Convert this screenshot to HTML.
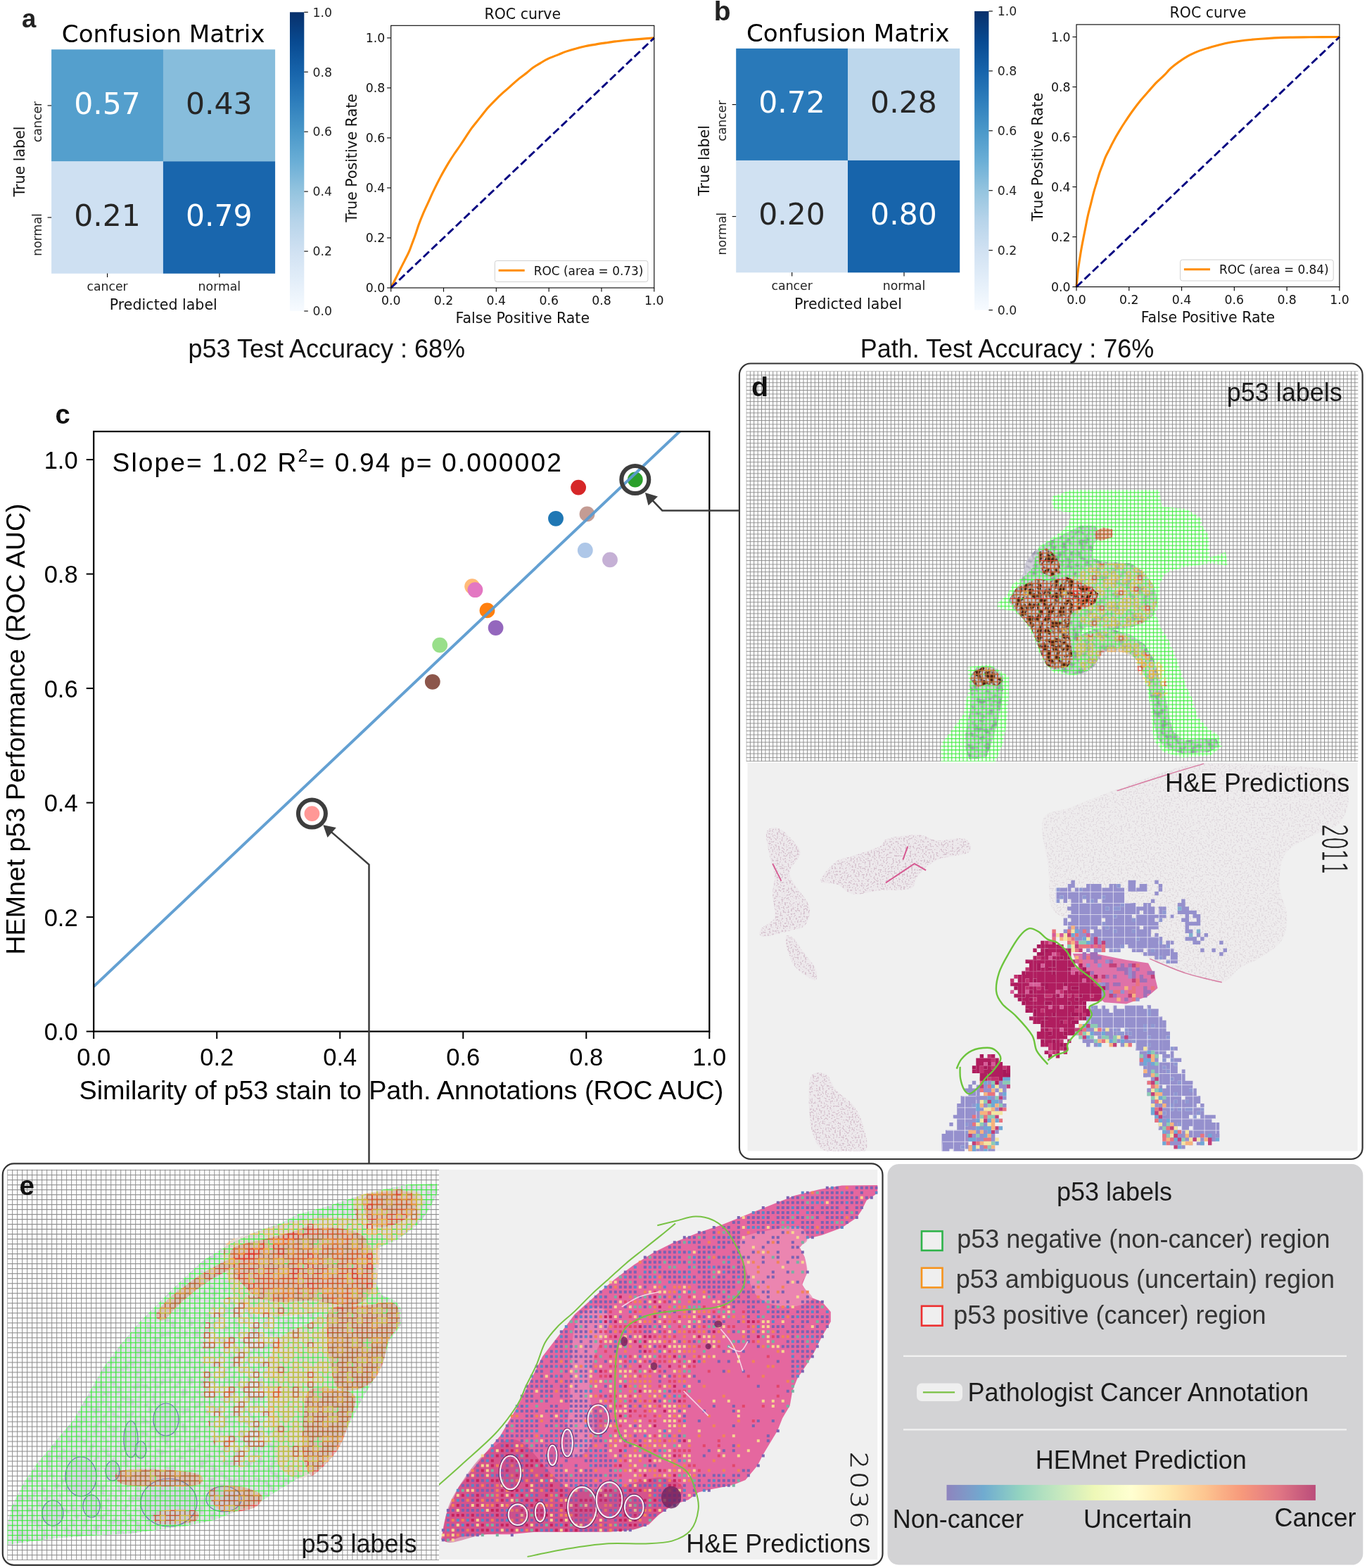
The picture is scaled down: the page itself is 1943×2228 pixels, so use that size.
<!DOCTYPE html>
<html><head><meta charset="utf-8"><title>HEMnet figure</title>
<style>html,body{margin:0;padding:0;background:#fff;}svg{display:block;}</style></head>
<body>
<svg width="1943" height="2228" viewBox="0 0 1943 2228"><defs><linearGradient id="blues" x1="0" y1="1" x2="0" y2="0"><stop offset="0.0" stop-color="#f7fbff"/><stop offset="0.1" stop-color="#e3eef9"/><stop offset="0.2" stop-color="#d0e1f2"/><stop offset="0.3" stop-color="#b7d4ea"/><stop offset="0.4" stop-color="#94c4df"/><stop offset="0.5" stop-color="#6aaed6"/><stop offset="0.6" stop-color="#4a98c9"/><stop offset="0.7" stop-color="#2e7ebc"/><stop offset="0.8" stop-color="#1764ab"/><stop offset="0.9" stop-color="#084a91"/><stop offset="1.0" stop-color="#08306b"/></linearGradient></defs><rect width="1943" height="2228" fill="#fff"/><g transform="translate(0 0)"><rect x="73.1" y="70.3" width="159.10" height="159.30" fill="#549fcd"/><rect x="231.9" y="70.3" width="159.20" height="159.30" fill="#87bddc"/><rect x="73.1" y="229.3" width="159.10" height="159.40" fill="#cee0f2"/><rect x="231.9" y="229.3" width="159.20" height="159.40" fill="#1966ad"/><text x="152.50" y="161.80" text-anchor="middle" fill="#fff" style="font-family:&quot;DejaVu Sans&quot;,sans-serif;font-size:42.5px">0.57</text><text x="311.35" y="161.80" text-anchor="middle" fill="#262626" style="font-family:&quot;DejaVu Sans&quot;,sans-serif;font-size:42.5px">0.43</text><text x="152.50" y="320.90" text-anchor="middle" fill="#262626" style="font-family:&quot;DejaVu Sans&quot;,sans-serif;font-size:42.5px">0.21</text><text x="311.35" y="320.90" text-anchor="middle" fill="#fff" style="font-family:&quot;DejaVu Sans&quot;,sans-serif;font-size:42.5px">0.79</text><g stroke="#000" stroke-width="1.1"><line x1="67.6" y1="150.0" x2="73.1" y2="150.0"/><line x1="67.6" y1="309.0" x2="73.1" y2="309.0"/><line x1="152.6" y1="388.4" x2="152.6" y2="394.0"/><line x1="311.9" y1="388.4" x2="311.9" y2="394.0"/></g><text x="232.10" y="60.00" text-anchor="middle" fill="#000" style="font-family:&quot;DejaVu Sans&quot;,sans-serif;font-size:34.2px">Confusion Matrix</text><text x="152.60" y="413.00" text-anchor="middle" fill="#222" style="font-family:&quot;DejaVu Sans&quot;,sans-serif;font-size:17.3px">cancer</text><text x="311.90" y="413.00" text-anchor="middle" fill="#222" style="font-family:&quot;DejaVu Sans&quot;,sans-serif;font-size:17.3px">normal</text><text x="59.00" y="173.00" text-anchor="middle" fill="#222" style="font-family:&quot;DejaVu Sans&quot;,sans-serif;font-size:17.3px" transform="rotate(-90 59.0 173.0)">cancer</text><text x="59.00" y="333.50" text-anchor="middle" fill="#222" style="font-family:&quot;DejaVu Sans&quot;,sans-serif;font-size:17.3px" transform="rotate(-90 59.0 333.5)">normal</text><text x="232.30" y="440.00" text-anchor="middle" fill="#111" style="font-family:&quot;DejaVu Sans&quot;,sans-serif;font-size:20.6px">Predicted label</text><text x="34.80" y="229.50" text-anchor="middle" fill="#111" style="font-family:&quot;DejaVu Sans&quot;,sans-serif;font-size:20.6px" transform="rotate(-90 34.8 229.5)">True label</text><rect x="412" y="17.3" width="20.3" height="424.7" fill="url(#blues)"/><g stroke="#000" stroke-width="1.1"><line x1="432.3" y1="442.00" x2="437.8" y2="442.00"/><line x1="432.3" y1="357.06" x2="437.8" y2="357.06"/><line x1="432.3" y1="272.12" x2="437.8" y2="272.12"/><line x1="432.3" y1="187.18" x2="437.8" y2="187.18"/><line x1="432.3" y1="102.24" x2="437.8" y2="102.24"/><line x1="432.3" y1="17.30" x2="437.8" y2="17.30"/></g><text x="444.60" y="448.30" text-anchor="start" fill="#222" style="font-family:&quot;DejaVu Sans&quot;,sans-serif;font-size:17.3px">0.0</text><text x="444.60" y="363.36" text-anchor="start" fill="#222" style="font-family:&quot;DejaVu Sans&quot;,sans-serif;font-size:17.3px">0.2</text><text x="444.60" y="278.42" text-anchor="start" fill="#222" style="font-family:&quot;DejaVu Sans&quot;,sans-serif;font-size:17.3px">0.4</text><text x="444.60" y="193.48" text-anchor="start" fill="#222" style="font-family:&quot;DejaVu Sans&quot;,sans-serif;font-size:17.3px">0.6</text><text x="444.60" y="108.54" text-anchor="start" fill="#222" style="font-family:&quot;DejaVu Sans&quot;,sans-serif;font-size:17.3px">0.8</text><text x="444.60" y="23.60" text-anchor="start" fill="#222" style="font-family:&quot;DejaVu Sans&quot;,sans-serif;font-size:17.3px">1.0</text></g><g transform="translate(973.1 -1.4)"><rect x="73.1" y="70.3" width="159.10" height="159.30" fill="#2979b9"/><rect x="231.9" y="70.3" width="159.20" height="159.30" fill="#bdd7ec"/><rect x="73.1" y="229.3" width="159.10" height="159.40" fill="#d0e1f2"/><rect x="231.9" y="229.3" width="159.20" height="159.40" fill="#1764ab"/><text x="152.50" y="161.80" text-anchor="middle" fill="#fff" style="font-family:&quot;DejaVu Sans&quot;,sans-serif;font-size:42.5px">0.72</text><text x="311.35" y="161.80" text-anchor="middle" fill="#262626" style="font-family:&quot;DejaVu Sans&quot;,sans-serif;font-size:42.5px">0.28</text><text x="152.50" y="320.90" text-anchor="middle" fill="#262626" style="font-family:&quot;DejaVu Sans&quot;,sans-serif;font-size:42.5px">0.20</text><text x="311.35" y="320.90" text-anchor="middle" fill="#fff" style="font-family:&quot;DejaVu Sans&quot;,sans-serif;font-size:42.5px">0.80</text><g stroke="#000" stroke-width="1.1"><line x1="67.6" y1="150.0" x2="73.1" y2="150.0"/><line x1="67.6" y1="309.0" x2="73.1" y2="309.0"/><line x1="152.6" y1="388.4" x2="152.6" y2="394.0"/><line x1="311.9" y1="388.4" x2="311.9" y2="394.0"/></g><text x="232.10" y="60.00" text-anchor="middle" fill="#000" style="font-family:&quot;DejaVu Sans&quot;,sans-serif;font-size:34.2px">Confusion Matrix</text><text x="152.60" y="413.00" text-anchor="middle" fill="#222" style="font-family:&quot;DejaVu Sans&quot;,sans-serif;font-size:17.3px">cancer</text><text x="311.90" y="413.00" text-anchor="middle" fill="#222" style="font-family:&quot;DejaVu Sans&quot;,sans-serif;font-size:17.3px">normal</text><text x="59.00" y="173.00" text-anchor="middle" fill="#222" style="font-family:&quot;DejaVu Sans&quot;,sans-serif;font-size:17.3px" transform="rotate(-90 59.0 173.0)">cancer</text><text x="59.00" y="333.50" text-anchor="middle" fill="#222" style="font-family:&quot;DejaVu Sans&quot;,sans-serif;font-size:17.3px" transform="rotate(-90 59.0 333.5)">normal</text><text x="232.30" y="440.00" text-anchor="middle" fill="#111" style="font-family:&quot;DejaVu Sans&quot;,sans-serif;font-size:20.6px">Predicted label</text><text x="34.80" y="229.50" text-anchor="middle" fill="#111" style="font-family:&quot;DejaVu Sans&quot;,sans-serif;font-size:20.6px" transform="rotate(-90 34.8 229.5)">True label</text><rect x="412" y="17.3" width="20.3" height="424.7" fill="url(#blues)"/><g stroke="#000" stroke-width="1.1"><line x1="432.3" y1="442.00" x2="437.8" y2="442.00"/><line x1="432.3" y1="357.06" x2="437.8" y2="357.06"/><line x1="432.3" y1="272.12" x2="437.8" y2="272.12"/><line x1="432.3" y1="187.18" x2="437.8" y2="187.18"/><line x1="432.3" y1="102.24" x2="437.8" y2="102.24"/><line x1="432.3" y1="17.30" x2="437.8" y2="17.30"/></g><text x="444.60" y="448.30" text-anchor="start" fill="#222" style="font-family:&quot;DejaVu Sans&quot;,sans-serif;font-size:17.3px">0.0</text><text x="444.60" y="363.36" text-anchor="start" fill="#222" style="font-family:&quot;DejaVu Sans&quot;,sans-serif;font-size:17.3px">0.2</text><text x="444.60" y="278.42" text-anchor="start" fill="#222" style="font-family:&quot;DejaVu Sans&quot;,sans-serif;font-size:17.3px">0.4</text><text x="444.60" y="193.48" text-anchor="start" fill="#222" style="font-family:&quot;DejaVu Sans&quot;,sans-serif;font-size:17.3px">0.6</text><text x="444.60" y="108.54" text-anchor="start" fill="#222" style="font-family:&quot;DejaVu Sans&quot;,sans-serif;font-size:17.3px">0.8</text><text x="444.60" y="23.60" text-anchor="start" fill="#222" style="font-family:&quot;DejaVu Sans&quot;,sans-serif;font-size:17.3px">1.0</text></g><path d="M555.7,409.0 C556.8,406.9 560.1,400.2 562.1,396.2 C564.1,392.2 565.6,389.2 567.7,385.0 C569.8,380.8 572.3,375.7 574.7,371.1 C577.0,366.4 579.8,361.3 581.6,357.1 C583.5,352.9 584.4,349.7 585.8,346.0 C587.2,342.2 588.4,339.4 590.0,334.8 C591.6,330.2 593.7,323.2 595.6,318.1 C597.5,312.9 599.1,309.0 601.2,304.1 C603.3,299.2 605.8,293.9 608.1,288.8 C610.5,283.7 612.1,279.7 615.1,273.4 C618.1,267.2 622.6,258.1 626.3,251.1 C630.0,244.1 634.2,237.0 637.4,231.6 C640.7,226.2 643.0,222.7 645.8,218.5 C648.6,214.3 651.4,210.6 654.2,206.5 C657.0,202.4 659.8,198.1 662.5,193.9 C665.3,189.7 667.7,185.8 670.9,181.4 C674.2,177.0 678.4,172.1 682.1,167.4 C685.8,162.8 689.5,157.8 693.2,153.5 C697.0,149.2 700.7,145.5 704.4,141.8 C708.1,138.0 711.8,134.6 715.6,131.2 C719.3,127.8 723.0,124.7 726.7,121.4 C730.4,118.2 734.1,114.7 737.9,111.6 C741.6,108.6 745.8,105.8 749.0,103.3 C752.3,100.7 754.1,98.6 757.4,96.3 C760.7,94.0 764.8,91.5 768.6,89.3 C772.3,87.1 775.5,85.1 779.7,83.2 C783.9,81.2 789.5,79.3 793.7,77.6 C797.8,75.9 800.6,74.6 804.8,73.1 C809.0,71.7 814.1,70.2 818.8,69.0 C823.4,67.7 828.1,66.6 832.7,65.6 C837.4,64.6 842.0,63.9 846.7,63.1 C851.3,62.3 856.0,61.6 860.6,60.9 C865.3,60.2 869.9,59.5 874.6,58.9 C879.2,58.3 882.9,57.8 888.5,57.2 C894.1,56.7 901.2,56.1 908.0,55.6 C914.9,55.0 926.2,54.2 929.8,53.9" fill="none" stroke="#ff8c00" stroke-width="3.1" stroke-linejoin="round"/><line x1="555.7" y1="409.0" x2="929.8" y2="53.9" stroke="#000080" stroke-width="2.9" stroke-dasharray="11.1 4.8"/><rect x="555.7" y="36.3" width="374.10" height="372.70" fill="none" stroke="#000" stroke-width="1.1"/><g stroke="#000" stroke-width="1.1"><line x1="555.70" y1="409.0" x2="555.70" y2="414.6"/><line x1="550.1" y1="409.00" x2="555.7" y2="409.00"/><line x1="630.52" y1="409.0" x2="630.52" y2="414.6"/><line x1="550.1" y1="337.98" x2="555.7" y2="337.98"/><line x1="705.34" y1="409.0" x2="705.34" y2="414.6"/><line x1="550.1" y1="266.96" x2="555.7" y2="266.96"/><line x1="780.16" y1="409.0" x2="780.16" y2="414.6"/><line x1="550.1" y1="195.94" x2="555.7" y2="195.94"/><line x1="854.98" y1="409.0" x2="854.98" y2="414.6"/><line x1="550.1" y1="124.92" x2="555.7" y2="124.92"/><line x1="929.80" y1="409.0" x2="929.80" y2="414.6"/><line x1="550.1" y1="53.90" x2="555.7" y2="53.90"/></g><text x="555.70" y="433.00" text-anchor="middle" fill="#111" style="font-family:&quot;DejaVu Sans&quot;,sans-serif;font-size:17.3px">0.0</text><text x="547.20" y="415.30" text-anchor="end" fill="#111" style="font-family:&quot;DejaVu Sans&quot;,sans-serif;font-size:17.3px">0.0</text><text x="630.52" y="433.00" text-anchor="middle" fill="#111" style="font-family:&quot;DejaVu Sans&quot;,sans-serif;font-size:17.3px">0.2</text><text x="547.20" y="344.28" text-anchor="end" fill="#111" style="font-family:&quot;DejaVu Sans&quot;,sans-serif;font-size:17.3px">0.2</text><text x="705.34" y="433.00" text-anchor="middle" fill="#111" style="font-family:&quot;DejaVu Sans&quot;,sans-serif;font-size:17.3px">0.4</text><text x="547.20" y="273.26" text-anchor="end" fill="#111" style="font-family:&quot;DejaVu Sans&quot;,sans-serif;font-size:17.3px">0.4</text><text x="780.16" y="433.00" text-anchor="middle" fill="#111" style="font-family:&quot;DejaVu Sans&quot;,sans-serif;font-size:17.3px">0.6</text><text x="547.20" y="202.24" text-anchor="end" fill="#111" style="font-family:&quot;DejaVu Sans&quot;,sans-serif;font-size:17.3px">0.6</text><text x="854.98" y="433.00" text-anchor="middle" fill="#111" style="font-family:&quot;DejaVu Sans&quot;,sans-serif;font-size:17.3px">0.8</text><text x="547.20" y="131.22" text-anchor="end" fill="#111" style="font-family:&quot;DejaVu Sans&quot;,sans-serif;font-size:17.3px">0.8</text><text x="929.80" y="433.00" text-anchor="middle" fill="#111" style="font-family:&quot;DejaVu Sans&quot;,sans-serif;font-size:17.3px">1.0</text><text x="547.20" y="60.20" text-anchor="end" fill="#111" style="font-family:&quot;DejaVu Sans&quot;,sans-serif;font-size:17.3px">1.0</text><text x="742.75" y="26.50" text-anchor="middle" fill="#111" style="font-family:&quot;DejaVu Sans&quot;,sans-serif;font-size:20.5px">ROC curve</text><text x="742.75" y="459.00" text-anchor="middle" fill="#111" style="font-family:&quot;DejaVu Sans&quot;,sans-serif;font-size:20.5px">False Positive Rate</text><text x="507.50" y="224.45" text-anchor="middle" fill="#111" style="font-family:&quot;DejaVu Sans&quot;,sans-serif;font-size:20.5px" transform="rotate(-90 507.50000000000006 224.45000000000002)">True Positive Rate</text><rect x="703.3000000000001" y="370.5" width="217.6" height="29.9" rx="3" fill="#fff" fill-opacity="0.8" stroke="#d0d0d0" stroke-width="1"/><line x1="708.6" y1="384.2" x2="745.7" y2="384.2" stroke="#ff8c00" stroke-width="3.1"/><text x="758.80" y="390.60" text-anchor="start" fill="#111" style="font-family:&quot;DejaVu Sans&quot;,sans-serif;font-size:16.9px">ROC (area = 0.73)</text><path d="M1530.0,407.6 C1530.2,405.7 1530.7,399.9 1531.1,396.2 C1531.5,392.4 1531.7,389.2 1532.2,385.0 C1532.7,380.8 1533.5,375.7 1534.2,371.1 C1534.9,366.4 1535.7,361.3 1536.4,357.1 C1537.1,352.9 1537.7,349.7 1538.4,346.0 C1539.1,342.2 1539.8,339.0 1540.6,334.8 C1541.4,330.6 1542.5,325.5 1543.4,320.8 C1544.3,316.2 1545.0,312.0 1546.2,306.9 C1547.3,301.8 1549.0,295.7 1550.4,290.2 C1551.8,284.6 1553.2,278.5 1554.6,273.4 C1555.9,268.3 1557.3,264.1 1558.7,259.5 C1560.1,254.8 1561.5,249.7 1562.9,245.5 C1564.3,241.3 1565.7,238.1 1567.1,234.4 C1568.5,230.7 1569.7,226.9 1571.3,223.2 C1572.9,219.5 1575.0,215.8 1576.9,212.1 C1578.7,208.3 1580.1,205.2 1582.5,200.9 C1584.8,196.6 1588.0,191.0 1590.8,186.4 C1593.6,181.7 1595.9,177.9 1599.2,173.0 C1602.5,168.1 1606.6,161.9 1610.4,156.8 C1614.1,151.7 1617.8,146.9 1621.5,142.3 C1625.2,137.8 1629.0,133.7 1632.7,129.5 C1636.4,125.3 1640.1,121.0 1643.8,117.2 C1647.6,113.4 1651.8,109.9 1655.0,106.6 C1658.3,103.4 1660.1,100.7 1663.4,97.7 C1666.6,94.7 1670.4,91.8 1674.5,88.8 C1678.7,85.7 1683.8,82.2 1688.5,79.6 C1693.1,77.0 1697.8,75.0 1702.4,73.1 C1707.1,71.3 1711.3,70.0 1716.4,68.4 C1721.5,66.8 1727.6,65.1 1733.1,63.7 C1738.7,62.3 1743.8,61.1 1749.9,60.0 C1755.9,59.0 1762.4,58.0 1769.4,57.2 C1776.4,56.5 1784.8,55.8 1791.7,55.3 C1798.7,54.7 1804.3,54.3 1811.3,53.9 C1818.2,53.5 1825.2,53.2 1833.6,53.1 C1842.0,52.9 1849.8,52.9 1861.5,52.8 C1873.2,52.7 1896.8,52.5 1903.9,52.5" fill="none" stroke="#ff8c00" stroke-width="3.1" stroke-linejoin="round"/><line x1="1530.0" y1="407.6" x2="1903.9" y2="52.5" stroke="#000080" stroke-width="2.9" stroke-dasharray="11.1 4.8"/><rect x="1530.0" y="34.9" width="373.90" height="372.70" fill="none" stroke="#000" stroke-width="1.1"/><g stroke="#000" stroke-width="1.1"><line x1="1530.00" y1="407.6" x2="1530.00" y2="413.20000000000005"/><line x1="1524.4" y1="407.60" x2="1530.0" y2="407.60"/><line x1="1604.78" y1="407.6" x2="1604.78" y2="413.20000000000005"/><line x1="1524.4" y1="336.58" x2="1530.0" y2="336.58"/><line x1="1679.56" y1="407.6" x2="1679.56" y2="413.20000000000005"/><line x1="1524.4" y1="265.56" x2="1530.0" y2="265.56"/><line x1="1754.34" y1="407.6" x2="1754.34" y2="413.20000000000005"/><line x1="1524.4" y1="194.54" x2="1530.0" y2="194.54"/><line x1="1829.12" y1="407.6" x2="1829.12" y2="413.20000000000005"/><line x1="1524.4" y1="123.52" x2="1530.0" y2="123.52"/><line x1="1903.90" y1="407.6" x2="1903.90" y2="413.20000000000005"/><line x1="1524.4" y1="52.50" x2="1530.0" y2="52.50"/></g><text x="1530.00" y="431.60" text-anchor="middle" fill="#111" style="font-family:&quot;DejaVu Sans&quot;,sans-serif;font-size:17.3px">0.0</text><text x="1521.50" y="413.90" text-anchor="end" fill="#111" style="font-family:&quot;DejaVu Sans&quot;,sans-serif;font-size:17.3px">0.0</text><text x="1604.78" y="431.60" text-anchor="middle" fill="#111" style="font-family:&quot;DejaVu Sans&quot;,sans-serif;font-size:17.3px">0.2</text><text x="1521.50" y="342.88" text-anchor="end" fill="#111" style="font-family:&quot;DejaVu Sans&quot;,sans-serif;font-size:17.3px">0.2</text><text x="1679.56" y="431.60" text-anchor="middle" fill="#111" style="font-family:&quot;DejaVu Sans&quot;,sans-serif;font-size:17.3px">0.4</text><text x="1521.50" y="271.86" text-anchor="end" fill="#111" style="font-family:&quot;DejaVu Sans&quot;,sans-serif;font-size:17.3px">0.4</text><text x="1754.34" y="431.60" text-anchor="middle" fill="#111" style="font-family:&quot;DejaVu Sans&quot;,sans-serif;font-size:17.3px">0.6</text><text x="1521.50" y="200.84" text-anchor="end" fill="#111" style="font-family:&quot;DejaVu Sans&quot;,sans-serif;font-size:17.3px">0.6</text><text x="1829.12" y="431.60" text-anchor="middle" fill="#111" style="font-family:&quot;DejaVu Sans&quot;,sans-serif;font-size:17.3px">0.8</text><text x="1521.50" y="129.82" text-anchor="end" fill="#111" style="font-family:&quot;DejaVu Sans&quot;,sans-serif;font-size:17.3px">0.8</text><text x="1903.90" y="431.60" text-anchor="middle" fill="#111" style="font-family:&quot;DejaVu Sans&quot;,sans-serif;font-size:17.3px">1.0</text><text x="1521.50" y="58.80" text-anchor="end" fill="#111" style="font-family:&quot;DejaVu Sans&quot;,sans-serif;font-size:17.3px">1.0</text><text x="1716.95" y="25.10" text-anchor="middle" fill="#111" style="font-family:&quot;DejaVu Sans&quot;,sans-serif;font-size:20.5px">ROC curve</text><text x="1716.95" y="457.60" text-anchor="middle" fill="#111" style="font-family:&quot;DejaVu Sans&quot;,sans-serif;font-size:20.5px">False Positive Rate</text><text x="1481.80" y="223.05" text-anchor="middle" fill="#111" style="font-family:&quot;DejaVu Sans&quot;,sans-serif;font-size:20.5px" transform="rotate(-90 1481.8 223.05)">True Positive Rate</text><rect x="1677.6" y="369.1" width="217.6" height="29.9" rx="3" fill="#fff" fill-opacity="0.8" stroke="#d0d0d0" stroke-width="1"/><line x1="1682.9" y1="382.8" x2="1720.0" y2="382.8" stroke="#ff8c00" stroke-width="3.1"/><text x="1733.10" y="389.20" text-anchor="start" fill="#111" style="font-family:&quot;DejaVu Sans&quot;,sans-serif;font-size:16.9px">ROC (area = 0.84)</text><clipPath id="cax"><rect x="133.2" y="613.1" width="875.1" height="852.5"/></clipPath><circle cx="614.8" cy="968.8" r="10.9" fill="#8c564b"/><circle cx="625.2" cy="916.6" r="10.9" fill="#98df8a"/><circle cx="671.1" cy="833.2" r="10.9" fill="#ffbb78"/><circle cx="675.4" cy="838.2" r="10.9" fill="#e377c2"/><circle cx="692.5" cy="867.4" r="10.9" fill="#ff7f0e"/><circle cx="704.6" cy="892.1" r="10.9" fill="#9467bd"/><circle cx="790.0" cy="736.8" r="10.9" fill="#1f77b4"/><circle cx="834.5" cy="730.4" r="10.9" fill="#c49c94"/><circle cx="831.8" cy="782.0" r="10.9" fill="#aec7e8"/><circle cx="867.0" cy="795.4" r="10.9" fill="#c5b0d5"/><circle cx="822.1" cy="692.6" r="10.9" fill="#d62728"/><circle cx="902.8" cy="681.5" r="10.9" fill="#2ca02c"/><circle cx="443.4" cy="1156.1" r="10.9" fill="#ff9896"/><line x1="133.20" y1="1401.82" x2="1008.30" y2="573.07" stroke="#5b9bd0" stroke-width="4" clip-path="url(#cax)" stroke-opacity="0.95"/><circle cx="443.4" cy="1156.1" r="19.5" fill="none" stroke="#3d3d3d" stroke-width="6"/><circle cx="902.8" cy="681.5" r="19.5" fill="none" stroke="#3d3d3d" stroke-width="6"/><rect x="133.2" y="613.1" width="875.1" height="852.5" fill="none" stroke="#000" stroke-width="2.2"/><g stroke="#000" stroke-width="2"><line x1="133.20" y1="1465.6" x2="133.20" y2="1476.1"/><line x1="122.69999999999999" y1="1465.60" x2="133.2" y2="1465.60"/><line x1="308.22" y1="1465.6" x2="308.22" y2="1476.1"/><line x1="122.69999999999999" y1="1303.10" x2="133.2" y2="1303.10"/><line x1="483.24" y1="1465.6" x2="483.24" y2="1476.1"/><line x1="122.69999999999999" y1="1140.60" x2="133.2" y2="1140.60"/><line x1="658.26" y1="1465.6" x2="658.26" y2="1476.1"/><line x1="122.69999999999999" y1="978.10" x2="133.2" y2="978.10"/><line x1="833.28" y1="1465.6" x2="833.28" y2="1476.1"/><line x1="122.69999999999999" y1="815.60" x2="133.2" y2="815.60"/><line x1="1008.30" y1="1465.6" x2="1008.30" y2="1476.1"/><line x1="122.69999999999999" y1="653.10" x2="133.2" y2="653.10"/></g><text x="133.20" y="1514.00" text-anchor="middle" fill="#000" style="font-family:&quot;Liberation Sans&quot;,Arial,sans-serif;font-size:34.5px">0.0</text><text x="110.60" y="1478.00" text-anchor="end" fill="#000" style="font-family:&quot;Liberation Sans&quot;,Arial,sans-serif;font-size:34.5px">0.0</text><text x="308.22" y="1514.00" text-anchor="middle" fill="#000" style="font-family:&quot;Liberation Sans&quot;,Arial,sans-serif;font-size:34.5px">0.2</text><text x="110.60" y="1315.50" text-anchor="end" fill="#000" style="font-family:&quot;Liberation Sans&quot;,Arial,sans-serif;font-size:34.5px">0.2</text><text x="483.24" y="1514.00" text-anchor="middle" fill="#000" style="font-family:&quot;Liberation Sans&quot;,Arial,sans-serif;font-size:34.5px">0.4</text><text x="110.60" y="1153.00" text-anchor="end" fill="#000" style="font-family:&quot;Liberation Sans&quot;,Arial,sans-serif;font-size:34.5px">0.4</text><text x="658.26" y="1514.00" text-anchor="middle" fill="#000" style="font-family:&quot;Liberation Sans&quot;,Arial,sans-serif;font-size:34.5px">0.6</text><text x="110.60" y="990.50" text-anchor="end" fill="#000" style="font-family:&quot;Liberation Sans&quot;,Arial,sans-serif;font-size:34.5px">0.6</text><text x="833.28" y="1514.00" text-anchor="middle" fill="#000" style="font-family:&quot;Liberation Sans&quot;,Arial,sans-serif;font-size:34.5px">0.8</text><text x="110.60" y="828.00" text-anchor="end" fill="#000" style="font-family:&quot;Liberation Sans&quot;,Arial,sans-serif;font-size:34.5px">0.8</text><text x="1008.30" y="1514.00" text-anchor="middle" fill="#000" style="font-family:&quot;Liberation Sans&quot;,Arial,sans-serif;font-size:34.5px">1.0</text><text x="110.60" y="665.50" text-anchor="end" fill="#000" style="font-family:&quot;Liberation Sans&quot;,Arial,sans-serif;font-size:34.5px">1.0</text><text x="570.40" y="1561.80" text-anchor="middle" fill="#000" style="font-family:&quot;Liberation Sans&quot;,Arial,sans-serif;font-size:37.8px">Similarity of p53 stain to Path. Annotations (ROC AUC)</text><text x="35.20" y="1036.00" text-anchor="middle" fill="#000" style="font-family:&quot;Liberation Sans&quot;,Arial,sans-serif;font-size:37.6px" transform="rotate(-90 35.2 1036.0)">HEMnet p53 Performance (ROC AUC)</text><text x="159.50" y="670.30" text-anchor="start" fill="#000" style="font-family:&quot;Liberation Sans&quot;,Arial,sans-serif;font-size:37.2px;letter-spacing:2.1px">Slope= 1.02 R<tspan dy="-14.5" style="font-size:25px">2</tspan><tspan dy="14.5">= 0.94 p= 0.000002</tspan></text><text x="78.50" y="601.80" text-anchor="start" fill="#111" style="font-family:&quot;Liberation Sans&quot;,Arial,sans-serif;font-size:38px;font-weight:bold">c</text><polyline points="524.5,1653 524.5,1228.5 468,1179.6" fill="none" stroke="#3d3d3d" stroke-width="2.5"/><polygon points="459.3,1172.2 477.8,1175.9 465.5,1190" fill="#3d3d3d"/><polyline points="1050,725.4 941.3,725.4 923.5,706.9" fill="none" stroke="#3d3d3d" stroke-width="2.5"/><polygon points="916.9,700.0 934.97,705.38 921.55,718.27" fill="#3d3d3d"/><defs><pattern id="gridD" x="1060.4" y="527.2" width="5.406" height="5.379" patternUnits="userSpaceOnUse"><path d="M0.5,0 V5.379 M0,0.5 H5.406" stroke="#8c8c8c" stroke-width="1.0" fill="none"/></pattern><pattern id="gridDg" x="1060.4" y="527.2" width="5.406" height="5.379" patternUnits="userSpaceOnUse"><path d="M0.5,0 V5.379 M0,0.5 H5.406" stroke="#3aea3a" stroke-width="1.15" fill="none"/></pattern><pattern id="gridE" x="10.2" y="1661.9" width="7.003" height="7.013" patternUnits="userSpaceOnUse"><path d="M0.5,0 V7.013 M0,0.5 H7.003" stroke="#8c8c8c" stroke-width="1.0" fill="none"/></pattern><pattern id="gridEg" x="10.2" y="1661.9" width="7.003" height="7.013" patternUnits="userSpaceOnUse"><path d="M0.5,0 V7.013 M0,0.5 H7.003" stroke="#33e833" stroke-width="1.3" fill="none"/></pattern><pattern id="zDr" x="1060.4" y="527.2" width="54.060" height="53.790" patternUnits="userSpaceOnUse"><path d="M0.50,0.50h5.41v5.38h-5.41zM5.91,0.50h5.41v5.38h-5.41zM16.72,0.50h5.41v5.38h-5.41zM22.12,0.50h5.41v5.38h-5.41zM27.53,0.50h5.41v5.38h-5.41zM32.94,0.50h5.41v5.38h-5.41zM38.34,0.50h5.41v5.38h-5.41zM43.75,0.50h5.41v5.38h-5.41zM49.15,0.50h5.41v5.38h-5.41zM0.50,5.88h5.41v5.38h-5.41zM5.91,5.88h5.41v5.38h-5.41zM11.31,5.88h5.41v5.38h-5.41zM16.72,5.88h5.41v5.38h-5.41zM22.12,5.88h5.41v5.38h-5.41zM27.53,5.88h5.41v5.38h-5.41zM43.75,5.88h5.41v5.38h-5.41zM49.15,5.88h5.41v5.38h-5.41zM0.50,11.26h5.41v5.38h-5.41zM5.91,11.26h5.41v5.38h-5.41zM11.31,11.26h5.41v5.38h-5.41zM16.72,11.26h5.41v5.38h-5.41zM22.12,11.26h5.41v5.38h-5.41zM27.53,11.26h5.41v5.38h-5.41zM32.94,11.26h5.41v5.38h-5.41zM38.34,11.26h5.41v5.38h-5.41zM43.75,11.26h5.41v5.38h-5.41zM49.15,11.26h5.41v5.38h-5.41zM0.50,16.64h5.41v5.38h-5.41zM5.91,16.64h5.41v5.38h-5.41zM11.31,16.64h5.41v5.38h-5.41zM16.72,16.64h5.41v5.38h-5.41zM22.12,16.64h5.41v5.38h-5.41zM27.53,16.64h5.41v5.38h-5.41zM43.75,16.64h5.41v5.38h-5.41zM49.15,16.64h5.41v5.38h-5.41zM0.50,22.02h5.41v5.38h-5.41zM5.91,22.02h5.41v5.38h-5.41zM11.31,22.02h5.41v5.38h-5.41zM16.72,22.02h5.41v5.38h-5.41zM22.12,22.02h5.41v5.38h-5.41zM27.53,22.02h5.41v5.38h-5.41zM32.94,22.02h5.41v5.38h-5.41zM38.34,22.02h5.41v5.38h-5.41zM49.15,22.02h5.41v5.38h-5.41zM0.50,27.39h5.41v5.38h-5.41zM5.91,27.39h5.41v5.38h-5.41zM16.72,27.39h5.41v5.38h-5.41zM27.53,27.39h5.41v5.38h-5.41zM32.94,27.39h5.41v5.38h-5.41zM38.34,27.39h5.41v5.38h-5.41zM43.75,27.39h5.41v5.38h-5.41zM49.15,27.39h5.41v5.38h-5.41zM0.50,32.77h5.41v5.38h-5.41zM5.91,32.77h5.41v5.38h-5.41zM16.72,32.77h5.41v5.38h-5.41zM22.12,32.77h5.41v5.38h-5.41zM27.53,32.77h5.41v5.38h-5.41zM32.94,32.77h5.41v5.38h-5.41zM38.34,32.77h5.41v5.38h-5.41zM43.75,32.77h5.41v5.38h-5.41zM49.15,32.77h5.41v5.38h-5.41zM0.50,38.15h5.41v5.38h-5.41zM5.91,38.15h5.41v5.38h-5.41zM11.31,38.15h5.41v5.38h-5.41zM16.72,38.15h5.41v5.38h-5.41zM22.12,38.15h5.41v5.38h-5.41zM27.53,38.15h5.41v5.38h-5.41zM32.94,38.15h5.41v5.38h-5.41zM38.34,38.15h5.41v5.38h-5.41zM43.75,38.15h5.41v5.38h-5.41zM49.15,38.15h5.41v5.38h-5.41zM5.91,43.53h5.41v5.38h-5.41zM11.31,43.53h5.41v5.38h-5.41zM22.12,43.53h5.41v5.38h-5.41zM27.53,43.53h5.41v5.38h-5.41zM32.94,43.53h5.41v5.38h-5.41zM38.34,43.53h5.41v5.38h-5.41zM43.75,43.53h5.41v5.38h-5.41zM0.50,48.91h5.41v5.38h-5.41zM5.91,48.91h5.41v5.38h-5.41zM11.31,48.91h5.41v5.38h-5.41zM16.72,48.91h5.41v5.38h-5.41zM22.12,48.91h5.41v5.38h-5.41zM27.53,48.91h5.41v5.38h-5.41zM32.94,48.91h5.41v5.38h-5.41zM38.34,48.91h5.41v5.38h-5.41zM43.75,48.91h5.41v5.38h-5.41zM49.15,48.91h5.41v5.38h-5.41z" fill="none" stroke="#e8282a" stroke-width="1.0"/><path d="M16.72,43.53h5.41v5.38h-5.41z" fill="none" stroke="#f5a83a" stroke-width="1.0"/></pattern><pattern id="zDo" x="1060.4" y="527.2" width="64.872" height="64.548" patternUnits="userSpaceOnUse"><path d="M16.72,0.50h5.41v5.38h-5.41zM22.12,0.50h5.41v5.38h-5.41zM32.94,0.50h5.41v5.38h-5.41zM0.50,5.88h5.41v5.38h-5.41zM11.31,5.88h5.41v5.38h-5.41zM22.12,5.88h5.41v5.38h-5.41zM32.94,5.88h5.41v5.38h-5.41zM59.97,5.88h5.41v5.38h-5.41zM0.50,11.26h5.41v5.38h-5.41zM16.72,11.26h5.41v5.38h-5.41zM32.94,11.26h5.41v5.38h-5.41zM43.75,11.26h5.41v5.38h-5.41zM59.97,11.26h5.41v5.38h-5.41zM5.91,16.64h5.41v5.38h-5.41zM11.31,16.64h5.41v5.38h-5.41zM49.15,16.64h5.41v5.38h-5.41zM32.94,22.02h5.41v5.38h-5.41zM38.34,22.02h5.41v5.38h-5.41zM0.50,27.39h5.41v5.38h-5.41zM22.12,27.39h5.41v5.38h-5.41zM43.75,27.39h5.41v5.38h-5.41zM54.56,27.39h5.41v5.38h-5.41zM0.50,32.77h5.41v5.38h-5.41zM5.91,32.77h5.41v5.38h-5.41zM22.12,32.77h5.41v5.38h-5.41zM32.94,32.77h5.41v5.38h-5.41zM0.50,38.15h5.41v5.38h-5.41zM16.72,38.15h5.41v5.38h-5.41zM32.94,38.15h5.41v5.38h-5.41zM38.34,38.15h5.41v5.38h-5.41zM54.56,38.15h5.41v5.38h-5.41zM59.97,38.15h5.41v5.38h-5.41zM0.50,43.53h5.41v5.38h-5.41zM27.53,43.53h5.41v5.38h-5.41zM54.56,43.53h5.41v5.38h-5.41zM11.31,48.91h5.41v5.38h-5.41zM27.53,48.91h5.41v5.38h-5.41zM43.75,48.91h5.41v5.38h-5.41zM5.91,54.29h5.41v5.38h-5.41zM16.72,54.29h5.41v5.38h-5.41zM32.94,54.29h5.41v5.38h-5.41zM49.15,54.29h5.41v5.38h-5.41z" fill="none" stroke="#f5a83a" stroke-width="1.0"/><path d="M49.15,11.26h5.41v5.38h-5.41zM38.34,32.77h5.41v5.38h-5.41zM32.94,48.91h5.41v5.38h-5.41zM11.31,54.29h5.41v5.38h-5.41z" fill="none" stroke="#e8282a" stroke-width="1.0"/></pattern><pattern id="zDo2" x="1060.4" y="527.2" width="64.872" height="64.548" patternUnits="userSpaceOnUse"><path d="M22.12,0.50h5.41v5.38h-5.41zM54.56,16.64h5.41v5.38h-5.41zM43.75,22.02h5.41v5.38h-5.41zM11.31,32.77h5.41v5.38h-5.41zM0.50,59.67h5.41v5.38h-5.41zM49.15,59.67h5.41v5.38h-5.41z" fill="none" stroke="#e8282a" stroke-width="1.0"/><path d="M32.94,0.50h5.41v5.38h-5.41zM49.15,0.50h5.41v5.38h-5.41zM22.12,5.88h5.41v5.38h-5.41zM32.94,5.88h5.41v5.38h-5.41zM59.97,11.26h5.41v5.38h-5.41zM32.94,16.64h5.41v5.38h-5.41zM49.15,16.64h5.41v5.38h-5.41zM22.12,22.02h5.41v5.38h-5.41zM54.56,22.02h5.41v5.38h-5.41zM22.12,27.39h5.41v5.38h-5.41zM27.53,27.39h5.41v5.38h-5.41zM49.15,27.39h5.41v5.38h-5.41zM32.94,32.77h5.41v5.38h-5.41zM32.94,38.15h5.41v5.38h-5.41zM43.75,38.15h5.41v5.38h-5.41zM54.56,38.15h5.41v5.38h-5.41zM11.31,43.53h5.41v5.38h-5.41zM27.53,43.53h5.41v5.38h-5.41zM32.94,43.53h5.41v5.38h-5.41zM43.75,43.53h5.41v5.38h-5.41zM0.50,48.91h5.41v5.38h-5.41zM22.12,48.91h5.41v5.38h-5.41zM0.50,54.29h5.41v5.38h-5.41zM11.31,59.67h5.41v5.38h-5.41zM22.12,59.67h5.41v5.38h-5.41zM38.34,59.67h5.41v5.38h-5.41z" fill="none" stroke="#f5a83a" stroke-width="1.0"/></pattern><pattern id="zEr" x="10.2" y="1661.9" width="70.030" height="70.130" patternUnits="userSpaceOnUse"><path d="M0.50,0.50h7.00v7.01h-7.00zM14.51,0.50h7.00v7.01h-7.00zM21.51,0.50h7.00v7.01h-7.00zM28.51,0.50h7.00v7.01h-7.00zM49.52,0.50h7.00v7.01h-7.00zM56.52,0.50h7.00v7.01h-7.00zM63.53,0.50h7.00v7.01h-7.00zM0.50,7.51h7.00v7.01h-7.00zM7.50,7.51h7.00v7.01h-7.00zM14.51,7.51h7.00v7.01h-7.00zM21.51,7.51h7.00v7.01h-7.00zM35.52,7.51h7.00v7.01h-7.00zM42.52,7.51h7.00v7.01h-7.00zM49.52,7.51h7.00v7.01h-7.00zM7.50,14.53h7.00v7.01h-7.00zM14.51,14.53h7.00v7.01h-7.00zM21.51,14.53h7.00v7.01h-7.00zM28.51,14.53h7.00v7.01h-7.00zM35.52,14.53h7.00v7.01h-7.00zM49.52,14.53h7.00v7.01h-7.00zM56.52,14.53h7.00v7.01h-7.00zM0.50,21.54h7.00v7.01h-7.00zM14.51,21.54h7.00v7.01h-7.00zM21.51,21.54h7.00v7.01h-7.00zM28.51,21.54h7.00v7.01h-7.00zM35.52,21.54h7.00v7.01h-7.00zM42.52,21.54h7.00v7.01h-7.00zM49.52,21.54h7.00v7.01h-7.00zM63.53,21.54h7.00v7.01h-7.00zM7.50,28.55h7.00v7.01h-7.00zM42.52,28.55h7.00v7.01h-7.00zM56.52,28.55h7.00v7.01h-7.00zM63.53,28.55h7.00v7.01h-7.00zM7.50,35.56h7.00v7.01h-7.00zM28.51,35.56h7.00v7.01h-7.00zM35.52,35.56h7.00v7.01h-7.00zM42.52,35.56h7.00v7.01h-7.00zM49.52,35.56h7.00v7.01h-7.00zM63.53,35.56h7.00v7.01h-7.00zM0.50,42.58h7.00v7.01h-7.00zM7.50,42.58h7.00v7.01h-7.00zM28.51,42.58h7.00v7.01h-7.00zM35.52,42.58h7.00v7.01h-7.00zM42.52,42.58h7.00v7.01h-7.00zM56.52,42.58h7.00v7.01h-7.00zM63.53,42.58h7.00v7.01h-7.00zM0.50,49.59h7.00v7.01h-7.00zM7.50,49.59h7.00v7.01h-7.00zM14.51,49.59h7.00v7.01h-7.00zM21.51,49.59h7.00v7.01h-7.00zM28.51,49.59h7.00v7.01h-7.00zM42.52,49.59h7.00v7.01h-7.00zM49.52,49.59h7.00v7.01h-7.00zM56.52,49.59h7.00v7.01h-7.00zM63.53,49.59h7.00v7.01h-7.00zM0.50,56.60h7.00v7.01h-7.00zM21.51,56.60h7.00v7.01h-7.00zM56.52,56.60h7.00v7.01h-7.00zM7.50,63.62h7.00v7.01h-7.00zM21.51,63.62h7.00v7.01h-7.00zM28.51,63.62h7.00v7.01h-7.00zM35.52,63.62h7.00v7.01h-7.00zM49.52,63.62h7.00v7.01h-7.00zM56.52,63.62h7.00v7.01h-7.00z" fill="none" stroke="#e8282a" stroke-width="1.0"/><path d="M7.50,0.50h7.00v7.01h-7.00zM35.52,0.50h7.00v7.01h-7.00zM42.52,0.50h7.00v7.01h-7.00zM28.51,7.51h7.00v7.01h-7.00zM63.53,7.51h7.00v7.01h-7.00zM63.53,14.53h7.00v7.01h-7.00zM0.50,28.55h7.00v7.01h-7.00zM28.51,28.55h7.00v7.01h-7.00zM35.52,28.55h7.00v7.01h-7.00zM49.52,28.55h7.00v7.01h-7.00zM0.50,35.56h7.00v7.01h-7.00zM14.51,42.58h7.00v7.01h-7.00zM49.52,42.58h7.00v7.01h-7.00zM7.50,56.60h7.00v7.01h-7.00zM14.51,56.60h7.00v7.01h-7.00zM28.51,56.60h7.00v7.01h-7.00zM35.52,56.60h7.00v7.01h-7.00zM63.53,63.62h7.00v7.01h-7.00z" fill="none" stroke="#f5a83a" stroke-width="1.0"/></pattern><pattern id="zEo" x="10.2" y="1661.9" width="84.036" height="84.156" patternUnits="userSpaceOnUse"><path d="M7.50,0.50h7.00v7.01h-7.00zM14.51,0.50h7.00v7.01h-7.00zM28.51,0.50h7.00v7.01h-7.00zM35.52,0.50h7.00v7.01h-7.00zM49.52,0.50h7.00v7.01h-7.00zM63.53,0.50h7.00v7.01h-7.00zM77.53,0.50h7.00v7.01h-7.00zM35.52,7.51h7.00v7.01h-7.00zM56.52,7.51h7.00v7.01h-7.00zM63.53,7.51h7.00v7.01h-7.00zM42.52,14.53h7.00v7.01h-7.00zM56.52,14.53h7.00v7.01h-7.00zM0.50,21.54h7.00v7.01h-7.00zM21.51,21.54h7.00v7.01h-7.00zM28.51,21.54h7.00v7.01h-7.00zM42.52,21.54h7.00v7.01h-7.00zM70.53,21.54h7.00v7.01h-7.00zM7.50,28.55h7.00v7.01h-7.00zM14.51,28.55h7.00v7.01h-7.00zM28.51,28.55h7.00v7.01h-7.00zM70.53,28.55h7.00v7.01h-7.00zM0.50,35.56h7.00v7.01h-7.00zM14.51,35.56h7.00v7.01h-7.00zM42.52,35.56h7.00v7.01h-7.00zM49.52,35.56h7.00v7.01h-7.00zM63.53,35.56h7.00v7.01h-7.00zM77.53,35.56h7.00v7.01h-7.00zM0.50,42.58h7.00v7.01h-7.00zM7.50,42.58h7.00v7.01h-7.00zM14.51,42.58h7.00v7.01h-7.00zM21.51,42.58h7.00v7.01h-7.00zM49.52,42.58h7.00v7.01h-7.00zM63.53,42.58h7.00v7.01h-7.00zM70.53,42.58h7.00v7.01h-7.00zM77.53,49.59h7.00v7.01h-7.00zM28.51,56.60h7.00v7.01h-7.00zM49.52,56.60h7.00v7.01h-7.00zM56.52,56.60h7.00v7.01h-7.00zM77.53,56.60h7.00v7.01h-7.00zM0.50,63.62h7.00v7.01h-7.00zM14.51,63.62h7.00v7.01h-7.00zM21.51,63.62h7.00v7.01h-7.00zM28.51,63.62h7.00v7.01h-7.00zM35.52,63.62h7.00v7.01h-7.00zM49.52,63.62h7.00v7.01h-7.00zM56.52,63.62h7.00v7.01h-7.00zM63.53,63.62h7.00v7.01h-7.00zM77.53,63.62h7.00v7.01h-7.00zM0.50,70.63h7.00v7.01h-7.00zM28.51,70.63h7.00v7.01h-7.00zM35.52,70.63h7.00v7.01h-7.00zM49.52,70.63h7.00v7.01h-7.00zM56.52,70.63h7.00v7.01h-7.00zM70.53,70.63h7.00v7.01h-7.00zM14.51,77.64h7.00v7.01h-7.00zM21.51,77.64h7.00v7.01h-7.00zM28.51,77.64h7.00v7.01h-7.00zM35.52,77.64h7.00v7.01h-7.00zM49.52,77.64h7.00v7.01h-7.00zM70.53,77.64h7.00v7.01h-7.00z" fill="none" stroke="#f5a83a" stroke-width="1.0"/><path d="M49.52,28.55h7.00v7.01h-7.00zM7.50,35.56h7.00v7.01h-7.00zM7.50,49.59h7.00v7.01h-7.00zM70.53,56.60h7.00v7.01h-7.00zM70.53,63.62h7.00v7.01h-7.00zM7.50,77.64h7.00v7.01h-7.00z" fill="none" stroke="#e8282a" stroke-width="1.0"/></pattern><pattern id="zEo2" x="10.2" y="1661.9" width="70.030" height="70.130" patternUnits="userSpaceOnUse"><path d="M21.51,0.50h7.00v7.01h-7.00zM49.52,0.50h7.00v7.01h-7.00zM56.52,0.50h7.00v7.01h-7.00zM14.51,7.51h7.00v7.01h-7.00zM21.51,7.51h7.00v7.01h-7.00zM63.53,7.51h7.00v7.01h-7.00zM7.50,21.54h7.00v7.01h-7.00zM49.52,21.54h7.00v7.01h-7.00zM56.52,21.54h7.00v7.01h-7.00zM7.50,28.55h7.00v7.01h-7.00zM14.51,28.55h7.00v7.01h-7.00zM21.51,28.55h7.00v7.01h-7.00zM28.51,28.55h7.00v7.01h-7.00zM35.52,35.56h7.00v7.01h-7.00zM28.51,42.58h7.00v7.01h-7.00zM42.52,42.58h7.00v7.01h-7.00zM56.52,42.58h7.00v7.01h-7.00zM0.50,56.60h7.00v7.01h-7.00zM7.50,56.60h7.00v7.01h-7.00zM21.51,56.60h7.00v7.01h-7.00zM49.52,56.60h7.00v7.01h-7.00zM63.53,56.60h7.00v7.01h-7.00z" fill="none" stroke="#f5a83a" stroke-width="1.0"/><path d="M0.50,7.51h7.00v7.01h-7.00zM0.50,21.54h7.00v7.01h-7.00zM63.53,21.54h7.00v7.01h-7.00zM35.52,28.55h7.00v7.01h-7.00zM56.52,28.55h7.00v7.01h-7.00zM0.50,35.56h7.00v7.01h-7.00zM7.50,35.56h7.00v7.01h-7.00zM28.51,35.56h7.00v7.01h-7.00zM63.53,35.56h7.00v7.01h-7.00zM49.52,49.59h7.00v7.01h-7.00zM42.52,56.60h7.00v7.01h-7.00zM14.51,63.62h7.00v7.01h-7.00zM42.52,63.62h7.00v7.01h-7.00z" fill="none" stroke="#e8282a" stroke-width="1.0"/></pattern><pattern id="tileP" x="1060.4" y="527.2" width="54.060" height="53.790" patternUnits="userSpaceOnUse"><rect width="54.060" height="53.790" fill="#e6e4ef"/><path d="M0.90,0.90h4.51v4.48h-4.51zM6.31,0.90h4.51v4.48h-4.51zM11.71,0.90h4.51v4.48h-4.51zM17.12,0.90h4.51v4.48h-4.51zM22.52,0.90h4.51v4.48h-4.51zM27.93,0.90h4.51v4.48h-4.51zM33.34,0.90h4.51v4.48h-4.51zM38.74,0.90h4.51v4.48h-4.51zM44.15,0.90h4.51v4.48h-4.51zM49.55,0.90h4.51v4.48h-4.51zM0.90,6.28h4.51v4.48h-4.51zM6.31,6.28h4.51v4.48h-4.51zM11.71,6.28h4.51v4.48h-4.51zM17.12,6.28h4.51v4.48h-4.51zM22.52,6.28h4.51v4.48h-4.51zM33.34,6.28h4.51v4.48h-4.51zM38.74,6.28h4.51v4.48h-4.51zM49.55,6.28h4.51v4.48h-4.51zM0.90,11.66h4.51v4.48h-4.51zM6.31,11.66h4.51v4.48h-4.51zM11.71,11.66h4.51v4.48h-4.51zM22.52,11.66h4.51v4.48h-4.51zM27.93,11.66h4.51v4.48h-4.51zM33.34,11.66h4.51v4.48h-4.51zM38.74,11.66h4.51v4.48h-4.51zM49.55,11.66h4.51v4.48h-4.51zM0.90,17.04h4.51v4.48h-4.51zM6.31,17.04h4.51v4.48h-4.51zM11.71,17.04h4.51v4.48h-4.51zM22.52,17.04h4.51v4.48h-4.51zM27.93,17.04h4.51v4.48h-4.51zM33.34,17.04h4.51v4.48h-4.51zM38.74,17.04h4.51v4.48h-4.51zM44.15,17.04h4.51v4.48h-4.51zM49.55,17.04h4.51v4.48h-4.51zM0.90,22.42h4.51v4.48h-4.51zM6.31,22.42h4.51v4.48h-4.51zM11.71,22.42h4.51v4.48h-4.51zM17.12,22.42h4.51v4.48h-4.51zM22.52,22.42h4.51v4.48h-4.51zM27.93,22.42h4.51v4.48h-4.51zM33.34,22.42h4.51v4.48h-4.51zM38.74,22.42h4.51v4.48h-4.51zM44.15,22.42h4.51v4.48h-4.51zM49.55,22.42h4.51v4.48h-4.51zM17.12,27.79h4.51v4.48h-4.51zM22.52,27.79h4.51v4.48h-4.51zM27.93,27.79h4.51v4.48h-4.51zM33.34,27.79h4.51v4.48h-4.51zM38.74,27.79h4.51v4.48h-4.51zM44.15,27.79h4.51v4.48h-4.51zM49.55,27.79h4.51v4.48h-4.51zM0.90,33.17h4.51v4.48h-4.51zM11.71,33.17h4.51v4.48h-4.51zM17.12,33.17h4.51v4.48h-4.51zM22.52,33.17h4.51v4.48h-4.51zM27.93,33.17h4.51v4.48h-4.51zM38.74,33.17h4.51v4.48h-4.51zM49.55,33.17h4.51v4.48h-4.51zM0.90,38.55h4.51v4.48h-4.51zM6.31,38.55h4.51v4.48h-4.51zM11.71,38.55h4.51v4.48h-4.51zM17.12,38.55h4.51v4.48h-4.51zM22.52,38.55h4.51v4.48h-4.51zM27.93,38.55h4.51v4.48h-4.51zM33.34,38.55h4.51v4.48h-4.51zM44.15,38.55h4.51v4.48h-4.51zM49.55,38.55h4.51v4.48h-4.51zM0.90,43.93h4.51v4.48h-4.51zM6.31,43.93h4.51v4.48h-4.51zM11.71,43.93h4.51v4.48h-4.51zM17.12,43.93h4.51v4.48h-4.51zM22.52,43.93h4.51v4.48h-4.51zM27.93,43.93h4.51v4.48h-4.51zM33.34,43.93h4.51v4.48h-4.51zM38.74,43.93h4.51v4.48h-4.51zM44.15,43.93h4.51v4.48h-4.51zM49.55,43.93h4.51v4.48h-4.51zM0.90,49.31h4.51v4.48h-4.51zM6.31,49.31h4.51v4.48h-4.51zM11.71,49.31h4.51v4.48h-4.51zM17.12,49.31h4.51v4.48h-4.51zM22.52,49.31h4.51v4.48h-4.51zM33.34,49.31h4.51v4.48h-4.51zM38.74,49.31h4.51v4.48h-4.51zM44.15,49.31h4.51v4.48h-4.51z" fill="#9590cd"/><path d="M27.93,6.28h4.51v4.48h-4.51zM17.12,11.66h4.51v4.48h-4.51zM44.15,11.66h4.51v4.48h-4.51zM17.12,17.04h4.51v4.48h-4.51zM0.90,27.79h4.51v4.48h-4.51zM6.31,27.79h4.51v4.48h-4.51zM11.71,27.79h4.51v4.48h-4.51zM44.15,33.17h4.51v4.48h-4.51zM38.74,38.55h4.51v4.48h-4.51zM27.93,49.31h4.51v4.48h-4.51zM49.55,49.31h4.51v4.48h-4.51z" fill="#a49bd2"/><path d="M44.15,6.28h4.51v4.48h-4.51zM6.31,33.17h4.51v4.48h-4.51zM33.34,33.17h4.51v4.48h-4.51z" fill="#8aa0d4"/></pattern><pattern id="tileC" x="1060.4" y="527.2" width="54.060" height="53.790" patternUnits="userSpaceOnUse"><rect width="54.060" height="53.790" fill="#c65a8c"/><path d="M0.70,0.70h4.71v4.68h-4.71zM6.11,0.70h4.71v4.68h-4.71zM11.51,0.70h4.71v4.68h-4.71zM22.32,0.70h4.71v4.68h-4.71zM27.73,0.70h4.71v4.68h-4.71zM33.14,0.70h4.71v4.68h-4.71zM38.54,0.70h4.71v4.68h-4.71zM49.35,0.70h4.71v4.68h-4.71zM11.51,6.08h4.71v4.68h-4.71zM16.92,6.08h4.71v4.68h-4.71zM27.73,6.08h4.71v4.68h-4.71zM33.14,6.08h4.71v4.68h-4.71zM38.54,6.08h4.71v4.68h-4.71zM6.11,11.46h4.71v4.68h-4.71zM11.51,11.46h4.71v4.68h-4.71zM16.92,11.46h4.71v4.68h-4.71zM27.73,11.46h4.71v4.68h-4.71zM33.14,11.46h4.71v4.68h-4.71zM38.54,11.46h4.71v4.68h-4.71zM43.95,11.46h4.71v4.68h-4.71zM49.35,11.46h4.71v4.68h-4.71zM0.70,16.84h4.71v4.68h-4.71zM6.11,16.84h4.71v4.68h-4.71zM11.51,16.84h4.71v4.68h-4.71zM22.32,16.84h4.71v4.68h-4.71zM33.14,16.84h4.71v4.68h-4.71zM38.54,16.84h4.71v4.68h-4.71zM43.95,16.84h4.71v4.68h-4.71zM0.70,22.22h4.71v4.68h-4.71zM6.11,22.22h4.71v4.68h-4.71zM11.51,22.22h4.71v4.68h-4.71zM16.92,22.22h4.71v4.68h-4.71zM22.32,22.22h4.71v4.68h-4.71zM33.14,22.22h4.71v4.68h-4.71zM38.54,22.22h4.71v4.68h-4.71zM43.95,22.22h4.71v4.68h-4.71zM0.70,27.59h4.71v4.68h-4.71zM6.11,27.59h4.71v4.68h-4.71zM11.51,27.59h4.71v4.68h-4.71zM16.92,27.59h4.71v4.68h-4.71zM22.32,27.59h4.71v4.68h-4.71zM27.73,27.59h4.71v4.68h-4.71zM33.14,27.59h4.71v4.68h-4.71zM38.54,27.59h4.71v4.68h-4.71zM43.95,27.59h4.71v4.68h-4.71zM49.35,27.59h4.71v4.68h-4.71zM0.70,32.97h4.71v4.68h-4.71zM11.51,32.97h4.71v4.68h-4.71zM22.32,32.97h4.71v4.68h-4.71zM38.54,32.97h4.71v4.68h-4.71zM43.95,32.97h4.71v4.68h-4.71zM49.35,32.97h4.71v4.68h-4.71zM0.70,38.35h4.71v4.68h-4.71zM6.11,38.35h4.71v4.68h-4.71zM11.51,38.35h4.71v4.68h-4.71zM16.92,38.35h4.71v4.68h-4.71zM27.73,38.35h4.71v4.68h-4.71zM33.14,38.35h4.71v4.68h-4.71zM43.95,38.35h4.71v4.68h-4.71zM49.35,38.35h4.71v4.68h-4.71zM0.70,43.73h4.71v4.68h-4.71zM6.11,43.73h4.71v4.68h-4.71zM11.51,43.73h4.71v4.68h-4.71zM22.32,43.73h4.71v4.68h-4.71zM38.54,43.73h4.71v4.68h-4.71zM0.70,49.11h4.71v4.68h-4.71zM6.11,49.11h4.71v4.68h-4.71zM11.51,49.11h4.71v4.68h-4.71zM16.92,49.11h4.71v4.68h-4.71zM22.32,49.11h4.71v4.68h-4.71zM27.73,49.11h4.71v4.68h-4.71zM33.14,49.11h4.71v4.68h-4.71zM43.95,49.11h4.71v4.68h-4.71z" fill="#b01d5f"/><path d="M16.92,0.70h4.71v4.68h-4.71zM0.70,6.08h4.71v4.68h-4.71zM0.70,11.46h4.71v4.68h-4.71zM22.32,11.46h4.71v4.68h-4.71zM16.92,16.84h4.71v4.68h-4.71zM27.73,22.22h4.71v4.68h-4.71zM6.11,32.97h4.71v4.68h-4.71zM16.92,32.97h4.71v4.68h-4.71zM27.73,32.97h4.71v4.68h-4.71zM16.92,43.73h4.71v4.68h-4.71zM27.73,43.73h4.71v4.68h-4.71zM43.95,43.73h4.71v4.68h-4.71zM49.35,43.73h4.71v4.68h-4.71zM38.54,49.11h4.71v4.68h-4.71z" fill="#c43070"/><path d="M43.95,0.70h4.71v4.68h-4.71zM6.11,6.08h4.71v4.68h-4.71zM22.32,6.08h4.71v4.68h-4.71zM43.95,6.08h4.71v4.68h-4.71zM49.35,6.08h4.71v4.68h-4.71zM27.73,16.84h4.71v4.68h-4.71zM49.35,16.84h4.71v4.68h-4.71zM49.35,22.22h4.71v4.68h-4.71zM33.14,32.97h4.71v4.68h-4.71zM22.32,38.35h4.71v4.68h-4.71zM38.54,38.35h4.71v4.68h-4.71zM33.14,43.73h4.71v4.68h-4.71zM49.35,49.11h4.71v4.68h-4.71z" fill="#a8185a"/></pattern><pattern id="tileM" x="1060.4" y="527.2" width="54.060" height="53.790" patternUnits="userSpaceOnUse"><rect width="54.060" height="53.790" fill="#e9dde6"/><path d="M0.90,0.90h4.51v4.48h-4.51zM0.90,6.28h4.51v4.48h-4.51zM11.71,6.28h4.51v4.48h-4.51zM44.15,6.28h4.51v4.48h-4.51zM27.93,11.66h4.51v4.48h-4.51zM49.55,17.04h4.51v4.48h-4.51zM38.74,22.42h4.51v4.48h-4.51zM0.90,33.17h4.51v4.48h-4.51zM0.90,38.55h4.51v4.48h-4.51zM33.34,38.55h4.51v4.48h-4.51zM22.52,43.93h4.51v4.48h-4.51z" fill="#f3e5a2"/><path d="M6.31,0.90h4.51v4.48h-4.51zM22.52,0.90h4.51v4.48h-4.51zM44.15,0.90h4.51v4.48h-4.51zM49.55,0.90h4.51v4.48h-4.51zM27.93,6.28h4.51v4.48h-4.51zM0.90,11.66h4.51v4.48h-4.51zM33.34,11.66h4.51v4.48h-4.51zM33.34,27.79h4.51v4.48h-4.51zM22.52,38.55h4.51v4.48h-4.51zM38.74,38.55h4.51v4.48h-4.51zM0.90,43.93h4.51v4.48h-4.51zM33.34,49.31h4.51v4.48h-4.51zM44.15,49.31h4.51v4.48h-4.51z" fill="#f6b27e"/><path d="M11.71,0.90h4.51v4.48h-4.51zM6.31,11.66h4.51v4.48h-4.51zM17.12,17.04h4.51v4.48h-4.51zM33.34,22.42h4.51v4.48h-4.51zM6.31,33.17h4.51v4.48h-4.51zM33.34,33.17h4.51v4.48h-4.51zM6.31,43.93h4.51v4.48h-4.51zM6.31,49.31h4.51v4.48h-4.51zM27.93,49.31h4.51v4.48h-4.51zM49.55,49.31h4.51v4.48h-4.51z" fill="#e9737e"/><path d="M17.12,0.90h4.51v4.48h-4.51zM33.34,6.28h4.51v4.48h-4.51zM38.74,6.28h4.51v4.48h-4.51zM0.90,17.04h4.51v4.48h-4.51zM27.93,17.04h4.51v4.48h-4.51zM33.34,17.04h4.51v4.48h-4.51zM38.74,17.04h4.51v4.48h-4.51zM0.90,22.42h4.51v4.48h-4.51zM6.31,27.79h4.51v4.48h-4.51zM17.12,27.79h4.51v4.48h-4.51zM49.55,27.79h4.51v4.48h-4.51zM11.71,33.17h4.51v4.48h-4.51zM11.71,38.55h4.51v4.48h-4.51zM27.93,43.93h4.51v4.48h-4.51zM11.71,49.31h4.51v4.48h-4.51zM38.74,49.31h4.51v4.48h-4.51z" fill="#6fa8d6"/><path d="M27.93,0.90h4.51v4.48h-4.51zM33.34,0.90h4.51v4.48h-4.51zM17.12,11.66h4.51v4.48h-4.51zM22.52,11.66h4.51v4.48h-4.51zM11.71,17.04h4.51v4.48h-4.51zM27.93,22.42h4.51v4.48h-4.51zM44.15,33.17h4.51v4.48h-4.51zM17.12,38.55h4.51v4.48h-4.51zM33.34,43.93h4.51v4.48h-4.51z" fill="#c2407a"/><path d="M38.74,0.90h4.51v4.48h-4.51zM49.55,6.28h4.51v4.48h-4.51zM38.74,11.66h4.51v4.48h-4.51zM44.15,11.66h4.51v4.48h-4.51zM6.31,17.04h4.51v4.48h-4.51zM22.52,17.04h4.51v4.48h-4.51zM44.15,17.04h4.51v4.48h-4.51zM11.71,22.42h4.51v4.48h-4.51zM17.12,22.42h4.51v4.48h-4.51zM22.52,22.42h4.51v4.48h-4.51zM44.15,22.42h4.51v4.48h-4.51zM49.55,22.42h4.51v4.48h-4.51zM0.90,27.79h4.51v4.48h-4.51zM11.71,27.79h4.51v4.48h-4.51zM22.52,27.79h4.51v4.48h-4.51zM27.93,27.79h4.51v4.48h-4.51zM17.12,33.17h4.51v4.48h-4.51zM38.74,33.17h4.51v4.48h-4.51zM49.55,33.17h4.51v4.48h-4.51zM27.93,38.55h4.51v4.48h-4.51zM44.15,38.55h4.51v4.48h-4.51zM49.55,38.55h4.51v4.48h-4.51zM49.55,43.93h4.51v4.48h-4.51zM17.12,49.31h4.51v4.48h-4.51zM22.52,49.31h4.51v4.48h-4.51z" fill="#9590cd"/><path d="M17.12,6.28h4.51v4.48h-4.51zM11.71,11.66h4.51v4.48h-4.51zM6.31,22.42h4.51v4.48h-4.51zM38.74,27.79h4.51v4.48h-4.51zM44.15,27.79h4.51v4.48h-4.51zM22.52,33.17h4.51v4.48h-4.51zM27.93,33.17h4.51v4.48h-4.51zM6.31,38.55h4.51v4.48h-4.51zM11.71,43.93h4.51v4.48h-4.51zM17.12,43.93h4.51v4.48h-4.51zM44.15,43.93h4.51v4.48h-4.51zM0.90,49.31h4.51v4.48h-4.51z" fill="#8ccbb4"/></pattern><pattern id="tileM2" x="1060.4" y="527.2" width="54.060" height="53.790" patternUnits="userSpaceOnUse"><rect width="54.060" height="53.790" fill="#d890b8"/><path d="M0.80,0.80h4.61v4.58h-4.61zM0.80,6.18h4.61v4.58h-4.61zM44.05,11.56h4.61v4.58h-4.61zM6.21,27.69h4.61v4.58h-4.61zM49.45,27.69h4.61v4.58h-4.61zM22.42,33.07h4.61v4.58h-4.61zM11.61,43.83h4.61v4.58h-4.61zM27.83,43.83h4.61v4.58h-4.61zM44.05,43.83h4.61v4.58h-4.61z" fill="#8ccbb4"/><path d="M6.21,0.80h4.61v4.58h-4.61zM49.45,6.18h4.61v4.58h-4.61zM17.02,11.56h4.61v4.58h-4.61zM0.80,16.94h4.61v4.58h-4.61zM27.83,16.94h4.61v4.58h-4.61z" fill="#f3e5a2"/><path d="M11.61,0.80h4.61v4.58h-4.61zM17.02,0.80h4.61v4.58h-4.61zM22.42,0.80h4.61v4.58h-4.61zM33.24,0.80h4.61v4.58h-4.61zM0.80,11.56h4.61v4.58h-4.61zM6.21,11.56h4.61v4.58h-4.61zM11.61,11.56h4.61v4.58h-4.61zM22.42,16.94h4.61v4.58h-4.61zM38.64,16.94h4.61v4.58h-4.61zM6.21,22.32h4.61v4.58h-4.61zM33.24,22.32h4.61v4.58h-4.61zM49.45,22.32h4.61v4.58h-4.61zM11.61,33.07h4.61v4.58h-4.61zM27.83,33.07h4.61v4.58h-4.61zM38.64,33.07h4.61v4.58h-4.61zM49.45,33.07h4.61v4.58h-4.61zM49.45,38.45h4.61v4.58h-4.61zM33.24,43.83h4.61v4.58h-4.61zM38.64,43.83h4.61v4.58h-4.61zM11.61,49.21h4.61v4.58h-4.61zM22.42,49.21h4.61v4.58h-4.61zM27.83,49.21h4.61v4.58h-4.61zM38.64,49.21h4.61v4.58h-4.61zM44.05,49.21h4.61v4.58h-4.61z" fill="#c2407a"/><path d="M27.83,0.80h4.61v4.58h-4.61zM38.64,0.80h4.61v4.58h-4.61zM44.05,0.80h4.61v4.58h-4.61zM33.24,11.56h4.61v4.58h-4.61zM6.21,16.94h4.61v4.58h-4.61zM11.61,16.94h4.61v4.58h-4.61zM17.02,22.32h4.61v4.58h-4.61zM27.83,22.32h4.61v4.58h-4.61zM0.80,27.69h4.61v4.58h-4.61zM0.80,33.07h4.61v4.58h-4.61zM17.02,33.07h4.61v4.58h-4.61zM11.61,38.45h4.61v4.58h-4.61zM17.02,38.45h4.61v4.58h-4.61zM33.24,38.45h4.61v4.58h-4.61zM38.64,38.45h4.61v4.58h-4.61zM33.24,49.21h4.61v4.58h-4.61z" fill="#6fa8d6"/><path d="M49.45,0.80h4.61v4.58h-4.61zM6.21,6.18h4.61v4.58h-4.61zM11.61,6.18h4.61v4.58h-4.61zM33.24,6.18h4.61v4.58h-4.61zM38.64,6.18h4.61v4.58h-4.61zM44.05,6.18h4.61v4.58h-4.61zM27.83,11.56h4.61v4.58h-4.61zM38.64,11.56h4.61v4.58h-4.61zM17.02,16.94h4.61v4.58h-4.61zM44.05,16.94h4.61v4.58h-4.61zM49.45,16.94h4.61v4.58h-4.61zM0.80,22.32h4.61v4.58h-4.61zM38.64,22.32h4.61v4.58h-4.61zM11.61,27.69h4.61v4.58h-4.61zM17.02,27.69h4.61v4.58h-4.61zM22.42,27.69h4.61v4.58h-4.61zM27.83,27.69h4.61v4.58h-4.61zM33.24,27.69h4.61v4.58h-4.61zM38.64,27.69h4.61v4.58h-4.61zM44.05,27.69h4.61v4.58h-4.61zM6.21,33.07h4.61v4.58h-4.61zM0.80,38.45h4.61v4.58h-4.61zM44.05,38.45h4.61v4.58h-4.61zM6.21,43.83h4.61v4.58h-4.61zM17.02,43.83h4.61v4.58h-4.61zM22.42,43.83h4.61v4.58h-4.61zM0.80,49.21h4.61v4.58h-4.61zM17.02,49.21h4.61v4.58h-4.61zM49.45,49.21h4.61v4.58h-4.61z" fill="#9590cd"/><path d="M17.02,6.18h4.61v4.58h-4.61zM22.42,11.56h4.61v4.58h-4.61zM49.45,11.56h4.61v4.58h-4.61zM44.05,33.07h4.61v4.58h-4.61zM0.80,43.83h4.61v4.58h-4.61z" fill="#f6b27e"/><path d="M22.42,6.18h4.61v4.58h-4.61zM27.83,6.18h4.61v4.58h-4.61zM33.24,16.94h4.61v4.58h-4.61zM11.61,22.32h4.61v4.58h-4.61zM22.42,22.32h4.61v4.58h-4.61zM44.05,22.32h4.61v4.58h-4.61zM33.24,33.07h4.61v4.58h-4.61zM6.21,38.45h4.61v4.58h-4.61zM22.42,38.45h4.61v4.58h-4.61zM27.83,38.45h4.61v4.58h-4.61zM49.45,43.83h4.61v4.58h-4.61zM6.21,49.21h4.61v4.58h-4.61z" fill="#e9737e"/></pattern><pattern id="sqBand" x="625" y="1666.3" width="70.000" height="69.500" patternUnits="userSpaceOnUse"><path d="M0.00,0.00h4.00v4.00h-4.00zM7.00,0.00h4.00v4.00h-4.00zM14.00,0.00h4.00v4.00h-4.00zM49.00,0.00h4.00v4.00h-4.00zM21.00,6.95h4.00v4.00h-4.00zM28.00,6.95h4.00v4.00h-4.00zM35.00,6.95h4.00v4.00h-4.00zM49.00,6.95h4.00v4.00h-4.00zM0.00,13.90h4.00v4.00h-4.00zM14.00,13.90h4.00v4.00h-4.00zM35.00,13.90h4.00v4.00h-4.00zM56.00,13.90h4.00v4.00h-4.00zM0.00,20.85h4.00v4.00h-4.00zM28.00,20.85h4.00v4.00h-4.00zM35.00,20.85h4.00v4.00h-4.00zM56.00,20.85h4.00v4.00h-4.00zM7.00,27.80h4.00v4.00h-4.00zM14.00,27.80h4.00v4.00h-4.00zM28.00,27.80h4.00v4.00h-4.00zM42.00,27.80h4.00v4.00h-4.00zM49.00,27.80h4.00v4.00h-4.00zM56.00,27.80h4.00v4.00h-4.00zM63.00,27.80h4.00v4.00h-4.00zM0.00,34.75h4.00v4.00h-4.00zM14.00,34.75h4.00v4.00h-4.00zM49.00,34.75h4.00v4.00h-4.00zM56.00,34.75h4.00v4.00h-4.00zM63.00,34.75h4.00v4.00h-4.00zM0.00,41.70h4.00v4.00h-4.00zM28.00,41.70h4.00v4.00h-4.00zM42.00,41.70h4.00v4.00h-4.00zM7.00,48.65h4.00v4.00h-4.00zM28.00,48.65h4.00v4.00h-4.00zM35.00,48.65h4.00v4.00h-4.00zM56.00,48.65h4.00v4.00h-4.00zM63.00,48.65h4.00v4.00h-4.00zM7.00,55.60h4.00v4.00h-4.00zM14.00,55.60h4.00v4.00h-4.00zM28.00,55.60h4.00v4.00h-4.00zM42.00,55.60h4.00v4.00h-4.00zM56.00,55.60h4.00v4.00h-4.00zM14.00,62.55h4.00v4.00h-4.00zM21.00,62.55h4.00v4.00h-4.00zM28.00,62.55h4.00v4.00h-4.00zM35.00,62.55h4.00v4.00h-4.00zM49.00,62.55h4.00v4.00h-4.00zM56.00,62.55h4.00v4.00h-4.00z" fill="#8466b6"/><path d="M28.00,0.00h4.00v4.00h-4.00zM42.00,0.00h4.00v4.00h-4.00zM63.00,0.00h4.00v4.00h-4.00zM63.00,6.95h4.00v4.00h-4.00zM42.00,20.85h4.00v4.00h-4.00zM49.00,20.85h4.00v4.00h-4.00zM28.00,34.75h4.00v4.00h-4.00zM0.00,48.65h4.00v4.00h-4.00zM63.00,62.55h4.00v4.00h-4.00z" fill="#5f8fcc"/><path d="M35.00,0.00h4.00v4.00h-4.00zM56.00,0.00h4.00v4.00h-4.00zM7.00,6.95h4.00v4.00h-4.00zM42.00,6.95h4.00v4.00h-4.00zM56.00,6.95h4.00v4.00h-4.00zM42.00,13.90h4.00v4.00h-4.00zM49.00,13.90h4.00v4.00h-4.00zM63.00,13.90h4.00v4.00h-4.00zM14.00,20.85h4.00v4.00h-4.00zM21.00,27.80h4.00v4.00h-4.00zM35.00,27.80h4.00v4.00h-4.00zM7.00,34.75h4.00v4.00h-4.00zM42.00,34.75h4.00v4.00h-4.00zM35.00,41.70h4.00v4.00h-4.00zM56.00,41.70h4.00v4.00h-4.00zM42.00,48.65h4.00v4.00h-4.00zM49.00,48.65h4.00v4.00h-4.00zM21.00,55.60h4.00v4.00h-4.00zM7.00,62.55h4.00v4.00h-4.00zM42.00,62.55h4.00v4.00h-4.00z" fill="#7db5a8"/><path d="M0.00,6.95h4.00v4.00h-4.00zM7.00,13.90h4.00v4.00h-4.00z" fill="#f6d690"/><path d="M14.00,6.95h4.00v4.00h-4.00zM28.00,13.90h4.00v4.00h-4.00zM0.00,27.80h4.00v4.00h-4.00zM14.00,48.65h4.00v4.00h-4.00z" fill="#e2466a"/><path d="M21.00,34.75h4.00v4.00h-4.00zM21.00,41.70h4.00v4.00h-4.00zM63.00,41.70h4.00v4.00h-4.00zM0.00,62.55h4.00v4.00h-4.00z" fill="#f08458"/></pattern><pattern id="sqMix" x="625" y="1666.3" width="70.000" height="69.500" patternUnits="userSpaceOnUse"><path d="M0.00,0.00h4.20v4.20h-4.20zM28.00,6.95h4.20v4.20h-4.20zM49.00,6.95h4.20v4.20h-4.20zM63.00,13.90h4.20v4.20h-4.20zM49.00,20.85h4.20v4.20h-4.20zM63.00,20.85h4.20v4.20h-4.20zM56.00,27.80h4.20v4.20h-4.20zM28.00,34.75h4.20v4.20h-4.20zM35.00,34.75h4.20v4.20h-4.20zM7.00,41.70h4.20v4.20h-4.20zM28.00,48.65h4.20v4.20h-4.20zM0.00,55.60h4.20v4.20h-4.20zM14.00,55.60h4.20v4.20h-4.20zM7.00,62.55h4.20v4.20h-4.20z" fill="#7db5a8"/><path d="M7.00,0.00h4.20v4.20h-4.20zM49.00,0.00h4.20v4.20h-4.20zM63.00,0.00h4.20v4.20h-4.20zM14.00,6.95h4.20v4.20h-4.20zM21.00,6.95h4.20v4.20h-4.20zM63.00,6.95h4.20v4.20h-4.20zM21.00,13.90h4.20v4.20h-4.20zM42.00,13.90h4.20v4.20h-4.20zM49.00,13.90h4.20v4.20h-4.20zM7.00,27.80h4.20v4.20h-4.20zM28.00,27.80h4.20v4.20h-4.20zM42.00,27.80h4.20v4.20h-4.20zM42.00,34.75h4.20v4.20h-4.20zM56.00,34.75h4.20v4.20h-4.20zM49.00,41.70h4.20v4.20h-4.20zM56.00,55.60h4.20v4.20h-4.20zM63.00,55.60h4.20v4.20h-4.20zM0.00,62.55h4.20v4.20h-4.20zM28.00,62.55h4.20v4.20h-4.20z" fill="#f08458"/><path d="M14.00,0.00h4.20v4.20h-4.20zM21.00,0.00h4.20v4.20h-4.20zM0.00,6.95h4.20v4.20h-4.20zM42.00,6.95h4.20v4.20h-4.20zM14.00,13.90h4.20v4.20h-4.20zM35.00,13.90h4.20v4.20h-4.20zM28.00,20.85h4.20v4.20h-4.20zM14.00,27.80h4.20v4.20h-4.20zM21.00,27.80h4.20v4.20h-4.20zM35.00,27.80h4.20v4.20h-4.20zM49.00,27.80h4.20v4.20h-4.20zM63.00,27.80h4.20v4.20h-4.20zM0.00,34.75h4.20v4.20h-4.20zM7.00,34.75h4.20v4.20h-4.20zM14.00,34.75h4.20v4.20h-4.20zM63.00,34.75h4.20v4.20h-4.20zM42.00,41.70h4.20v4.20h-4.20zM56.00,41.70h4.20v4.20h-4.20zM63.00,41.70h4.20v4.20h-4.20zM0.00,48.65h4.20v4.20h-4.20zM21.00,48.65h4.20v4.20h-4.20zM35.00,48.65h4.20v4.20h-4.20zM56.00,48.65h4.20v4.20h-4.20zM63.00,48.65h4.20v4.20h-4.20zM7.00,55.60h4.20v4.20h-4.20zM28.00,55.60h4.20v4.20h-4.20zM35.00,55.60h4.20v4.20h-4.20zM35.00,62.55h4.20v4.20h-4.20z" fill="#f6d690"/><path d="M28.00,0.00h4.20v4.20h-4.20zM35.00,0.00h4.20v4.20h-4.20zM7.00,13.90h4.20v4.20h-4.20zM7.00,20.85h4.20v4.20h-4.20zM0.00,27.80h4.20v4.20h-4.20zM49.00,34.75h4.20v4.20h-4.20zM21.00,41.70h4.20v4.20h-4.20z" fill="#8466b6"/><path d="M56.00,0.00h4.20v4.20h-4.20zM7.00,6.95h4.20v4.20h-4.20zM35.00,6.95h4.20v4.20h-4.20zM14.00,20.85h4.20v4.20h-4.20zM35.00,20.85h4.20v4.20h-4.20zM14.00,41.70h4.20v4.20h-4.20zM49.00,48.65h4.20v4.20h-4.20zM49.00,55.60h4.20v4.20h-4.20zM21.00,62.55h4.20v4.20h-4.20zM49.00,62.55h4.20v4.20h-4.20z" fill="#e2466a"/><path d="M56.00,6.95h4.20v4.20h-4.20zM0.00,13.90h4.20v4.20h-4.20zM0.00,20.85h4.20v4.20h-4.20zM35.00,41.70h4.20v4.20h-4.20zM14.00,62.55h4.20v4.20h-4.20z" fill="#5f8fcc"/><path d="M56.00,13.90h4.20v4.20h-4.20zM42.00,20.85h4.20v4.20h-4.20zM56.00,20.85h4.20v4.20h-4.20zM28.00,41.70h4.20v4.20h-4.20zM63.00,62.55h4.20v4.20h-4.20z" fill="#c4235e"/></pattern><pattern id="sqSparse" x="625" y="1666.3" width="70.000" height="69.500" patternUnits="userSpaceOnUse"><path d="M7.00,6.95h4.20v4.20h-4.20zM42.00,6.95h4.20v4.20h-4.20zM49.00,6.95h4.20v4.20h-4.20zM0.00,20.85h4.20v4.20h-4.20zM35.00,20.85h4.20v4.20h-4.20zM49.00,27.80h4.20v4.20h-4.20zM63.00,41.70h4.20v4.20h-4.20zM49.00,55.60h4.20v4.20h-4.20zM56.00,55.60h4.20v4.20h-4.20z" fill="#8466b6"/><path d="M63.00,13.90h4.20v4.20h-4.20zM49.00,20.85h4.20v4.20h-4.20zM63.00,34.75h4.20v4.20h-4.20zM35.00,55.60h4.20v4.20h-4.20zM21.00,62.55h4.20v4.20h-4.20zM63.00,62.55h4.20v4.20h-4.20z" fill="#f08458"/><path d="M14.00,20.85h4.20v4.20h-4.20zM14.00,27.80h4.20v4.20h-4.20zM35.00,48.65h4.20v4.20h-4.20zM0.00,55.60h4.20v4.20h-4.20zM7.00,55.60h4.20v4.20h-4.20z" fill="#f6d690"/><path d="M28.00,34.75h4.20v4.20h-4.20zM14.00,41.70h4.20v4.20h-4.20zM42.00,48.65h4.20v4.20h-4.20zM63.00,48.65h4.20v4.20h-4.20z" fill="#e2466a"/></pattern><pattern id="sqDark" x="625" y="1666.3" width="70.000" height="69.500" patternUnits="userSpaceOnUse"><path d="M0.00,0.00h4.20v4.20h-4.20zM7.00,0.00h4.20v4.20h-4.20zM63.00,0.00h4.20v4.20h-4.20zM14.00,6.95h4.20v4.20h-4.20zM21.00,6.95h4.20v4.20h-4.20zM49.00,13.90h4.20v4.20h-4.20zM56.00,13.90h4.20v4.20h-4.20zM42.00,20.85h4.20v4.20h-4.20zM35.00,27.80h4.20v4.20h-4.20zM49.00,27.80h4.20v4.20h-4.20zM63.00,34.75h4.20v4.20h-4.20zM7.00,41.70h4.20v4.20h-4.20zM56.00,41.70h4.20v4.20h-4.20zM0.00,62.55h4.20v4.20h-4.20zM21.00,62.55h4.20v4.20h-4.20zM28.00,62.55h4.20v4.20h-4.20zM49.00,62.55h4.20v4.20h-4.20zM56.00,62.55h4.20v4.20h-4.20z" fill="#c4235e"/><path d="M14.00,0.00h4.20v4.20h-4.20zM49.00,6.95h4.20v4.20h-4.20zM35.00,20.85h4.20v4.20h-4.20zM14.00,27.80h4.20v4.20h-4.20zM56.00,27.80h4.20v4.20h-4.20zM7.00,34.75h4.20v4.20h-4.20zM14.00,34.75h4.20v4.20h-4.20zM35.00,41.70h4.20v4.20h-4.20zM28.00,48.65h4.20v4.20h-4.20zM28.00,55.60h4.20v4.20h-4.20zM35.00,55.60h4.20v4.20h-4.20zM7.00,62.55h4.20v4.20h-4.20z" fill="#5f8fcc"/><path d="M21.00,0.00h4.20v4.20h-4.20zM28.00,0.00h4.20v4.20h-4.20zM35.00,0.00h4.20v4.20h-4.20zM42.00,0.00h4.20v4.20h-4.20zM49.00,0.00h4.20v4.20h-4.20zM56.00,0.00h4.20v4.20h-4.20zM35.00,6.95h4.20v4.20h-4.20zM42.00,6.95h4.20v4.20h-4.20zM63.00,6.95h4.20v4.20h-4.20zM0.00,13.90h4.20v4.20h-4.20zM7.00,13.90h4.20v4.20h-4.20zM21.00,13.90h4.20v4.20h-4.20zM42.00,13.90h4.20v4.20h-4.20zM0.00,20.85h4.20v4.20h-4.20zM7.00,20.85h4.20v4.20h-4.20zM14.00,20.85h4.20v4.20h-4.20zM21.00,20.85h4.20v4.20h-4.20zM49.00,20.85h4.20v4.20h-4.20zM7.00,27.80h4.20v4.20h-4.20zM42.00,27.80h4.20v4.20h-4.20zM0.00,34.75h4.20v4.20h-4.20zM21.00,34.75h4.20v4.20h-4.20zM28.00,34.75h4.20v4.20h-4.20zM35.00,34.75h4.20v4.20h-4.20zM42.00,34.75h4.20v4.20h-4.20zM14.00,41.70h4.20v4.20h-4.20zM21.00,41.70h4.20v4.20h-4.20zM28.00,41.70h4.20v4.20h-4.20zM49.00,41.70h4.20v4.20h-4.20zM63.00,41.70h4.20v4.20h-4.20zM7.00,48.65h4.20v4.20h-4.20zM14.00,48.65h4.20v4.20h-4.20zM42.00,48.65h4.20v4.20h-4.20zM56.00,48.65h4.20v4.20h-4.20zM63.00,48.65h4.20v4.20h-4.20zM0.00,55.60h4.20v4.20h-4.20zM21.00,55.60h4.20v4.20h-4.20zM42.00,55.60h4.20v4.20h-4.20zM56.00,55.60h4.20v4.20h-4.20zM63.00,55.60h4.20v4.20h-4.20zM35.00,62.55h4.20v4.20h-4.20zM42.00,62.55h4.20v4.20h-4.20z" fill="#8466b6"/><path d="M7.00,6.95h4.20v4.20h-4.20zM28.00,6.95h4.20v4.20h-4.20zM56.00,20.85h4.20v4.20h-4.20zM63.00,20.85h4.20v4.20h-4.20zM49.00,34.75h4.20v4.20h-4.20z" fill="#f6d690"/><path d="M56.00,6.95h4.20v4.20h-4.20zM28.00,13.90h4.20v4.20h-4.20zM28.00,20.85h4.20v4.20h-4.20zM0.00,27.80h4.20v4.20h-4.20zM21.00,27.80h4.20v4.20h-4.20zM28.00,27.80h4.20v4.20h-4.20zM63.00,27.80h4.20v4.20h-4.20zM56.00,34.75h4.20v4.20h-4.20zM42.00,41.70h4.20v4.20h-4.20zM0.00,48.65h4.20v4.20h-4.20zM21.00,48.65h4.20v4.20h-4.20zM35.00,48.65h4.20v4.20h-4.20zM49.00,48.65h4.20v4.20h-4.20zM7.00,55.60h4.20v4.20h-4.20zM14.00,55.60h4.20v4.20h-4.20zM14.00,62.55h4.20v4.20h-4.20z" fill="#f08458"/><path d="M63.00,13.90h4.20v4.20h-4.20z" fill="#7db5a8"/></pattern><pattern id="sqUp" x="625" y="1666.3" width="70.000" height="69.500" patternUnits="userSpaceOnUse"><path d="M0.00,0.00h4.20v4.20h-4.20zM14.00,0.00h4.20v4.20h-4.20zM21.00,0.00h4.20v4.20h-4.20zM28.00,0.00h4.20v4.20h-4.20zM35.00,0.00h4.20v4.20h-4.20zM42.00,0.00h4.20v4.20h-4.20zM49.00,0.00h4.20v4.20h-4.20zM56.00,0.00h4.20v4.20h-4.20zM0.00,6.95h4.20v4.20h-4.20zM14.00,6.95h4.20v4.20h-4.20zM35.00,6.95h4.20v4.20h-4.20zM56.00,6.95h4.20v4.20h-4.20zM14.00,13.90h4.20v4.20h-4.20zM21.00,13.90h4.20v4.20h-4.20zM42.00,13.90h4.20v4.20h-4.20zM49.00,13.90h4.20v4.20h-4.20zM63.00,13.90h4.20v4.20h-4.20zM0.00,20.85h4.20v4.20h-4.20zM63.00,20.85h4.20v4.20h-4.20zM14.00,27.80h4.20v4.20h-4.20zM28.00,27.80h4.20v4.20h-4.20zM49.00,27.80h4.20v4.20h-4.20zM0.00,34.75h4.20v4.20h-4.20zM14.00,34.75h4.20v4.20h-4.20zM21.00,34.75h4.20v4.20h-4.20zM42.00,34.75h4.20v4.20h-4.20zM0.00,41.70h4.20v4.20h-4.20zM7.00,41.70h4.20v4.20h-4.20zM14.00,41.70h4.20v4.20h-4.20zM28.00,41.70h4.20v4.20h-4.20zM42.00,41.70h4.20v4.20h-4.20zM63.00,41.70h4.20v4.20h-4.20zM0.00,48.65h4.20v4.20h-4.20zM14.00,48.65h4.20v4.20h-4.20zM56.00,48.65h4.20v4.20h-4.20zM63.00,48.65h4.20v4.20h-4.20zM14.00,55.60h4.20v4.20h-4.20zM42.00,55.60h4.20v4.20h-4.20zM49.00,55.60h4.20v4.20h-4.20zM56.00,55.60h4.20v4.20h-4.20zM0.00,62.55h4.20v4.20h-4.20zM35.00,62.55h4.20v4.20h-4.20zM49.00,62.55h4.20v4.20h-4.20zM63.00,62.55h4.20v4.20h-4.20z" fill="#8466b6"/><path d="M7.00,0.00h4.20v4.20h-4.20zM63.00,6.95h4.20v4.20h-4.20zM35.00,27.80h4.20v4.20h-4.20zM56.00,27.80h4.20v4.20h-4.20zM7.00,34.75h4.20v4.20h-4.20zM63.00,34.75h4.20v4.20h-4.20zM7.00,48.65h4.20v4.20h-4.20zM35.00,48.65h4.20v4.20h-4.20zM49.00,48.65h4.20v4.20h-4.20zM21.00,62.55h4.20v4.20h-4.20zM56.00,62.55h4.20v4.20h-4.20z" fill="#5f8fcc"/><path d="M7.00,6.95h4.20v4.20h-4.20zM56.00,20.85h4.20v4.20h-4.20zM21.00,27.80h4.20v4.20h-4.20zM42.00,27.80h4.20v4.20h-4.20zM35.00,34.75h4.20v4.20h-4.20zM21.00,41.70h4.20v4.20h-4.20zM49.00,41.70h4.20v4.20h-4.20zM56.00,41.70h4.20v4.20h-4.20zM21.00,55.60h4.20v4.20h-4.20zM63.00,55.60h4.20v4.20h-4.20z" fill="#7db5a8"/></pattern><filter id="mottleR" x="0" y="0" width="100%" height="100%"><feTurbulence type="fractalNoise" baseFrequency="0.16 0.12" numOctaves="2" seed="7" result="n"/><feColorMatrix in="n" type="matrix" values="0 0 0 0 0  0 0 0 0 0  0 0 0 0 0  0 0 0 -6 3.3" result="a"/><feComposite in="SourceGraphic" in2="a" operator="in"/></filter><filter id="mottleG" x="0" y="0" width="100%" height="100%"><feTurbulence type="fractalNoise" baseFrequency="0.12" numOctaves="2" seed="3" result="n"/><feColorMatrix in="n" type="matrix" values="0 0 0 0 0  0 0 0 0 0  0 0 0 0 0  0 0 0 -3.5 1.9" result="a"/><feComposite in="SourceGraphic" in2="a" operator="in"/></filter><filter id="mottleP" x="0" y="0" width="100%" height="100%"><feTurbulence type="fractalNoise" baseFrequency="0.05" numOctaves="2" seed="5" result="n"/><feColorMatrix in="n" type="matrix" values="0 0 0 0 0  0 0 0 0 0  0 0 0 0 0  0 0 0 -3 1.6" result="a"/><feComposite in="SourceGraphic" in2="a" operator="in"/></filter><filter id="stip" x="0" y="0" width="100%" height="100%"><feTurbulence type="fractalNoise" baseFrequency="0.45" numOctaves="1" seed="9" result="n"/><feColorMatrix in="n" type="matrix" values="0 0 0 0 0  0 0 0 0 0  0 0 0 0 0  0 0 0 -9 4.25" result="a"/><feComposite in="SourceGraphic" in2="a" operator="in"/></filter></defs><defs><clipPath id="cpDT"><rect x="1060.4" y="527.2" width="870.1" height="555.0"/></clipPath><clipPath id="cpDB"><rect x="1062.3" y="1083.8" width="867.5" height="551.9"/></clipPath><clipPath id="cpEL"><rect x="10.2" y="1661.5" width="613.8" height="555.5"/></clipPath><clipPath id="cpER"><rect x="624" y="1661.7" width="623.5" height="554.4"/></clipPath></defs><g clip-path="url(#cpDT)"><rect x="1060.4" y="527.2" width="870.1" height="555.0" fill="url(#gridD)"/><polygon points="1495.5,705.4 1511.6,700.1 1522.3,696.1 1610.7,696.1 1648.2,696.1 1650.9,720.2 1685.7,722.9 1707.1,736.3 1709.8,749.6 1717.9,760.4 1719.2,792.5 1742.0,784.5 1744.6,803.2 1720.5,800.5 1683.0,805.9 1656.3,813.9 1648.2,830.0 1648.2,851.4 1642.9,872.9 1650.9,894.3 1661.6,910.4 1672.3,937.1 1685.7,974.6 1693.8,990.7 1701.8,1017.5 1717.9,1036.3 1731.3,1044.3 1736.6,1060.4 1720.5,1073.8 1680.4,1076.4 1653.6,1068.4 1640.2,1052.3 1637.5,1028.2 1634.8,1001.4 1629.5,974.6 1621.4,950.5 1610.7,931.8 1589.3,921.1 1567.9,923.8 1557.1,942.5 1546.4,953.2 1527.7,959.9 1498.2,955.9 1484.8,942.5 1476.8,926.4 1471.4,910.4 1463.4,894.3 1452.7,878.2 1439.3,867.5 1417.9,864.8 1417.9,856.8 1431.3,846.1 1439.3,830.0 1455.4,819.3 1468.8,805.9 1471.4,792.5 1476.8,776.4 1492.9,765.7 1508.9,755.0 1519.6,744.3 1522.3,728.2 1503.6,725.5 1495.5,720.2" fill="#fdfffd" /><polygon points="1375.0,947.9 1407.1,943.8 1433.9,961.3 1433.9,988.0 1431.3,1022.9 1425.9,1055.0 1415.2,1081.8 1337.5,1081.8 1337.5,1057.7 1353.6,1036.3 1369.6,1014.8 1377.7,974.6" fill="#fdfffd" /><polygon points="1458.0,797.9 1471.4,781.8 1487.5,771.1 1514.3,757.7 1535.7,747.0 1557.1,747.0 1565.2,760.4 1554.5,773.8 1551.8,792.5 1567.9,797.9 1608.0,800.5 1626.8,813.9 1640.2,832.7 1645.5,851.4 1640.2,872.9 1629.5,883.6 1608.0,891.6 1581.3,894.3 1557.1,891.6 1541.1,891.6 1535.7,902.3 1554.5,894.3 1581.3,894.3 1608.0,902.3 1626.8,915.7 1640.2,937.1 1648.2,963.9 1656.3,988.0 1661.6,1014.8 1667.0,1038.9 1683.0,1052.3 1709.8,1049.6 1728.6,1049.6 1733.9,1060.4 1717.9,1068.4 1680.4,1071.1 1656.3,1063.0 1645.5,1049.6 1640.2,1028.2 1637.5,1001.4 1632.1,974.6 1624.1,953.2 1613.4,934.5 1592.0,923.8 1567.9,926.4 1557.1,945.2 1543.8,955.9 1522.3,958.6 1492.9,950.5 1482.1,934.5 1474.1,915.7 1466.1,894.3 1455.4,880.9 1442.0,867.5 1433.9,854.1 1439.3,840.7 1450.0,830.0" fill="#cfcdd9" fill-opacity="0.9"/><polygon points="1458.0,797.9 1471.4,781.8 1487.5,771.1 1514.3,757.7 1535.7,747.0 1557.1,747.0 1565.2,760.4 1554.5,773.8 1551.8,792.5 1567.9,797.9 1608.0,800.5 1626.8,813.9 1640.2,832.7 1645.5,851.4 1640.2,872.9 1629.5,883.6 1608.0,891.6 1581.3,894.3 1557.1,891.6 1541.1,891.6 1535.7,902.3 1554.5,894.3 1581.3,894.3 1608.0,902.3 1626.8,915.7 1640.2,937.1 1648.2,963.9 1656.3,988.0 1661.6,1014.8 1667.0,1038.9 1683.0,1052.3 1709.8,1049.6 1728.6,1049.6 1733.9,1060.4 1717.9,1068.4 1680.4,1071.1 1656.3,1063.0 1645.5,1049.6 1640.2,1028.2 1637.5,1001.4 1632.1,974.6 1624.1,953.2 1613.4,934.5 1592.0,923.8 1567.9,926.4 1557.1,945.2 1543.8,955.9 1522.3,958.6 1492.9,950.5 1482.1,934.5 1474.1,915.7 1466.1,894.3 1455.4,880.9 1442.0,867.5 1433.9,854.1 1439.3,840.7 1450.0,830.0" fill="#6e6a88" filter="url(#mottleG)" opacity="0.55"/><polygon points="1380.4,958.6 1388.4,947.9 1401.8,945.2 1417.9,950.5 1425.9,961.3 1425.9,980.0 1423.2,1001.4 1417.9,1028.2 1409.8,1055.0 1401.8,1076.4 1377.7,1079.1 1372.3,1063.0 1372.3,1041.6 1377.7,1014.8 1380.4,988.0 1377.7,972.0" fill="#cfcdd9" fill-opacity="0.9"/><polygon points="1380.4,958.6 1388.4,947.9 1401.8,945.2 1417.9,950.5 1425.9,961.3 1425.9,980.0 1423.2,1001.4 1417.9,1028.2 1409.8,1055.0 1401.8,1076.4 1377.7,1079.1 1372.3,1063.0 1372.3,1041.6 1377.7,1014.8 1380.4,988.0 1377.7,972.0" fill="#6e6a88" filter="url(#mottleG)" opacity="0.55"/><polygon points="1525.0,819.3 1541.1,805.9 1557.1,800.5 1594.6,800.5 1621.4,808.6 1637.5,827.3 1645.5,854.1 1637.5,875.5 1621.4,886.3 1594.6,891.6 1557.1,891.6 1535.7,883.6 1527.7,867.5 1522.3,846.1" fill="#e8dcd4" fill-opacity="0.35"/><polygon points="1530.4,905.0 1567.9,897.0 1600.0,902.3 1621.4,915.7 1634.8,937.1 1645.5,969.3 1648.2,988.0 1637.5,988.0 1629.5,961.3 1616.1,937.1 1594.6,926.4 1567.9,926.4 1557.1,942.5 1541.1,953.2 1533.0,942.5 1527.7,921.1" fill="#e0d0c0" fill-opacity="0.35"/><polygon points="1435.3,851.4 1444.6,835.4 1460.7,828.7 1474.1,822.0 1492.9,826.0 1514.3,819.3 1535.7,827.3 1551.8,835.4 1561.2,843.4 1557.1,856.8 1541.1,864.8 1527.7,867.5 1522.3,872.9 1519.6,894.3 1522.3,915.7 1525.0,937.1 1517.0,947.9 1498.2,950.5 1487.5,945.2 1479.5,929.1 1474.1,913.0 1466.1,894.3 1455.4,880.9 1444.6,867.5" fill="#c6c6d4" fill-opacity="0.95"/><polygon points="1435.3,851.4 1444.6,835.4 1460.7,828.7 1474.1,822.0 1492.9,826.0 1514.3,819.3 1535.7,827.3 1551.8,835.4 1561.2,843.4 1557.1,856.8 1541.1,864.8 1527.7,867.5 1522.3,872.9 1519.6,894.3 1522.3,915.7 1525.0,937.1 1517.0,947.9 1498.2,950.5 1487.5,945.2 1479.5,929.1 1474.1,913.0 1466.1,894.3 1455.4,880.9 1444.6,867.5" fill="#4a2016" filter="url(#mottleR)"/><polygon points="1476.8,784.5 1487.5,779.1 1498.2,787.1 1506.3,800.5 1506.3,813.9 1492.9,819.3 1482.1,813.9 1476.8,800.5" fill="#c6c6d4" fill-opacity="0.95"/><polygon points="1476.8,784.5 1487.5,779.1 1498.2,787.1 1506.3,800.5 1506.3,813.9 1492.9,819.3 1482.1,813.9 1476.8,800.5" fill="#4a2016" filter="url(#mottleR)"/><polygon points="1379.0,963.9 1385.7,953.2 1396.4,947.9 1409.8,947.9 1420.5,958.6 1425.9,966.6 1417.9,974.6 1401.8,972.0 1388.4,977.3" fill="#c6c6d4" fill-opacity="0.95"/><polygon points="1379.0,963.9 1385.7,953.2 1396.4,947.9 1409.8,947.9 1420.5,958.6 1425.9,966.6 1417.9,974.6 1401.8,972.0 1388.4,977.3" fill="#4a2016" filter="url(#mottleR)"/><polygon points="1557.1,755.0 1567.9,749.6 1581.3,752.3 1581.3,763.0 1565.2,768.4 1557.1,765.7" fill="#e8b0a0" fill-opacity="0.7"/><polygon points="1495.5,705.4 1511.6,700.1 1522.3,696.1 1610.7,696.1 1648.2,696.1 1650.9,720.2 1685.7,722.9 1707.1,736.3 1709.8,749.6 1717.9,760.4 1719.2,792.5 1742.0,784.5 1744.6,803.2 1720.5,800.5 1683.0,805.9 1656.3,813.9 1648.2,830.0 1648.2,851.4 1642.9,872.9 1650.9,894.3 1661.6,910.4 1672.3,937.1 1685.7,974.6 1693.8,990.7 1701.8,1017.5 1717.9,1036.3 1731.3,1044.3 1736.6,1060.4 1720.5,1073.8 1680.4,1076.4 1653.6,1068.4 1640.2,1052.3 1637.5,1028.2 1634.8,1001.4 1629.5,974.6 1621.4,950.5 1610.7,931.8 1589.3,921.1 1567.9,923.8 1557.1,942.5 1546.4,953.2 1527.7,959.9 1498.2,955.9 1484.8,942.5 1476.8,926.4 1471.4,910.4 1463.4,894.3 1452.7,878.2 1439.3,867.5 1417.9,864.8 1417.9,856.8 1431.3,846.1 1439.3,830.0 1455.4,819.3 1468.8,805.9 1471.4,792.5 1476.8,776.4 1492.9,765.7 1508.9,755.0 1519.6,744.3 1522.3,728.2 1503.6,725.5 1495.5,720.2" fill="url(#gridDg)"/><polygon points="1375.0,947.9 1407.1,943.8 1433.9,961.3 1433.9,988.0 1431.3,1022.9 1425.9,1055.0 1415.2,1081.8 1337.5,1081.8 1337.5,1057.7 1353.6,1036.3 1369.6,1014.8 1377.7,974.6" fill="url(#gridDg)"/><polygon points="1525.0,819.3 1541.1,805.9 1557.1,800.5 1594.6,800.5 1621.4,808.6 1637.5,827.3 1645.5,854.1 1637.5,875.5 1621.4,886.3 1594.6,891.6 1557.1,891.6 1535.7,883.6 1527.7,867.5 1522.3,846.1" fill="url(#zDo)" /><polygon points="1530.4,905.0 1567.9,897.0 1600.0,902.3 1621.4,915.7 1634.8,937.1 1645.5,969.3 1648.2,988.0 1637.5,988.0 1629.5,961.3 1616.1,937.1 1594.6,926.4 1567.9,926.4 1557.1,942.5 1541.1,953.2 1533.0,942.5 1527.7,921.1" fill="url(#zDo)" /><polygon points="1612.1,928.0 1639.9,929.9 1654.9,950.0 1660.0,985.1 1650.1,992.1 1631.9,974.9 1617.9,955.1" fill="url(#zDo)" /><polygon points="1435.3,851.4 1444.6,835.4 1460.7,828.7 1474.1,822.0 1492.9,826.0 1514.3,819.3 1535.7,827.3 1551.8,835.4 1561.2,843.4 1557.1,856.8 1541.1,864.8 1527.7,867.5 1522.3,872.9 1519.6,894.3 1522.3,915.7 1525.0,937.1 1517.0,947.9 1498.2,950.5 1487.5,945.2 1479.5,929.1 1474.1,913.0 1466.1,894.3 1455.4,880.9 1444.6,867.5" fill="url(#zDr)" /><polygon points="1476.8,784.5 1487.5,779.1 1498.2,787.1 1506.3,800.5 1506.3,813.9 1492.9,819.3 1482.1,813.9 1476.8,800.5" fill="url(#zDr)" /><polygon points="1379.0,963.9 1385.7,953.2 1396.4,947.9 1409.8,947.9 1420.5,958.6 1425.9,966.6 1417.9,974.6 1401.8,972.0 1388.4,977.3" fill="url(#zDr)" /><polygon points="1557.1,755.0 1567.9,749.6 1581.3,752.3 1581.3,763.0 1565.2,768.4 1557.1,765.7" fill="url(#zDr)" /></g><g clip-path="url(#cpDB)"><rect x="1062.3" y="1083.8" width="867.5" height="551.9" fill="#f0f0f0"/><path d="M1090.0,1180.8 C1092.7,1175.4 1101.8,1174.4 1109.0,1178.1 C1116.3,1181.7 1129.0,1196.2 1133.6,1202.6 C1138.1,1209.0 1138.1,1209.4 1136.3,1216.2 C1134.5,1223.0 1120.4,1231.7 1122.7,1243.5 C1124.9,1255.3 1146.3,1275.3 1149.9,1287.1 C1153.5,1298.9 1149.0,1308.4 1144.5,1314.3 C1139.9,1320.2 1132.7,1319.7 1122.7,1322.5 C1112.7,1325.2 1091.3,1331.1 1084.5,1330.6 C1077.7,1330.2 1079.1,1324.3 1081.8,1319.7 C1084.5,1315.2 1098.1,1311.6 1100.9,1303.4 C1103.6,1295.2 1098.1,1280.7 1098.1,1270.7 C1098.1,1260.7 1101.8,1253.5 1100.9,1243.5 C1100.0,1233.5 1094.5,1221.2 1092.7,1210.8 C1090.9,1200.3 1087.2,1186.3 1090.0,1180.8Z" fill="#ebe6ea" stroke="none" stroke-width="0" fill-opacity="0.7"/><path d="M1090.0,1180.8 C1092.7,1175.4 1101.8,1174.4 1109.0,1178.1 C1116.3,1181.7 1129.0,1196.2 1133.6,1202.6 C1138.1,1209.0 1138.1,1209.4 1136.3,1216.2 C1134.5,1223.0 1120.4,1231.7 1122.7,1243.5 C1124.9,1255.3 1146.3,1275.3 1149.9,1287.1 C1153.5,1298.9 1149.0,1308.4 1144.5,1314.3 C1139.9,1320.2 1132.7,1319.7 1122.7,1322.5 C1112.7,1325.2 1091.3,1331.1 1084.5,1330.6 C1077.7,1330.2 1079.1,1324.3 1081.8,1319.7 C1084.5,1315.2 1098.1,1311.6 1100.9,1303.4 C1103.6,1295.2 1098.1,1280.7 1098.1,1270.7 C1098.1,1260.7 1101.8,1253.5 1100.9,1243.5 C1100.0,1233.5 1094.5,1221.2 1092.7,1210.8 C1090.9,1200.3 1087.2,1186.3 1090.0,1180.8Z" fill="#b890a8" stroke="none" stroke-width="0" filter="url(#stip)" opacity="0.4"/><path d="M1166.3,1251.6 C1165.8,1246.2 1180.3,1230.3 1188.0,1224.4 C1195.8,1218.5 1202.1,1219.9 1212.6,1216.2 C1223.0,1212.6 1242.5,1206.7 1250.7,1202.6 C1258.9,1198.5 1252.5,1194.4 1261.6,1191.7 C1270.7,1189.0 1293.4,1185.8 1305.2,1186.3 C1317.0,1186.7 1321.5,1193.5 1332.4,1194.4 C1343.3,1195.3 1363.1,1189.0 1370.6,1191.7 C1378.1,1194.4 1383.8,1205.8 1377.4,1210.8 C1371.0,1215.8 1344.5,1216.2 1332.4,1221.7 C1320.4,1227.1 1311.6,1236.7 1305.2,1243.5 C1298.8,1250.3 1303.4,1258.9 1294.3,1262.5 C1285.2,1266.2 1264.3,1263.9 1250.7,1265.3 C1237.1,1266.6 1222.6,1272.1 1212.6,1270.7 C1202.6,1269.3 1198.5,1260.3 1190.8,1257.1 C1183.1,1253.9 1166.7,1257.1 1166.3,1251.6Z" fill="#ebe6ea" stroke="none" stroke-width="0" fill-opacity="0.7"/><path d="M1166.3,1251.6 C1165.8,1246.2 1180.3,1230.3 1188.0,1224.4 C1195.8,1218.5 1202.1,1219.9 1212.6,1216.2 C1223.0,1212.6 1242.5,1206.7 1250.7,1202.6 C1258.9,1198.5 1252.5,1194.4 1261.6,1191.7 C1270.7,1189.0 1293.4,1185.8 1305.2,1186.3 C1317.0,1186.7 1321.5,1193.5 1332.4,1194.4 C1343.3,1195.3 1363.1,1189.0 1370.6,1191.7 C1378.1,1194.4 1383.8,1205.8 1377.4,1210.8 C1371.0,1215.8 1344.5,1216.2 1332.4,1221.7 C1320.4,1227.1 1311.6,1236.7 1305.2,1243.5 C1298.8,1250.3 1303.4,1258.9 1294.3,1262.5 C1285.2,1266.2 1264.3,1263.9 1250.7,1265.3 C1237.1,1266.6 1222.6,1272.1 1212.6,1270.7 C1202.6,1269.3 1198.5,1260.3 1190.8,1257.1 C1183.1,1253.9 1166.7,1257.1 1166.3,1251.6Z" fill="#b890a8" stroke="none" stroke-width="0" filter="url(#stip)" opacity="0.4"/><path d="M1117.2,1330.6 C1118.6,1327.5 1124.0,1329.7 1128.1,1333.4 C1132.2,1337.0 1136.7,1345.6 1141.7,1352.4 C1146.7,1359.3 1154.9,1367.9 1158.1,1374.2 C1161.3,1380.6 1161.7,1387.9 1160.8,1390.6 C1159.9,1393.3 1157.6,1393.3 1152.6,1390.6 C1147.6,1387.9 1136.3,1380.6 1130.8,1374.2 C1125.4,1367.9 1122.2,1359.7 1119.9,1352.4 C1117.7,1345.2 1115.9,1333.8 1117.2,1330.6Z" fill="#ebe6ea" stroke="none" stroke-width="0" fill-opacity="0.7"/><path d="M1117.2,1330.6 C1118.6,1327.5 1124.0,1329.7 1128.1,1333.4 C1132.2,1337.0 1136.7,1345.6 1141.7,1352.4 C1146.7,1359.3 1154.9,1367.9 1158.1,1374.2 C1161.3,1380.6 1161.7,1387.9 1160.8,1390.6 C1159.9,1393.3 1157.6,1393.3 1152.6,1390.6 C1147.6,1387.9 1136.3,1380.6 1130.8,1374.2 C1125.4,1367.9 1122.2,1359.7 1119.9,1352.4 C1117.7,1345.2 1115.9,1333.8 1117.2,1330.6Z" fill="#b890a8" stroke="none" stroke-width="0" filter="url(#stip)" opacity="0.4"/><path d="M1152.6,1529.5 C1156.7,1522.3 1168.5,1523.6 1174.4,1526.8 C1180.3,1530.0 1181.7,1541.3 1188.0,1548.6 C1194.4,1555.9 1206.2,1562.2 1212.6,1570.4 C1218.9,1578.6 1223.5,1586.7 1226.2,1597.6 C1228.9,1608.5 1237.5,1629.4 1228.9,1635.8 C1220.3,1642.1 1186.7,1639.9 1174.4,1635.8 C1162.2,1631.7 1159.4,1622.2 1155.4,1611.3 C1151.3,1600.4 1150.4,1584.0 1149.9,1570.4 C1149.5,1556.8 1148.5,1536.8 1152.6,1529.5Z" fill="#ebe6ea" stroke="none" stroke-width="0" fill-opacity="0.7"/><path d="M1152.6,1529.5 C1156.7,1522.3 1168.5,1523.6 1174.4,1526.8 C1180.3,1530.0 1181.7,1541.3 1188.0,1548.6 C1194.4,1555.9 1206.2,1562.2 1212.6,1570.4 C1218.9,1578.6 1223.5,1586.7 1226.2,1597.6 C1228.9,1608.5 1237.5,1629.4 1228.9,1635.8 C1220.3,1642.1 1186.7,1639.9 1174.4,1635.8 C1162.2,1631.7 1159.4,1622.2 1155.4,1611.3 C1151.3,1600.4 1150.4,1584.0 1149.9,1570.4 C1149.5,1556.8 1148.5,1536.8 1152.6,1529.5Z" fill="#b890a8" stroke="none" stroke-width="0" filter="url(#stip)" opacity="0.4"/><path d="M1258.9,1254.4 L1299.7,1227.1 L1316.1,1236.7" stroke="#d65a92" stroke-width="2" fill="none"/><path d="M1283.4,1221.7 L1290.2,1202.6" stroke="#d65a92" stroke-width="2" fill="none"/><path d="M1098.1,1227.1 L1110.4,1251.6" stroke="#d65a92" stroke-width="1.8" fill="none"/><path d="M1482.6,1164.7 C1488.1,1150.2 1507.0,1153.6 1523.6,1146.7 C1540.3,1139.9 1560.0,1132.2 1582.7,1123.6 C1605.4,1115.1 1638.3,1101.8 1659.7,1095.4 C1681.1,1089.0 1685.4,1086.4 1711.0,1085.1 C1736.7,1083.9 1783.8,1086.0 1813.7,1087.7 C1843.6,1089.4 1873.6,1088.1 1890.7,1095.4 C1907.8,1102.7 1914.2,1118.9 1916.4,1131.3 C1918.5,1143.7 1912.1,1160.4 1903.5,1169.8 C1895.0,1179.3 1877.9,1180.5 1865.0,1187.8 C1852.2,1195.1 1834.2,1201.5 1826.5,1213.5 C1818.8,1225.5 1818.4,1245.1 1818.8,1259.7 C1819.3,1274.2 1828.7,1287.9 1829.1,1300.8 C1829.5,1313.6 1828.2,1326.4 1821.4,1336.7 C1814.6,1347.0 1797.9,1355.9 1788.0,1362.4 C1778.2,1368.8 1770.9,1369.6 1762.4,1375.2 C1753.8,1380.8 1749.5,1394.4 1736.7,1395.7 C1723.9,1397.0 1700.3,1387.6 1685.4,1382.9 C1670.4,1378.2 1664.0,1375.2 1646.9,1367.5 C1629.7,1359.8 1601.9,1346.1 1582.7,1336.7 C1563.4,1327.3 1545.9,1318.7 1531.3,1311.0 C1516.8,1303.3 1502.2,1303.3 1495.4,1290.5 C1488.6,1277.7 1492.4,1255.0 1490.3,1234.0 C1488.1,1213.1 1477.0,1179.3 1482.6,1164.7Z" fill="#ebe7ea" stroke="none" stroke-width="0" fill-opacity="0.5"/><path d="M1482.6,1164.7 C1488.1,1150.2 1507.0,1153.6 1523.6,1146.7 C1540.3,1139.9 1560.0,1132.2 1582.7,1123.6 C1605.4,1115.1 1638.3,1101.8 1659.7,1095.4 C1681.1,1089.0 1685.4,1086.4 1711.0,1085.1 C1736.7,1083.9 1783.8,1086.0 1813.7,1087.7 C1843.6,1089.4 1873.6,1088.1 1890.7,1095.4 C1907.8,1102.7 1914.2,1118.9 1916.4,1131.3 C1918.5,1143.7 1912.1,1160.4 1903.5,1169.8 C1895.0,1179.3 1877.9,1180.5 1865.0,1187.8 C1852.2,1195.1 1834.2,1201.5 1826.5,1213.5 C1818.8,1225.5 1818.4,1245.1 1818.8,1259.7 C1819.3,1274.2 1828.7,1287.9 1829.1,1300.8 C1829.5,1313.6 1828.2,1326.4 1821.4,1336.7 C1814.6,1347.0 1797.9,1355.9 1788.0,1362.4 C1778.2,1368.8 1770.9,1369.6 1762.4,1375.2 C1753.8,1380.8 1749.5,1394.4 1736.7,1395.7 C1723.9,1397.0 1700.3,1387.6 1685.4,1382.9 C1670.4,1378.2 1664.0,1375.2 1646.9,1367.5 C1629.7,1359.8 1601.9,1346.1 1582.7,1336.7 C1563.4,1327.3 1545.9,1318.7 1531.3,1311.0 C1516.8,1303.3 1502.2,1303.3 1495.4,1290.5 C1488.6,1277.7 1492.4,1255.0 1490.3,1234.0 C1488.1,1213.1 1477.0,1179.3 1482.6,1164.7Z" fill="#b8a0b0" stroke="none" stroke-width="0" filter="url(#stip)" opacity="0.22"/><path d="M1587.8,1123.6 C1599.8,1119.8 1639.1,1107.0 1659.7,1100.5 C1680.2,1094.1 1702.5,1087.7 1711.0,1085.1" stroke="#d77aa0" stroke-width="1.5" fill="none"/><path d="M1634.0,1362.4 C1642.6,1365.8 1668.2,1377.3 1685.4,1382.9 C1702.5,1388.5 1728.1,1393.6 1736.7,1395.7" stroke="#d77aa0" stroke-width="1.5" fill="none"/><path d="M1522.4,1250.7h5.4v5.4h-5.4zM1603.5,1250.7h5.4v5.4h-5.4zM1608.9,1250.7h5.4v5.4h-5.4zM1517.0,1256.0h5.4v5.4h-5.4zM1522.4,1256.0h5.4v5.4h-5.4zM1544.0,1256.0h5.4v5.4h-5.4zM1549.4,1256.0h5.4v5.4h-5.4zM1554.8,1256.0h5.4v5.4h-5.4zM1560.2,1256.0h5.4v5.4h-5.4zM1576.5,1256.0h5.4v5.4h-5.4zM1581.9,1256.0h5.4v5.4h-5.4zM1603.5,1256.0h5.4v5.4h-5.4zM1608.9,1256.0h5.4v5.4h-5.4zM1619.7,1256.0h5.4v5.4h-5.4zM1625.1,1256.0h5.4v5.4h-5.4zM1506.2,1261.4h5.4v5.4h-5.4zM1511.6,1261.4h5.4v5.4h-5.4zM1517.0,1261.4h5.4v5.4h-5.4zM1527.8,1261.4h5.4v5.4h-5.4zM1538.6,1261.4h5.4v5.4h-5.4zM1544.0,1261.4h5.4v5.4h-5.4zM1549.4,1261.4h5.4v5.4h-5.4zM1554.8,1261.4h5.4v5.4h-5.4zM1560.2,1261.4h5.4v5.4h-5.4zM1565.7,1261.4h5.4v5.4h-5.4zM1571.1,1261.4h5.4v5.4h-5.4zM1576.5,1261.4h5.4v5.4h-5.4zM1581.9,1261.4h5.4v5.4h-5.4zM1587.3,1261.4h5.4v5.4h-5.4zM1592.7,1261.4h5.4v5.4h-5.4zM1603.5,1261.4h5.4v5.4h-5.4zM1608.9,1261.4h5.4v5.4h-5.4zM1614.3,1261.4h5.4v5.4h-5.4zM1619.7,1261.4h5.4v5.4h-5.4zM1625.1,1261.4h5.4v5.4h-5.4zM1500.8,1266.8h5.4v5.4h-5.4zM1506.2,1266.8h5.4v5.4h-5.4zM1511.6,1266.8h5.4v5.4h-5.4zM1517.0,1266.8h5.4v5.4h-5.4zM1522.4,1266.8h5.4v5.4h-5.4zM1527.8,1266.8h5.4v5.4h-5.4zM1533.2,1266.8h5.4v5.4h-5.4zM1538.6,1266.8h5.4v5.4h-5.4zM1544.0,1266.8h5.4v5.4h-5.4zM1549.4,1266.8h5.4v5.4h-5.4zM1554.8,1266.8h5.4v5.4h-5.4zM1560.2,1266.8h5.4v5.4h-5.4zM1565.7,1266.8h5.4v5.4h-5.4zM1571.1,1266.8h5.4v5.4h-5.4zM1576.5,1266.8h5.4v5.4h-5.4zM1581.9,1266.8h5.4v5.4h-5.4zM1587.3,1266.8h5.4v5.4h-5.4zM1592.7,1266.8h5.4v5.4h-5.4zM1500.8,1272.2h5.4v5.4h-5.4zM1511.6,1272.2h5.4v5.4h-5.4zM1517.0,1272.2h5.4v5.4h-5.4zM1522.4,1272.2h5.4v5.4h-5.4zM1527.8,1272.2h5.4v5.4h-5.4zM1533.2,1272.2h5.4v5.4h-5.4zM1544.0,1272.2h5.4v5.4h-5.4zM1549.4,1272.2h5.4v5.4h-5.4zM1554.8,1272.2h5.4v5.4h-5.4zM1560.2,1272.2h5.4v5.4h-5.4zM1571.1,1272.2h5.4v5.4h-5.4zM1576.5,1272.2h5.4v5.4h-5.4zM1581.9,1272.2h5.4v5.4h-5.4zM1587.3,1272.2h5.4v5.4h-5.4zM1592.7,1272.2h5.4v5.4h-5.4zM1511.6,1277.6h5.4v5.4h-5.4zM1522.4,1277.6h5.4v5.4h-5.4zM1527.8,1277.6h5.4v5.4h-5.4zM1533.2,1277.6h5.4v5.4h-5.4zM1544.0,1277.6h5.4v5.4h-5.4zM1554.8,1277.6h5.4v5.4h-5.4zM1565.7,1277.6h5.4v5.4h-5.4zM1571.1,1277.6h5.4v5.4h-5.4zM1576.5,1277.6h5.4v5.4h-5.4zM1581.9,1277.6h5.4v5.4h-5.4zM1587.3,1277.6h5.4v5.4h-5.4zM1592.7,1277.6h5.4v5.4h-5.4zM1522.4,1282.9h5.4v5.4h-5.4zM1527.8,1282.9h5.4v5.4h-5.4zM1533.2,1282.9h5.4v5.4h-5.4zM1538.6,1282.9h5.4v5.4h-5.4zM1544.0,1282.9h5.4v5.4h-5.4zM1549.4,1282.9h5.4v5.4h-5.4zM1554.8,1282.9h5.4v5.4h-5.4zM1560.2,1282.9h5.4v5.4h-5.4zM1565.7,1282.9h5.4v5.4h-5.4zM1571.1,1282.9h5.4v5.4h-5.4zM1576.5,1282.9h5.4v5.4h-5.4zM1581.9,1282.9h5.4v5.4h-5.4zM1587.3,1282.9h5.4v5.4h-5.4zM1598.1,1282.9h5.4v5.4h-5.4zM1603.5,1282.9h5.4v5.4h-5.4zM1608.9,1282.9h5.4v5.4h-5.4zM1625.1,1282.9h5.4v5.4h-5.4zM1630.5,1282.9h5.4v5.4h-5.4zM1517.0,1288.3h5.4v5.4h-5.4zM1522.4,1288.3h5.4v5.4h-5.4zM1527.8,1288.3h5.4v5.4h-5.4zM1533.2,1288.3h5.4v5.4h-5.4zM1538.6,1288.3h5.4v5.4h-5.4zM1544.0,1288.3h5.4v5.4h-5.4zM1549.4,1288.3h5.4v5.4h-5.4zM1554.8,1288.3h5.4v5.4h-5.4zM1560.2,1288.3h5.4v5.4h-5.4zM1565.7,1288.3h5.4v5.4h-5.4zM1576.5,1288.3h5.4v5.4h-5.4zM1592.7,1288.3h5.4v5.4h-5.4zM1598.1,1288.3h5.4v5.4h-5.4zM1603.5,1288.3h5.4v5.4h-5.4zM1608.9,1288.3h5.4v5.4h-5.4zM1614.3,1288.3h5.4v5.4h-5.4zM1619.7,1288.3h5.4v5.4h-5.4zM1625.1,1288.3h5.4v5.4h-5.4zM1630.5,1288.3h5.4v5.4h-5.4zM1635.9,1288.3h5.4v5.4h-5.4zM1646.7,1288.3h5.4v5.4h-5.4zM1652.2,1288.3h5.4v5.4h-5.4zM1522.4,1293.7h5.4v5.4h-5.4zM1527.8,1293.7h5.4v5.4h-5.4zM1533.2,1293.7h5.4v5.4h-5.4zM1538.6,1293.7h5.4v5.4h-5.4zM1544.0,1293.7h5.4v5.4h-5.4zM1549.4,1293.7h5.4v5.4h-5.4zM1554.8,1293.7h5.4v5.4h-5.4zM1560.2,1293.7h5.4v5.4h-5.4zM1565.7,1293.7h5.4v5.4h-5.4zM1571.1,1293.7h5.4v5.4h-5.4zM1576.5,1293.7h5.4v5.4h-5.4zM1581.9,1293.7h5.4v5.4h-5.4zM1587.3,1293.7h5.4v5.4h-5.4zM1592.7,1293.7h5.4v5.4h-5.4zM1598.1,1293.7h5.4v5.4h-5.4zM1603.5,1293.7h5.4v5.4h-5.4zM1608.9,1293.7h5.4v5.4h-5.4zM1614.3,1293.7h5.4v5.4h-5.4zM1625.1,1293.7h5.4v5.4h-5.4zM1630.5,1293.7h5.4v5.4h-5.4zM1635.9,1293.7h5.4v5.4h-5.4zM1646.7,1293.7h5.4v5.4h-5.4zM1517.0,1299.1h5.4v5.4h-5.4zM1522.4,1299.1h5.4v5.4h-5.4zM1527.8,1299.1h5.4v5.4h-5.4zM1533.2,1299.1h5.4v5.4h-5.4zM1538.6,1299.1h5.4v5.4h-5.4zM1544.0,1299.1h5.4v5.4h-5.4zM1549.4,1299.1h5.4v5.4h-5.4zM1554.8,1299.1h5.4v5.4h-5.4zM1560.2,1299.1h5.4v5.4h-5.4zM1565.7,1299.1h5.4v5.4h-5.4zM1571.1,1299.1h5.4v5.4h-5.4zM1576.5,1299.1h5.4v5.4h-5.4zM1587.3,1299.1h5.4v5.4h-5.4zM1592.7,1299.1h5.4v5.4h-5.4zM1598.1,1299.1h5.4v5.4h-5.4zM1603.5,1299.1h5.4v5.4h-5.4zM1614.3,1299.1h5.4v5.4h-5.4zM1619.7,1299.1h5.4v5.4h-5.4zM1625.1,1299.1h5.4v5.4h-5.4zM1630.5,1299.1h5.4v5.4h-5.4zM1635.9,1299.1h5.4v5.4h-5.4zM1641.3,1299.1h5.4v5.4h-5.4zM1646.7,1299.1h5.4v5.4h-5.4zM1652.2,1299.1h5.4v5.4h-5.4zM1663.0,1299.1h5.4v5.4h-5.4zM1511.6,1304.5h5.4v5.4h-5.4zM1522.4,1304.5h5.4v5.4h-5.4zM1527.8,1304.5h5.4v5.4h-5.4zM1533.2,1304.5h5.4v5.4h-5.4zM1538.6,1304.5h5.4v5.4h-5.4zM1544.0,1304.5h5.4v5.4h-5.4zM1549.4,1304.5h5.4v5.4h-5.4zM1554.8,1304.5h5.4v5.4h-5.4zM1560.2,1304.5h5.4v5.4h-5.4zM1571.1,1304.5h5.4v5.4h-5.4zM1576.5,1304.5h5.4v5.4h-5.4zM1581.9,1304.5h5.4v5.4h-5.4zM1587.3,1304.5h5.4v5.4h-5.4zM1592.7,1304.5h5.4v5.4h-5.4zM1598.1,1304.5h5.4v5.4h-5.4zM1603.5,1304.5h5.4v5.4h-5.4zM1614.3,1304.5h5.4v5.4h-5.4zM1619.7,1304.5h5.4v5.4h-5.4zM1625.1,1304.5h5.4v5.4h-5.4zM1630.5,1304.5h5.4v5.4h-5.4zM1635.9,1304.5h5.4v5.4h-5.4zM1511.6,1309.8h5.4v5.4h-5.4zM1517.0,1309.8h5.4v5.4h-5.4zM1522.4,1309.8h5.4v5.4h-5.4zM1527.8,1309.8h5.4v5.4h-5.4zM1533.2,1309.8h5.4v5.4h-5.4zM1538.6,1309.8h5.4v5.4h-5.4zM1544.0,1309.8h5.4v5.4h-5.4zM1549.4,1309.8h5.4v5.4h-5.4zM1554.8,1309.8h5.4v5.4h-5.4zM1560.2,1309.8h5.4v5.4h-5.4zM1571.1,1309.8h5.4v5.4h-5.4zM1576.5,1309.8h5.4v5.4h-5.4zM1581.9,1309.8h5.4v5.4h-5.4zM1587.3,1309.8h5.4v5.4h-5.4zM1592.7,1309.8h5.4v5.4h-5.4zM1598.1,1309.8h5.4v5.4h-5.4zM1603.5,1309.8h5.4v5.4h-5.4zM1608.9,1309.8h5.4v5.4h-5.4zM1614.3,1309.8h5.4v5.4h-5.4zM1619.7,1309.8h5.4v5.4h-5.4zM1625.1,1309.8h5.4v5.4h-5.4zM1630.5,1309.8h5.4v5.4h-5.4zM1635.9,1309.8h5.4v5.4h-5.4zM1641.3,1309.8h5.4v5.4h-5.4zM1517.0,1315.2h5.4v5.4h-5.4zM1522.4,1315.2h5.4v5.4h-5.4zM1527.8,1315.2h5.4v5.4h-5.4zM1533.2,1315.2h5.4v5.4h-5.4zM1538.6,1315.2h5.4v5.4h-5.4zM1544.0,1315.2h5.4v5.4h-5.4zM1549.4,1315.2h5.4v5.4h-5.4zM1554.8,1315.2h5.4v5.4h-5.4zM1565.7,1315.2h5.4v5.4h-5.4zM1576.5,1315.2h5.4v5.4h-5.4zM1581.9,1315.2h5.4v5.4h-5.4zM1587.3,1315.2h5.4v5.4h-5.4zM1592.7,1315.2h5.4v5.4h-5.4zM1598.1,1315.2h5.4v5.4h-5.4zM1603.5,1315.2h5.4v5.4h-5.4zM1608.9,1315.2h5.4v5.4h-5.4zM1614.3,1315.2h5.4v5.4h-5.4zM1625.1,1315.2h5.4v5.4h-5.4zM1630.5,1315.2h5.4v5.4h-5.4zM1635.9,1315.2h5.4v5.4h-5.4zM1641.3,1315.2h5.4v5.4h-5.4zM1517.0,1320.6h5.4v5.4h-5.4zM1522.4,1320.6h5.4v5.4h-5.4zM1527.8,1320.6h5.4v5.4h-5.4zM1533.2,1320.6h5.4v5.4h-5.4zM1538.6,1320.6h5.4v5.4h-5.4zM1544.0,1320.6h5.4v5.4h-5.4zM1554.8,1320.6h5.4v5.4h-5.4zM1560.2,1320.6h5.4v5.4h-5.4zM1565.7,1320.6h5.4v5.4h-5.4zM1571.1,1320.6h5.4v5.4h-5.4zM1576.5,1320.6h5.4v5.4h-5.4zM1587.3,1320.6h5.4v5.4h-5.4zM1592.7,1320.6h5.4v5.4h-5.4zM1598.1,1320.6h5.4v5.4h-5.4zM1603.5,1320.6h5.4v5.4h-5.4zM1614.3,1320.6h5.4v5.4h-5.4zM1619.7,1320.6h5.4v5.4h-5.4zM1625.1,1320.6h5.4v5.4h-5.4zM1630.5,1320.6h5.4v5.4h-5.4zM1544.0,1326.0h5.4v5.4h-5.4zM1549.4,1326.0h5.4v5.4h-5.4zM1554.8,1326.0h5.4v5.4h-5.4zM1560.2,1326.0h5.4v5.4h-5.4zM1565.7,1326.0h5.4v5.4h-5.4zM1571.1,1326.0h5.4v5.4h-5.4zM1576.5,1326.0h5.4v5.4h-5.4zM1581.9,1326.0h5.4v5.4h-5.4zM1587.3,1326.0h5.4v5.4h-5.4zM1592.7,1326.0h5.4v5.4h-5.4zM1598.1,1326.0h5.4v5.4h-5.4zM1603.5,1326.0h5.4v5.4h-5.4zM1608.9,1326.0h5.4v5.4h-5.4zM1614.3,1326.0h5.4v5.4h-5.4zM1619.7,1326.0h5.4v5.4h-5.4zM1625.1,1326.0h5.4v5.4h-5.4zM1630.5,1326.0h5.4v5.4h-5.4zM1641.3,1326.0h5.4v5.4h-5.4zM1549.4,1331.3h5.4v5.4h-5.4zM1554.8,1331.3h5.4v5.4h-5.4zM1560.2,1331.3h5.4v5.4h-5.4zM1565.7,1331.3h5.4v5.4h-5.4zM1571.1,1331.3h5.4v5.4h-5.4zM1576.5,1331.3h5.4v5.4h-5.4zM1581.9,1331.3h5.4v5.4h-5.4zM1587.3,1331.3h5.4v5.4h-5.4zM1592.7,1331.3h5.4v5.4h-5.4zM1598.1,1331.3h5.4v5.4h-5.4zM1603.5,1331.3h5.4v5.4h-5.4zM1608.9,1331.3h5.4v5.4h-5.4zM1619.7,1331.3h5.4v5.4h-5.4zM1625.1,1331.3h5.4v5.4h-5.4zM1630.5,1331.3h5.4v5.4h-5.4zM1635.9,1331.3h5.4v5.4h-5.4zM1641.3,1331.3h5.4v5.4h-5.4zM1646.7,1331.3h5.4v5.4h-5.4zM1549.4,1336.7h5.4v5.4h-5.4zM1554.8,1336.7h5.4v5.4h-5.4zM1560.2,1336.7h5.4v5.4h-5.4zM1565.7,1336.7h5.4v5.4h-5.4zM1571.1,1336.7h5.4v5.4h-5.4zM1576.5,1336.7h5.4v5.4h-5.4zM1581.9,1336.7h5.4v5.4h-5.4zM1587.3,1336.7h5.4v5.4h-5.4zM1592.7,1336.7h5.4v5.4h-5.4zM1598.1,1336.7h5.4v5.4h-5.4zM1603.5,1336.7h5.4v5.4h-5.4zM1608.9,1336.7h5.4v5.4h-5.4zM1614.3,1336.7h5.4v5.4h-5.4zM1619.7,1336.7h5.4v5.4h-5.4zM1625.1,1336.7h5.4v5.4h-5.4zM1630.5,1336.7h5.4v5.4h-5.4zM1635.9,1336.7h5.4v5.4h-5.4zM1641.3,1336.7h5.4v5.4h-5.4zM1657.6,1336.7h5.4v5.4h-5.4zM1663.0,1336.7h5.4v5.4h-5.4zM1554.8,1342.1h5.4v5.4h-5.4zM1560.2,1342.1h5.4v5.4h-5.4zM1565.7,1342.1h5.4v5.4h-5.4zM1571.1,1342.1h5.4v5.4h-5.4zM1576.5,1342.1h5.4v5.4h-5.4zM1581.9,1342.1h5.4v5.4h-5.4zM1587.3,1342.1h5.4v5.4h-5.4zM1603.5,1342.1h5.4v5.4h-5.4zM1608.9,1342.1h5.4v5.4h-5.4zM1614.3,1342.1h5.4v5.4h-5.4zM1619.7,1342.1h5.4v5.4h-5.4zM1625.1,1342.1h5.4v5.4h-5.4zM1630.5,1342.1h5.4v5.4h-5.4zM1635.9,1342.1h5.4v5.4h-5.4zM1641.3,1342.1h5.4v5.4h-5.4zM1646.7,1342.1h5.4v5.4h-5.4zM1652.2,1342.1h5.4v5.4h-5.4zM1560.2,1347.5h5.4v5.4h-5.4zM1565.7,1347.5h5.4v5.4h-5.4zM1576.5,1347.5h5.4v5.4h-5.4zM1587.3,1347.5h5.4v5.4h-5.4zM1608.9,1347.5h5.4v5.4h-5.4zM1614.3,1347.5h5.4v5.4h-5.4zM1619.7,1347.5h5.4v5.4h-5.4zM1630.5,1347.5h5.4v5.4h-5.4zM1641.3,1347.5h5.4v5.4h-5.4zM1646.7,1347.5h5.4v5.4h-5.4zM1652.2,1347.5h5.4v5.4h-5.4zM1657.6,1347.5h5.4v5.4h-5.4zM1663.0,1347.5h5.4v5.4h-5.4zM1625.1,1352.9h5.4v5.4h-5.4zM1630.5,1352.9h5.4v5.4h-5.4zM1635.9,1352.9h5.4v5.4h-5.4zM1641.3,1352.9h5.4v5.4h-5.4zM1646.7,1352.9h5.4v5.4h-5.4zM1652.2,1352.9h5.4v5.4h-5.4zM1657.6,1352.9h5.4v5.4h-5.4zM1663.0,1352.9h5.4v5.4h-5.4zM1668.4,1352.9h5.4v5.4h-5.4zM1641.3,1358.2h5.4v5.4h-5.4zM1652.2,1358.2h5.4v5.4h-5.4zM1663.0,1358.2h5.4v5.4h-5.4zM1668.4,1358.2h5.4v5.4h-5.4zM1663.0,1363.6h5.4v5.4h-5.4zM1668.4,1363.6h5.4v5.4h-5.4z" fill="#9590cd"/><path d="M1587.3,1256.0h5.4v5.4h-5.4zM1500.8,1261.4h5.4v5.4h-5.4zM1533.2,1261.4h5.4v5.4h-5.4zM1506.2,1272.2h5.4v5.4h-5.4zM1538.6,1272.2h5.4v5.4h-5.4zM1565.7,1272.2h5.4v5.4h-5.4zM1500.8,1277.6h5.4v5.4h-5.4zM1549.4,1277.6h5.4v5.4h-5.4zM1592.7,1282.9h5.4v5.4h-5.4zM1571.1,1288.3h5.4v5.4h-5.4zM1581.9,1288.3h5.4v5.4h-5.4zM1587.3,1288.3h5.4v5.4h-5.4zM1652.2,1293.7h5.4v5.4h-5.4zM1581.9,1299.1h5.4v5.4h-5.4zM1608.9,1304.5h5.4v5.4h-5.4zM1646.7,1304.5h5.4v5.4h-5.4zM1565.7,1309.8h5.4v5.4h-5.4zM1571.1,1315.2h5.4v5.4h-5.4zM1581.9,1320.6h5.4v5.4h-5.4zM1608.9,1320.6h5.4v5.4h-5.4zM1614.3,1331.3h5.4v5.4h-5.4zM1646.7,1336.7h5.4v5.4h-5.4zM1592.7,1342.1h5.4v5.4h-5.4zM1657.6,1342.1h5.4v5.4h-5.4zM1581.9,1347.5h5.4v5.4h-5.4zM1635.9,1347.5h5.4v5.4h-5.4zM1646.7,1358.2h5.4v5.4h-5.4zM1657.6,1363.6h5.4v5.4h-5.4z" fill="#8e98d2"/><path d="M1679.2,1277.6h5.4v5.4h-5.4zM1673.8,1282.9h5.4v5.4h-5.4zM1679.2,1282.9h5.4v5.4h-5.4zM1679.2,1288.3h5.4v5.4h-5.4zM1684.6,1288.3h5.4v5.4h-5.4zM1673.8,1293.7h5.4v5.4h-5.4zM1679.2,1293.7h5.4v5.4h-5.4zM1684.6,1293.7h5.4v5.4h-5.4zM1690.0,1293.7h5.4v5.4h-5.4zM1695.4,1293.7h5.4v5.4h-5.4zM1684.6,1299.1h5.4v5.4h-5.4zM1695.4,1299.1h5.4v5.4h-5.4zM1700.8,1299.1h5.4v5.4h-5.4zM1679.2,1304.5h5.4v5.4h-5.4zM1684.6,1304.5h5.4v5.4h-5.4zM1700.8,1304.5h5.4v5.4h-5.4zM1684.6,1309.8h5.4v5.4h-5.4zM1690.0,1309.8h5.4v5.4h-5.4zM1695.4,1309.8h5.4v5.4h-5.4zM1700.8,1309.8h5.4v5.4h-5.4zM1684.6,1315.2h5.4v5.4h-5.4zM1684.6,1320.6h5.4v5.4h-5.4zM1690.0,1320.6h5.4v5.4h-5.4zM1700.8,1326.0h5.4v5.4h-5.4zM1684.6,1331.3h5.4v5.4h-5.4zM1690.0,1331.3h5.4v5.4h-5.4zM1695.4,1331.3h5.4v5.4h-5.4zM1706.2,1331.3h5.4v5.4h-5.4zM1695.4,1336.7h5.4v5.4h-5.4zM1700.8,1336.7h5.4v5.4h-5.4z" fill="#9590cd"/><path d="M1673.8,1288.3h5.4v5.4h-5.4zM1700.8,1320.6h5.4v5.4h-5.4zM1690.0,1326.0h5.4v5.4h-5.4z" fill="#7fb0d0"/><path d="M1549.4,1428.2h5.4v5.4h-5.4zM1630.5,1433.5h5.4v5.4h-5.4zM1630.5,1438.9h5.4v5.4h-5.4zM1544.0,1449.7h5.4v5.4h-5.4zM1625.1,1455.1h5.4v5.4h-5.4zM1635.9,1455.1h5.4v5.4h-5.4zM1549.4,1460.4h5.4v5.4h-5.4zM1581.9,1460.4h5.4v5.4h-5.4zM1598.1,1460.4h5.4v5.4h-5.4zM1625.1,1460.4h5.4v5.4h-5.4zM1587.3,1465.8h5.4v5.4h-5.4zM1592.7,1465.8h5.4v5.4h-5.4zM1603.5,1465.8h5.4v5.4h-5.4zM1581.9,1471.2h5.4v5.4h-5.4zM1630.5,1471.2h5.4v5.4h-5.4zM1657.6,1471.2h5.4v5.4h-5.4zM1608.9,1476.6h5.4v5.4h-5.4zM1630.5,1482.0h5.4v5.4h-5.4zM1663.0,1487.3h5.4v5.4h-5.4zM1635.9,1492.7h5.4v5.4h-5.4zM1630.5,1503.5h5.4v5.4h-5.4zM1652.2,1503.5h5.4v5.4h-5.4zM1663.0,1503.5h5.4v5.4h-5.4zM1625.1,1508.9h5.4v5.4h-5.4zM1668.4,1508.9h5.4v5.4h-5.4zM1652.2,1514.2h5.4v5.4h-5.4zM1657.6,1519.6h5.4v5.4h-5.4zM1663.0,1530.4h5.4v5.4h-5.4zM1630.5,1535.8h5.4v5.4h-5.4zM1673.8,1535.8h5.4v5.4h-5.4zM1690.0,1546.5h5.4v5.4h-5.4zM1668.4,1551.9h5.4v5.4h-5.4zM1641.3,1557.3h5.4v5.4h-5.4zM1668.4,1562.6h5.4v5.4h-5.4zM1684.6,1562.6h5.4v5.4h-5.4zM1635.9,1568.0h5.4v5.4h-5.4zM1663.0,1568.0h5.4v5.4h-5.4zM1663.0,1573.4h5.4v5.4h-5.4zM1673.8,1573.4h5.4v5.4h-5.4zM1684.6,1573.4h5.4v5.4h-5.4zM1690.0,1573.4h5.4v5.4h-5.4zM1706.2,1573.4h5.4v5.4h-5.4zM1652.2,1578.8h5.4v5.4h-5.4zM1700.8,1578.8h5.4v5.4h-5.4zM1695.4,1584.2h5.4v5.4h-5.4zM1641.3,1589.5h5.4v5.4h-5.4zM1673.8,1594.9h5.4v5.4h-5.4zM1668.4,1600.3h5.4v5.4h-5.4z" fill="#8e98d2"/><path d="M1554.8,1428.2h5.4v5.4h-5.4zM1565.7,1428.2h5.4v5.4h-5.4zM1581.9,1428.2h5.4v5.4h-5.4zM1598.1,1428.2h5.4v5.4h-5.4zM1603.5,1428.2h5.4v5.4h-5.4zM1608.9,1428.2h5.4v5.4h-5.4zM1614.3,1428.2h5.4v5.4h-5.4zM1619.7,1428.2h5.4v5.4h-5.4zM1630.5,1428.2h5.4v5.4h-5.4zM1549.4,1433.5h5.4v5.4h-5.4zM1554.8,1433.5h5.4v5.4h-5.4zM1560.2,1433.5h5.4v5.4h-5.4zM1565.7,1433.5h5.4v5.4h-5.4zM1571.1,1433.5h5.4v5.4h-5.4zM1581.9,1433.5h5.4v5.4h-5.4zM1587.3,1433.5h5.4v5.4h-5.4zM1592.7,1433.5h5.4v5.4h-5.4zM1598.1,1433.5h5.4v5.4h-5.4zM1603.5,1433.5h5.4v5.4h-5.4zM1608.9,1433.5h5.4v5.4h-5.4zM1614.3,1433.5h5.4v5.4h-5.4zM1619.7,1433.5h5.4v5.4h-5.4zM1625.1,1433.5h5.4v5.4h-5.4zM1635.9,1433.5h5.4v5.4h-5.4zM1641.3,1433.5h5.4v5.4h-5.4zM1544.0,1438.9h5.4v5.4h-5.4zM1549.4,1438.9h5.4v5.4h-5.4zM1554.8,1438.9h5.4v5.4h-5.4zM1560.2,1438.9h5.4v5.4h-5.4zM1565.7,1438.9h5.4v5.4h-5.4zM1571.1,1438.9h5.4v5.4h-5.4zM1576.5,1438.9h5.4v5.4h-5.4zM1581.9,1438.9h5.4v5.4h-5.4zM1587.3,1438.9h5.4v5.4h-5.4zM1592.7,1438.9h5.4v5.4h-5.4zM1598.1,1438.9h5.4v5.4h-5.4zM1603.5,1438.9h5.4v5.4h-5.4zM1608.9,1438.9h5.4v5.4h-5.4zM1614.3,1438.9h5.4v5.4h-5.4zM1619.7,1438.9h5.4v5.4h-5.4zM1625.1,1438.9h5.4v5.4h-5.4zM1635.9,1438.9h5.4v5.4h-5.4zM1641.3,1438.9h5.4v5.4h-5.4zM1544.0,1444.3h5.4v5.4h-5.4zM1549.4,1444.3h5.4v5.4h-5.4zM1554.8,1444.3h5.4v5.4h-5.4zM1560.2,1444.3h5.4v5.4h-5.4zM1565.7,1444.3h5.4v5.4h-5.4zM1571.1,1444.3h5.4v5.4h-5.4zM1576.5,1444.3h5.4v5.4h-5.4zM1581.9,1444.3h5.4v5.4h-5.4zM1587.3,1444.3h5.4v5.4h-5.4zM1592.7,1444.3h5.4v5.4h-5.4zM1598.1,1444.3h5.4v5.4h-5.4zM1603.5,1444.3h5.4v5.4h-5.4zM1608.9,1444.3h5.4v5.4h-5.4zM1614.3,1444.3h5.4v5.4h-5.4zM1619.7,1444.3h5.4v5.4h-5.4zM1625.1,1444.3h5.4v5.4h-5.4zM1630.5,1444.3h5.4v5.4h-5.4zM1635.9,1444.3h5.4v5.4h-5.4zM1641.3,1444.3h5.4v5.4h-5.4zM1646.7,1444.3h5.4v5.4h-5.4zM1549.4,1449.7h5.4v5.4h-5.4zM1554.8,1449.7h5.4v5.4h-5.4zM1560.2,1449.7h5.4v5.4h-5.4zM1565.7,1449.7h5.4v5.4h-5.4zM1571.1,1449.7h5.4v5.4h-5.4zM1576.5,1449.7h5.4v5.4h-5.4zM1581.9,1449.7h5.4v5.4h-5.4zM1587.3,1449.7h5.4v5.4h-5.4zM1592.7,1449.7h5.4v5.4h-5.4zM1598.1,1449.7h5.4v5.4h-5.4zM1603.5,1449.7h5.4v5.4h-5.4zM1608.9,1449.7h5.4v5.4h-5.4zM1614.3,1449.7h5.4v5.4h-5.4zM1619.7,1449.7h5.4v5.4h-5.4zM1625.1,1449.7h5.4v5.4h-5.4zM1630.5,1449.7h5.4v5.4h-5.4zM1635.9,1449.7h5.4v5.4h-5.4zM1641.3,1449.7h5.4v5.4h-5.4zM1646.7,1449.7h5.4v5.4h-5.4zM1652.2,1449.7h5.4v5.4h-5.4zM1544.0,1455.1h5.4v5.4h-5.4zM1549.4,1455.1h5.4v5.4h-5.4zM1554.8,1455.1h5.4v5.4h-5.4zM1560.2,1455.1h5.4v5.4h-5.4zM1565.7,1455.1h5.4v5.4h-5.4zM1571.1,1455.1h5.4v5.4h-5.4zM1576.5,1455.1h5.4v5.4h-5.4zM1581.9,1455.1h5.4v5.4h-5.4zM1587.3,1455.1h5.4v5.4h-5.4zM1592.7,1455.1h5.4v5.4h-5.4zM1598.1,1455.1h5.4v5.4h-5.4zM1603.5,1455.1h5.4v5.4h-5.4zM1608.9,1455.1h5.4v5.4h-5.4zM1614.3,1455.1h5.4v5.4h-5.4zM1619.7,1455.1h5.4v5.4h-5.4zM1630.5,1455.1h5.4v5.4h-5.4zM1641.3,1455.1h5.4v5.4h-5.4zM1646.7,1455.1h5.4v5.4h-5.4zM1652.2,1455.1h5.4v5.4h-5.4zM1538.6,1460.4h5.4v5.4h-5.4zM1544.0,1460.4h5.4v5.4h-5.4zM1554.8,1460.4h5.4v5.4h-5.4zM1565.7,1460.4h5.4v5.4h-5.4zM1571.1,1460.4h5.4v5.4h-5.4zM1576.5,1460.4h5.4v5.4h-5.4zM1587.3,1460.4h5.4v5.4h-5.4zM1603.5,1460.4h5.4v5.4h-5.4zM1608.9,1460.4h5.4v5.4h-5.4zM1614.3,1460.4h5.4v5.4h-5.4zM1619.7,1460.4h5.4v5.4h-5.4zM1630.5,1460.4h5.4v5.4h-5.4zM1635.9,1460.4h5.4v5.4h-5.4zM1641.3,1460.4h5.4v5.4h-5.4zM1646.7,1460.4h5.4v5.4h-5.4zM1652.2,1460.4h5.4v5.4h-5.4zM1554.8,1465.8h5.4v5.4h-5.4zM1560.2,1465.8h5.4v5.4h-5.4zM1571.1,1465.8h5.4v5.4h-5.4zM1576.5,1465.8h5.4v5.4h-5.4zM1581.9,1465.8h5.4v5.4h-5.4zM1598.1,1465.8h5.4v5.4h-5.4zM1608.9,1465.8h5.4v5.4h-5.4zM1614.3,1465.8h5.4v5.4h-5.4zM1619.7,1465.8h5.4v5.4h-5.4zM1625.1,1465.8h5.4v5.4h-5.4zM1630.5,1465.8h5.4v5.4h-5.4zM1635.9,1465.8h5.4v5.4h-5.4zM1641.3,1465.8h5.4v5.4h-5.4zM1646.7,1465.8h5.4v5.4h-5.4zM1652.2,1465.8h5.4v5.4h-5.4zM1657.6,1465.8h5.4v5.4h-5.4zM1571.1,1471.2h5.4v5.4h-5.4zM1576.5,1471.2h5.4v5.4h-5.4zM1587.3,1471.2h5.4v5.4h-5.4zM1592.7,1471.2h5.4v5.4h-5.4zM1598.1,1471.2h5.4v5.4h-5.4zM1603.5,1471.2h5.4v5.4h-5.4zM1608.9,1471.2h5.4v5.4h-5.4zM1614.3,1471.2h5.4v5.4h-5.4zM1619.7,1471.2h5.4v5.4h-5.4zM1625.1,1471.2h5.4v5.4h-5.4zM1635.9,1471.2h5.4v5.4h-5.4zM1641.3,1471.2h5.4v5.4h-5.4zM1646.7,1471.2h5.4v5.4h-5.4zM1652.2,1471.2h5.4v5.4h-5.4zM1598.1,1476.6h5.4v5.4h-5.4zM1603.5,1476.6h5.4v5.4h-5.4zM1614.3,1476.6h5.4v5.4h-5.4zM1619.7,1476.6h5.4v5.4h-5.4zM1625.1,1476.6h5.4v5.4h-5.4zM1630.5,1476.6h5.4v5.4h-5.4zM1635.9,1476.6h5.4v5.4h-5.4zM1641.3,1476.6h5.4v5.4h-5.4zM1646.7,1476.6h5.4v5.4h-5.4zM1652.2,1476.6h5.4v5.4h-5.4zM1657.6,1476.6h5.4v5.4h-5.4zM1614.3,1482.0h5.4v5.4h-5.4zM1619.7,1482.0h5.4v5.4h-5.4zM1625.1,1482.0h5.4v5.4h-5.4zM1635.9,1482.0h5.4v5.4h-5.4zM1641.3,1482.0h5.4v5.4h-5.4zM1646.7,1482.0h5.4v5.4h-5.4zM1652.2,1482.0h5.4v5.4h-5.4zM1657.6,1482.0h5.4v5.4h-5.4zM1614.3,1487.3h5.4v5.4h-5.4zM1619.7,1487.3h5.4v5.4h-5.4zM1625.1,1487.3h5.4v5.4h-5.4zM1630.5,1487.3h5.4v5.4h-5.4zM1635.9,1487.3h5.4v5.4h-5.4zM1641.3,1487.3h5.4v5.4h-5.4zM1646.7,1487.3h5.4v5.4h-5.4zM1652.2,1487.3h5.4v5.4h-5.4zM1657.6,1487.3h5.4v5.4h-5.4zM1668.4,1487.3h5.4v5.4h-5.4zM1619.7,1492.7h5.4v5.4h-5.4zM1625.1,1492.7h5.4v5.4h-5.4zM1630.5,1492.7h5.4v5.4h-5.4zM1641.3,1492.7h5.4v5.4h-5.4zM1646.7,1492.7h5.4v5.4h-5.4zM1652.2,1492.7h5.4v5.4h-5.4zM1663.0,1492.7h5.4v5.4h-5.4zM1619.7,1498.1h5.4v5.4h-5.4zM1625.1,1498.1h5.4v5.4h-5.4zM1630.5,1498.1h5.4v5.4h-5.4zM1635.9,1498.1h5.4v5.4h-5.4zM1641.3,1498.1h5.4v5.4h-5.4zM1652.2,1498.1h5.4v5.4h-5.4zM1657.6,1498.1h5.4v5.4h-5.4zM1663.0,1498.1h5.4v5.4h-5.4zM1619.7,1503.5h5.4v5.4h-5.4zM1625.1,1503.5h5.4v5.4h-5.4zM1635.9,1503.5h5.4v5.4h-5.4zM1641.3,1503.5h5.4v5.4h-5.4zM1668.4,1503.5h5.4v5.4h-5.4zM1673.8,1503.5h5.4v5.4h-5.4zM1619.7,1508.9h5.4v5.4h-5.4zM1630.5,1508.9h5.4v5.4h-5.4zM1635.9,1508.9h5.4v5.4h-5.4zM1641.3,1508.9h5.4v5.4h-5.4zM1646.7,1508.9h5.4v5.4h-5.4zM1652.2,1508.9h5.4v5.4h-5.4zM1657.6,1508.9h5.4v5.4h-5.4zM1663.0,1508.9h5.4v5.4h-5.4zM1625.1,1514.2h5.4v5.4h-5.4zM1630.5,1514.2h5.4v5.4h-5.4zM1635.9,1514.2h5.4v5.4h-5.4zM1641.3,1514.2h5.4v5.4h-5.4zM1646.7,1514.2h5.4v5.4h-5.4zM1657.6,1514.2h5.4v5.4h-5.4zM1663.0,1514.2h5.4v5.4h-5.4zM1668.4,1514.2h5.4v5.4h-5.4zM1630.5,1519.6h5.4v5.4h-5.4zM1635.9,1519.6h5.4v5.4h-5.4zM1641.3,1519.6h5.4v5.4h-5.4zM1646.7,1519.6h5.4v5.4h-5.4zM1652.2,1519.6h5.4v5.4h-5.4zM1663.0,1519.6h5.4v5.4h-5.4zM1668.4,1519.6h5.4v5.4h-5.4zM1679.2,1519.6h5.4v5.4h-5.4zM1625.1,1525.0h5.4v5.4h-5.4zM1635.9,1525.0h5.4v5.4h-5.4zM1641.3,1525.0h5.4v5.4h-5.4zM1646.7,1525.0h5.4v5.4h-5.4zM1652.2,1525.0h5.4v5.4h-5.4zM1657.6,1525.0h5.4v5.4h-5.4zM1663.0,1525.0h5.4v5.4h-5.4zM1668.4,1525.0h5.4v5.4h-5.4zM1673.8,1525.0h5.4v5.4h-5.4zM1679.2,1525.0h5.4v5.4h-5.4zM1635.9,1530.4h5.4v5.4h-5.4zM1641.3,1530.4h5.4v5.4h-5.4zM1646.7,1530.4h5.4v5.4h-5.4zM1652.2,1530.4h5.4v5.4h-5.4zM1657.6,1530.4h5.4v5.4h-5.4zM1668.4,1530.4h5.4v5.4h-5.4zM1673.8,1530.4h5.4v5.4h-5.4zM1679.2,1530.4h5.4v5.4h-5.4zM1635.9,1535.8h5.4v5.4h-5.4zM1641.3,1535.8h5.4v5.4h-5.4zM1646.7,1535.8h5.4v5.4h-5.4zM1652.2,1535.8h5.4v5.4h-5.4zM1657.6,1535.8h5.4v5.4h-5.4zM1663.0,1535.8h5.4v5.4h-5.4zM1668.4,1535.8h5.4v5.4h-5.4zM1679.2,1535.8h5.4v5.4h-5.4zM1684.6,1535.8h5.4v5.4h-5.4zM1690.0,1535.8h5.4v5.4h-5.4zM1635.9,1541.1h5.4v5.4h-5.4zM1641.3,1541.1h5.4v5.4h-5.4zM1646.7,1541.1h5.4v5.4h-5.4zM1657.6,1541.1h5.4v5.4h-5.4zM1663.0,1541.1h5.4v5.4h-5.4zM1668.4,1541.1h5.4v5.4h-5.4zM1673.8,1541.1h5.4v5.4h-5.4zM1679.2,1541.1h5.4v5.4h-5.4zM1684.6,1541.1h5.4v5.4h-5.4zM1690.0,1541.1h5.4v5.4h-5.4zM1630.5,1546.5h5.4v5.4h-5.4zM1635.9,1546.5h5.4v5.4h-5.4zM1641.3,1546.5h5.4v5.4h-5.4zM1646.7,1546.5h5.4v5.4h-5.4zM1652.2,1546.5h5.4v5.4h-5.4zM1657.6,1546.5h5.4v5.4h-5.4zM1663.0,1546.5h5.4v5.4h-5.4zM1668.4,1546.5h5.4v5.4h-5.4zM1673.8,1546.5h5.4v5.4h-5.4zM1679.2,1546.5h5.4v5.4h-5.4zM1684.6,1546.5h5.4v5.4h-5.4zM1695.4,1546.5h5.4v5.4h-5.4zM1630.5,1551.9h5.4v5.4h-5.4zM1635.9,1551.9h5.4v5.4h-5.4zM1641.3,1551.9h5.4v5.4h-5.4zM1646.7,1551.9h5.4v5.4h-5.4zM1652.2,1551.9h5.4v5.4h-5.4zM1657.6,1551.9h5.4v5.4h-5.4zM1663.0,1551.9h5.4v5.4h-5.4zM1673.8,1551.9h5.4v5.4h-5.4zM1679.2,1551.9h5.4v5.4h-5.4zM1684.6,1551.9h5.4v5.4h-5.4zM1690.0,1551.9h5.4v5.4h-5.4zM1695.4,1551.9h5.4v5.4h-5.4zM1635.9,1557.3h5.4v5.4h-5.4zM1646.7,1557.3h5.4v5.4h-5.4zM1652.2,1557.3h5.4v5.4h-5.4zM1657.6,1557.3h5.4v5.4h-5.4zM1663.0,1557.3h5.4v5.4h-5.4zM1668.4,1557.3h5.4v5.4h-5.4zM1673.8,1557.3h5.4v5.4h-5.4zM1684.6,1557.3h5.4v5.4h-5.4zM1690.0,1557.3h5.4v5.4h-5.4zM1695.4,1557.3h5.4v5.4h-5.4zM1700.8,1557.3h5.4v5.4h-5.4zM1635.9,1562.6h5.4v5.4h-5.4zM1641.3,1562.6h5.4v5.4h-5.4zM1646.7,1562.6h5.4v5.4h-5.4zM1652.2,1562.6h5.4v5.4h-5.4zM1657.6,1562.6h5.4v5.4h-5.4zM1663.0,1562.6h5.4v5.4h-5.4zM1673.8,1562.6h5.4v5.4h-5.4zM1679.2,1562.6h5.4v5.4h-5.4zM1690.0,1562.6h5.4v5.4h-5.4zM1695.4,1562.6h5.4v5.4h-5.4zM1700.8,1562.6h5.4v5.4h-5.4zM1641.3,1568.0h5.4v5.4h-5.4zM1646.7,1568.0h5.4v5.4h-5.4zM1652.2,1568.0h5.4v5.4h-5.4zM1657.6,1568.0h5.4v5.4h-5.4zM1668.4,1568.0h5.4v5.4h-5.4zM1673.8,1568.0h5.4v5.4h-5.4zM1679.2,1568.0h5.4v5.4h-5.4zM1684.6,1568.0h5.4v5.4h-5.4zM1690.0,1568.0h5.4v5.4h-5.4zM1695.4,1568.0h5.4v5.4h-5.4zM1706.2,1568.0h5.4v5.4h-5.4zM1635.9,1573.4h5.4v5.4h-5.4zM1641.3,1573.4h5.4v5.4h-5.4zM1646.7,1573.4h5.4v5.4h-5.4zM1652.2,1573.4h5.4v5.4h-5.4zM1657.6,1573.4h5.4v5.4h-5.4zM1668.4,1573.4h5.4v5.4h-5.4zM1679.2,1573.4h5.4v5.4h-5.4zM1695.4,1573.4h5.4v5.4h-5.4zM1700.8,1573.4h5.4v5.4h-5.4zM1635.9,1578.8h5.4v5.4h-5.4zM1641.3,1578.8h5.4v5.4h-5.4zM1646.7,1578.8h5.4v5.4h-5.4zM1657.6,1578.8h5.4v5.4h-5.4zM1663.0,1578.8h5.4v5.4h-5.4zM1668.4,1578.8h5.4v5.4h-5.4zM1673.8,1578.8h5.4v5.4h-5.4zM1679.2,1578.8h5.4v5.4h-5.4zM1684.6,1578.8h5.4v5.4h-5.4zM1690.0,1578.8h5.4v5.4h-5.4zM1695.4,1578.8h5.4v5.4h-5.4zM1706.2,1578.8h5.4v5.4h-5.4zM1641.3,1584.2h5.4v5.4h-5.4zM1646.7,1584.2h5.4v5.4h-5.4zM1652.2,1584.2h5.4v5.4h-5.4zM1657.6,1584.2h5.4v5.4h-5.4zM1663.0,1584.2h5.4v5.4h-5.4zM1668.4,1584.2h5.4v5.4h-5.4zM1673.8,1584.2h5.4v5.4h-5.4zM1679.2,1584.2h5.4v5.4h-5.4zM1684.6,1584.2h5.4v5.4h-5.4zM1706.2,1584.2h5.4v5.4h-5.4zM1711.6,1584.2h5.4v5.4h-5.4zM1717.0,1584.2h5.4v5.4h-5.4zM1722.4,1584.2h5.4v5.4h-5.4zM1646.7,1589.5h5.4v5.4h-5.4zM1652.2,1589.5h5.4v5.4h-5.4zM1657.6,1589.5h5.4v5.4h-5.4zM1663.0,1589.5h5.4v5.4h-5.4zM1668.4,1589.5h5.4v5.4h-5.4zM1673.8,1589.5h5.4v5.4h-5.4zM1679.2,1589.5h5.4v5.4h-5.4zM1684.6,1589.5h5.4v5.4h-5.4zM1690.0,1589.5h5.4v5.4h-5.4zM1695.4,1589.5h5.4v5.4h-5.4zM1700.8,1589.5h5.4v5.4h-5.4zM1706.2,1589.5h5.4v5.4h-5.4zM1711.6,1589.5h5.4v5.4h-5.4zM1717.0,1589.5h5.4v5.4h-5.4zM1646.7,1594.9h5.4v5.4h-5.4zM1652.2,1594.9h5.4v5.4h-5.4zM1657.6,1594.9h5.4v5.4h-5.4zM1663.0,1594.9h5.4v5.4h-5.4zM1668.4,1594.9h5.4v5.4h-5.4zM1679.2,1594.9h5.4v5.4h-5.4zM1684.6,1594.9h5.4v5.4h-5.4zM1690.0,1594.9h5.4v5.4h-5.4zM1695.4,1594.9h5.4v5.4h-5.4zM1700.8,1594.9h5.4v5.4h-5.4zM1706.2,1594.9h5.4v5.4h-5.4zM1711.6,1594.9h5.4v5.4h-5.4zM1717.0,1594.9h5.4v5.4h-5.4zM1722.4,1594.9h5.4v5.4h-5.4zM1727.8,1594.9h5.4v5.4h-5.4zM1646.7,1600.3h5.4v5.4h-5.4zM1652.2,1600.3h5.4v5.4h-5.4zM1657.6,1600.3h5.4v5.4h-5.4zM1663.0,1600.3h5.4v5.4h-5.4zM1679.2,1600.3h5.4v5.4h-5.4zM1684.6,1600.3h5.4v5.4h-5.4zM1695.4,1600.3h5.4v5.4h-5.4zM1700.8,1600.3h5.4v5.4h-5.4zM1706.2,1600.3h5.4v5.4h-5.4zM1711.6,1600.3h5.4v5.4h-5.4zM1717.0,1600.3h5.4v5.4h-5.4zM1722.4,1600.3h5.4v5.4h-5.4zM1727.8,1600.3h5.4v5.4h-5.4zM1652.2,1605.7h5.4v5.4h-5.4zM1657.6,1605.7h5.4v5.4h-5.4zM1663.0,1605.7h5.4v5.4h-5.4zM1668.4,1605.7h5.4v5.4h-5.4zM1673.8,1605.7h5.4v5.4h-5.4zM1679.2,1605.7h5.4v5.4h-5.4zM1684.6,1605.7h5.4v5.4h-5.4zM1690.0,1605.7h5.4v5.4h-5.4zM1695.4,1605.7h5.4v5.4h-5.4zM1700.8,1605.7h5.4v5.4h-5.4zM1706.2,1605.7h5.4v5.4h-5.4zM1711.6,1605.7h5.4v5.4h-5.4zM1717.0,1605.7h5.4v5.4h-5.4zM1722.4,1605.7h5.4v5.4h-5.4zM1727.8,1605.7h5.4v5.4h-5.4zM1652.2,1611.1h5.4v5.4h-5.4zM1657.6,1611.1h5.4v5.4h-5.4zM1663.0,1611.1h5.4v5.4h-5.4zM1668.4,1611.1h5.4v5.4h-5.4zM1673.8,1611.1h5.4v5.4h-5.4zM1679.2,1611.1h5.4v5.4h-5.4zM1684.6,1611.1h5.4v5.4h-5.4zM1690.0,1611.1h5.4v5.4h-5.4zM1695.4,1611.1h5.4v5.4h-5.4zM1700.8,1611.1h5.4v5.4h-5.4zM1706.2,1611.1h5.4v5.4h-5.4zM1711.6,1611.1h5.4v5.4h-5.4zM1717.0,1611.1h5.4v5.4h-5.4zM1722.4,1611.1h5.4v5.4h-5.4zM1727.8,1611.1h5.4v5.4h-5.4zM1657.6,1616.4h5.4v5.4h-5.4zM1663.0,1616.4h5.4v5.4h-5.4zM1668.4,1616.4h5.4v5.4h-5.4zM1673.8,1616.4h5.4v5.4h-5.4zM1679.2,1616.4h5.4v5.4h-5.4zM1684.6,1616.4h5.4v5.4h-5.4zM1695.4,1616.4h5.4v5.4h-5.4zM1717.0,1616.4h5.4v5.4h-5.4zM1722.4,1616.4h5.4v5.4h-5.4zM1663.0,1621.8h5.4v5.4h-5.4zM1668.4,1621.8h5.4v5.4h-5.4zM1690.0,1621.8h5.4v5.4h-5.4zM1700.8,1621.8h5.4v5.4h-5.4zM1706.2,1621.8h5.4v5.4h-5.4z" fill="#9590cd"/><rect x="1641.3" y="1250.7" width="5.4" height="5.4" fill="#9590cd"/><rect x="1646.7" y="1256.0" width="5.4" height="5.4" fill="#9590cd"/><rect x="1646.7" y="1261.4" width="5.4" height="5.4" fill="#9590cd"/><rect x="1641.3" y="1266.8" width="5.4" height="5.4" fill="#9590cd"/><rect x="1635.9" y="1277.6" width="5.4" height="5.4" fill="#9590cd"/><rect x="1706.2" y="1347.5" width="5.4" height="5.4" fill="#9590cd"/><rect x="1722.4" y="1347.5" width="5.4" height="5.4" fill="#9590cd"/><rect x="1733.2" y="1336.7" width="5.4" height="5.4" fill="#9590cd"/><rect x="1738.6" y="1347.5" width="5.4" height="5.4" fill="#9590cd"/><rect x="1733.2" y="1352.9" width="5.4" height="5.4" fill="#9590cd"/><rect x="1657.6" y="1336.7" width="5.4" height="5.4" fill="#9590cd"/><rect x="1646.7" y="1331.3" width="5.4" height="5.4" fill="#9590cd"/><rect x="1711.6" y="1326.0" width="5.4" height="5.4" fill="#9590cd"/><rect x="1695.4" y="1331.3" width="5.4" height="5.4" fill="#9590cd"/><defs><pattern id="wgrid" x="1517.0" y="1266.8" width="16.218" height="16.137" patternUnits="userSpaceOnUse"><path d="M0,0 V16.137 M0,0 H16.218" stroke="#f4f2f8" stroke-width="1.6" fill="none"/></pattern></defs><polygon points="1496.4,1261.9 1506.6,1256.4 1517.5,1255.6 1525.3,1251.7 1528.4,1256.4 1550.3,1256.4 1567.5,1255.6 1581.6,1257.2 1594.1,1256.4 1611.2,1251.7 1614.4,1255.6 1630.8,1255.6 1630.8,1265.0 1620.6,1265.8 1598.8,1266.6 1598.8,1282.2 1615.9,1284.5 1633.1,1283.8 1642.5,1291.6 1651.9,1290.0 1667.5,1294.7 1669.1,1304.1 1656.6,1304.1 1647.2,1308.8 1647.2,1315.0 1644.1,1322.8 1648.8,1333.8 1664.4,1336.9 1673.8,1349.4 1673.8,1365.0 1664.4,1369.7 1645.6,1363.4 1630.0,1360.3 1625.3,1352.5 1598.8,1352.5 1567.5,1352.5 1556.6,1347.8 1548.8,1340.0 1536.2,1327.5 1517.5,1324.4 1511.2,1318.1 1506.6,1313.4 1512.8,1302.5 1519.1,1290.0 1517.5,1283.8 1498.8,1283.8 1496.4,1271.2" fill="url(#wgrid)" opacity="0.9"/><polygon points="1551.8,1426.4 1623.2,1426.4 1645.5,1435.4 1656.7,1453.2 1663.4,1471.1 1674.6,1497.9 1681.2,1520.2 1696.9,1542.5 1708.0,1569.3 1725.9,1587.1 1734.8,1605.0 1730.4,1620.6 1681.2,1629.6 1654.5,1627.3 1650.0,1609.5 1638.8,1582.7 1632.1,1553.7 1629.9,1531.3 1621.0,1515.7 1614.3,1488.9 1600.9,1480.0 1574.1,1475.5 1538.4,1464.4 1542.9,1444.3" fill="url(#wgrid)" opacity="0.9"/><path d="M1625.1,1487.3h5.4v5.4h-5.4zM1635.9,1546.5h5.4v5.4h-5.4zM1641.3,1557.3h5.4v5.4h-5.4zM1646.7,1562.6h5.4v5.4h-5.4zM1635.9,1568.0h5.4v5.4h-5.4zM1646.7,1594.9h5.4v5.4h-5.4zM1668.4,1600.3h5.4v5.4h-5.4zM1684.6,1605.7h5.4v5.4h-5.4zM1663.0,1611.1h5.4v5.4h-5.4zM1690.0,1616.4h5.4v5.4h-5.4zM1700.8,1616.4h5.4v5.4h-5.4zM1679.2,1621.8h5.4v5.4h-5.4zM1554.8,1460.4h5.4v5.4h-5.4zM1571.1,1460.4h5.4v5.4h-5.4zM1544.0,1465.8h5.4v5.4h-5.4zM1587.3,1471.2h5.4v5.4h-5.4zM1571.1,1476.6h5.4v5.4h-5.4zM1598.1,1482.0h5.4v5.4h-5.4z" fill="#f3e5a2"/><path d="M1630.5,1492.7h5.4v5.4h-5.4zM1625.1,1503.5h5.4v5.4h-5.4zM1630.5,1503.5h5.4v5.4h-5.4zM1625.1,1508.9h5.4v5.4h-5.4zM1635.9,1508.9h5.4v5.4h-5.4zM1646.7,1546.5h5.4v5.4h-5.4zM1646.7,1557.3h5.4v5.4h-5.4zM1635.9,1573.4h5.4v5.4h-5.4zM1635.9,1578.8h5.4v5.4h-5.4zM1641.3,1584.2h5.4v5.4h-5.4zM1646.7,1589.5h5.4v5.4h-5.4zM1657.6,1589.5h5.4v5.4h-5.4zM1652.2,1605.7h5.4v5.4h-5.4zM1668.4,1605.7h5.4v5.4h-5.4zM1717.0,1611.1h5.4v5.4h-5.4zM1668.4,1616.4h5.4v5.4h-5.4zM1727.8,1616.4h5.4v5.4h-5.4zM1652.2,1621.8h5.4v5.4h-5.4zM1706.2,1621.8h5.4v5.4h-5.4zM1673.8,1627.2h5.4v5.4h-5.4zM1538.6,1455.1h5.4v5.4h-5.4zM1549.4,1465.8h5.4v5.4h-5.4zM1565.7,1465.8h5.4v5.4h-5.4zM1544.0,1471.2h5.4v5.4h-5.4zM1576.5,1476.6h5.4v5.4h-5.4zM1592.7,1476.6h5.4v5.4h-5.4zM1560.2,1482.0h5.4v5.4h-5.4z" fill="#6fa8d6"/><path d="M1635.9,1492.7h5.4v5.4h-5.4zM1619.7,1498.1h5.4v5.4h-5.4zM1641.3,1498.1h5.4v5.4h-5.4zM1641.3,1508.9h5.4v5.4h-5.4zM1635.9,1519.6h5.4v5.4h-5.4zM1641.3,1525.0h5.4v5.4h-5.4zM1641.3,1535.8h5.4v5.4h-5.4zM1641.3,1546.5h5.4v5.4h-5.4zM1630.5,1551.9h5.4v5.4h-5.4zM1635.9,1557.3h5.4v5.4h-5.4zM1652.2,1557.3h5.4v5.4h-5.4zM1657.6,1594.9h5.4v5.4h-5.4zM1652.2,1600.3h5.4v5.4h-5.4zM1657.6,1611.1h5.4v5.4h-5.4zM1679.2,1616.4h5.4v5.4h-5.4zM1549.4,1455.1h5.4v5.4h-5.4zM1554.8,1455.1h5.4v5.4h-5.4zM1527.8,1465.8h5.4v5.4h-5.4zM1538.6,1465.8h5.4v5.4h-5.4zM1533.2,1471.2h5.4v5.4h-5.4zM1549.4,1471.2h5.4v5.4h-5.4zM1565.7,1471.2h5.4v5.4h-5.4zM1571.1,1471.2h5.4v5.4h-5.4zM1581.9,1471.2h5.4v5.4h-5.4zM1554.8,1476.6h5.4v5.4h-5.4zM1581.9,1476.6h5.4v5.4h-5.4z" fill="#8ccbb4"/><path d="M1625.1,1498.1h5.4v5.4h-5.4zM1619.7,1508.9h5.4v5.4h-5.4zM1630.5,1508.9h5.4v5.4h-5.4zM1630.5,1514.2h5.4v5.4h-5.4zM1635.9,1514.2h5.4v5.4h-5.4zM1630.5,1519.6h5.4v5.4h-5.4zM1625.1,1525.0h5.4v5.4h-5.4zM1630.5,1525.0h5.4v5.4h-5.4zM1635.9,1530.4h5.4v5.4h-5.4zM1630.5,1546.5h5.4v5.4h-5.4zM1652.2,1562.6h5.4v5.4h-5.4zM1646.7,1568.0h5.4v5.4h-5.4zM1657.6,1584.2h5.4v5.4h-5.4zM1652.2,1589.5h5.4v5.4h-5.4zM1652.2,1594.9h5.4v5.4h-5.4zM1657.6,1605.7h5.4v5.4h-5.4zM1673.8,1611.1h5.4v5.4h-5.4zM1679.2,1611.1h5.4v5.4h-5.4zM1727.8,1611.1h5.4v5.4h-5.4zM1706.2,1616.4h5.4v5.4h-5.4zM1722.4,1616.4h5.4v5.4h-5.4zM1663.0,1621.8h5.4v5.4h-5.4zM1668.4,1621.8h5.4v5.4h-5.4zM1673.8,1621.8h5.4v5.4h-5.4zM1679.2,1627.2h5.4v5.4h-5.4zM1544.0,1460.4h5.4v5.4h-5.4zM1549.4,1460.4h5.4v5.4h-5.4zM1554.8,1465.8h5.4v5.4h-5.4zM1571.1,1465.8h5.4v5.4h-5.4zM1576.5,1465.8h5.4v5.4h-5.4zM1560.2,1471.2h5.4v5.4h-5.4zM1576.5,1471.2h5.4v5.4h-5.4zM1538.6,1476.6h5.4v5.4h-5.4zM1544.0,1476.6h5.4v5.4h-5.4zM1549.4,1476.6h5.4v5.4h-5.4zM1587.3,1476.6h5.4v5.4h-5.4zM1598.1,1476.6h5.4v5.4h-5.4zM1544.0,1482.0h5.4v5.4h-5.4zM1554.8,1482.0h5.4v5.4h-5.4zM1592.7,1482.0h5.4v5.4h-5.4z" fill="#9590cd"/><path d="M1630.5,1498.1h5.4v5.4h-5.4zM1641.3,1530.4h5.4v5.4h-5.4zM1635.9,1535.8h5.4v5.4h-5.4zM1635.9,1551.9h5.4v5.4h-5.4zM1646.7,1573.4h5.4v5.4h-5.4zM1641.3,1578.8h5.4v5.4h-5.4zM1646.7,1584.2h5.4v5.4h-5.4zM1663.0,1600.3h5.4v5.4h-5.4zM1668.4,1611.1h5.4v5.4h-5.4zM1673.8,1616.4h5.4v5.4h-5.4zM1695.4,1616.4h5.4v5.4h-5.4zM1717.0,1616.4h5.4v5.4h-5.4zM1717.0,1621.8h5.4v5.4h-5.4zM1668.4,1627.2h5.4v5.4h-5.4zM1544.0,1455.1h5.4v5.4h-5.4zM1527.8,1460.4h5.4v5.4h-5.4zM1533.2,1460.4h5.4v5.4h-5.4zM1538.6,1471.2h5.4v5.4h-5.4zM1598.1,1471.2h5.4v5.4h-5.4zM1581.9,1482.0h5.4v5.4h-5.4z" fill="#c2407a"/><path d="M1635.9,1498.1h5.4v5.4h-5.4zM1635.9,1503.5h5.4v5.4h-5.4zM1625.1,1519.6h5.4v5.4h-5.4zM1635.9,1525.0h5.4v5.4h-5.4zM1641.3,1541.1h5.4v5.4h-5.4zM1641.3,1551.9h5.4v5.4h-5.4zM1646.7,1551.9h5.4v5.4h-5.4zM1652.2,1568.0h5.4v5.4h-5.4zM1646.7,1578.8h5.4v5.4h-5.4zM1663.0,1594.9h5.4v5.4h-5.4zM1663.0,1605.7h5.4v5.4h-5.4zM1684.6,1611.1h5.4v5.4h-5.4zM1657.6,1616.4h5.4v5.4h-5.4zM1711.6,1616.4h5.4v5.4h-5.4zM1684.6,1621.8h5.4v5.4h-5.4zM1690.0,1621.8h5.4v5.4h-5.4zM1533.2,1455.1h5.4v5.4h-5.4zM1560.2,1476.6h5.4v5.4h-5.4zM1576.5,1482.0h5.4v5.4h-5.4z" fill="#f6b27e"/><path d="M1619.7,1503.5h5.4v5.4h-5.4zM1630.5,1535.8h5.4v5.4h-5.4zM1635.9,1541.1h5.4v5.4h-5.4zM1641.3,1562.6h5.4v5.4h-5.4zM1641.3,1573.4h5.4v5.4h-5.4zM1641.3,1589.5h5.4v5.4h-5.4zM1657.6,1600.3h5.4v5.4h-5.4zM1673.8,1605.7h5.4v5.4h-5.4zM1652.2,1611.1h5.4v5.4h-5.4zM1706.2,1611.1h5.4v5.4h-5.4zM1652.2,1616.4h5.4v5.4h-5.4zM1663.0,1616.4h5.4v5.4h-5.4zM1657.6,1621.8h5.4v5.4h-5.4zM1538.6,1460.4h5.4v5.4h-5.4zM1560.2,1460.4h5.4v5.4h-5.4zM1533.2,1465.8h5.4v5.4h-5.4zM1565.7,1476.6h5.4v5.4h-5.4zM1603.5,1482.0h5.4v5.4h-5.4z" fill="#e9737e"/><path d="M1522.4,1315.2h5.4v5.4h-5.4zM1506.2,1331.3h5.4v5.4h-5.4zM1517.0,1331.3h5.4v5.4h-5.4zM1522.4,1336.7h5.4v5.4h-5.4z" fill="#f6b27e"/><path d="M1495.4,1320.6h5.4v5.4h-5.4zM1517.0,1320.6h5.4v5.4h-5.4zM1538.6,1320.6h5.4v5.4h-5.4zM1527.8,1326.0h5.4v5.4h-5.4zM1495.4,1331.3h5.4v5.4h-5.4zM1522.4,1331.3h5.4v5.4h-5.4zM1517.0,1336.7h5.4v5.4h-5.4zM1533.2,1342.1h5.4v5.4h-5.4zM1538.6,1342.1h5.4v5.4h-5.4zM1544.0,1342.1h5.4v5.4h-5.4zM1554.8,1342.1h5.4v5.4h-5.4zM1565.7,1342.1h5.4v5.4h-5.4zM1527.8,1347.5h5.4v5.4h-5.4zM1565.7,1347.5h5.4v5.4h-5.4z" fill="#e9737e"/><path d="M1511.6,1320.6h5.4v5.4h-5.4zM1533.2,1320.6h5.4v5.4h-5.4zM1533.2,1326.0h5.4v5.4h-5.4zM1538.6,1326.0h5.4v5.4h-5.4zM1527.8,1331.3h5.4v5.4h-5.4zM1533.2,1331.3h5.4v5.4h-5.4zM1549.4,1331.3h5.4v5.4h-5.4zM1549.4,1336.7h5.4v5.4h-5.4zM1560.2,1336.7h5.4v5.4h-5.4zM1544.0,1347.5h5.4v5.4h-5.4zM1554.8,1347.5h5.4v5.4h-5.4z" fill="#9590cd"/><path d="M1522.4,1320.6h5.4v5.4h-5.4zM1500.8,1326.0h5.4v5.4h-5.4zM1511.6,1326.0h5.4v5.4h-5.4zM1511.6,1331.3h5.4v5.4h-5.4zM1544.0,1331.3h5.4v5.4h-5.4zM1522.4,1342.1h5.4v5.4h-5.4zM1522.4,1347.5h5.4v5.4h-5.4z" fill="#f3e5a2"/><path d="M1527.8,1320.6h5.4v5.4h-5.4zM1522.4,1326.0h5.4v5.4h-5.4zM1538.6,1331.3h5.4v5.4h-5.4zM1544.0,1336.7h5.4v5.4h-5.4z" fill="#6fa8d6"/><path d="M1495.4,1326.0h5.4v5.4h-5.4zM1506.2,1326.0h5.4v5.4h-5.4zM1544.0,1326.0h5.4v5.4h-5.4zM1527.8,1336.7h5.4v5.4h-5.4zM1549.4,1342.1h5.4v5.4h-5.4zM1560.2,1342.1h5.4v5.4h-5.4z" fill="#d65c98"/><path d="M1517.0,1326.0h5.4v5.4h-5.4zM1554.8,1331.3h5.4v5.4h-5.4zM1554.8,1336.7h5.4v5.4h-5.4zM1565.7,1336.7h5.4v5.4h-5.4zM1527.8,1342.1h5.4v5.4h-5.4zM1533.2,1347.5h5.4v5.4h-5.4z" fill="#c2407a"/><path d="M1533.2,1336.7h5.4v5.4h-5.4zM1538.6,1336.7h5.4v5.4h-5.4zM1517.0,1342.1h5.4v5.4h-5.4z" fill="#8ccbb4"/><polygon points="1525.0,1355.0 1556.2,1355.0 1600.9,1363.9 1632.1,1368.4 1641.1,1386.2 1645.5,1404.1 1632.1,1415.3 1600.9,1426.4 1569.6,1424.2 1556.2,1413.0 1538.4,1386.2" fill="#df72a8"/><path d="M1538.6,1352.9h5.4v5.4h-5.4zM1549.4,1352.9h5.4v5.4h-5.4zM1554.8,1352.9h5.4v5.4h-5.4zM1538.6,1358.2h5.4v5.4h-5.4zM1549.4,1358.2h5.4v5.4h-5.4zM1554.8,1358.2h5.4v5.4h-5.4zM1560.2,1358.2h5.4v5.4h-5.4zM1554.8,1363.6h5.4v5.4h-5.4zM1576.5,1363.6h5.4v5.4h-5.4zM1592.7,1369.0h5.4v5.4h-5.4zM1603.5,1369.0h5.4v5.4h-5.4zM1538.6,1374.4h5.4v5.4h-5.4zM1587.3,1374.4h5.4v5.4h-5.4zM1592.7,1374.4h5.4v5.4h-5.4zM1598.1,1374.4h5.4v5.4h-5.4zM1614.3,1374.4h5.4v5.4h-5.4zM1549.4,1379.8h5.4v5.4h-5.4zM1598.1,1379.8h5.4v5.4h-5.4zM1608.9,1379.8h5.4v5.4h-5.4zM1630.5,1379.8h5.4v5.4h-5.4zM1635.9,1379.8h5.4v5.4h-5.4zM1538.6,1385.1h5.4v5.4h-5.4zM1571.1,1385.1h5.4v5.4h-5.4zM1581.9,1385.1h5.4v5.4h-5.4zM1608.9,1385.1h5.4v5.4h-5.4zM1619.7,1385.1h5.4v5.4h-5.4zM1544.0,1390.5h5.4v5.4h-5.4zM1619.7,1390.5h5.4v5.4h-5.4zM1625.1,1390.5h5.4v5.4h-5.4zM1544.0,1395.9h5.4v5.4h-5.4zM1571.1,1395.9h5.4v5.4h-5.4zM1581.9,1395.9h5.4v5.4h-5.4zM1587.3,1395.9h5.4v5.4h-5.4zM1571.1,1401.3h5.4v5.4h-5.4zM1625.1,1401.3h5.4v5.4h-5.4zM1560.2,1406.7h5.4v5.4h-5.4zM1625.1,1406.7h5.4v5.4h-5.4zM1630.5,1406.7h5.4v5.4h-5.4zM1560.2,1412.0h5.4v5.4h-5.4zM1581.9,1412.0h5.4v5.4h-5.4zM1625.1,1412.0h5.4v5.4h-5.4zM1598.1,1417.4h5.4v5.4h-5.4z" fill="#a070b8"/><path d="M1527.8,1358.2h5.4v5.4h-5.4zM1598.1,1401.3h5.4v5.4h-5.4zM1608.9,1412.0h5.4v5.4h-5.4zM1587.3,1417.4h5.4v5.4h-5.4z" fill="#f6b27e"/><path d="M1544.0,1358.2h5.4v5.4h-5.4zM1533.2,1363.6h5.4v5.4h-5.4zM1614.3,1369.0h5.4v5.4h-5.4zM1560.2,1390.5h5.4v5.4h-5.4zM1614.3,1390.5h5.4v5.4h-5.4zM1614.3,1395.9h5.4v5.4h-5.4zM1608.9,1401.3h5.4v5.4h-5.4zM1635.9,1401.3h5.4v5.4h-5.4zM1581.9,1406.7h5.4v5.4h-5.4zM1587.3,1406.7h5.4v5.4h-5.4zM1603.5,1406.7h5.4v5.4h-5.4zM1608.9,1406.7h5.4v5.4h-5.4zM1608.9,1417.4h5.4v5.4h-5.4z" fill="#e9737e"/><path d="M1527.8,1363.6h5.4v5.4h-5.4zM1576.5,1369.0h5.4v5.4h-5.4zM1581.9,1369.0h5.4v5.4h-5.4zM1608.9,1369.0h5.4v5.4h-5.4zM1565.7,1385.1h5.4v5.4h-5.4zM1635.9,1385.1h5.4v5.4h-5.4zM1608.9,1390.5h5.4v5.4h-5.4zM1576.5,1412.0h5.4v5.4h-5.4zM1603.5,1412.0h5.4v5.4h-5.4z" fill="#c2407a"/><path d="M1571.1,1363.6h5.4v5.4h-5.4zM1544.0,1369.0h5.4v5.4h-5.4zM1560.2,1369.0h5.4v5.4h-5.4zM1603.5,1374.4h5.4v5.4h-5.4zM1538.6,1379.8h5.4v5.4h-5.4zM1603.5,1379.8h5.4v5.4h-5.4zM1603.5,1385.1h5.4v5.4h-5.4zM1554.8,1395.9h5.4v5.4h-5.4zM1560.2,1395.9h5.4v5.4h-5.4zM1565.7,1395.9h5.4v5.4h-5.4zM1565.7,1406.7h5.4v5.4h-5.4zM1576.5,1406.7h5.4v5.4h-5.4zM1592.7,1406.7h5.4v5.4h-5.4zM1565.7,1412.0h5.4v5.4h-5.4zM1614.3,1417.4h5.4v5.4h-5.4z" fill="#9590cd"/><path d="M1479.2,1336.7h5.4v5.4h-5.4zM1479.2,1342.1h5.4v5.4h-5.4zM1484.6,1342.1h5.4v5.4h-5.4zM1490.0,1342.1h5.4v5.4h-5.4zM1495.4,1342.1h5.4v5.4h-5.4zM1500.8,1342.1h5.4v5.4h-5.4zM1506.2,1342.1h5.4v5.4h-5.4zM1468.3,1347.5h5.4v5.4h-5.4zM1479.2,1347.5h5.4v5.4h-5.4zM1490.0,1347.5h5.4v5.4h-5.4zM1495.4,1347.5h5.4v5.4h-5.4zM1500.8,1347.5h5.4v5.4h-5.4zM1506.2,1347.5h5.4v5.4h-5.4zM1511.6,1347.5h5.4v5.4h-5.4zM1517.0,1347.5h5.4v5.4h-5.4zM1484.6,1352.9h5.4v5.4h-5.4zM1490.0,1352.9h5.4v5.4h-5.4zM1506.2,1352.9h5.4v5.4h-5.4zM1511.6,1352.9h5.4v5.4h-5.4zM1517.0,1352.9h5.4v5.4h-5.4zM1468.3,1358.2h5.4v5.4h-5.4zM1479.2,1358.2h5.4v5.4h-5.4zM1484.6,1358.2h5.4v5.4h-5.4zM1495.4,1358.2h5.4v5.4h-5.4zM1500.8,1358.2h5.4v5.4h-5.4zM1511.6,1358.2h5.4v5.4h-5.4zM1457.5,1363.6h5.4v5.4h-5.4zM1462.9,1363.6h5.4v5.4h-5.4zM1468.3,1363.6h5.4v5.4h-5.4zM1473.8,1363.6h5.4v5.4h-5.4zM1479.2,1363.6h5.4v5.4h-5.4zM1484.6,1363.6h5.4v5.4h-5.4zM1490.0,1363.6h5.4v5.4h-5.4zM1500.8,1363.6h5.4v5.4h-5.4zM1506.2,1363.6h5.4v5.4h-5.4zM1511.6,1363.6h5.4v5.4h-5.4zM1517.0,1363.6h5.4v5.4h-5.4zM1462.9,1369.0h5.4v5.4h-5.4zM1468.3,1369.0h5.4v5.4h-5.4zM1484.6,1369.0h5.4v5.4h-5.4zM1490.0,1369.0h5.4v5.4h-5.4zM1500.8,1369.0h5.4v5.4h-5.4zM1506.2,1369.0h5.4v5.4h-5.4zM1511.6,1369.0h5.4v5.4h-5.4zM1517.0,1369.0h5.4v5.4h-5.4zM1522.4,1369.0h5.4v5.4h-5.4zM1533.2,1369.0h5.4v5.4h-5.4zM1462.9,1374.4h5.4v5.4h-5.4zM1468.3,1374.4h5.4v5.4h-5.4zM1479.2,1374.4h5.4v5.4h-5.4zM1484.6,1374.4h5.4v5.4h-5.4zM1495.4,1374.4h5.4v5.4h-5.4zM1500.8,1374.4h5.4v5.4h-5.4zM1506.2,1374.4h5.4v5.4h-5.4zM1511.6,1374.4h5.4v5.4h-5.4zM1457.5,1379.8h5.4v5.4h-5.4zM1462.9,1379.8h5.4v5.4h-5.4zM1468.3,1379.8h5.4v5.4h-5.4zM1473.8,1379.8h5.4v5.4h-5.4zM1479.2,1379.8h5.4v5.4h-5.4zM1484.6,1379.8h5.4v5.4h-5.4zM1490.0,1379.8h5.4v5.4h-5.4zM1500.8,1379.8h5.4v5.4h-5.4zM1506.2,1379.8h5.4v5.4h-5.4zM1511.6,1379.8h5.4v5.4h-5.4zM1517.0,1379.8h5.4v5.4h-5.4zM1527.8,1379.8h5.4v5.4h-5.4zM1538.6,1379.8h5.4v5.4h-5.4zM1544.0,1379.8h5.4v5.4h-5.4zM1446.7,1385.1h5.4v5.4h-5.4zM1452.1,1385.1h5.4v5.4h-5.4zM1457.5,1385.1h5.4v5.4h-5.4zM1462.9,1385.1h5.4v5.4h-5.4zM1468.3,1385.1h5.4v5.4h-5.4zM1473.8,1385.1h5.4v5.4h-5.4zM1479.2,1385.1h5.4v5.4h-5.4zM1484.6,1385.1h5.4v5.4h-5.4zM1490.0,1385.1h5.4v5.4h-5.4zM1495.4,1385.1h5.4v5.4h-5.4zM1500.8,1385.1h5.4v5.4h-5.4zM1506.2,1385.1h5.4v5.4h-5.4zM1511.6,1385.1h5.4v5.4h-5.4zM1517.0,1385.1h5.4v5.4h-5.4zM1522.4,1385.1h5.4v5.4h-5.4zM1527.8,1385.1h5.4v5.4h-5.4zM1533.2,1385.1h5.4v5.4h-5.4zM1538.6,1385.1h5.4v5.4h-5.4zM1544.0,1385.1h5.4v5.4h-5.4zM1446.7,1390.5h5.4v5.4h-5.4zM1452.1,1390.5h5.4v5.4h-5.4zM1462.9,1390.5h5.4v5.4h-5.4zM1473.8,1390.5h5.4v5.4h-5.4zM1479.2,1390.5h5.4v5.4h-5.4zM1484.6,1390.5h5.4v5.4h-5.4zM1490.0,1390.5h5.4v5.4h-5.4zM1495.4,1390.5h5.4v5.4h-5.4zM1500.8,1390.5h5.4v5.4h-5.4zM1506.2,1390.5h5.4v5.4h-5.4zM1511.6,1390.5h5.4v5.4h-5.4zM1517.0,1390.5h5.4v5.4h-5.4zM1522.4,1390.5h5.4v5.4h-5.4zM1527.8,1390.5h5.4v5.4h-5.4zM1533.2,1390.5h5.4v5.4h-5.4zM1544.0,1390.5h5.4v5.4h-5.4zM1549.4,1390.5h5.4v5.4h-5.4zM1435.9,1395.9h5.4v5.4h-5.4zM1441.3,1395.9h5.4v5.4h-5.4zM1446.7,1395.9h5.4v5.4h-5.4zM1452.1,1395.9h5.4v5.4h-5.4zM1457.5,1395.9h5.4v5.4h-5.4zM1490.0,1395.9h5.4v5.4h-5.4zM1495.4,1395.9h5.4v5.4h-5.4zM1500.8,1395.9h5.4v5.4h-5.4zM1506.2,1395.9h5.4v5.4h-5.4zM1517.0,1395.9h5.4v5.4h-5.4zM1522.4,1395.9h5.4v5.4h-5.4zM1527.8,1395.9h5.4v5.4h-5.4zM1533.2,1395.9h5.4v5.4h-5.4zM1538.6,1395.9h5.4v5.4h-5.4zM1544.0,1395.9h5.4v5.4h-5.4zM1549.4,1395.9h5.4v5.4h-5.4zM1446.7,1401.3h5.4v5.4h-5.4zM1452.1,1401.3h5.4v5.4h-5.4zM1462.9,1401.3h5.4v5.4h-5.4zM1468.3,1401.3h5.4v5.4h-5.4zM1479.2,1401.3h5.4v5.4h-5.4zM1490.0,1401.3h5.4v5.4h-5.4zM1495.4,1401.3h5.4v5.4h-5.4zM1500.8,1401.3h5.4v5.4h-5.4zM1506.2,1401.3h5.4v5.4h-5.4zM1517.0,1401.3h5.4v5.4h-5.4zM1533.2,1401.3h5.4v5.4h-5.4zM1538.6,1401.3h5.4v5.4h-5.4zM1544.0,1401.3h5.4v5.4h-5.4zM1549.4,1401.3h5.4v5.4h-5.4zM1554.8,1401.3h5.4v5.4h-5.4zM1560.2,1401.3h5.4v5.4h-5.4zM1565.7,1401.3h5.4v5.4h-5.4zM1446.7,1406.7h5.4v5.4h-5.4zM1452.1,1406.7h5.4v5.4h-5.4zM1468.3,1406.7h5.4v5.4h-5.4zM1473.8,1406.7h5.4v5.4h-5.4zM1479.2,1406.7h5.4v5.4h-5.4zM1484.6,1406.7h5.4v5.4h-5.4zM1490.0,1406.7h5.4v5.4h-5.4zM1495.4,1406.7h5.4v5.4h-5.4zM1511.6,1406.7h5.4v5.4h-5.4zM1517.0,1406.7h5.4v5.4h-5.4zM1522.4,1406.7h5.4v5.4h-5.4zM1527.8,1406.7h5.4v5.4h-5.4zM1533.2,1406.7h5.4v5.4h-5.4zM1538.6,1406.7h5.4v5.4h-5.4zM1544.0,1406.7h5.4v5.4h-5.4zM1549.4,1406.7h5.4v5.4h-5.4zM1554.8,1406.7h5.4v5.4h-5.4zM1560.2,1406.7h5.4v5.4h-5.4zM1441.3,1412.0h5.4v5.4h-5.4zM1446.7,1412.0h5.4v5.4h-5.4zM1457.5,1412.0h5.4v5.4h-5.4zM1462.9,1412.0h5.4v5.4h-5.4zM1468.3,1412.0h5.4v5.4h-5.4zM1473.8,1412.0h5.4v5.4h-5.4zM1479.2,1412.0h5.4v5.4h-5.4zM1495.4,1412.0h5.4v5.4h-5.4zM1511.6,1412.0h5.4v5.4h-5.4zM1522.4,1412.0h5.4v5.4h-5.4zM1538.6,1412.0h5.4v5.4h-5.4zM1544.0,1412.0h5.4v5.4h-5.4zM1554.8,1412.0h5.4v5.4h-5.4zM1560.2,1412.0h5.4v5.4h-5.4zM1452.1,1417.4h5.4v5.4h-5.4zM1457.5,1417.4h5.4v5.4h-5.4zM1473.8,1417.4h5.4v5.4h-5.4zM1479.2,1417.4h5.4v5.4h-5.4zM1484.6,1417.4h5.4v5.4h-5.4zM1490.0,1417.4h5.4v5.4h-5.4zM1495.4,1417.4h5.4v5.4h-5.4zM1500.8,1417.4h5.4v5.4h-5.4zM1506.2,1417.4h5.4v5.4h-5.4zM1511.6,1417.4h5.4v5.4h-5.4zM1517.0,1417.4h5.4v5.4h-5.4zM1522.4,1417.4h5.4v5.4h-5.4zM1533.2,1417.4h5.4v5.4h-5.4zM1538.6,1417.4h5.4v5.4h-5.4zM1544.0,1417.4h5.4v5.4h-5.4zM1549.4,1417.4h5.4v5.4h-5.4zM1554.8,1417.4h5.4v5.4h-5.4zM1560.2,1417.4h5.4v5.4h-5.4zM1457.5,1422.8h5.4v5.4h-5.4zM1462.9,1422.8h5.4v5.4h-5.4zM1468.3,1422.8h5.4v5.4h-5.4zM1473.8,1422.8h5.4v5.4h-5.4zM1479.2,1422.8h5.4v5.4h-5.4zM1495.4,1422.8h5.4v5.4h-5.4zM1500.8,1422.8h5.4v5.4h-5.4zM1506.2,1422.8h5.4v5.4h-5.4zM1511.6,1422.8h5.4v5.4h-5.4zM1522.4,1422.8h5.4v5.4h-5.4zM1527.8,1422.8h5.4v5.4h-5.4zM1533.2,1422.8h5.4v5.4h-5.4zM1457.5,1428.2h5.4v5.4h-5.4zM1462.9,1428.2h5.4v5.4h-5.4zM1468.3,1428.2h5.4v5.4h-5.4zM1473.8,1428.2h5.4v5.4h-5.4zM1479.2,1428.2h5.4v5.4h-5.4zM1484.6,1428.2h5.4v5.4h-5.4zM1495.4,1428.2h5.4v5.4h-5.4zM1500.8,1428.2h5.4v5.4h-5.4zM1511.6,1428.2h5.4v5.4h-5.4zM1517.0,1428.2h5.4v5.4h-5.4zM1522.4,1428.2h5.4v5.4h-5.4zM1538.6,1428.2h5.4v5.4h-5.4zM1462.9,1433.5h5.4v5.4h-5.4zM1473.8,1433.5h5.4v5.4h-5.4zM1484.6,1433.5h5.4v5.4h-5.4zM1490.0,1433.5h5.4v5.4h-5.4zM1495.4,1433.5h5.4v5.4h-5.4zM1500.8,1433.5h5.4v5.4h-5.4zM1506.2,1433.5h5.4v5.4h-5.4zM1511.6,1433.5h5.4v5.4h-5.4zM1517.0,1433.5h5.4v5.4h-5.4zM1522.4,1433.5h5.4v5.4h-5.4zM1538.6,1433.5h5.4v5.4h-5.4zM1473.8,1438.9h5.4v5.4h-5.4zM1479.2,1438.9h5.4v5.4h-5.4zM1484.6,1438.9h5.4v5.4h-5.4zM1490.0,1438.9h5.4v5.4h-5.4zM1500.8,1438.9h5.4v5.4h-5.4zM1506.2,1438.9h5.4v5.4h-5.4zM1511.6,1438.9h5.4v5.4h-5.4zM1517.0,1438.9h5.4v5.4h-5.4zM1533.2,1438.9h5.4v5.4h-5.4zM1462.9,1444.3h5.4v5.4h-5.4zM1468.3,1444.3h5.4v5.4h-5.4zM1473.8,1444.3h5.4v5.4h-5.4zM1479.2,1444.3h5.4v5.4h-5.4zM1490.0,1444.3h5.4v5.4h-5.4zM1495.4,1444.3h5.4v5.4h-5.4zM1500.8,1444.3h5.4v5.4h-5.4zM1506.2,1444.3h5.4v5.4h-5.4zM1511.6,1444.3h5.4v5.4h-5.4zM1517.0,1444.3h5.4v5.4h-5.4zM1522.4,1444.3h5.4v5.4h-5.4zM1533.2,1444.3h5.4v5.4h-5.4zM1468.3,1449.7h5.4v5.4h-5.4zM1473.8,1449.7h5.4v5.4h-5.4zM1484.6,1449.7h5.4v5.4h-5.4zM1490.0,1449.7h5.4v5.4h-5.4zM1495.4,1449.7h5.4v5.4h-5.4zM1500.8,1449.7h5.4v5.4h-5.4zM1517.0,1449.7h5.4v5.4h-5.4zM1484.6,1455.1h5.4v5.4h-5.4zM1490.0,1455.1h5.4v5.4h-5.4zM1495.4,1455.1h5.4v5.4h-5.4zM1500.8,1455.1h5.4v5.4h-5.4zM1506.2,1455.1h5.4v5.4h-5.4zM1511.6,1455.1h5.4v5.4h-5.4zM1517.0,1455.1h5.4v5.4h-5.4zM1522.4,1455.1h5.4v5.4h-5.4zM1479.2,1460.4h5.4v5.4h-5.4zM1495.4,1460.4h5.4v5.4h-5.4zM1500.8,1460.4h5.4v5.4h-5.4zM1511.6,1460.4h5.4v5.4h-5.4zM1517.0,1460.4h5.4v5.4h-5.4zM1522.4,1460.4h5.4v5.4h-5.4zM1473.8,1465.8h5.4v5.4h-5.4zM1479.2,1465.8h5.4v5.4h-5.4zM1484.6,1465.8h5.4v5.4h-5.4zM1495.4,1465.8h5.4v5.4h-5.4zM1500.8,1465.8h5.4v5.4h-5.4zM1506.2,1465.8h5.4v5.4h-5.4zM1517.0,1465.8h5.4v5.4h-5.4zM1522.4,1465.8h5.4v5.4h-5.4zM1473.8,1471.2h5.4v5.4h-5.4zM1479.2,1471.2h5.4v5.4h-5.4zM1484.6,1471.2h5.4v5.4h-5.4zM1490.0,1471.2h5.4v5.4h-5.4zM1495.4,1471.2h5.4v5.4h-5.4zM1500.8,1471.2h5.4v5.4h-5.4zM1506.2,1471.2h5.4v5.4h-5.4zM1511.6,1471.2h5.4v5.4h-5.4zM1484.6,1476.6h5.4v5.4h-5.4zM1490.0,1476.6h5.4v5.4h-5.4zM1500.8,1476.6h5.4v5.4h-5.4zM1517.0,1476.6h5.4v5.4h-5.4zM1479.2,1482.0h5.4v5.4h-5.4zM1484.6,1482.0h5.4v5.4h-5.4zM1495.4,1482.0h5.4v5.4h-5.4zM1500.8,1482.0h5.4v5.4h-5.4zM1511.6,1482.0h5.4v5.4h-5.4zM1495.4,1487.3h5.4v5.4h-5.4zM1500.8,1487.3h5.4v5.4h-5.4zM1484.6,1492.7h5.4v5.4h-5.4zM1500.8,1492.7h5.4v5.4h-5.4zM1490.0,1498.1h5.4v5.4h-5.4zM1500.8,1498.1h5.4v5.4h-5.4z" fill="#b01d5f"/><path d="M1484.6,1336.7h5.4v5.4h-5.4zM1500.8,1352.9h5.4v5.4h-5.4zM1473.8,1358.2h5.4v5.4h-5.4zM1457.5,1374.4h5.4v5.4h-5.4zM1533.2,1374.4h5.4v5.4h-5.4zM1533.2,1379.8h5.4v5.4h-5.4zM1441.3,1385.1h5.4v5.4h-5.4zM1435.9,1390.5h5.4v5.4h-5.4zM1457.5,1390.5h5.4v5.4h-5.4zM1554.8,1395.9h5.4v5.4h-5.4zM1457.5,1401.3h5.4v5.4h-5.4zM1473.8,1401.3h5.4v5.4h-5.4zM1506.2,1406.7h5.4v5.4h-5.4zM1484.6,1412.0h5.4v5.4h-5.4zM1490.0,1412.0h5.4v5.4h-5.4zM1517.0,1412.0h5.4v5.4h-5.4zM1527.8,1412.0h5.4v5.4h-5.4zM1549.4,1412.0h5.4v5.4h-5.4zM1468.3,1417.4h5.4v5.4h-5.4zM1533.2,1428.2h5.4v5.4h-5.4zM1479.2,1433.5h5.4v5.4h-5.4zM1527.8,1433.5h5.4v5.4h-5.4zM1533.2,1433.5h5.4v5.4h-5.4zM1538.6,1438.9h5.4v5.4h-5.4zM1527.8,1444.3h5.4v5.4h-5.4zM1511.6,1449.7h5.4v5.4h-5.4zM1490.0,1460.4h5.4v5.4h-5.4zM1506.2,1476.6h5.4v5.4h-5.4zM1490.0,1482.0h5.4v5.4h-5.4zM1490.0,1487.3h5.4v5.4h-5.4zM1506.2,1487.3h5.4v5.4h-5.4zM1495.4,1492.7h5.4v5.4h-5.4zM1511.6,1492.7h5.4v5.4h-5.4z" fill="#c23270"/><path d="M1490.0,1336.7h5.4v5.4h-5.4zM1495.4,1352.9h5.4v5.4h-5.4zM1490.0,1358.2h5.4v5.4h-5.4zM1527.8,1363.6h5.4v5.4h-5.4zM1479.2,1369.0h5.4v5.4h-5.4zM1522.4,1374.4h5.4v5.4h-5.4zM1527.8,1374.4h5.4v5.4h-5.4zM1522.4,1379.8h5.4v5.4h-5.4zM1549.4,1385.1h5.4v5.4h-5.4zM1538.6,1390.5h5.4v5.4h-5.4zM1554.8,1390.5h5.4v5.4h-5.4zM1462.9,1395.9h5.4v5.4h-5.4zM1468.3,1395.9h5.4v5.4h-5.4zM1473.8,1395.9h5.4v5.4h-5.4zM1511.6,1401.3h5.4v5.4h-5.4zM1435.9,1406.7h5.4v5.4h-5.4zM1457.5,1406.7h5.4v5.4h-5.4zM1500.8,1406.7h5.4v5.4h-5.4zM1506.2,1412.0h5.4v5.4h-5.4zM1490.0,1428.2h5.4v5.4h-5.4zM1506.2,1428.2h5.4v5.4h-5.4zM1506.2,1460.4h5.4v5.4h-5.4zM1490.0,1492.7h5.4v5.4h-5.4z" fill="#d65c98"/><path d="M1495.4,1336.7h5.4v5.4h-5.4zM1473.8,1342.1h5.4v5.4h-5.4zM1484.6,1347.5h5.4v5.4h-5.4zM1473.8,1352.9h5.4v5.4h-5.4zM1479.2,1352.9h5.4v5.4h-5.4zM1506.2,1358.2h5.4v5.4h-5.4zM1517.0,1358.2h5.4v5.4h-5.4zM1495.4,1363.6h5.4v5.4h-5.4zM1522.4,1363.6h5.4v5.4h-5.4zM1473.8,1369.0h5.4v5.4h-5.4zM1495.4,1369.0h5.4v5.4h-5.4zM1473.8,1374.4h5.4v5.4h-5.4zM1490.0,1374.4h5.4v5.4h-5.4zM1517.0,1374.4h5.4v5.4h-5.4zM1538.6,1374.4h5.4v5.4h-5.4zM1452.1,1379.8h5.4v5.4h-5.4zM1495.4,1379.8h5.4v5.4h-5.4zM1554.8,1385.1h5.4v5.4h-5.4zM1468.3,1390.5h5.4v5.4h-5.4zM1479.2,1395.9h5.4v5.4h-5.4zM1484.6,1395.9h5.4v5.4h-5.4zM1511.6,1395.9h5.4v5.4h-5.4zM1441.3,1401.3h5.4v5.4h-5.4zM1484.6,1401.3h5.4v5.4h-5.4zM1522.4,1401.3h5.4v5.4h-5.4zM1527.8,1401.3h5.4v5.4h-5.4zM1462.9,1406.7h5.4v5.4h-5.4zM1452.1,1412.0h5.4v5.4h-5.4zM1500.8,1412.0h5.4v5.4h-5.4zM1533.2,1412.0h5.4v5.4h-5.4zM1446.7,1417.4h5.4v5.4h-5.4zM1462.9,1417.4h5.4v5.4h-5.4zM1527.8,1417.4h5.4v5.4h-5.4zM1452.1,1422.8h5.4v5.4h-5.4zM1484.6,1422.8h5.4v5.4h-5.4zM1490.0,1422.8h5.4v5.4h-5.4zM1517.0,1422.8h5.4v5.4h-5.4zM1538.6,1422.8h5.4v5.4h-5.4zM1527.8,1428.2h5.4v5.4h-5.4zM1457.5,1433.5h5.4v5.4h-5.4zM1468.3,1433.5h5.4v5.4h-5.4zM1544.0,1433.5h5.4v5.4h-5.4zM1468.3,1438.9h5.4v5.4h-5.4zM1495.4,1438.9h5.4v5.4h-5.4zM1522.4,1438.9h5.4v5.4h-5.4zM1527.8,1438.9h5.4v5.4h-5.4zM1544.0,1438.9h5.4v5.4h-5.4zM1484.6,1444.3h5.4v5.4h-5.4zM1538.6,1444.3h5.4v5.4h-5.4zM1479.2,1449.7h5.4v5.4h-5.4zM1506.2,1449.7h5.4v5.4h-5.4zM1522.4,1449.7h5.4v5.4h-5.4zM1527.8,1449.7h5.4v5.4h-5.4zM1479.2,1455.1h5.4v5.4h-5.4zM1484.6,1460.4h5.4v5.4h-5.4zM1490.0,1465.8h5.4v5.4h-5.4zM1511.6,1465.8h5.4v5.4h-5.4zM1479.2,1476.6h5.4v5.4h-5.4zM1495.4,1476.6h5.4v5.4h-5.4zM1506.2,1482.0h5.4v5.4h-5.4zM1511.6,1487.3h5.4v5.4h-5.4z" fill="#a8185a"/><polygon points="1435.7,1395.2 1449.1,1381.8 1467.0,1355.0 1480.4,1337.1 1502.7,1334.9 1520.5,1350.5 1533.9,1368.4 1556.2,1386.2 1569.6,1401.9 1565.2,1422.0 1547.3,1426.4 1547.3,1444.3 1533.9,1457.7 1520.5,1475.5 1516.1,1497.9 1493.8,1504.6 1484.8,1493.4 1475.9,1475.5 1471.4,1457.7 1458.0,1435.4 1444.6,1417.5 1435.7,1408.6" fill="url(#wgrid)" opacity="0.3"/><path d="M1376.4,1541.1h5.4v5.4h-5.4zM1387.3,1541.1h5.4v5.4h-5.4zM1392.7,1541.1h5.4v5.4h-5.4zM1403.5,1541.1h5.4v5.4h-5.4zM1371.0,1546.5h5.4v5.4h-5.4zM1376.4,1546.5h5.4v5.4h-5.4zM1381.8,1546.5h5.4v5.4h-5.4zM1387.3,1546.5h5.4v5.4h-5.4zM1392.7,1546.5h5.4v5.4h-5.4zM1398.1,1546.5h5.4v5.4h-5.4zM1403.5,1546.5h5.4v5.4h-5.4zM1376.4,1551.9h5.4v5.4h-5.4zM1381.8,1551.9h5.4v5.4h-5.4zM1387.3,1551.9h5.4v5.4h-5.4zM1398.1,1551.9h5.4v5.4h-5.4zM1403.5,1551.9h5.4v5.4h-5.4zM1408.9,1551.9h5.4v5.4h-5.4zM1365.6,1557.3h5.4v5.4h-5.4zM1371.0,1557.3h5.4v5.4h-5.4zM1376.4,1557.3h5.4v5.4h-5.4zM1381.8,1557.3h5.4v5.4h-5.4zM1387.3,1557.3h5.4v5.4h-5.4zM1392.7,1557.3h5.4v5.4h-5.4zM1398.1,1557.3h5.4v5.4h-5.4zM1403.5,1557.3h5.4v5.4h-5.4zM1408.9,1557.3h5.4v5.4h-5.4zM1365.6,1562.6h5.4v5.4h-5.4zM1371.0,1562.6h5.4v5.4h-5.4zM1376.4,1562.6h5.4v5.4h-5.4zM1381.8,1562.6h5.4v5.4h-5.4zM1387.3,1562.6h5.4v5.4h-5.4zM1392.7,1562.6h5.4v5.4h-5.4zM1403.5,1562.6h5.4v5.4h-5.4zM1408.9,1562.6h5.4v5.4h-5.4zM1360.2,1568.0h5.4v5.4h-5.4zM1365.6,1568.0h5.4v5.4h-5.4zM1371.0,1568.0h5.4v5.4h-5.4zM1376.4,1568.0h5.4v5.4h-5.4zM1392.7,1568.0h5.4v5.4h-5.4zM1398.1,1568.0h5.4v5.4h-5.4zM1403.5,1568.0h5.4v5.4h-5.4zM1360.2,1573.4h5.4v5.4h-5.4zM1365.6,1573.4h5.4v5.4h-5.4zM1371.0,1573.4h5.4v5.4h-5.4zM1376.4,1573.4h5.4v5.4h-5.4zM1381.8,1573.4h5.4v5.4h-5.4zM1387.3,1573.4h5.4v5.4h-5.4zM1392.7,1573.4h5.4v5.4h-5.4zM1398.1,1573.4h5.4v5.4h-5.4zM1403.5,1573.4h5.4v5.4h-5.4zM1408.9,1573.4h5.4v5.4h-5.4zM1360.2,1578.8h5.4v5.4h-5.4zM1365.6,1578.8h5.4v5.4h-5.4zM1371.0,1578.8h5.4v5.4h-5.4zM1376.4,1578.8h5.4v5.4h-5.4zM1381.8,1578.8h5.4v5.4h-5.4zM1387.3,1578.8h5.4v5.4h-5.4zM1398.1,1578.8h5.4v5.4h-5.4zM1403.5,1578.8h5.4v5.4h-5.4zM1408.9,1578.8h5.4v5.4h-5.4zM1354.8,1584.2h5.4v5.4h-5.4zM1360.2,1584.2h5.4v5.4h-5.4zM1365.6,1584.2h5.4v5.4h-5.4zM1371.0,1584.2h5.4v5.4h-5.4zM1376.4,1584.2h5.4v5.4h-5.4zM1381.8,1584.2h5.4v5.4h-5.4zM1387.3,1584.2h5.4v5.4h-5.4zM1398.1,1584.2h5.4v5.4h-5.4zM1403.5,1584.2h5.4v5.4h-5.4zM1408.9,1584.2h5.4v5.4h-5.4zM1360.2,1589.5h5.4v5.4h-5.4zM1365.6,1589.5h5.4v5.4h-5.4zM1371.0,1589.5h5.4v5.4h-5.4zM1376.4,1589.5h5.4v5.4h-5.4zM1381.8,1589.5h5.4v5.4h-5.4zM1387.3,1589.5h5.4v5.4h-5.4zM1392.7,1589.5h5.4v5.4h-5.4zM1398.1,1589.5h5.4v5.4h-5.4zM1403.5,1589.5h5.4v5.4h-5.4zM1349.4,1594.9h5.4v5.4h-5.4zM1360.2,1594.9h5.4v5.4h-5.4zM1365.6,1594.9h5.4v5.4h-5.4zM1376.4,1594.9h5.4v5.4h-5.4zM1381.8,1594.9h5.4v5.4h-5.4zM1387.3,1594.9h5.4v5.4h-5.4zM1392.7,1594.9h5.4v5.4h-5.4zM1398.1,1594.9h5.4v5.4h-5.4zM1403.5,1594.9h5.4v5.4h-5.4zM1360.2,1600.3h5.4v5.4h-5.4zM1365.6,1600.3h5.4v5.4h-5.4zM1371.0,1600.3h5.4v5.4h-5.4zM1376.4,1600.3h5.4v5.4h-5.4zM1381.8,1600.3h5.4v5.4h-5.4zM1387.3,1600.3h5.4v5.4h-5.4zM1392.7,1600.3h5.4v5.4h-5.4zM1398.1,1600.3h5.4v5.4h-5.4zM1403.5,1600.3h5.4v5.4h-5.4zM1344.0,1605.7h5.4v5.4h-5.4zM1349.4,1605.7h5.4v5.4h-5.4zM1354.8,1605.7h5.4v5.4h-5.4zM1360.2,1605.7h5.4v5.4h-5.4zM1365.6,1605.7h5.4v5.4h-5.4zM1376.4,1605.7h5.4v5.4h-5.4zM1381.8,1605.7h5.4v5.4h-5.4zM1387.3,1605.7h5.4v5.4h-5.4zM1392.7,1605.7h5.4v5.4h-5.4zM1398.1,1605.7h5.4v5.4h-5.4zM1403.5,1605.7h5.4v5.4h-5.4zM1338.6,1611.1h5.4v5.4h-5.4zM1344.0,1611.1h5.4v5.4h-5.4zM1349.4,1611.1h5.4v5.4h-5.4zM1354.8,1611.1h5.4v5.4h-5.4zM1360.2,1611.1h5.4v5.4h-5.4zM1365.6,1611.1h5.4v5.4h-5.4zM1371.0,1611.1h5.4v5.4h-5.4zM1376.4,1611.1h5.4v5.4h-5.4zM1381.8,1611.1h5.4v5.4h-5.4zM1387.3,1611.1h5.4v5.4h-5.4zM1392.7,1611.1h5.4v5.4h-5.4zM1403.5,1611.1h5.4v5.4h-5.4zM1338.6,1616.4h5.4v5.4h-5.4zM1344.0,1616.4h5.4v5.4h-5.4zM1349.4,1616.4h5.4v5.4h-5.4zM1354.8,1616.4h5.4v5.4h-5.4zM1360.2,1616.4h5.4v5.4h-5.4zM1365.6,1616.4h5.4v5.4h-5.4zM1371.0,1616.4h5.4v5.4h-5.4zM1376.4,1616.4h5.4v5.4h-5.4zM1381.8,1616.4h5.4v5.4h-5.4zM1387.3,1616.4h5.4v5.4h-5.4zM1392.7,1616.4h5.4v5.4h-5.4zM1398.1,1616.4h5.4v5.4h-5.4zM1403.5,1616.4h5.4v5.4h-5.4zM1338.6,1621.8h5.4v5.4h-5.4zM1344.0,1621.8h5.4v5.4h-5.4zM1349.4,1621.8h5.4v5.4h-5.4zM1354.8,1621.8h5.4v5.4h-5.4zM1360.2,1621.8h5.4v5.4h-5.4zM1365.6,1621.8h5.4v5.4h-5.4zM1371.0,1621.8h5.4v5.4h-5.4zM1381.8,1621.8h5.4v5.4h-5.4zM1387.3,1621.8h5.4v5.4h-5.4zM1392.7,1621.8h5.4v5.4h-5.4zM1398.1,1621.8h5.4v5.4h-5.4zM1403.5,1621.8h5.4v5.4h-5.4zM1338.6,1627.2h5.4v5.4h-5.4zM1344.0,1627.2h5.4v5.4h-5.4zM1349.4,1627.2h5.4v5.4h-5.4zM1354.8,1627.2h5.4v5.4h-5.4zM1360.2,1627.2h5.4v5.4h-5.4zM1371.0,1627.2h5.4v5.4h-5.4zM1376.4,1627.2h5.4v5.4h-5.4zM1381.8,1627.2h5.4v5.4h-5.4zM1387.3,1627.2h5.4v5.4h-5.4zM1392.7,1627.2h5.4v5.4h-5.4zM1398.1,1627.2h5.4v5.4h-5.4zM1403.5,1627.2h5.4v5.4h-5.4zM1338.6,1632.6h5.4v5.4h-5.4zM1344.0,1632.6h5.4v5.4h-5.4zM1354.8,1632.6h5.4v5.4h-5.4zM1360.2,1632.6h5.4v5.4h-5.4zM1365.6,1632.6h5.4v5.4h-5.4zM1376.4,1632.6h5.4v5.4h-5.4zM1381.8,1632.6h5.4v5.4h-5.4zM1392.7,1632.6h5.4v5.4h-5.4zM1403.5,1632.6h5.4v5.4h-5.4z" fill="#9590cd"/><path d="M1398.1,1541.1h5.4v5.4h-5.4zM1398.1,1562.6h5.4v5.4h-5.4zM1381.8,1568.0h5.4v5.4h-5.4zM1392.7,1578.8h5.4v5.4h-5.4zM1392.7,1584.2h5.4v5.4h-5.4zM1371.0,1594.9h5.4v5.4h-5.4zM1371.0,1605.7h5.4v5.4h-5.4zM1398.1,1611.1h5.4v5.4h-5.4zM1365.6,1627.2h5.4v5.4h-5.4z" fill="#8e98d2"/><polygon points="1337.9,1637.1 1340.6,1614.0 1354.2,1592.2 1365.1,1562.2 1373.3,1545.9 1386.9,1540.4 1406.0,1543.2 1414.2,1559.5 1411.5,1597.6 1406.0,1637.1" fill="url(#wgrid)" opacity="0.9"/><path d="M1419.7,1519.6h5.4v5.4h-5.4zM1425.1,1519.6h5.4v5.4h-5.4zM1419.7,1525.0h5.4v5.4h-5.4zM1408.9,1530.4h5.4v5.4h-5.4zM1408.9,1535.8h5.4v5.4h-5.4zM1425.1,1535.8h5.4v5.4h-5.4zM1430.5,1535.8h5.4v5.4h-5.4zM1414.3,1557.3h5.4v5.4h-5.4zM1398.1,1562.6h5.4v5.4h-5.4zM1403.5,1568.0h5.4v5.4h-5.4zM1419.7,1568.0h5.4v5.4h-5.4zM1392.7,1584.2h5.4v5.4h-5.4zM1403.5,1584.2h5.4v5.4h-5.4zM1408.9,1584.2h5.4v5.4h-5.4zM1392.7,1594.9h5.4v5.4h-5.4zM1387.3,1611.1h5.4v5.4h-5.4zM1408.9,1621.8h5.4v5.4h-5.4zM1403.5,1627.2h5.4v5.4h-5.4z" fill="#8ccbb4"/><path d="M1430.5,1519.6h5.4v5.4h-5.4zM1403.5,1530.4h5.4v5.4h-5.4zM1392.7,1541.1h5.4v5.4h-5.4zM1430.5,1541.1h5.4v5.4h-5.4zM1419.7,1557.3h5.4v5.4h-5.4zM1403.5,1562.6h5.4v5.4h-5.4zM1419.7,1573.4h5.4v5.4h-5.4zM1414.3,1584.2h5.4v5.4h-5.4zM1398.1,1589.5h5.4v5.4h-5.4zM1414.3,1600.3h5.4v5.4h-5.4zM1408.9,1605.7h5.4v5.4h-5.4zM1376.4,1611.1h5.4v5.4h-5.4zM1381.8,1621.8h5.4v5.4h-5.4z" fill="#c2407a"/><path d="M1408.9,1525.0h5.4v5.4h-5.4zM1425.1,1525.0h5.4v5.4h-5.4zM1392.7,1530.4h5.4v5.4h-5.4zM1392.7,1535.8h5.4v5.4h-5.4zM1403.5,1541.1h5.4v5.4h-5.4zM1392.7,1546.5h5.4v5.4h-5.4zM1403.5,1551.9h5.4v5.4h-5.4zM1408.9,1551.9h5.4v5.4h-5.4zM1425.1,1573.4h5.4v5.4h-5.4zM1403.5,1578.8h5.4v5.4h-5.4zM1381.8,1584.2h5.4v5.4h-5.4zM1398.1,1584.2h5.4v5.4h-5.4zM1419.7,1589.5h5.4v5.4h-5.4zM1381.8,1594.9h5.4v5.4h-5.4zM1398.1,1616.4h5.4v5.4h-5.4zM1403.5,1616.4h5.4v5.4h-5.4zM1387.3,1621.8h5.4v5.4h-5.4zM1398.1,1627.2h5.4v5.4h-5.4z" fill="#e9737e"/><path d="M1430.5,1525.0h5.4v5.4h-5.4zM1425.1,1530.4h5.4v5.4h-5.4zM1430.5,1530.4h5.4v5.4h-5.4zM1398.1,1535.8h5.4v5.4h-5.4zM1408.9,1541.1h5.4v5.4h-5.4zM1425.1,1551.9h5.4v5.4h-5.4zM1403.5,1557.3h5.4v5.4h-5.4zM1408.9,1562.6h5.4v5.4h-5.4zM1414.3,1562.6h5.4v5.4h-5.4zM1387.3,1568.0h5.4v5.4h-5.4zM1408.9,1568.0h5.4v5.4h-5.4zM1387.3,1573.4h5.4v5.4h-5.4zM1387.3,1589.5h5.4v5.4h-5.4zM1403.5,1589.5h5.4v5.4h-5.4zM1414.3,1589.5h5.4v5.4h-5.4zM1387.3,1600.3h5.4v5.4h-5.4zM1398.1,1600.3h5.4v5.4h-5.4zM1403.5,1600.3h5.4v5.4h-5.4zM1419.7,1600.3h5.4v5.4h-5.4zM1403.5,1605.7h5.4v5.4h-5.4zM1398.1,1611.1h5.4v5.4h-5.4zM1376.4,1616.4h5.4v5.4h-5.4zM1381.8,1616.4h5.4v5.4h-5.4zM1414.3,1621.8h5.4v5.4h-5.4zM1381.8,1627.2h5.4v5.4h-5.4zM1381.8,1632.6h5.4v5.4h-5.4zM1398.1,1632.6h5.4v5.4h-5.4z" fill="#6fa8d6"/><path d="M1398.1,1530.4h5.4v5.4h-5.4zM1414.3,1541.1h5.4v5.4h-5.4zM1419.7,1546.5h5.4v5.4h-5.4zM1392.7,1562.6h5.4v5.4h-5.4zM1398.1,1573.4h5.4v5.4h-5.4zM1403.5,1573.4h5.4v5.4h-5.4zM1408.9,1578.8h5.4v5.4h-5.4zM1414.3,1578.8h5.4v5.4h-5.4zM1419.7,1578.8h5.4v5.4h-5.4zM1392.7,1589.5h5.4v5.4h-5.4zM1387.3,1594.9h5.4v5.4h-5.4zM1403.5,1594.9h5.4v5.4h-5.4zM1414.3,1616.4h5.4v5.4h-5.4zM1398.1,1621.8h5.4v5.4h-5.4zM1403.5,1621.8h5.4v5.4h-5.4zM1387.3,1627.2h5.4v5.4h-5.4z" fill="#f3e5a2"/><path d="M1414.3,1530.4h5.4v5.4h-5.4zM1414.3,1535.8h5.4v5.4h-5.4zM1408.9,1546.5h5.4v5.4h-5.4zM1398.1,1551.9h5.4v5.4h-5.4zM1392.7,1568.0h5.4v5.4h-5.4zM1414.3,1568.0h5.4v5.4h-5.4zM1408.9,1573.4h5.4v5.4h-5.4zM1392.7,1578.8h5.4v5.4h-5.4zM1398.1,1578.8h5.4v5.4h-5.4zM1408.9,1589.5h5.4v5.4h-5.4zM1408.9,1594.9h5.4v5.4h-5.4zM1408.9,1600.3h5.4v5.4h-5.4zM1376.4,1605.7h5.4v5.4h-5.4zM1381.8,1605.7h5.4v5.4h-5.4zM1392.7,1605.7h5.4v5.4h-5.4zM1403.5,1611.1h5.4v5.4h-5.4zM1392.7,1621.8h5.4v5.4h-5.4zM1376.4,1627.2h5.4v5.4h-5.4zM1408.9,1627.2h5.4v5.4h-5.4zM1376.4,1632.6h5.4v5.4h-5.4z" fill="#f6b27e"/><path d="M1381.8,1535.8h5.4v5.4h-5.4zM1403.5,1535.8h5.4v5.4h-5.4zM1419.7,1535.8h5.4v5.4h-5.4zM1398.1,1541.1h5.4v5.4h-5.4zM1419.7,1541.1h5.4v5.4h-5.4zM1425.1,1541.1h5.4v5.4h-5.4zM1398.1,1546.5h5.4v5.4h-5.4zM1403.5,1546.5h5.4v5.4h-5.4zM1414.3,1546.5h5.4v5.4h-5.4zM1425.1,1546.5h5.4v5.4h-5.4zM1419.7,1551.9h5.4v5.4h-5.4zM1387.3,1557.3h5.4v5.4h-5.4zM1392.7,1557.3h5.4v5.4h-5.4zM1398.1,1557.3h5.4v5.4h-5.4zM1408.9,1557.3h5.4v5.4h-5.4zM1425.1,1557.3h5.4v5.4h-5.4zM1419.7,1562.6h5.4v5.4h-5.4zM1398.1,1568.0h5.4v5.4h-5.4zM1425.1,1568.0h5.4v5.4h-5.4zM1414.3,1573.4h5.4v5.4h-5.4zM1381.8,1589.5h5.4v5.4h-5.4zM1376.4,1594.9h5.4v5.4h-5.4zM1381.8,1600.3h5.4v5.4h-5.4zM1387.3,1605.7h5.4v5.4h-5.4zM1398.1,1605.7h5.4v5.4h-5.4zM1414.3,1605.7h5.4v5.4h-5.4zM1381.8,1611.1h5.4v5.4h-5.4zM1392.7,1611.1h5.4v5.4h-5.4zM1408.9,1611.1h5.4v5.4h-5.4zM1387.3,1616.4h5.4v5.4h-5.4zM1408.9,1616.4h5.4v5.4h-5.4zM1392.7,1627.2h5.4v5.4h-5.4zM1387.3,1632.6h5.4v5.4h-5.4zM1408.9,1632.6h5.4v5.4h-5.4z" fill="#9590cd"/><path d="M1392.7,1498.1h5.4v5.4h-5.4zM1403.5,1508.9h5.4v5.4h-5.4zM1381.8,1514.2h5.4v5.4h-5.4zM1398.1,1514.2h5.4v5.4h-5.4zM1425.1,1519.6h5.4v5.4h-5.4zM1403.5,1525.0h5.4v5.4h-5.4zM1425.1,1525.0h5.4v5.4h-5.4zM1430.5,1525.0h5.4v5.4h-5.4z" fill="#a8185a"/><path d="M1403.5,1498.1h5.4v5.4h-5.4zM1408.9,1503.5h5.4v5.4h-5.4zM1392.7,1514.2h5.4v5.4h-5.4zM1408.9,1514.2h5.4v5.4h-5.4zM1425.1,1514.2h5.4v5.4h-5.4zM1392.7,1519.6h5.4v5.4h-5.4zM1408.9,1530.4h5.4v5.4h-5.4zM1414.3,1530.4h5.4v5.4h-5.4z" fill="#c23270"/><path d="M1408.9,1498.1h5.4v5.4h-5.4zM1387.3,1503.5h5.4v5.4h-5.4zM1392.7,1503.5h5.4v5.4h-5.4zM1398.1,1503.5h5.4v5.4h-5.4zM1403.5,1503.5h5.4v5.4h-5.4zM1414.3,1503.5h5.4v5.4h-5.4zM1387.3,1508.9h5.4v5.4h-5.4zM1392.7,1508.9h5.4v5.4h-5.4zM1414.3,1508.9h5.4v5.4h-5.4zM1419.7,1508.9h5.4v5.4h-5.4zM1387.3,1514.2h5.4v5.4h-5.4zM1403.5,1514.2h5.4v5.4h-5.4zM1414.3,1514.2h5.4v5.4h-5.4zM1419.7,1514.2h5.4v5.4h-5.4zM1430.5,1514.2h5.4v5.4h-5.4zM1381.8,1519.6h5.4v5.4h-5.4zM1387.3,1519.6h5.4v5.4h-5.4zM1398.1,1519.6h5.4v5.4h-5.4zM1403.5,1519.6h5.4v5.4h-5.4zM1408.9,1519.6h5.4v5.4h-5.4zM1414.3,1519.6h5.4v5.4h-5.4zM1419.7,1519.6h5.4v5.4h-5.4zM1430.5,1519.6h5.4v5.4h-5.4zM1392.7,1525.0h5.4v5.4h-5.4zM1398.1,1525.0h5.4v5.4h-5.4zM1408.9,1525.0h5.4v5.4h-5.4zM1414.3,1525.0h5.4v5.4h-5.4zM1419.7,1525.0h5.4v5.4h-5.4zM1392.7,1530.4h5.4v5.4h-5.4zM1398.1,1530.4h5.4v5.4h-5.4zM1419.7,1530.4h5.4v5.4h-5.4zM1414.3,1535.8h5.4v5.4h-5.4z" fill="#b01d5f"/><path d="M1398.1,1508.9h5.4v5.4h-5.4zM1408.9,1508.9h5.4v5.4h-5.4z" fill="#d65c98"/><path d="M1489.3,1512.4 C1486.7,1509.2 1477.4,1500.3 1473.7,1493.4 C1469.9,1486.5 1471.8,1479.3 1467.0,1471.1 C1462.1,1462.9 1451.7,1451.7 1444.6,1444.3 C1437.6,1436.8 1429.3,1432.4 1424.6,1426.4 C1419.8,1420.5 1416.8,1416.0 1416.1,1408.6 C1415.3,1401.1 1417.2,1390.7 1420.1,1381.8 C1423.0,1372.9 1428.6,1363.6 1433.5,1355.0 C1438.3,1346.4 1444.3,1336.4 1449.1,1330.4 C1453.9,1324.5 1458.0,1320.4 1462.5,1319.3 C1467.0,1318.2 1471.4,1321.1 1475.9,1323.8 C1480.4,1326.4 1484.8,1332.3 1489.3,1334.9 C1493.8,1337.5 1498.2,1336.6 1502.7,1339.4 C1507.1,1342.2 1511.6,1346.1 1516.1,1351.7 C1520.5,1357.2 1523.5,1366.3 1529.5,1372.9 C1535.4,1379.4 1545.5,1385.1 1551.8,1390.7 C1558.1,1396.3 1564.4,1402.2 1567.4,1406.3 C1570.4,1410.4 1570.8,1412.3 1569.6,1415.3 C1568.5,1418.2 1564.2,1421.6 1560.7,1424.2 C1557.2,1426.8 1549.9,1427.9 1548.4,1430.9 C1546.9,1433.9 1552.7,1438.0 1551.8,1442.1 C1550.9,1446.1 1547.3,1450.2 1542.9,1455.4 C1538.4,1460.7 1529.3,1468.5 1525.0,1473.3 C1520.7,1478.1 1518.6,1481.1 1517.2,1484.5 C1515.8,1487.8 1519.7,1490.8 1516.5,1493.4 C1513.4,1496.0 1502.8,1497.9 1498.2,1500.1 C1493.7,1502.3 1490.8,1505.7 1489.3,1506.8" stroke="#6cc43c" stroke-width="2.4" fill="none"/><path d="M1359.7,1518.6 C1360.8,1516.4 1362.9,1509.3 1366.5,1505.0 C1370.1,1500.7 1375.4,1495.5 1381.5,1492.8 C1387.6,1490.0 1397.6,1488.7 1403.3,1488.7 C1409.0,1488.7 1412.4,1490.0 1415.5,1492.8 C1418.7,1495.5 1423.0,1500.2 1422.3,1505.0 C1421.7,1509.8 1415.1,1516.8 1411.5,1521.4 C1407.8,1525.9 1403.7,1528.6 1400.6,1532.3 C1397.4,1535.9 1396.0,1539.5 1392.4,1543.2 C1388.7,1546.8 1382.4,1553.1 1378.8,1554.0 C1375.1,1555.0 1372.9,1552.2 1370.6,1548.6 C1368.3,1545.0 1366.1,1537.7 1365.1,1532.3 C1364.1,1526.8 1364.7,1518.6 1364.6,1515.9" stroke="#6cc43c" stroke-width="2.4" fill="none"/></g><g clip-path="url(#cpEL)"><rect x="10.2" y="1661.5" width="613.8" height="555.5" fill="url(#gridE)"/><polygon points="10.5,2195.0 10.5,2168.8 15.8,2142.6 34.2,2105.8 52.6,2079.5 78.8,2047.9 105.1,2016.4 126.1,1979.6 147.2,1942.8 170.8,1911.3 197.1,1879.7 223.4,1853.5 249.7,1827.2 289.1,1790.4 328.5,1766.7 368.0,1748.3 400.0,1737.8 422.6,1725.4 463.5,1714.5 504.4,1700.9 545.3,1690.0 578.0,1683.2 621.6,1681.8 621.6,1695.4 610.7,1717.2 599.8,1733.6 588.9,1744.5 561.6,1763.6 534.4,1774.5 534.4,1823.5 542.5,1839.9 561.6,1848.0 569.8,1858.9 569.8,1883.5 553.4,1905.2 545.3,1932.5 531.6,1959.8 515.3,1987.0 498.9,2019.7 477.1,2057.9 452.6,2087.8 422.6,2101.5 395.4,2117.8 373.2,2132.0 341.7,2145.2 305.0,2160.0 262.8,2168.8 223.4,2174.1 184.0,2179.3 131.4,2182.0 78.8,2185.9" fill="#fdfffd"/><polygon points="10.5,2195.0 10.5,2168.8 15.8,2142.6 34.2,2105.8 52.6,2079.5 78.8,2047.9 105.1,2016.4 126.1,1979.6 147.2,1942.8 170.8,1911.3 197.1,1879.7 223.4,1853.5 249.7,1827.2 289.1,1790.4 328.5,1766.7 368.0,1748.3 400.0,1737.8 422.6,1725.4 463.5,1714.5 504.4,1700.9 545.3,1690.0 578.0,1683.2 621.6,1681.8 621.6,1695.4 610.7,1717.2 599.8,1733.6 588.9,1744.5 561.6,1763.6 534.4,1774.5 534.4,1823.5 542.5,1839.9 561.6,1848.0 569.8,1858.9 569.8,1883.5 553.4,1905.2 545.3,1932.5 531.6,1959.8 515.3,1987.0 498.9,2019.7 477.1,2057.9 452.6,2087.8 422.6,2101.5 395.4,2117.8 373.2,2132.0 341.7,2145.2 305.0,2160.0 262.8,2168.8 223.4,2174.1 184.0,2179.3 131.4,2182.0 78.8,2185.9" fill="#e6e2ec" fill-opacity="0.95"/><polygon points="10.5,2195.0 10.5,2168.8 15.8,2142.6 34.2,2105.8 52.6,2079.5 78.8,2047.9 105.1,2016.4 126.1,1979.6 147.2,1942.8 170.8,1911.3 197.1,1879.7 223.4,1853.5 249.7,1827.2 289.1,1790.4 328.5,1766.7 368.0,1748.3 400.0,1737.8 422.6,1725.4 463.5,1714.5 504.4,1700.9 545.3,1690.0 578.0,1683.2 621.6,1681.8 621.6,1695.4 610.7,1717.2 599.8,1733.6 588.9,1744.5 561.6,1763.6 534.4,1774.5 534.4,1823.5 542.5,1839.9 561.6,1848.0 569.8,1858.9 569.8,1883.5 553.4,1905.2 545.3,1932.5 531.6,1959.8 515.3,1987.0 498.9,2019.7 477.1,2057.9 452.6,2087.8 422.6,2101.5 395.4,2117.8 373.2,2132.0 341.7,2145.2 305.0,2160.0 262.8,2168.8 223.4,2174.1 184.0,2179.3 131.4,2182.0 78.8,2185.9" fill="#8a86a8" filter="url(#mottleG)" opacity="0.22"/><path d="M320.0,1770.0 C325.8,1758.7 343.3,1757.8 360.0,1752.0 C376.7,1746.2 400.0,1738.7 420.0,1735.0 C440.0,1731.3 461.7,1728.8 480.0,1730.0 C498.3,1731.2 520.0,1733.7 530.0,1742.0 C540.0,1750.3 539.2,1765.3 540.0,1780.0 C540.8,1794.7 534.2,1818.3 535.0,1830.0 C535.8,1841.7 550.8,1844.7 545.0,1850.0 C539.2,1855.3 515.8,1859.5 500.0,1862.0 C484.2,1864.5 466.7,1863.7 450.0,1865.0 C433.3,1866.3 415.0,1870.0 400.0,1870.0 C385.0,1870.0 370.0,1868.3 360.0,1865.0 C350.0,1861.7 345.8,1857.5 340.0,1850.0 C334.2,1842.5 328.3,1833.3 325.0,1820.0 C321.7,1806.7 314.2,1781.3 320.0,1770.0Z" fill="#e4d6cf" fill-opacity="0.75"/><path d="M395.0,1905.0 C405.0,1891.7 428.3,1885.8 440.0,1880.0 C451.7,1874.2 460.0,1860.0 465.0,1870.0 C470.0,1880.0 467.5,1922.5 470.0,1940.0 C472.5,1957.5 485.0,1968.3 480.0,1975.0 C475.0,1981.7 448.3,1970.8 440.0,1980.0 C431.7,1989.2 430.0,2011.7 430.0,2030.0 C430.0,2048.3 441.7,2078.3 440.0,2090.0 C438.3,2101.7 427.5,2101.7 420.0,2100.0 C412.5,2098.3 400.8,2091.7 395.0,2080.0 C389.2,2068.3 387.5,2050.0 385.0,2030.0 C382.5,2010.0 378.3,1980.8 380.0,1960.0 C381.7,1939.2 385.0,1918.3 395.0,1905.0Z" fill="#e4d6cf" fill-opacity="0.75"/><path d="M505.0,1702.0 C510.8,1696.5 527.8,1694.0 540.0,1692.0 C552.2,1690.0 568.0,1688.7 578.0,1690.0 C588.0,1691.3 596.7,1694.2 600.0,1700.0 C603.3,1705.8 600.5,1717.5 598.0,1725.0 C595.5,1732.5 591.3,1738.8 585.0,1745.0 C578.7,1751.2 569.2,1757.8 560.0,1762.0 C550.8,1766.2 537.5,1772.0 530.0,1770.0 C522.5,1768.0 519.2,1757.5 515.0,1750.0 C510.8,1742.5 506.7,1733.0 505.0,1725.0 C503.3,1717.0 499.2,1707.5 505.0,1702.0Z" fill="#e4d6cf" fill-opacity="0.75"/><path d="M330.0,1775.0 C337.5,1766.7 363.3,1764.5 380.0,1760.0 C396.7,1755.5 413.3,1750.5 430.0,1748.0 C446.7,1745.5 465.0,1743.0 480.0,1745.0 C495.0,1747.0 511.5,1750.8 520.0,1760.0 C528.5,1769.2 530.2,1786.7 531.0,1800.0 C531.8,1813.3 530.2,1830.8 525.0,1840.0 C519.8,1849.2 509.2,1853.0 500.0,1855.0 C490.8,1857.0 480.0,1853.2 470.0,1852.0 C460.0,1850.8 451.7,1848.3 440.0,1848.0 C428.3,1847.7 411.7,1850.5 400.0,1850.0 C388.3,1849.5 378.3,1848.3 370.0,1845.0 C361.7,1841.7 355.8,1835.8 350.0,1830.0 C344.2,1824.2 338.3,1819.2 335.0,1810.0 C331.7,1800.8 322.5,1783.3 330.0,1775.0Z" fill="#dcbdb5" fill-opacity="0.85"/><path d="M222.0,1868.0 C223.3,1862.8 233.3,1851.7 240.0,1845.0 C246.7,1838.3 253.7,1834.2 262.0,1828.0 C270.3,1821.8 279.0,1814.7 290.0,1808.0 C301.0,1801.3 315.5,1794.3 328.0,1788.0 C340.5,1781.7 353.0,1775.2 365.0,1770.0 C377.0,1764.8 387.5,1761.7 400.0,1757.0 C412.5,1752.3 433.3,1742.8 440.0,1742.0 C446.7,1741.2 446.7,1747.3 440.0,1752.0 C433.3,1756.7 413.3,1764.5 400.0,1770.0 C386.7,1775.5 371.7,1779.7 360.0,1785.0 C348.3,1790.3 340.0,1796.5 330.0,1802.0 C320.0,1807.5 310.0,1811.7 300.0,1818.0 C290.0,1824.3 278.3,1833.3 270.0,1840.0 C261.7,1846.7 256.3,1852.0 250.0,1858.0 C243.7,1864.0 236.7,1874.3 232.0,1876.0 C227.3,1877.7 220.7,1873.2 222.0,1868.0Z" fill="#dcbdb5" fill-opacity="0.85"/><path d="M470.0,1860.0 C479.2,1852.5 505.0,1856.3 520.0,1855.0 C535.0,1853.7 552.0,1847.8 560.0,1852.0 C568.0,1856.2 569.3,1871.2 568.0,1880.0 C566.7,1888.8 555.8,1895.8 552.0,1905.0 C548.2,1914.2 548.7,1925.5 545.0,1935.0 C541.3,1944.5 536.7,1955.3 530.0,1962.0 C523.3,1968.7 513.3,1973.3 505.0,1975.0 C496.7,1976.7 485.8,1977.8 480.0,1972.0 C474.2,1966.2 472.5,1952.0 470.0,1940.0 C467.5,1928.0 465.0,1913.3 465.0,1900.0 C465.0,1886.7 460.8,1867.5 470.0,1860.0Z" fill="#dcbdb5" fill-opacity="0.85"/><path d="M440.0,1975.0 C448.0,1969.2 469.2,1973.3 480.0,1975.0 C490.8,1976.7 502.5,1976.7 505.0,1985.0 C507.5,1993.3 499.2,2012.5 495.0,2025.0 C490.8,2037.5 486.7,2049.5 480.0,2060.0 C473.3,2070.5 461.7,2082.2 455.0,2088.0 C448.3,2093.8 444.2,2099.7 440.0,2095.0 C435.8,2090.3 431.3,2074.2 430.0,2060.0 C428.7,2045.8 430.3,2024.2 432.0,2010.0 C433.7,1995.8 432.0,1980.8 440.0,1975.0Z" fill="#dcbdb5" fill-opacity="0.85"/><path d="M520.0,1700.0 C527.0,1695.3 548.3,1692.3 560.0,1692.0 C571.7,1691.7 585.3,1693.0 590.0,1698.0 C594.7,1703.0 593.0,1715.0 588.0,1722.0 C583.0,1729.0 569.7,1736.7 560.0,1740.0 C550.3,1743.3 537.0,1745.3 530.0,1742.0 C523.0,1738.7 519.7,1727.0 518.0,1720.0 C516.3,1713.0 513.0,1704.7 520.0,1700.0Z" fill="#dcbdb5" fill-opacity="0.85"/><path d="M170.0,2090.0 C179.7,2086.7 211.2,2087.2 230.0,2088.0 C248.8,2088.8 274.7,2091.3 283.0,2095.0 C291.3,2098.7 290.5,2107.2 280.0,2110.0 C269.5,2112.8 238.0,2112.3 220.0,2112.0 C202.0,2111.7 180.3,2111.7 172.0,2108.0 C163.7,2104.3 160.3,2093.3 170.0,2090.0Z" fill="#dcbdb5" fill-opacity="0.85"/><path d="M300.0,2115.0 C306.3,2111.2 328.0,2110.3 340.0,2112.0 C352.0,2113.7 368.7,2119.8 372.0,2125.0 C375.3,2130.2 368.7,2139.2 360.0,2143.0 C351.3,2146.8 329.7,2149.3 320.0,2148.0 C310.3,2146.7 305.3,2140.5 302.0,2135.0 C298.7,2129.5 293.7,2118.8 300.0,2115.0Z" fill="#dcbdb5" fill-opacity="0.85"/><path d="M223.0,2148.0 C231.5,2144.8 267.2,2143.7 276.0,2146.0 C284.8,2148.3 284.5,2158.8 276.0,2162.0 C267.5,2165.2 233.8,2167.3 225.0,2165.0 C216.2,2162.7 214.5,2151.2 223.0,2148.0Z" fill="#dcbdb5" fill-opacity="0.85"/><ellipse cx="236" cy="2017" rx="18" ry="23" fill="#cfcde2" fill-opacity="0.6" stroke="#6d74b0" stroke-width="1.2"/><ellipse cx="186" cy="2045" rx="10" ry="26" fill="#cfcde2" fill-opacity="0.6" stroke="#6d74b0" stroke-width="1.2"/><ellipse cx="115" cy="2098" rx="22" ry="28" fill="#cfcde2" fill-opacity="0.6" stroke="#6d74b0" stroke-width="1.2"/><ellipse cx="240" cy="2135" rx="40" ry="34" fill="#cfcde2" fill-opacity="0.6" stroke="#6d74b0" stroke-width="1.2"/><ellipse cx="318" cy="2130" rx="25" ry="18" fill="#cfcde2" fill-opacity="0.6" stroke="#6d74b0" stroke-width="1.2"/><ellipse cx="160" cy="2090" rx="10" ry="14" fill="#cfcde2" fill-opacity="0.6" stroke="#6d74b0" stroke-width="1.2"/><ellipse cx="75" cy="2150" rx="15" ry="18" fill="#cfcde2" fill-opacity="0.6" stroke="#6d74b0" stroke-width="1.2"/><ellipse cx="200" cy="2060" rx="8" ry="12" fill="#cfcde2" fill-opacity="0.6" stroke="#6d74b0" stroke-width="1.2"/><ellipse cx="130" cy="2140" rx="12" ry="16" fill="#cfcde2" fill-opacity="0.6" stroke="#6d74b0" stroke-width="1.2"/><polygon points="10.5,2195.0 10.5,2168.8 15.8,2142.6 34.2,2105.8 52.6,2079.5 78.8,2047.9 105.1,2016.4 126.1,1979.6 147.2,1942.8 170.8,1911.3 197.1,1879.7 223.4,1853.5 249.7,1827.2 289.1,1790.4 328.5,1766.7 368.0,1748.3 400.0,1737.8 422.6,1725.4 463.5,1714.5 504.4,1700.9 545.3,1690.0 578.0,1683.2 621.6,1681.8 621.6,1695.4 610.7,1717.2 599.8,1733.6 588.9,1744.5 561.6,1763.6 534.4,1774.5 534.4,1823.5 542.5,1839.9 561.6,1848.0 569.8,1858.9 569.8,1883.5 553.4,1905.2 545.3,1932.5 531.6,1959.8 515.3,1987.0 498.9,2019.7 477.1,2057.9 452.6,2087.8 422.6,2101.5 395.4,2117.8 373.2,2132.0 341.7,2145.2 305.0,2160.0 262.8,2168.8 223.4,2174.1 184.0,2179.3 131.4,2182.0 78.8,2185.9" fill="url(#gridEg)"/><path d="M320.0,1770.0 C325.8,1758.7 343.3,1757.8 360.0,1752.0 C376.7,1746.2 400.0,1738.7 420.0,1735.0 C440.0,1731.3 461.7,1728.8 480.0,1730.0 C498.3,1731.2 520.0,1733.7 530.0,1742.0 C540.0,1750.3 539.2,1765.3 540.0,1780.0 C540.8,1794.7 534.2,1818.3 535.0,1830.0 C535.8,1841.7 550.8,1844.7 545.0,1850.0 C539.2,1855.3 515.8,1859.5 500.0,1862.0 C484.2,1864.5 466.7,1863.7 450.0,1865.0 C433.3,1866.3 415.0,1870.0 400.0,1870.0 C385.0,1870.0 370.0,1868.3 360.0,1865.0 C350.0,1861.7 345.8,1857.5 340.0,1850.0 C334.2,1842.5 328.3,1833.3 325.0,1820.0 C321.7,1806.7 314.2,1781.3 320.0,1770.0Z" fill="url(#zEo)" /><path d="M395.0,1905.0 C405.0,1891.7 428.3,1885.8 440.0,1880.0 C451.7,1874.2 460.0,1860.0 465.0,1870.0 C470.0,1880.0 467.5,1922.5 470.0,1940.0 C472.5,1957.5 485.0,1968.3 480.0,1975.0 C475.0,1981.7 448.3,1970.8 440.0,1980.0 C431.7,1989.2 430.0,2011.7 430.0,2030.0 C430.0,2048.3 441.7,2078.3 440.0,2090.0 C438.3,2101.7 427.5,2101.7 420.0,2100.0 C412.5,2098.3 400.8,2091.7 395.0,2080.0 C389.2,2068.3 387.5,2050.0 385.0,2030.0 C382.5,2010.0 378.3,1980.8 380.0,1960.0 C381.7,1939.2 385.0,1918.3 395.0,1905.0Z" fill="url(#zEo)" /><path d="M505.0,1702.0 C510.8,1696.5 527.8,1694.0 540.0,1692.0 C552.2,1690.0 568.0,1688.7 578.0,1690.0 C588.0,1691.3 596.7,1694.2 600.0,1700.0 C603.3,1705.8 600.5,1717.5 598.0,1725.0 C595.5,1732.5 591.3,1738.8 585.0,1745.0 C578.7,1751.2 569.2,1757.8 560.0,1762.0 C550.8,1766.2 537.5,1772.0 530.0,1770.0 C522.5,1768.0 519.2,1757.5 515.0,1750.0 C510.8,1742.5 506.7,1733.0 505.0,1725.0 C503.3,1717.0 499.2,1707.5 505.0,1702.0Z" fill="url(#zEo)" /><path d="M330.0,1775.0 C337.5,1766.7 363.3,1764.5 380.0,1760.0 C396.7,1755.5 413.3,1750.5 430.0,1748.0 C446.7,1745.5 465.0,1743.0 480.0,1745.0 C495.0,1747.0 511.5,1750.8 520.0,1760.0 C528.5,1769.2 530.2,1786.7 531.0,1800.0 C531.8,1813.3 530.2,1830.8 525.0,1840.0 C519.8,1849.2 509.2,1853.0 500.0,1855.0 C490.8,1857.0 480.0,1853.2 470.0,1852.0 C460.0,1850.8 451.7,1848.3 440.0,1848.0 C428.3,1847.7 411.7,1850.5 400.0,1850.0 C388.3,1849.5 378.3,1848.3 370.0,1845.0 C361.7,1841.7 355.8,1835.8 350.0,1830.0 C344.2,1824.2 338.3,1819.2 335.0,1810.0 C331.7,1800.8 322.5,1783.3 330.0,1775.0Z" fill="url(#zEr)" /><path d="M222.0,1868.0 C223.3,1862.8 233.3,1851.7 240.0,1845.0 C246.7,1838.3 253.7,1834.2 262.0,1828.0 C270.3,1821.8 279.0,1814.7 290.0,1808.0 C301.0,1801.3 315.5,1794.3 328.0,1788.0 C340.5,1781.7 353.0,1775.2 365.0,1770.0 C377.0,1764.8 387.5,1761.7 400.0,1757.0 C412.5,1752.3 433.3,1742.8 440.0,1742.0 C446.7,1741.2 446.7,1747.3 440.0,1752.0 C433.3,1756.7 413.3,1764.5 400.0,1770.0 C386.7,1775.5 371.7,1779.7 360.0,1785.0 C348.3,1790.3 340.0,1796.5 330.0,1802.0 C320.0,1807.5 310.0,1811.7 300.0,1818.0 C290.0,1824.3 278.3,1833.3 270.0,1840.0 C261.7,1846.7 256.3,1852.0 250.0,1858.0 C243.7,1864.0 236.7,1874.3 232.0,1876.0 C227.3,1877.7 220.7,1873.2 222.0,1868.0Z" fill="url(#zEr)" /><path d="M470.0,1860.0 C479.2,1852.5 505.0,1856.3 520.0,1855.0 C535.0,1853.7 552.0,1847.8 560.0,1852.0 C568.0,1856.2 569.3,1871.2 568.0,1880.0 C566.7,1888.8 555.8,1895.8 552.0,1905.0 C548.2,1914.2 548.7,1925.5 545.0,1935.0 C541.3,1944.5 536.7,1955.3 530.0,1962.0 C523.3,1968.7 513.3,1973.3 505.0,1975.0 C496.7,1976.7 485.8,1977.8 480.0,1972.0 C474.2,1966.2 472.5,1952.0 470.0,1940.0 C467.5,1928.0 465.0,1913.3 465.0,1900.0 C465.0,1886.7 460.8,1867.5 470.0,1860.0Z" fill="url(#zEr)" /><path d="M440.0,1975.0 C448.0,1969.2 469.2,1973.3 480.0,1975.0 C490.8,1976.7 502.5,1976.7 505.0,1985.0 C507.5,1993.3 499.2,2012.5 495.0,2025.0 C490.8,2037.5 486.7,2049.5 480.0,2060.0 C473.3,2070.5 461.7,2082.2 455.0,2088.0 C448.3,2093.8 444.2,2099.7 440.0,2095.0 C435.8,2090.3 431.3,2074.2 430.0,2060.0 C428.7,2045.8 430.3,2024.2 432.0,2010.0 C433.7,1995.8 432.0,1980.8 440.0,1975.0Z" fill="url(#zEr)" /><path d="M520.0,1700.0 C527.0,1695.3 548.3,1692.3 560.0,1692.0 C571.7,1691.7 585.3,1693.0 590.0,1698.0 C594.7,1703.0 593.0,1715.0 588.0,1722.0 C583.0,1729.0 569.7,1736.7 560.0,1740.0 C550.3,1743.3 537.0,1745.3 530.0,1742.0 C523.0,1738.7 519.7,1727.0 518.0,1720.0 C516.3,1713.0 513.0,1704.7 520.0,1700.0Z" fill="url(#zEr)" /><path d="M170.0,2090.0 C179.7,2086.7 211.2,2087.2 230.0,2088.0 C248.8,2088.8 274.7,2091.3 283.0,2095.0 C291.3,2098.7 290.5,2107.2 280.0,2110.0 C269.5,2112.8 238.0,2112.3 220.0,2112.0 C202.0,2111.7 180.3,2111.7 172.0,2108.0 C163.7,2104.3 160.3,2093.3 170.0,2090.0Z" fill="url(#zEr)" /><path d="M300.0,2115.0 C306.3,2111.2 328.0,2110.3 340.0,2112.0 C352.0,2113.7 368.7,2119.8 372.0,2125.0 C375.3,2130.2 368.7,2139.2 360.0,2143.0 C351.3,2146.8 329.7,2149.3 320.0,2148.0 C310.3,2146.7 305.3,2140.5 302.0,2135.0 C298.7,2129.5 293.7,2118.8 300.0,2115.0Z" fill="url(#zEr)" /><path d="M223.0,2148.0 C231.5,2144.8 267.2,2143.7 276.0,2146.0 C284.8,2148.3 284.5,2158.8 276.0,2162.0 C267.5,2165.2 233.8,2167.3 225.0,2165.0 C216.2,2162.7 214.5,2151.2 223.0,2148.0Z" fill="url(#zEr)" /><path d="M300.0,1860.0 C315.0,1838.3 363.3,1833.3 380.0,1850.0 C396.7,1866.7 400.0,1925.0 400.0,1960.0 C400.0,1995.0 393.3,2040.0 380.0,2060.0 C366.7,2080.0 335.0,2093.3 320.0,2080.0 C305.0,2066.7 293.3,2016.7 290.0,1980.0 C286.7,1943.3 285.0,1881.7 300.0,1860.0Z" fill="url(#zEo2)" /></g><g clip-path="url(#cpER)"><rect x="624" y="1661.7" width="623.5" height="554.4" fill="#f0f0f0"/><polygon points="627.0,2187.4 634.1,2152.2 651.6,2113.5 690.3,2064.3 711.4,2039.7 736.0,1997.5 753.6,1962.3 771.2,1927.2 795.8,1895.6 816.9,1867.4 848.5,1839.3 873.1,1818.2 901.3,1797.1 929.4,1779.5 957.5,1765.5 992.7,1751.4 1024.3,1740.9 1059.5,1726.8 1094.6,1712.7 1129.8,1698.7 1164.9,1689.9 1196.6,1684.6 1247.5,1683.9 1247.5,1695.2 1231.7,1705.7 1224.7,1719.8 1217.7,1730.3 1196.6,1744.4 1168.4,1754.9 1147.4,1760.2 1136.8,1772.5 1143.8,1786.6 1147.4,1807.7 1140.3,1825.2 1150.9,1842.8 1168.4,1849.8 1180.8,1863.9 1180.8,1878.0 1168.4,1899.1 1157.9,1920.2 1147.4,1937.7 1133.3,1958.8 1126.3,1976.4 1122.7,1997.5 1112.2,2015.1 1105.2,2032.7 1094.6,2050.2 1084.1,2067.8 1077.0,2081.9 1059.5,2103.0 1041.9,2110.0 1006.7,2117.0 992.7,2120.6 978.6,2131.1 957.5,2138.1 936.4,2152.2 922.3,2166.3 901.3,2173.3 866.1,2176.8 830.9,2176.8 795.8,2176.8 760.6,2176.8 725.5,2180.3 690.3,2180.3 655.2,2183.8 634.1,2190.9" fill="#e5679f" /><path d="M1052.4,1762.0 C1058.3,1753.2 1080.6,1750.8 1094.6,1747.9 C1108.7,1745.0 1128.0,1742.0 1136.8,1744.4 C1145.6,1746.7 1147.4,1757.3 1147.4,1762.0 C1147.4,1766.6 1137.4,1768.4 1136.8,1772.5 C1136.2,1776.6 1142.1,1780.7 1143.8,1786.6 C1145.6,1792.4 1147.9,1801.2 1147.4,1807.7 C1146.8,1814.1 1139.1,1818.8 1140.3,1825.2 C1141.5,1831.7 1157.9,1841.1 1154.4,1846.3 C1150.9,1851.6 1132.1,1857.5 1119.2,1856.9 C1106.3,1856.3 1087.0,1852.2 1077.0,1842.8 C1067.1,1833.4 1063.6,1814.1 1059.5,1800.6 C1055.4,1787.2 1046.6,1770.7 1052.4,1762.0Z" fill="#ec8fb6" stroke="none" stroke-width="0" fill-opacity="0.75"/><path d="M816.9,1885.0 C823.3,1862.2 840.3,1858.0 848.5,1856.9 C856.7,1855.7 866.7,1866.3 866.1,1878.0 C865.5,1889.7 849.7,1910.8 845.0,1927.2 C840.3,1943.6 838.0,1959.4 838.0,1976.4 C838.0,1993.4 846.2,2014.5 845.0,2029.1 C843.8,2043.8 838.0,2058.4 830.9,2064.3 C823.9,2070.2 806.3,2076.0 802.8,2064.3 C799.3,2052.6 807.5,2023.9 809.8,1994.0 C812.2,1964.1 810.4,1907.9 816.9,1885.0Z" fill="#e9a0c8" stroke="none" stroke-width="0" fill-opacity="0.5"/><path d="M634.1,2152.2 C637.0,2139.3 642.3,2128.2 651.6,2113.5 C661.0,2098.9 676.3,2075.4 690.3,2064.3 C704.4,2053.2 719.6,2040.9 736.0,2046.7 C752.4,2052.6 775.3,2087.7 788.8,2099.5 C802.2,2111.2 804.0,2114.1 816.9,2117.0 C829.8,2120.0 846.2,2120.0 866.1,2117.0 C886.0,2114.1 918.8,2099.5 936.4,2099.5 C954.0,2099.5 971.6,2108.2 971.6,2117.0 C971.6,2125.8 948.1,2142.8 936.4,2152.2 C924.7,2161.6 918.8,2169.2 901.3,2173.3 C883.7,2177.4 854.4,2176.2 830.9,2176.8 C807.5,2177.4 784.1,2176.2 760.6,2176.8 C737.2,2177.4 711.4,2178.0 690.3,2180.3 C669.2,2182.7 643.4,2195.6 634.1,2190.9 C624.7,2186.2 631.1,2165.1 634.1,2152.2Z" fill="#c8407a" stroke="none" stroke-width="0" fill-opacity="0.5"/><path d="M1173.8,1685.7h4.0v4.0h-4.0zM1187.8,1685.7h4.0v4.0h-4.0zM1215.8,1685.7h4.0v4.0h-4.0zM1222.8,1685.7h4.0v4.0h-4.0zM1229.8,1685.7h4.0v4.0h-4.0zM1236.8,1685.7h4.0v4.0h-4.0zM1243.8,1685.7h4.0v4.0h-4.0zM1145.8,1692.8h4.0v4.0h-4.0zM1166.8,1692.8h4.0v4.0h-4.0zM1173.8,1692.8h4.0v4.0h-4.0zM1180.8,1692.8h4.0v4.0h-4.0zM1187.8,1692.8h4.0v4.0h-4.0zM1201.8,1692.8h4.0v4.0h-4.0zM1208.8,1692.8h4.0v4.0h-4.0zM1222.8,1692.8h4.0v4.0h-4.0zM1117.8,1699.8h4.0v4.0h-4.0zM1124.8,1699.8h4.0v4.0h-4.0zM1131.8,1699.8h4.0v4.0h-4.0zM1145.8,1699.8h4.0v4.0h-4.0zM1152.8,1699.8h4.0v4.0h-4.0zM1159.8,1699.8h4.0v4.0h-4.0zM1166.8,1699.8h4.0v4.0h-4.0zM1173.8,1699.8h4.0v4.0h-4.0zM1180.8,1699.8h4.0v4.0h-4.0zM1187.8,1699.8h4.0v4.0h-4.0zM1194.8,1699.8h4.0v4.0h-4.0zM1201.8,1699.8h4.0v4.0h-4.0zM1208.8,1699.8h4.0v4.0h-4.0zM1215.8,1699.8h4.0v4.0h-4.0zM1229.8,1699.8h4.0v4.0h-4.0zM1236.8,1699.8h4.0v4.0h-4.0zM1103.8,1706.8h4.0v4.0h-4.0zM1110.8,1706.8h4.0v4.0h-4.0zM1117.8,1706.8h4.0v4.0h-4.0zM1124.8,1706.8h4.0v4.0h-4.0zM1131.8,1706.8h4.0v4.0h-4.0zM1138.8,1706.8h4.0v4.0h-4.0zM1180.8,1706.8h4.0v4.0h-4.0zM1187.8,1706.8h4.0v4.0h-4.0zM1194.8,1706.8h4.0v4.0h-4.0zM1208.8,1706.8h4.0v4.0h-4.0zM1215.8,1706.8h4.0v4.0h-4.0zM1222.8,1706.8h4.0v4.0h-4.0zM1082.8,1713.9h4.0v4.0h-4.0zM1103.8,1713.9h4.0v4.0h-4.0zM1110.8,1713.9h4.0v4.0h-4.0zM1117.8,1713.9h4.0v4.0h-4.0zM1131.8,1713.9h4.0v4.0h-4.0zM1145.8,1713.9h4.0v4.0h-4.0zM1152.8,1713.9h4.0v4.0h-4.0zM1166.8,1713.9h4.0v4.0h-4.0zM1173.8,1713.9h4.0v4.0h-4.0zM1180.8,1713.9h4.0v4.0h-4.0zM1187.8,1713.9h4.0v4.0h-4.0zM1201.8,1713.9h4.0v4.0h-4.0zM1215.8,1713.9h4.0v4.0h-4.0zM1222.8,1713.9h4.0v4.0h-4.0zM1075.8,1721.0h4.0v4.0h-4.0zM1089.8,1721.0h4.0v4.0h-4.0zM1096.8,1721.0h4.0v4.0h-4.0zM1103.8,1721.0h4.0v4.0h-4.0zM1110.8,1721.0h4.0v4.0h-4.0zM1117.8,1721.0h4.0v4.0h-4.0zM1152.8,1721.0h4.0v4.0h-4.0zM1159.8,1721.0h4.0v4.0h-4.0zM1166.8,1721.0h4.0v4.0h-4.0zM1173.8,1721.0h4.0v4.0h-4.0zM1180.8,1721.0h4.0v4.0h-4.0zM1187.8,1721.0h4.0v4.0h-4.0zM1201.8,1721.0h4.0v4.0h-4.0zM1215.8,1721.0h4.0v4.0h-4.0zM1047.8,1728.0h4.0v4.0h-4.0zM1061.8,1728.0h4.0v4.0h-4.0zM1068.8,1728.0h4.0v4.0h-4.0zM1075.8,1728.0h4.0v4.0h-4.0zM1089.8,1728.0h4.0v4.0h-4.0zM1103.8,1728.0h4.0v4.0h-4.0zM1110.8,1728.0h4.0v4.0h-4.0zM1117.8,1728.0h4.0v4.0h-4.0zM1131.8,1728.0h4.0v4.0h-4.0zM1138.8,1728.0h4.0v4.0h-4.0zM1159.8,1728.0h4.0v4.0h-4.0zM1173.8,1728.0h4.0v4.0h-4.0zM1180.8,1728.0h4.0v4.0h-4.0zM1187.8,1728.0h4.0v4.0h-4.0zM1194.8,1728.0h4.0v4.0h-4.0zM1208.8,1728.0h4.0v4.0h-4.0zM1215.8,1728.0h4.0v4.0h-4.0zM1040.8,1735.0h4.0v4.0h-4.0zM1047.8,1735.0h4.0v4.0h-4.0zM1061.8,1735.0h4.0v4.0h-4.0zM1068.8,1735.0h4.0v4.0h-4.0zM1075.8,1735.0h4.0v4.0h-4.0zM1082.8,1735.0h4.0v4.0h-4.0zM1089.8,1735.0h4.0v4.0h-4.0zM1103.8,1735.0h4.0v4.0h-4.0zM1138.8,1735.0h4.0v4.0h-4.0zM1145.8,1735.0h4.0v4.0h-4.0zM1152.8,1735.0h4.0v4.0h-4.0zM1166.8,1735.0h4.0v4.0h-4.0zM1173.8,1735.0h4.0v4.0h-4.0zM1201.8,1735.0h4.0v4.0h-4.0zM1012.8,1742.1h4.0v4.0h-4.0zM1026.8,1742.1h4.0v4.0h-4.0zM1033.8,1742.1h4.0v4.0h-4.0zM1047.8,1742.1h4.0v4.0h-4.0zM1082.8,1742.1h4.0v4.0h-4.0zM1096.8,1742.1h4.0v4.0h-4.0zM1103.8,1742.1h4.0v4.0h-4.0zM1138.8,1742.1h4.0v4.0h-4.0zM1152.8,1742.1h4.0v4.0h-4.0zM1166.8,1742.1h4.0v4.0h-4.0zM1173.8,1742.1h4.0v4.0h-4.0zM1180.8,1742.1h4.0v4.0h-4.0zM1187.8,1742.1h4.0v4.0h-4.0zM991.8,1749.2h4.0v4.0h-4.0zM998.8,1749.2h4.0v4.0h-4.0zM1012.8,1749.2h4.0v4.0h-4.0zM1033.8,1749.2h4.0v4.0h-4.0zM1040.8,1749.2h4.0v4.0h-4.0zM1047.8,1749.2h4.0v4.0h-4.0zM1075.8,1749.2h4.0v4.0h-4.0zM1082.8,1749.2h4.0v4.0h-4.0zM1110.8,1749.2h4.0v4.0h-4.0zM1138.8,1749.2h4.0v4.0h-4.0zM1145.8,1749.2h4.0v4.0h-4.0zM1152.8,1749.2h4.0v4.0h-4.0zM1166.8,1749.2h4.0v4.0h-4.0zM970.8,1756.2h4.0v4.0h-4.0zM977.8,1756.2h4.0v4.0h-4.0zM984.8,1756.2h4.0v4.0h-4.0zM998.8,1756.2h4.0v4.0h-4.0zM1019.8,1756.2h4.0v4.0h-4.0zM1026.8,1756.2h4.0v4.0h-4.0zM1040.8,1756.2h4.0v4.0h-4.0zM1047.8,1756.2h4.0v4.0h-4.0zM1068.8,1756.2h4.0v4.0h-4.0zM1096.8,1756.2h4.0v4.0h-4.0zM1103.8,1756.2h4.0v4.0h-4.0zM1152.8,1756.2h4.0v4.0h-4.0zM956.8,1763.2h4.0v4.0h-4.0zM963.8,1763.2h4.0v4.0h-4.0zM984.8,1763.2h4.0v4.0h-4.0zM991.8,1763.2h4.0v4.0h-4.0zM1019.8,1763.2h4.0v4.0h-4.0zM1026.8,1763.2h4.0v4.0h-4.0zM1033.8,1763.2h4.0v4.0h-4.0zM1040.8,1763.2h4.0v4.0h-4.0zM1047.8,1763.2h4.0v4.0h-4.0zM1054.8,1763.2h4.0v4.0h-4.0zM1089.8,1763.2h4.0v4.0h-4.0zM1103.8,1763.2h4.0v4.0h-4.0zM1124.8,1763.2h4.0v4.0h-4.0zM949.8,1770.3h4.0v4.0h-4.0zM956.8,1770.3h4.0v4.0h-4.0zM963.8,1770.3h4.0v4.0h-4.0zM991.8,1770.3h4.0v4.0h-4.0zM998.8,1770.3h4.0v4.0h-4.0zM1005.8,1770.3h4.0v4.0h-4.0zM1012.8,1770.3h4.0v4.0h-4.0zM1026.8,1770.3h4.0v4.0h-4.0zM1047.8,1770.3h4.0v4.0h-4.0zM1082.8,1770.3h4.0v4.0h-4.0zM1124.8,1770.3h4.0v4.0h-4.0zM1131.8,1770.3h4.0v4.0h-4.0zM928.8,1777.3h4.0v4.0h-4.0zM935.8,1777.3h4.0v4.0h-4.0zM942.8,1777.3h4.0v4.0h-4.0zM949.8,1777.3h4.0v4.0h-4.0zM956.8,1777.3h4.0v4.0h-4.0zM970.8,1777.3h4.0v4.0h-4.0zM991.8,1777.3h4.0v4.0h-4.0zM998.8,1777.3h4.0v4.0h-4.0zM1005.8,1777.3h4.0v4.0h-4.0zM1012.8,1777.3h4.0v4.0h-4.0zM1040.8,1777.3h4.0v4.0h-4.0zM1047.8,1777.3h4.0v4.0h-4.0zM1068.8,1777.3h4.0v4.0h-4.0zM1103.8,1777.3h4.0v4.0h-4.0zM1138.8,1777.3h4.0v4.0h-4.0zM914.8,1784.4h4.0v4.0h-4.0zM928.8,1784.4h4.0v4.0h-4.0zM935.8,1784.4h4.0v4.0h-4.0zM942.8,1784.4h4.0v4.0h-4.0zM949.8,1784.4h4.0v4.0h-4.0zM956.8,1784.4h4.0v4.0h-4.0zM963.8,1784.4h4.0v4.0h-4.0zM991.8,1784.4h4.0v4.0h-4.0zM998.8,1784.4h4.0v4.0h-4.0zM1019.8,1784.4h4.0v4.0h-4.0zM1026.8,1784.4h4.0v4.0h-4.0zM1040.8,1784.4h4.0v4.0h-4.0zM1054.8,1784.4h4.0v4.0h-4.0zM1061.8,1784.4h4.0v4.0h-4.0zM1082.8,1784.4h4.0v4.0h-4.0zM1103.8,1784.4h4.0v4.0h-4.0zM1124.8,1784.4h4.0v4.0h-4.0zM1131.8,1784.4h4.0v4.0h-4.0zM914.8,1791.5h4.0v4.0h-4.0zM921.8,1791.5h4.0v4.0h-4.0zM928.8,1791.5h4.0v4.0h-4.0zM935.8,1791.5h4.0v4.0h-4.0zM949.8,1791.5h4.0v4.0h-4.0zM956.8,1791.5h4.0v4.0h-4.0zM970.8,1791.5h4.0v4.0h-4.0zM991.8,1791.5h4.0v4.0h-4.0zM998.8,1791.5h4.0v4.0h-4.0zM1005.8,1791.5h4.0v4.0h-4.0zM1047.8,1791.5h4.0v4.0h-4.0zM1082.8,1791.5h4.0v4.0h-4.0zM1117.8,1791.5h4.0v4.0h-4.0zM914.8,1798.5h4.0v4.0h-4.0zM928.8,1798.5h4.0v4.0h-4.0zM991.8,1798.5h4.0v4.0h-4.0zM998.8,1798.5h4.0v4.0h-4.0zM1019.8,1798.5h4.0v4.0h-4.0zM1026.8,1798.5h4.0v4.0h-4.0zM1033.8,1798.5h4.0v4.0h-4.0zM1047.8,1798.5h4.0v4.0h-4.0zM1054.8,1798.5h4.0v4.0h-4.0zM886.8,1805.5h4.0v4.0h-4.0zM893.8,1805.5h4.0v4.0h-4.0zM900.8,1805.5h4.0v4.0h-4.0zM921.8,1805.5h4.0v4.0h-4.0zM935.8,1805.5h4.0v4.0h-4.0zM942.8,1805.5h4.0v4.0h-4.0zM949.8,1805.5h4.0v4.0h-4.0zM956.8,1805.5h4.0v4.0h-4.0zM970.8,1805.5h4.0v4.0h-4.0zM991.8,1805.5h4.0v4.0h-4.0zM998.8,1805.5h4.0v4.0h-4.0zM1005.8,1805.5h4.0v4.0h-4.0zM1033.8,1805.5h4.0v4.0h-4.0zM1040.8,1805.5h4.0v4.0h-4.0zM1047.8,1805.5h4.0v4.0h-4.0zM1054.8,1805.5h4.0v4.0h-4.0zM1096.8,1805.5h4.0v4.0h-4.0zM1117.8,1805.5h4.0v4.0h-4.0zM1145.8,1805.5h4.0v4.0h-4.0zM893.8,1812.6h4.0v4.0h-4.0zM900.8,1812.6h4.0v4.0h-4.0zM914.8,1812.6h4.0v4.0h-4.0zM942.8,1812.6h4.0v4.0h-4.0zM949.8,1812.6h4.0v4.0h-4.0zM956.8,1812.6h4.0v4.0h-4.0zM963.8,1812.6h4.0v4.0h-4.0zM984.8,1812.6h4.0v4.0h-4.0zM998.8,1812.6h4.0v4.0h-4.0zM1005.8,1812.6h4.0v4.0h-4.0zM1019.8,1812.6h4.0v4.0h-4.0zM1026.8,1812.6h4.0v4.0h-4.0zM1040.8,1812.6h4.0v4.0h-4.0zM1054.8,1812.6h4.0v4.0h-4.0zM1061.8,1812.6h4.0v4.0h-4.0zM1089.8,1812.6h4.0v4.0h-4.0zM1096.8,1812.6h4.0v4.0h-4.0zM879.8,1819.7h4.0v4.0h-4.0zM886.8,1819.7h4.0v4.0h-4.0zM900.8,1819.7h4.0v4.0h-4.0zM914.8,1819.7h4.0v4.0h-4.0zM921.8,1819.7h4.0v4.0h-4.0zM956.8,1819.7h4.0v4.0h-4.0zM963.8,1819.7h4.0v4.0h-4.0zM970.8,1819.7h4.0v4.0h-4.0zM977.8,1819.7h4.0v4.0h-4.0zM991.8,1819.7h4.0v4.0h-4.0zM998.8,1819.7h4.0v4.0h-4.0zM1005.8,1819.7h4.0v4.0h-4.0zM1012.8,1819.7h4.0v4.0h-4.0zM1019.8,1819.7h4.0v4.0h-4.0zM1026.8,1819.7h4.0v4.0h-4.0zM1033.8,1819.7h4.0v4.0h-4.0zM1040.8,1819.7h4.0v4.0h-4.0zM1054.8,1819.7h4.0v4.0h-4.0zM1082.8,1819.7h4.0v4.0h-4.0zM1117.8,1819.7h4.0v4.0h-4.0zM1131.8,1819.7h4.0v4.0h-4.0zM865.8,1826.7h4.0v4.0h-4.0zM879.8,1826.7h4.0v4.0h-4.0zM886.8,1826.7h4.0v4.0h-4.0zM893.8,1826.7h4.0v4.0h-4.0zM914.8,1826.7h4.0v4.0h-4.0zM991.8,1826.7h4.0v4.0h-4.0zM998.8,1826.7h4.0v4.0h-4.0zM1005.8,1826.7h4.0v4.0h-4.0zM1012.8,1826.7h4.0v4.0h-4.0zM1019.8,1826.7h4.0v4.0h-4.0zM1026.8,1826.7h4.0v4.0h-4.0zM1033.8,1826.7h4.0v4.0h-4.0zM1040.8,1826.7h4.0v4.0h-4.0zM1068.8,1826.7h4.0v4.0h-4.0zM851.8,1833.8h4.0v4.0h-4.0zM865.8,1833.8h4.0v4.0h-4.0zM872.8,1833.8h4.0v4.0h-4.0zM879.8,1833.8h4.0v4.0h-4.0zM886.8,1833.8h4.0v4.0h-4.0zM893.8,1833.8h4.0v4.0h-4.0zM900.8,1833.8h4.0v4.0h-4.0zM1005.8,1833.8h4.0v4.0h-4.0zM1012.8,1833.8h4.0v4.0h-4.0zM1019.8,1833.8h4.0v4.0h-4.0zM1033.8,1833.8h4.0v4.0h-4.0zM1054.8,1833.8h4.0v4.0h-4.0zM1061.8,1833.8h4.0v4.0h-4.0zM1068.8,1833.8h4.0v4.0h-4.0zM1082.8,1833.8h4.0v4.0h-4.0zM1089.8,1833.8h4.0v4.0h-4.0zM1110.8,1833.8h4.0v4.0h-4.0zM844.8,1840.8h4.0v4.0h-4.0zM858.8,1840.8h4.0v4.0h-4.0zM907.8,1840.8h4.0v4.0h-4.0zM921.8,1840.8h4.0v4.0h-4.0zM942.8,1840.8h4.0v4.0h-4.0zM956.8,1840.8h4.0v4.0h-4.0zM1012.8,1840.8h4.0v4.0h-4.0zM1026.8,1840.8h4.0v4.0h-4.0zM1047.8,1840.8h4.0v4.0h-4.0zM1061.8,1840.8h4.0v4.0h-4.0zM1089.8,1840.8h4.0v4.0h-4.0zM1145.8,1840.8h4.0v4.0h-4.0zM844.8,1847.8h4.0v4.0h-4.0zM851.8,1847.8h4.0v4.0h-4.0zM858.8,1847.8h4.0v4.0h-4.0zM865.8,1847.8h4.0v4.0h-4.0zM872.8,1847.8h4.0v4.0h-4.0zM914.8,1847.8h4.0v4.0h-4.0zM949.8,1847.8h4.0v4.0h-4.0zM984.8,1847.8h4.0v4.0h-4.0zM1026.8,1847.8h4.0v4.0h-4.0zM1040.8,1847.8h4.0v4.0h-4.0zM1047.8,1847.8h4.0v4.0h-4.0zM1054.8,1847.8h4.0v4.0h-4.0zM1061.8,1847.8h4.0v4.0h-4.0zM1068.8,1847.8h4.0v4.0h-4.0zM1075.8,1847.8h4.0v4.0h-4.0zM1096.8,1847.8h4.0v4.0h-4.0zM1103.8,1847.8h4.0v4.0h-4.0zM1117.8,1847.8h4.0v4.0h-4.0zM1138.8,1847.8h4.0v4.0h-4.0zM1145.8,1847.8h4.0v4.0h-4.0zM1152.8,1847.8h4.0v4.0h-4.0zM1159.8,1847.8h4.0v4.0h-4.0zM1166.8,1847.8h4.0v4.0h-4.0zM830.8,1854.9h4.0v4.0h-4.0zM844.8,1854.9h4.0v4.0h-4.0zM851.8,1854.9h4.0v4.0h-4.0zM858.8,1854.9h4.0v4.0h-4.0zM865.8,1854.9h4.0v4.0h-4.0zM886.8,1854.9h4.0v4.0h-4.0zM914.8,1854.9h4.0v4.0h-4.0zM1040.8,1854.9h4.0v4.0h-4.0zM1061.8,1854.9h4.0v4.0h-4.0zM1068.8,1854.9h4.0v4.0h-4.0zM1096.8,1854.9h4.0v4.0h-4.0zM1138.8,1854.9h4.0v4.0h-4.0zM1145.8,1854.9h4.0v4.0h-4.0zM1159.8,1854.9h4.0v4.0h-4.0zM823.8,1862.0h4.0v4.0h-4.0zM830.8,1862.0h4.0v4.0h-4.0zM837.8,1862.0h4.0v4.0h-4.0zM844.8,1862.0h4.0v4.0h-4.0zM858.8,1862.0h4.0v4.0h-4.0zM935.8,1862.0h4.0v4.0h-4.0zM956.8,1862.0h4.0v4.0h-4.0zM977.8,1862.0h4.0v4.0h-4.0zM1061.8,1862.0h4.0v4.0h-4.0zM1068.8,1862.0h4.0v4.0h-4.0zM1075.8,1862.0h4.0v4.0h-4.0zM1096.8,1862.0h4.0v4.0h-4.0zM1103.8,1862.0h4.0v4.0h-4.0zM1110.8,1862.0h4.0v4.0h-4.0zM1117.8,1862.0h4.0v4.0h-4.0zM1131.8,1862.0h4.0v4.0h-4.0zM1138.8,1862.0h4.0v4.0h-4.0zM1145.8,1862.0h4.0v4.0h-4.0zM1159.8,1862.0h4.0v4.0h-4.0zM816.8,1869.0h4.0v4.0h-4.0zM830.8,1869.0h4.0v4.0h-4.0zM844.8,1869.0h4.0v4.0h-4.0zM879.8,1869.0h4.0v4.0h-4.0zM998.8,1869.0h4.0v4.0h-4.0zM1012.8,1869.0h4.0v4.0h-4.0zM1061.8,1869.0h4.0v4.0h-4.0zM1096.8,1869.0h4.0v4.0h-4.0zM1103.8,1869.0h4.0v4.0h-4.0zM1124.8,1869.0h4.0v4.0h-4.0zM1138.8,1869.0h4.0v4.0h-4.0zM1145.8,1869.0h4.0v4.0h-4.0zM1152.8,1869.0h4.0v4.0h-4.0zM1159.8,1869.0h4.0v4.0h-4.0zM1166.8,1869.0h4.0v4.0h-4.0zM1173.8,1869.0h4.0v4.0h-4.0zM823.8,1876.0h4.0v4.0h-4.0zM830.8,1876.0h4.0v4.0h-4.0zM837.8,1876.0h4.0v4.0h-4.0zM844.8,1876.0h4.0v4.0h-4.0zM865.8,1876.0h4.0v4.0h-4.0zM928.8,1876.0h4.0v4.0h-4.0zM998.8,1876.0h4.0v4.0h-4.0zM1005.8,1876.0h4.0v4.0h-4.0zM1012.8,1876.0h4.0v4.0h-4.0zM1026.8,1876.0h4.0v4.0h-4.0zM1047.8,1876.0h4.0v4.0h-4.0zM1124.8,1876.0h4.0v4.0h-4.0zM1138.8,1876.0h4.0v4.0h-4.0zM1145.8,1876.0h4.0v4.0h-4.0zM1166.8,1876.0h4.0v4.0h-4.0zM1173.8,1876.0h4.0v4.0h-4.0zM816.8,1883.1h4.0v4.0h-4.0zM830.8,1883.1h4.0v4.0h-4.0zM844.8,1883.1h4.0v4.0h-4.0zM858.8,1883.1h4.0v4.0h-4.0zM914.8,1883.1h4.0v4.0h-4.0zM921.8,1883.1h4.0v4.0h-4.0zM935.8,1883.1h4.0v4.0h-4.0zM984.8,1883.1h4.0v4.0h-4.0zM1096.8,1883.1h4.0v4.0h-4.0zM1103.8,1883.1h4.0v4.0h-4.0zM1110.8,1883.1h4.0v4.0h-4.0zM1124.8,1883.1h4.0v4.0h-4.0zM1131.8,1883.1h4.0v4.0h-4.0zM1138.8,1883.1h4.0v4.0h-4.0zM1159.8,1883.1h4.0v4.0h-4.0zM1173.8,1883.1h4.0v4.0h-4.0zM795.8,1890.2h4.0v4.0h-4.0zM802.8,1890.2h4.0v4.0h-4.0zM816.8,1890.2h4.0v4.0h-4.0zM823.8,1890.2h4.0v4.0h-4.0zM830.8,1890.2h4.0v4.0h-4.0zM844.8,1890.2h4.0v4.0h-4.0zM865.8,1890.2h4.0v4.0h-4.0zM914.8,1890.2h4.0v4.0h-4.0zM921.8,1890.2h4.0v4.0h-4.0zM935.8,1890.2h4.0v4.0h-4.0zM1005.8,1890.2h4.0v4.0h-4.0zM1040.8,1890.2h4.0v4.0h-4.0zM1061.8,1890.2h4.0v4.0h-4.0zM1075.8,1890.2h4.0v4.0h-4.0zM1103.8,1890.2h4.0v4.0h-4.0zM1117.8,1890.2h4.0v4.0h-4.0zM1124.8,1890.2h4.0v4.0h-4.0zM1131.8,1890.2h4.0v4.0h-4.0zM1138.8,1890.2h4.0v4.0h-4.0zM1145.8,1890.2h4.0v4.0h-4.0zM1152.8,1890.2h4.0v4.0h-4.0zM1159.8,1890.2h4.0v4.0h-4.0zM1166.8,1890.2h4.0v4.0h-4.0zM802.8,1897.2h4.0v4.0h-4.0zM816.8,1897.2h4.0v4.0h-4.0zM823.8,1897.2h4.0v4.0h-4.0zM837.8,1897.2h4.0v4.0h-4.0zM893.8,1897.2h4.0v4.0h-4.0zM1061.8,1897.2h4.0v4.0h-4.0zM1103.8,1897.2h4.0v4.0h-4.0zM1124.8,1897.2h4.0v4.0h-4.0zM1159.8,1897.2h4.0v4.0h-4.0zM1166.8,1897.2h4.0v4.0h-4.0zM788.8,1904.2h4.0v4.0h-4.0zM795.8,1904.2h4.0v4.0h-4.0zM802.8,1904.2h4.0v4.0h-4.0zM809.8,1904.2h4.0v4.0h-4.0zM823.8,1904.2h4.0v4.0h-4.0zM837.8,1904.2h4.0v4.0h-4.0zM963.8,1904.2h4.0v4.0h-4.0zM984.8,1904.2h4.0v4.0h-4.0zM1061.8,1904.2h4.0v4.0h-4.0zM1117.8,1904.2h4.0v4.0h-4.0zM1131.8,1904.2h4.0v4.0h-4.0zM1138.8,1904.2h4.0v4.0h-4.0zM788.8,1911.3h4.0v4.0h-4.0zM795.8,1911.3h4.0v4.0h-4.0zM809.8,1911.3h4.0v4.0h-4.0zM830.8,1911.3h4.0v4.0h-4.0zM837.8,1911.3h4.0v4.0h-4.0zM865.8,1911.3h4.0v4.0h-4.0zM872.8,1911.3h4.0v4.0h-4.0zM928.8,1911.3h4.0v4.0h-4.0zM1075.8,1911.3h4.0v4.0h-4.0zM1110.8,1911.3h4.0v4.0h-4.0zM1117.8,1911.3h4.0v4.0h-4.0zM1124.8,1911.3h4.0v4.0h-4.0zM1131.8,1911.3h4.0v4.0h-4.0zM1138.8,1911.3h4.0v4.0h-4.0zM1159.8,1911.3h4.0v4.0h-4.0zM781.8,1918.3h4.0v4.0h-4.0zM795.8,1918.3h4.0v4.0h-4.0zM809.8,1918.3h4.0v4.0h-4.0zM816.8,1918.3h4.0v4.0h-4.0zM830.8,1918.3h4.0v4.0h-4.0zM872.8,1918.3h4.0v4.0h-4.0zM907.8,1918.3h4.0v4.0h-4.0zM1026.8,1918.3h4.0v4.0h-4.0zM1040.8,1918.3h4.0v4.0h-4.0zM1054.8,1918.3h4.0v4.0h-4.0zM1131.8,1918.3h4.0v4.0h-4.0zM1138.8,1918.3h4.0v4.0h-4.0zM1145.8,1918.3h4.0v4.0h-4.0zM1152.8,1918.3h4.0v4.0h-4.0zM781.8,1925.4h4.0v4.0h-4.0zM795.8,1925.4h4.0v4.0h-4.0zM809.8,1925.4h4.0v4.0h-4.0zM816.8,1925.4h4.0v4.0h-4.0zM823.8,1925.4h4.0v4.0h-4.0zM830.8,1925.4h4.0v4.0h-4.0zM837.8,1925.4h4.0v4.0h-4.0zM970.8,1925.4h4.0v4.0h-4.0zM1138.8,1925.4h4.0v4.0h-4.0zM1145.8,1925.4h4.0v4.0h-4.0zM1152.8,1925.4h4.0v4.0h-4.0zM767.8,1932.5h4.0v4.0h-4.0zM781.8,1932.5h4.0v4.0h-4.0zM788.8,1932.5h4.0v4.0h-4.0zM802.8,1932.5h4.0v4.0h-4.0zM816.8,1932.5h4.0v4.0h-4.0zM830.8,1932.5h4.0v4.0h-4.0zM837.8,1932.5h4.0v4.0h-4.0zM858.8,1932.5h4.0v4.0h-4.0zM921.8,1932.5h4.0v4.0h-4.0zM1019.8,1932.5h4.0v4.0h-4.0zM1033.8,1932.5h4.0v4.0h-4.0zM1103.8,1932.5h4.0v4.0h-4.0zM1124.8,1932.5h4.0v4.0h-4.0zM1131.8,1932.5h4.0v4.0h-4.0zM1138.8,1932.5h4.0v4.0h-4.0zM760.8,1939.5h4.0v4.0h-4.0zM774.8,1939.5h4.0v4.0h-4.0zM781.8,1939.5h4.0v4.0h-4.0zM795.8,1939.5h4.0v4.0h-4.0zM809.8,1939.5h4.0v4.0h-4.0zM837.8,1939.5h4.0v4.0h-4.0zM886.8,1939.5h4.0v4.0h-4.0zM935.8,1939.5h4.0v4.0h-4.0zM1124.8,1939.5h4.0v4.0h-4.0zM1138.8,1939.5h4.0v4.0h-4.0zM760.8,1946.5h4.0v4.0h-4.0zM767.8,1946.5h4.0v4.0h-4.0zM802.8,1946.5h4.0v4.0h-4.0zM823.8,1946.5h4.0v4.0h-4.0zM830.8,1946.5h4.0v4.0h-4.0zM942.8,1946.5h4.0v4.0h-4.0zM1026.8,1946.5h4.0v4.0h-4.0zM1054.8,1946.5h4.0v4.0h-4.0zM1124.8,1946.5h4.0v4.0h-4.0zM1138.8,1946.5h4.0v4.0h-4.0zM767.8,1953.6h4.0v4.0h-4.0zM781.8,1953.6h4.0v4.0h-4.0zM795.8,1953.6h4.0v4.0h-4.0zM809.8,1953.6h4.0v4.0h-4.0zM830.8,1953.6h4.0v4.0h-4.0zM935.8,1953.6h4.0v4.0h-4.0zM949.8,1953.6h4.0v4.0h-4.0zM984.8,1953.6h4.0v4.0h-4.0zM1124.8,1953.6h4.0v4.0h-4.0zM753.8,1960.7h4.0v4.0h-4.0zM760.8,1960.7h4.0v4.0h-4.0zM767.8,1960.7h4.0v4.0h-4.0zM774.8,1960.7h4.0v4.0h-4.0zM788.8,1960.7h4.0v4.0h-4.0zM802.8,1960.7h4.0v4.0h-4.0zM809.8,1960.7h4.0v4.0h-4.0zM816.8,1960.7h4.0v4.0h-4.0zM830.8,1960.7h4.0v4.0h-4.0zM935.8,1960.7h4.0v4.0h-4.0zM991.8,1960.7h4.0v4.0h-4.0zM746.8,1967.7h4.0v4.0h-4.0zM753.8,1967.7h4.0v4.0h-4.0zM760.8,1967.7h4.0v4.0h-4.0zM774.8,1967.7h4.0v4.0h-4.0zM781.8,1967.7h4.0v4.0h-4.0zM795.8,1967.7h4.0v4.0h-4.0zM802.8,1967.7h4.0v4.0h-4.0zM816.8,1967.7h4.0v4.0h-4.0zM858.8,1967.7h4.0v4.0h-4.0zM1075.8,1967.7h4.0v4.0h-4.0zM746.8,1974.8h4.0v4.0h-4.0zM753.8,1974.8h4.0v4.0h-4.0zM767.8,1974.8h4.0v4.0h-4.0zM774.8,1974.8h4.0v4.0h-4.0zM781.8,1974.8h4.0v4.0h-4.0zM795.8,1974.8h4.0v4.0h-4.0zM802.8,1974.8h4.0v4.0h-4.0zM816.8,1974.8h4.0v4.0h-4.0zM823.8,1974.8h4.0v4.0h-4.0zM949.8,1974.8h4.0v4.0h-4.0zM1117.8,1974.8h4.0v4.0h-4.0zM739.8,1981.8h4.0v4.0h-4.0zM746.8,1981.8h4.0v4.0h-4.0zM753.8,1981.8h4.0v4.0h-4.0zM767.8,1981.8h4.0v4.0h-4.0zM781.8,1981.8h4.0v4.0h-4.0zM795.8,1981.8h4.0v4.0h-4.0zM802.8,1981.8h4.0v4.0h-4.0zM809.8,1981.8h4.0v4.0h-4.0zM823.8,1981.8h4.0v4.0h-4.0zM858.8,1981.8h4.0v4.0h-4.0zM746.8,1988.8h4.0v4.0h-4.0zM753.8,1988.8h4.0v4.0h-4.0zM760.8,1988.8h4.0v4.0h-4.0zM774.8,1988.8h4.0v4.0h-4.0zM802.8,1988.8h4.0v4.0h-4.0zM809.8,1988.8h4.0v4.0h-4.0zM816.8,1988.8h4.0v4.0h-4.0zM823.8,1988.8h4.0v4.0h-4.0zM830.8,1988.8h4.0v4.0h-4.0zM900.8,1988.8h4.0v4.0h-4.0zM935.8,1988.8h4.0v4.0h-4.0zM956.8,1988.8h4.0v4.0h-4.0zM739.8,1995.9h4.0v4.0h-4.0zM781.8,1995.9h4.0v4.0h-4.0zM788.8,1995.9h4.0v4.0h-4.0zM809.8,1995.9h4.0v4.0h-4.0zM816.8,1995.9h4.0v4.0h-4.0zM823.8,1995.9h4.0v4.0h-4.0zM830.8,1995.9h4.0v4.0h-4.0zM837.8,1995.9h4.0v4.0h-4.0zM851.8,1995.9h4.0v4.0h-4.0zM893.8,1995.9h4.0v4.0h-4.0zM907.8,1995.9h4.0v4.0h-4.0zM977.8,1995.9h4.0v4.0h-4.0zM1012.8,1995.9h4.0v4.0h-4.0zM1040.8,1995.9h4.0v4.0h-4.0zM739.8,2003.0h4.0v4.0h-4.0zM746.8,2003.0h4.0v4.0h-4.0zM753.8,2003.0h4.0v4.0h-4.0zM760.8,2003.0h4.0v4.0h-4.0zM774.8,2003.0h4.0v4.0h-4.0zM781.8,2003.0h4.0v4.0h-4.0zM788.8,2003.0h4.0v4.0h-4.0zM795.8,2003.0h4.0v4.0h-4.0zM816.8,2003.0h4.0v4.0h-4.0zM844.8,2003.0h4.0v4.0h-4.0zM865.8,2003.0h4.0v4.0h-4.0zM963.8,2003.0h4.0v4.0h-4.0zM998.8,2003.0h4.0v4.0h-4.0zM1040.8,2003.0h4.0v4.0h-4.0zM1110.8,2003.0h4.0v4.0h-4.0zM746.8,2010.0h4.0v4.0h-4.0zM753.8,2010.0h4.0v4.0h-4.0zM781.8,2010.0h4.0v4.0h-4.0zM802.8,2010.0h4.0v4.0h-4.0zM816.8,2010.0h4.0v4.0h-4.0zM823.8,2010.0h4.0v4.0h-4.0zM830.8,2010.0h4.0v4.0h-4.0zM851.8,2010.0h4.0v4.0h-4.0zM970.8,2010.0h4.0v4.0h-4.0zM725.8,2017.0h4.0v4.0h-4.0zM732.8,2017.0h4.0v4.0h-4.0zM746.8,2017.0h4.0v4.0h-4.0zM760.8,2017.0h4.0v4.0h-4.0zM781.8,2017.0h4.0v4.0h-4.0zM788.8,2017.0h4.0v4.0h-4.0zM795.8,2017.0h4.0v4.0h-4.0zM809.8,2017.0h4.0v4.0h-4.0zM816.8,2017.0h4.0v4.0h-4.0zM823.8,2017.0h4.0v4.0h-4.0zM837.8,2017.0h4.0v4.0h-4.0zM844.8,2017.0h4.0v4.0h-4.0zM865.8,2017.0h4.0v4.0h-4.0zM872.8,2017.0h4.0v4.0h-4.0zM991.8,2017.0h4.0v4.0h-4.0zM1075.8,2017.0h4.0v4.0h-4.0zM1096.8,2017.0h4.0v4.0h-4.0zM718.8,2024.1h4.0v4.0h-4.0zM732.8,2024.1h4.0v4.0h-4.0zM739.8,2024.1h4.0v4.0h-4.0zM746.8,2024.1h4.0v4.0h-4.0zM753.8,2024.1h4.0v4.0h-4.0zM760.8,2024.1h4.0v4.0h-4.0zM774.8,2024.1h4.0v4.0h-4.0zM781.8,2024.1h4.0v4.0h-4.0zM795.8,2024.1h4.0v4.0h-4.0zM802.8,2024.1h4.0v4.0h-4.0zM809.8,2024.1h4.0v4.0h-4.0zM837.8,2024.1h4.0v4.0h-4.0zM844.8,2024.1h4.0v4.0h-4.0zM900.8,2024.1h4.0v4.0h-4.0zM1040.8,2024.1h4.0v4.0h-4.0zM1068.8,2024.1h4.0v4.0h-4.0zM718.8,2031.2h4.0v4.0h-4.0zM732.8,2031.2h4.0v4.0h-4.0zM739.8,2031.2h4.0v4.0h-4.0zM746.8,2031.2h4.0v4.0h-4.0zM788.8,2031.2h4.0v4.0h-4.0zM802.8,2031.2h4.0v4.0h-4.0zM816.8,2031.2h4.0v4.0h-4.0zM823.8,2031.2h4.0v4.0h-4.0zM830.8,2031.2h4.0v4.0h-4.0zM844.8,2031.2h4.0v4.0h-4.0zM851.8,2031.2h4.0v4.0h-4.0zM1103.8,2031.2h4.0v4.0h-4.0zM718.8,2038.2h4.0v4.0h-4.0zM725.8,2038.2h4.0v4.0h-4.0zM732.8,2038.2h4.0v4.0h-4.0zM739.8,2038.2h4.0v4.0h-4.0zM746.8,2038.2h4.0v4.0h-4.0zM753.8,2038.2h4.0v4.0h-4.0zM774.8,2038.2h4.0v4.0h-4.0zM781.8,2038.2h4.0v4.0h-4.0zM795.8,2038.2h4.0v4.0h-4.0zM802.8,2038.2h4.0v4.0h-4.0zM816.8,2038.2h4.0v4.0h-4.0zM830.8,2038.2h4.0v4.0h-4.0zM879.8,2038.2h4.0v4.0h-4.0zM900.8,2038.2h4.0v4.0h-4.0zM963.8,2038.2h4.0v4.0h-4.0zM1089.8,2038.2h4.0v4.0h-4.0zM704.8,2045.2h4.0v4.0h-4.0zM711.8,2045.2h4.0v4.0h-4.0zM725.8,2045.2h4.0v4.0h-4.0zM739.8,2045.2h4.0v4.0h-4.0zM774.8,2045.2h4.0v4.0h-4.0zM802.8,2045.2h4.0v4.0h-4.0zM809.8,2045.2h4.0v4.0h-4.0zM816.8,2045.2h4.0v4.0h-4.0zM823.8,2045.2h4.0v4.0h-4.0zM837.8,2045.2h4.0v4.0h-4.0zM844.8,2045.2h4.0v4.0h-4.0zM851.8,2045.2h4.0v4.0h-4.0zM886.8,2045.2h4.0v4.0h-4.0zM907.8,2045.2h4.0v4.0h-4.0zM963.8,2045.2h4.0v4.0h-4.0zM1089.8,2045.2h4.0v4.0h-4.0zM711.8,2052.3h4.0v4.0h-4.0zM725.8,2052.3h4.0v4.0h-4.0zM746.8,2052.3h4.0v4.0h-4.0zM760.8,2052.3h4.0v4.0h-4.0zM767.8,2052.3h4.0v4.0h-4.0zM774.8,2052.3h4.0v4.0h-4.0zM781.8,2052.3h4.0v4.0h-4.0zM788.8,2052.3h4.0v4.0h-4.0zM795.8,2052.3h4.0v4.0h-4.0zM802.8,2052.3h4.0v4.0h-4.0zM830.8,2052.3h4.0v4.0h-4.0zM837.8,2052.3h4.0v4.0h-4.0zM858.8,2052.3h4.0v4.0h-4.0zM893.8,2052.3h4.0v4.0h-4.0zM1040.8,2052.3h4.0v4.0h-4.0zM718.8,2059.3h4.0v4.0h-4.0zM746.8,2059.3h4.0v4.0h-4.0zM753.8,2059.3h4.0v4.0h-4.0zM760.8,2059.3h4.0v4.0h-4.0zM767.8,2059.3h4.0v4.0h-4.0zM795.8,2059.3h4.0v4.0h-4.0zM802.8,2059.3h4.0v4.0h-4.0zM809.8,2059.3h4.0v4.0h-4.0zM823.8,2059.3h4.0v4.0h-4.0zM830.8,2059.3h4.0v4.0h-4.0zM844.8,2059.3h4.0v4.0h-4.0zM858.8,2059.3h4.0v4.0h-4.0zM1005.8,2059.3h4.0v4.0h-4.0zM1026.8,2059.3h4.0v4.0h-4.0zM1040.8,2059.3h4.0v4.0h-4.0zM690.8,2066.4h4.0v4.0h-4.0zM711.8,2066.4h4.0v4.0h-4.0zM732.8,2066.4h4.0v4.0h-4.0zM767.8,2066.4h4.0v4.0h-4.0zM781.8,2066.4h4.0v4.0h-4.0zM795.8,2066.4h4.0v4.0h-4.0zM809.8,2066.4h4.0v4.0h-4.0zM816.8,2066.4h4.0v4.0h-4.0zM823.8,2066.4h4.0v4.0h-4.0zM837.8,2066.4h4.0v4.0h-4.0zM851.8,2066.4h4.0v4.0h-4.0zM858.8,2066.4h4.0v4.0h-4.0zM879.8,2066.4h4.0v4.0h-4.0zM914.8,2066.4h4.0v4.0h-4.0zM921.8,2066.4h4.0v4.0h-4.0zM998.8,2066.4h4.0v4.0h-4.0zM1082.8,2066.4h4.0v4.0h-4.0zM683.8,2073.4h4.0v4.0h-4.0zM711.8,2073.4h4.0v4.0h-4.0zM718.8,2073.4h4.0v4.0h-4.0zM739.8,2073.4h4.0v4.0h-4.0zM746.8,2073.4h4.0v4.0h-4.0zM767.8,2073.4h4.0v4.0h-4.0zM774.8,2073.4h4.0v4.0h-4.0zM781.8,2073.4h4.0v4.0h-4.0zM788.8,2073.4h4.0v4.0h-4.0zM802.8,2073.4h4.0v4.0h-4.0zM830.8,2073.4h4.0v4.0h-4.0zM837.8,2073.4h4.0v4.0h-4.0zM851.8,2073.4h4.0v4.0h-4.0zM858.8,2073.4h4.0v4.0h-4.0zM865.8,2073.4h4.0v4.0h-4.0zM676.8,2080.5h4.0v4.0h-4.0zM718.8,2080.5h4.0v4.0h-4.0zM732.8,2080.5h4.0v4.0h-4.0zM739.8,2080.5h4.0v4.0h-4.0zM774.8,2080.5h4.0v4.0h-4.0zM781.8,2080.5h4.0v4.0h-4.0zM788.8,2080.5h4.0v4.0h-4.0zM795.8,2080.5h4.0v4.0h-4.0zM816.8,2080.5h4.0v4.0h-4.0zM844.8,2080.5h4.0v4.0h-4.0zM851.8,2080.5h4.0v4.0h-4.0zM858.8,2080.5h4.0v4.0h-4.0zM865.8,2080.5h4.0v4.0h-4.0zM921.8,2080.5h4.0v4.0h-4.0zM928.8,2080.5h4.0v4.0h-4.0zM1075.8,2080.5h4.0v4.0h-4.0zM676.8,2087.6h4.0v4.0h-4.0zM711.8,2087.6h4.0v4.0h-4.0zM746.8,2087.6h4.0v4.0h-4.0zM774.8,2087.6h4.0v4.0h-4.0zM788.8,2087.6h4.0v4.0h-4.0zM795.8,2087.6h4.0v4.0h-4.0zM816.8,2087.6h4.0v4.0h-4.0zM830.8,2087.6h4.0v4.0h-4.0zM837.8,2087.6h4.0v4.0h-4.0zM865.8,2087.6h4.0v4.0h-4.0zM1054.8,2087.6h4.0v4.0h-4.0zM1061.8,2087.6h4.0v4.0h-4.0zM662.8,2094.6h4.0v4.0h-4.0zM676.8,2094.6h4.0v4.0h-4.0zM683.8,2094.6h4.0v4.0h-4.0zM704.8,2094.6h4.0v4.0h-4.0zM711.8,2094.6h4.0v4.0h-4.0zM746.8,2094.6h4.0v4.0h-4.0zM753.8,2094.6h4.0v4.0h-4.0zM767.8,2094.6h4.0v4.0h-4.0zM788.8,2094.6h4.0v4.0h-4.0zM795.8,2094.6h4.0v4.0h-4.0zM802.8,2094.6h4.0v4.0h-4.0zM816.8,2094.6h4.0v4.0h-4.0zM823.8,2094.6h4.0v4.0h-4.0zM830.8,2094.6h4.0v4.0h-4.0zM837.8,2094.6h4.0v4.0h-4.0zM844.8,2094.6h4.0v4.0h-4.0zM851.8,2094.6h4.0v4.0h-4.0zM865.8,2094.6h4.0v4.0h-4.0zM872.8,2094.6h4.0v4.0h-4.0zM991.8,2094.6h4.0v4.0h-4.0zM998.8,2094.6h4.0v4.0h-4.0zM1012.8,2094.6h4.0v4.0h-4.0zM1019.8,2094.6h4.0v4.0h-4.0zM1040.8,2094.6h4.0v4.0h-4.0zM1047.8,2094.6h4.0v4.0h-4.0zM1061.8,2094.6h4.0v4.0h-4.0zM669.8,2101.7h4.0v4.0h-4.0zM683.8,2101.7h4.0v4.0h-4.0zM739.8,2101.7h4.0v4.0h-4.0zM753.8,2101.7h4.0v4.0h-4.0zM760.8,2101.7h4.0v4.0h-4.0zM788.8,2101.7h4.0v4.0h-4.0zM795.8,2101.7h4.0v4.0h-4.0zM802.8,2101.7h4.0v4.0h-4.0zM809.8,2101.7h4.0v4.0h-4.0zM823.8,2101.7h4.0v4.0h-4.0zM830.8,2101.7h4.0v4.0h-4.0zM837.8,2101.7h4.0v4.0h-4.0zM851.8,2101.7h4.0v4.0h-4.0zM865.8,2101.7h4.0v4.0h-4.0zM928.8,2101.7h4.0v4.0h-4.0zM942.8,2101.7h4.0v4.0h-4.0zM991.8,2101.7h4.0v4.0h-4.0zM1005.8,2101.7h4.0v4.0h-4.0zM1019.8,2101.7h4.0v4.0h-4.0zM1026.8,2101.7h4.0v4.0h-4.0zM1033.8,2101.7h4.0v4.0h-4.0zM1040.8,2101.7h4.0v4.0h-4.0zM655.8,2108.7h4.0v4.0h-4.0zM662.8,2108.7h4.0v4.0h-4.0zM676.8,2108.7h4.0v4.0h-4.0zM690.8,2108.7h4.0v4.0h-4.0zM697.8,2108.7h4.0v4.0h-4.0zM725.8,2108.7h4.0v4.0h-4.0zM760.8,2108.7h4.0v4.0h-4.0zM767.8,2108.7h4.0v4.0h-4.0zM774.8,2108.7h4.0v4.0h-4.0zM795.8,2108.7h4.0v4.0h-4.0zM809.8,2108.7h4.0v4.0h-4.0zM823.8,2108.7h4.0v4.0h-4.0zM837.8,2108.7h4.0v4.0h-4.0zM844.8,2108.7h4.0v4.0h-4.0zM851.8,2108.7h4.0v4.0h-4.0zM858.8,2108.7h4.0v4.0h-4.0zM893.8,2108.7h4.0v4.0h-4.0zM907.8,2108.7h4.0v4.0h-4.0zM914.8,2108.7h4.0v4.0h-4.0zM921.8,2108.7h4.0v4.0h-4.0zM970.8,2108.7h4.0v4.0h-4.0zM991.8,2108.7h4.0v4.0h-4.0zM998.8,2108.7h4.0v4.0h-4.0zM1012.8,2108.7h4.0v4.0h-4.0zM1019.8,2108.7h4.0v4.0h-4.0zM1026.8,2108.7h4.0v4.0h-4.0zM1033.8,2108.7h4.0v4.0h-4.0zM676.8,2115.8h4.0v4.0h-4.0zM683.8,2115.8h4.0v4.0h-4.0zM690.8,2115.8h4.0v4.0h-4.0zM697.8,2115.8h4.0v4.0h-4.0zM746.8,2115.8h4.0v4.0h-4.0zM760.8,2115.8h4.0v4.0h-4.0zM774.8,2115.8h4.0v4.0h-4.0zM788.8,2115.8h4.0v4.0h-4.0zM802.8,2115.8h4.0v4.0h-4.0zM823.8,2115.8h4.0v4.0h-4.0zM844.8,2115.8h4.0v4.0h-4.0zM900.8,2115.8h4.0v4.0h-4.0zM928.8,2115.8h4.0v4.0h-4.0zM935.8,2115.8h4.0v4.0h-4.0zM942.8,2115.8h4.0v4.0h-4.0zM956.8,2115.8h4.0v4.0h-4.0zM984.8,2115.8h4.0v4.0h-4.0zM1005.8,2115.8h4.0v4.0h-4.0zM669.8,2122.8h4.0v4.0h-4.0zM683.8,2122.8h4.0v4.0h-4.0zM760.8,2122.8h4.0v4.0h-4.0zM802.8,2122.8h4.0v4.0h-4.0zM816.8,2122.8h4.0v4.0h-4.0zM844.8,2122.8h4.0v4.0h-4.0zM872.8,2122.8h4.0v4.0h-4.0zM886.8,2122.8h4.0v4.0h-4.0zM893.8,2122.8h4.0v4.0h-4.0zM900.8,2122.8h4.0v4.0h-4.0zM935.8,2122.8h4.0v4.0h-4.0zM942.8,2122.8h4.0v4.0h-4.0zM949.8,2122.8h4.0v4.0h-4.0zM956.8,2122.8h4.0v4.0h-4.0zM963.8,2122.8h4.0v4.0h-4.0zM970.8,2122.8h4.0v4.0h-4.0zM984.8,2122.8h4.0v4.0h-4.0zM655.8,2129.8h4.0v4.0h-4.0zM669.8,2129.8h4.0v4.0h-4.0zM690.8,2129.8h4.0v4.0h-4.0zM697.8,2129.8h4.0v4.0h-4.0zM718.8,2129.8h4.0v4.0h-4.0zM739.8,2129.8h4.0v4.0h-4.0zM767.8,2129.8h4.0v4.0h-4.0zM774.8,2129.8h4.0v4.0h-4.0zM788.8,2129.8h4.0v4.0h-4.0zM809.8,2129.8h4.0v4.0h-4.0zM816.8,2129.8h4.0v4.0h-4.0zM844.8,2129.8h4.0v4.0h-4.0zM865.8,2129.8h4.0v4.0h-4.0zM872.8,2129.8h4.0v4.0h-4.0zM900.8,2129.8h4.0v4.0h-4.0zM907.8,2129.8h4.0v4.0h-4.0zM935.8,2129.8h4.0v4.0h-4.0zM956.8,2129.8h4.0v4.0h-4.0zM963.8,2129.8h4.0v4.0h-4.0zM970.8,2129.8h4.0v4.0h-4.0zM655.8,2136.9h4.0v4.0h-4.0zM662.8,2136.9h4.0v4.0h-4.0zM725.8,2136.9h4.0v4.0h-4.0zM732.8,2136.9h4.0v4.0h-4.0zM746.8,2136.9h4.0v4.0h-4.0zM788.8,2136.9h4.0v4.0h-4.0zM837.8,2136.9h4.0v4.0h-4.0zM844.8,2136.9h4.0v4.0h-4.0zM872.8,2136.9h4.0v4.0h-4.0zM886.8,2136.9h4.0v4.0h-4.0zM907.8,2136.9h4.0v4.0h-4.0zM914.8,2136.9h4.0v4.0h-4.0zM928.8,2136.9h4.0v4.0h-4.0zM935.8,2136.9h4.0v4.0h-4.0zM942.8,2136.9h4.0v4.0h-4.0zM949.8,2136.9h4.0v4.0h-4.0zM634.8,2143.9h4.0v4.0h-4.0zM641.8,2143.9h4.0v4.0h-4.0zM655.8,2143.9h4.0v4.0h-4.0zM662.8,2143.9h4.0v4.0h-4.0zM669.8,2143.9h4.0v4.0h-4.0zM676.8,2143.9h4.0v4.0h-4.0zM711.8,2143.9h4.0v4.0h-4.0zM753.8,2143.9h4.0v4.0h-4.0zM774.8,2143.9h4.0v4.0h-4.0zM781.8,2143.9h4.0v4.0h-4.0zM788.8,2143.9h4.0v4.0h-4.0zM809.8,2143.9h4.0v4.0h-4.0zM851.8,2143.9h4.0v4.0h-4.0zM865.8,2143.9h4.0v4.0h-4.0zM879.8,2143.9h4.0v4.0h-4.0zM893.8,2143.9h4.0v4.0h-4.0zM942.8,2143.9h4.0v4.0h-4.0zM662.8,2151.0h4.0v4.0h-4.0zM676.8,2151.0h4.0v4.0h-4.0zM683.8,2151.0h4.0v4.0h-4.0zM690.8,2151.0h4.0v4.0h-4.0zM697.8,2151.0h4.0v4.0h-4.0zM711.8,2151.0h4.0v4.0h-4.0zM718.8,2151.0h4.0v4.0h-4.0zM732.8,2151.0h4.0v4.0h-4.0zM788.8,2151.0h4.0v4.0h-4.0zM823.8,2151.0h4.0v4.0h-4.0zM830.8,2151.0h4.0v4.0h-4.0zM837.8,2151.0h4.0v4.0h-4.0zM893.8,2151.0h4.0v4.0h-4.0zM907.8,2151.0h4.0v4.0h-4.0zM921.8,2151.0h4.0v4.0h-4.0zM928.8,2151.0h4.0v4.0h-4.0zM634.8,2158.1h4.0v4.0h-4.0zM690.8,2158.1h4.0v4.0h-4.0zM704.8,2158.1h4.0v4.0h-4.0zM711.8,2158.1h4.0v4.0h-4.0zM732.8,2158.1h4.0v4.0h-4.0zM753.8,2158.1h4.0v4.0h-4.0zM760.8,2158.1h4.0v4.0h-4.0zM774.8,2158.1h4.0v4.0h-4.0zM788.8,2158.1h4.0v4.0h-4.0zM816.8,2158.1h4.0v4.0h-4.0zM823.8,2158.1h4.0v4.0h-4.0zM830.8,2158.1h4.0v4.0h-4.0zM858.8,2158.1h4.0v4.0h-4.0zM872.8,2158.1h4.0v4.0h-4.0zM641.8,2165.1h4.0v4.0h-4.0zM669.8,2165.1h4.0v4.0h-4.0zM704.8,2165.1h4.0v4.0h-4.0zM732.8,2165.1h4.0v4.0h-4.0zM739.8,2165.1h4.0v4.0h-4.0zM760.8,2165.1h4.0v4.0h-4.0zM767.8,2165.1h4.0v4.0h-4.0zM788.8,2165.1h4.0v4.0h-4.0zM830.8,2165.1h4.0v4.0h-4.0zM837.8,2165.1h4.0v4.0h-4.0zM844.8,2165.1h4.0v4.0h-4.0zM858.8,2165.1h4.0v4.0h-4.0zM879.8,2165.1h4.0v4.0h-4.0zM886.8,2165.1h4.0v4.0h-4.0zM907.8,2165.1h4.0v4.0h-4.0zM914.8,2165.1h4.0v4.0h-4.0zM627.8,2172.2h4.0v4.0h-4.0zM648.8,2172.2h4.0v4.0h-4.0zM655.8,2172.2h4.0v4.0h-4.0zM676.8,2172.2h4.0v4.0h-4.0zM704.8,2172.2h4.0v4.0h-4.0zM718.8,2172.2h4.0v4.0h-4.0zM774.8,2172.2h4.0v4.0h-4.0zM809.8,2172.2h4.0v4.0h-4.0zM823.8,2172.2h4.0v4.0h-4.0zM830.8,2172.2h4.0v4.0h-4.0zM837.8,2172.2h4.0v4.0h-4.0zM844.8,2172.2h4.0v4.0h-4.0zM858.8,2172.2h4.0v4.0h-4.0zM872.8,2172.2h4.0v4.0h-4.0zM886.8,2172.2h4.0v4.0h-4.0zM893.8,2172.2h4.0v4.0h-4.0zM662.8,2179.2h4.0v4.0h-4.0zM669.8,2179.2h4.0v4.0h-4.0zM676.8,2179.2h4.0v4.0h-4.0zM725.8,2179.2h4.0v4.0h-4.0zM627.8,2186.2h4.0v4.0h-4.0z" fill="#7a62b2"/><path d="M1180.8,1685.7h4.0v4.0h-4.0zM1138.8,1692.8h4.0v4.0h-4.0zM1194.8,1692.8h4.0v4.0h-4.0zM1243.8,1692.8h4.0v4.0h-4.0zM1152.8,1706.8h4.0v4.0h-4.0zM1159.8,1706.8h4.0v4.0h-4.0zM1166.8,1706.8h4.0v4.0h-4.0zM1201.8,1706.8h4.0v4.0h-4.0zM1124.8,1713.9h4.0v4.0h-4.0zM1138.8,1713.9h4.0v4.0h-4.0zM1068.8,1721.0h4.0v4.0h-4.0zM1082.8,1721.0h4.0v4.0h-4.0zM1124.8,1721.0h4.0v4.0h-4.0zM1131.8,1721.0h4.0v4.0h-4.0zM1145.8,1721.0h4.0v4.0h-4.0zM1194.8,1721.0h4.0v4.0h-4.0zM1082.8,1728.0h4.0v4.0h-4.0zM1096.8,1735.0h4.0v4.0h-4.0zM1117.8,1735.0h4.0v4.0h-4.0zM1124.8,1735.0h4.0v4.0h-4.0zM1180.8,1735.0h4.0v4.0h-4.0zM1061.8,1742.1h4.0v4.0h-4.0zM1068.8,1742.1h4.0v4.0h-4.0zM1075.8,1742.1h4.0v4.0h-4.0zM1124.8,1742.1h4.0v4.0h-4.0zM1131.8,1742.1h4.0v4.0h-4.0zM1145.8,1742.1h4.0v4.0h-4.0zM1194.8,1742.1h4.0v4.0h-4.0zM1159.8,1749.2h4.0v4.0h-4.0zM1012.8,1756.2h4.0v4.0h-4.0zM1033.8,1756.2h4.0v4.0h-4.0zM1145.8,1756.2h4.0v4.0h-4.0zM977.8,1763.2h4.0v4.0h-4.0zM1019.8,1770.3h4.0v4.0h-4.0zM963.8,1777.3h4.0v4.0h-4.0zM977.8,1777.3h4.0v4.0h-4.0zM984.8,1784.4h4.0v4.0h-4.0zM1033.8,1784.4h4.0v4.0h-4.0zM1047.8,1784.4h4.0v4.0h-4.0zM963.8,1791.5h4.0v4.0h-4.0zM984.8,1791.5h4.0v4.0h-4.0zM1033.8,1791.5h4.0v4.0h-4.0zM900.8,1798.5h4.0v4.0h-4.0zM921.8,1798.5h4.0v4.0h-4.0zM935.8,1798.5h4.0v4.0h-4.0zM977.8,1798.5h4.0v4.0h-4.0zM1005.8,1798.5h4.0v4.0h-4.0zM1012.8,1798.5h4.0v4.0h-4.0zM914.8,1805.5h4.0v4.0h-4.0zM963.8,1805.5h4.0v4.0h-4.0zM977.8,1805.5h4.0v4.0h-4.0zM1026.8,1805.5h4.0v4.0h-4.0zM886.8,1812.6h4.0v4.0h-4.0zM921.8,1812.6h4.0v4.0h-4.0zM928.8,1812.6h4.0v4.0h-4.0zM970.8,1812.6h4.0v4.0h-4.0zM977.8,1812.6h4.0v4.0h-4.0zM1047.8,1812.6h4.0v4.0h-4.0zM928.8,1819.7h4.0v4.0h-4.0zM949.8,1819.7h4.0v4.0h-4.0zM984.8,1819.7h4.0v4.0h-4.0zM1061.8,1819.7h4.0v4.0h-4.0zM858.8,1826.7h4.0v4.0h-4.0zM900.8,1826.7h4.0v4.0h-4.0zM942.8,1826.7h4.0v4.0h-4.0zM1054.8,1826.7h4.0v4.0h-4.0zM963.8,1833.8h4.0v4.0h-4.0zM977.8,1833.8h4.0v4.0h-4.0zM851.8,1840.8h4.0v4.0h-4.0zM837.8,1847.8h4.0v4.0h-4.0zM991.8,1847.8h4.0v4.0h-4.0zM1033.8,1847.8h4.0v4.0h-4.0zM1082.8,1847.8h4.0v4.0h-4.0zM837.8,1854.9h4.0v4.0h-4.0zM1117.8,1854.9h4.0v4.0h-4.0zM1152.8,1854.9h4.0v4.0h-4.0zM851.8,1862.0h4.0v4.0h-4.0zM893.8,1862.0h4.0v4.0h-4.0zM1089.8,1862.0h4.0v4.0h-4.0zM1152.8,1862.0h4.0v4.0h-4.0zM1173.8,1862.0h4.0v4.0h-4.0zM823.8,1869.0h4.0v4.0h-4.0zM837.8,1869.0h4.0v4.0h-4.0zM907.8,1869.0h4.0v4.0h-4.0zM1075.8,1869.0h4.0v4.0h-4.0zM1110.8,1869.0h4.0v4.0h-4.0zM1131.8,1869.0h4.0v4.0h-4.0zM851.8,1876.0h4.0v4.0h-4.0zM1096.8,1876.0h4.0v4.0h-4.0zM802.8,1883.1h4.0v4.0h-4.0zM1075.8,1883.1h4.0v4.0h-4.0zM886.8,1890.2h4.0v4.0h-4.0zM956.8,1890.2h4.0v4.0h-4.0zM795.8,1897.2h4.0v4.0h-4.0zM830.8,1897.2h4.0v4.0h-4.0zM1138.8,1897.2h4.0v4.0h-4.0zM1145.8,1897.2h4.0v4.0h-4.0zM1152.8,1897.2h4.0v4.0h-4.0zM872.8,1904.2h4.0v4.0h-4.0zM1047.8,1904.2h4.0v4.0h-4.0zM1124.8,1904.2h4.0v4.0h-4.0zM1152.8,1904.2h4.0v4.0h-4.0zM1159.8,1904.2h4.0v4.0h-4.0zM1145.8,1911.3h4.0v4.0h-4.0zM788.8,1918.3h4.0v4.0h-4.0zM802.8,1918.3h4.0v4.0h-4.0zM935.8,1918.3h4.0v4.0h-4.0zM1124.8,1918.3h4.0v4.0h-4.0zM774.8,1925.4h4.0v4.0h-4.0zM788.8,1925.4h4.0v4.0h-4.0zM802.8,1925.4h4.0v4.0h-4.0zM879.8,1925.4h4.0v4.0h-4.0zM886.8,1925.4h4.0v4.0h-4.0zM907.8,1925.4h4.0v4.0h-4.0zM1124.8,1925.4h4.0v4.0h-4.0zM893.8,1932.5h4.0v4.0h-4.0zM900.8,1932.5h4.0v4.0h-4.0zM991.8,1932.5h4.0v4.0h-4.0zM767.8,1939.5h4.0v4.0h-4.0zM788.8,1939.5h4.0v4.0h-4.0zM802.8,1939.5h4.0v4.0h-4.0zM830.8,1939.5h4.0v4.0h-4.0zM1131.8,1939.5h4.0v4.0h-4.0zM781.8,1946.5h4.0v4.0h-4.0zM844.8,1946.5h4.0v4.0h-4.0zM1131.8,1946.5h4.0v4.0h-4.0zM753.8,1953.6h4.0v4.0h-4.0zM788.8,1953.6h4.0v4.0h-4.0zM823.8,1953.6h4.0v4.0h-4.0zM1131.8,1953.6h4.0v4.0h-4.0zM823.8,1960.7h4.0v4.0h-4.0zM767.8,1967.7h4.0v4.0h-4.0zM879.8,1967.7h4.0v4.0h-4.0zM970.8,1967.7h4.0v4.0h-4.0zM830.8,1974.8h4.0v4.0h-4.0zM837.8,1974.8h4.0v4.0h-4.0zM851.8,1974.8h4.0v4.0h-4.0zM774.8,1981.8h4.0v4.0h-4.0zM942.8,1981.8h4.0v4.0h-4.0zM956.8,1981.8h4.0v4.0h-4.0zM732.8,1995.9h4.0v4.0h-4.0zM746.8,1995.9h4.0v4.0h-4.0zM858.8,1995.9h4.0v4.0h-4.0zM732.8,2003.0h4.0v4.0h-4.0zM802.8,2003.0h4.0v4.0h-4.0zM809.8,2003.0h4.0v4.0h-4.0zM823.8,2003.0h4.0v4.0h-4.0zM830.8,2003.0h4.0v4.0h-4.0zM858.8,2003.0h4.0v4.0h-4.0zM795.8,2010.0h4.0v4.0h-4.0zM837.8,2010.0h4.0v4.0h-4.0zM844.8,2010.0h4.0v4.0h-4.0zM739.8,2017.0h4.0v4.0h-4.0zM753.8,2017.0h4.0v4.0h-4.0zM802.8,2017.0h4.0v4.0h-4.0zM970.8,2017.0h4.0v4.0h-4.0zM830.8,2024.1h4.0v4.0h-4.0zM753.8,2031.2h4.0v4.0h-4.0zM760.8,2031.2h4.0v4.0h-4.0zM781.8,2031.2h4.0v4.0h-4.0zM795.8,2031.2h4.0v4.0h-4.0zM809.8,2031.2h4.0v4.0h-4.0zM837.8,2031.2h4.0v4.0h-4.0zM858.8,2031.2h4.0v4.0h-4.0zM942.8,2031.2h4.0v4.0h-4.0zM711.8,2038.2h4.0v4.0h-4.0zM767.8,2038.2h4.0v4.0h-4.0zM788.8,2038.2h4.0v4.0h-4.0zM809.8,2038.2h4.0v4.0h-4.0zM851.8,2038.2h4.0v4.0h-4.0zM914.8,2038.2h4.0v4.0h-4.0zM949.8,2038.2h4.0v4.0h-4.0zM718.8,2045.2h4.0v4.0h-4.0zM753.8,2045.2h4.0v4.0h-4.0zM781.8,2045.2h4.0v4.0h-4.0zM788.8,2045.2h4.0v4.0h-4.0zM830.8,2045.2h4.0v4.0h-4.0zM697.8,2052.3h4.0v4.0h-4.0zM809.8,2052.3h4.0v4.0h-4.0zM816.8,2052.3h4.0v4.0h-4.0zM823.8,2052.3h4.0v4.0h-4.0zM697.8,2059.3h4.0v4.0h-4.0zM788.8,2059.3h4.0v4.0h-4.0zM837.8,2059.3h4.0v4.0h-4.0zM851.8,2059.3h4.0v4.0h-4.0zM886.8,2059.3h4.0v4.0h-4.0zM935.8,2059.3h4.0v4.0h-4.0zM697.8,2066.4h4.0v4.0h-4.0zM725.8,2066.4h4.0v4.0h-4.0zM774.8,2066.4h4.0v4.0h-4.0zM788.8,2066.4h4.0v4.0h-4.0zM802.8,2066.4h4.0v4.0h-4.0zM844.8,2066.4h4.0v4.0h-4.0zM690.8,2073.4h4.0v4.0h-4.0zM844.8,2073.4h4.0v4.0h-4.0zM872.8,2073.4h4.0v4.0h-4.0zM963.8,2073.4h4.0v4.0h-4.0zM837.8,2080.5h4.0v4.0h-4.0zM697.8,2094.6h4.0v4.0h-4.0zM718.8,2094.6h4.0v4.0h-4.0zM739.8,2094.6h4.0v4.0h-4.0zM1026.8,2094.6h4.0v4.0h-4.0zM690.8,2101.7h4.0v4.0h-4.0zM718.8,2101.7h4.0v4.0h-4.0zM774.8,2101.7h4.0v4.0h-4.0zM816.8,2101.7h4.0v4.0h-4.0zM879.8,2101.7h4.0v4.0h-4.0zM1012.8,2101.7h4.0v4.0h-4.0zM669.8,2108.7h4.0v4.0h-4.0zM816.8,2108.7h4.0v4.0h-4.0zM830.8,2108.7h4.0v4.0h-4.0zM879.8,2108.7h4.0v4.0h-4.0zM928.8,2108.7h4.0v4.0h-4.0zM942.8,2108.7h4.0v4.0h-4.0zM984.8,2108.7h4.0v4.0h-4.0zM1005.8,2108.7h4.0v4.0h-4.0zM648.8,2115.8h4.0v4.0h-4.0zM739.8,2115.8h4.0v4.0h-4.0zM886.8,2115.8h4.0v4.0h-4.0zM970.8,2115.8h4.0v4.0h-4.0zM998.8,2115.8h4.0v4.0h-4.0zM662.8,2122.8h4.0v4.0h-4.0zM732.8,2122.8h4.0v4.0h-4.0zM753.8,2122.8h4.0v4.0h-4.0zM928.8,2122.8h4.0v4.0h-4.0zM648.8,2129.8h4.0v4.0h-4.0zM753.8,2129.8h4.0v4.0h-4.0zM949.8,2129.8h4.0v4.0h-4.0zM956.8,2136.9h4.0v4.0h-4.0zM683.8,2143.9h4.0v4.0h-4.0zM718.8,2143.9h4.0v4.0h-4.0zM872.8,2143.9h4.0v4.0h-4.0zM907.8,2143.9h4.0v4.0h-4.0zM634.8,2151.0h4.0v4.0h-4.0zM865.8,2151.0h4.0v4.0h-4.0zM879.8,2151.0h4.0v4.0h-4.0zM648.8,2158.1h4.0v4.0h-4.0zM662.8,2158.1h4.0v4.0h-4.0zM683.8,2158.1h4.0v4.0h-4.0zM718.8,2158.1h4.0v4.0h-4.0zM634.8,2165.1h4.0v4.0h-4.0zM655.8,2165.1h4.0v4.0h-4.0zM795.8,2165.1h4.0v4.0h-4.0zM634.8,2172.2h4.0v4.0h-4.0zM697.8,2172.2h4.0v4.0h-4.0zM739.8,2172.2h4.0v4.0h-4.0zM767.8,2172.2h4.0v4.0h-4.0zM781.8,2172.2h4.0v4.0h-4.0zM655.8,2179.2h4.0v4.0h-4.0z" fill="#5a88c8"/><path d="M1201.8,1685.7h4.0v4.0h-4.0zM1152.8,1692.8h4.0v4.0h-4.0zM1201.8,1728.0h4.0v4.0h-4.0zM1159.8,1742.1h4.0v4.0h-4.0zM1019.8,1749.2h4.0v4.0h-4.0zM1061.8,1749.2h4.0v4.0h-4.0zM1117.8,1749.2h4.0v4.0h-4.0zM1005.8,1763.2h4.0v4.0h-4.0zM1096.8,1763.2h4.0v4.0h-4.0zM1075.8,1777.3h4.0v4.0h-4.0zM1089.8,1777.3h4.0v4.0h-4.0zM1012.8,1784.4h4.0v4.0h-4.0zM907.8,1791.5h4.0v4.0h-4.0zM1068.8,1791.5h4.0v4.0h-4.0zM1103.8,1791.5h4.0v4.0h-4.0zM1075.8,1798.5h4.0v4.0h-4.0zM1075.8,1805.5h4.0v4.0h-4.0zM935.8,1812.6h4.0v4.0h-4.0zM872.8,1826.7h4.0v4.0h-4.0zM935.8,1826.7h4.0v4.0h-4.0zM956.8,1826.7h4.0v4.0h-4.0zM963.8,1826.7h4.0v4.0h-4.0zM977.8,1826.7h4.0v4.0h-4.0zM1075.8,1826.7h4.0v4.0h-4.0zM1089.8,1826.7h4.0v4.0h-4.0zM1110.8,1826.7h4.0v4.0h-4.0zM914.8,1833.8h4.0v4.0h-4.0zM949.8,1833.8h4.0v4.0h-4.0zM956.8,1833.8h4.0v4.0h-4.0zM998.8,1833.8h4.0v4.0h-4.0zM1103.8,1833.8h4.0v4.0h-4.0zM1138.8,1833.8h4.0v4.0h-4.0zM1145.8,1833.8h4.0v4.0h-4.0zM893.8,1840.8h4.0v4.0h-4.0zM949.8,1840.8h4.0v4.0h-4.0zM1075.8,1840.8h4.0v4.0h-4.0zM900.8,1847.8h4.0v4.0h-4.0zM907.8,1847.8h4.0v4.0h-4.0zM977.8,1847.8h4.0v4.0h-4.0zM928.8,1854.9h4.0v4.0h-4.0zM949.8,1854.9h4.0v4.0h-4.0zM963.8,1854.9h4.0v4.0h-4.0zM970.8,1854.9h4.0v4.0h-4.0zM1110.8,1854.9h4.0v4.0h-4.0zM907.8,1862.0h4.0v4.0h-4.0zM928.8,1862.0h4.0v4.0h-4.0zM970.8,1862.0h4.0v4.0h-4.0zM991.8,1862.0h4.0v4.0h-4.0zM998.8,1862.0h4.0v4.0h-4.0zM1005.8,1862.0h4.0v4.0h-4.0zM851.8,1869.0h4.0v4.0h-4.0zM921.8,1869.0h4.0v4.0h-4.0zM949.8,1869.0h4.0v4.0h-4.0zM970.8,1869.0h4.0v4.0h-4.0zM977.8,1869.0h4.0v4.0h-4.0zM1040.8,1869.0h4.0v4.0h-4.0zM1054.8,1869.0h4.0v4.0h-4.0zM1117.8,1869.0h4.0v4.0h-4.0zM893.8,1876.0h4.0v4.0h-4.0zM914.8,1876.0h4.0v4.0h-4.0zM921.8,1876.0h4.0v4.0h-4.0zM949.8,1876.0h4.0v4.0h-4.0zM1019.8,1876.0h4.0v4.0h-4.0zM1054.8,1876.0h4.0v4.0h-4.0zM865.8,1883.1h4.0v4.0h-4.0zM991.8,1883.1h4.0v4.0h-4.0zM1068.8,1883.1h4.0v4.0h-4.0zM837.8,1890.2h4.0v4.0h-4.0zM872.8,1890.2h4.0v4.0h-4.0zM893.8,1890.2h4.0v4.0h-4.0zM963.8,1890.2h4.0v4.0h-4.0zM970.8,1890.2h4.0v4.0h-4.0zM991.8,1890.2h4.0v4.0h-4.0zM998.8,1890.2h4.0v4.0h-4.0zM1019.8,1890.2h4.0v4.0h-4.0zM1033.8,1890.2h4.0v4.0h-4.0zM1068.8,1890.2h4.0v4.0h-4.0zM1096.8,1890.2h4.0v4.0h-4.0zM844.8,1897.2h4.0v4.0h-4.0zM935.8,1897.2h4.0v4.0h-4.0zM949.8,1897.2h4.0v4.0h-4.0zM970.8,1897.2h4.0v4.0h-4.0zM1012.8,1897.2h4.0v4.0h-4.0zM1054.8,1897.2h4.0v4.0h-4.0zM1110.8,1897.2h4.0v4.0h-4.0zM1117.8,1897.2h4.0v4.0h-4.0zM942.8,1904.2h4.0v4.0h-4.0zM970.8,1904.2h4.0v4.0h-4.0zM998.8,1904.2h4.0v4.0h-4.0zM1019.8,1904.2h4.0v4.0h-4.0zM1075.8,1904.2h4.0v4.0h-4.0zM893.8,1911.3h4.0v4.0h-4.0zM914.8,1911.3h4.0v4.0h-4.0zM977.8,1911.3h4.0v4.0h-4.0zM984.8,1911.3h4.0v4.0h-4.0zM1040.8,1911.3h4.0v4.0h-4.0zM1082.8,1911.3h4.0v4.0h-4.0zM886.8,1918.3h4.0v4.0h-4.0zM928.8,1918.3h4.0v4.0h-4.0zM956.8,1918.3h4.0v4.0h-4.0zM970.8,1918.3h4.0v4.0h-4.0zM977.8,1918.3h4.0v4.0h-4.0zM984.8,1918.3h4.0v4.0h-4.0zM1103.8,1918.3h4.0v4.0h-4.0zM872.8,1925.4h4.0v4.0h-4.0zM949.8,1925.4h4.0v4.0h-4.0zM984.8,1925.4h4.0v4.0h-4.0zM1005.8,1925.4h4.0v4.0h-4.0zM795.8,1932.5h4.0v4.0h-4.0zM872.8,1932.5h4.0v4.0h-4.0zM949.8,1932.5h4.0v4.0h-4.0zM998.8,1932.5h4.0v4.0h-4.0zM1068.8,1932.5h4.0v4.0h-4.0zM823.8,1939.5h4.0v4.0h-4.0zM844.8,1939.5h4.0v4.0h-4.0zM893.8,1939.5h4.0v4.0h-4.0zM928.8,1939.5h4.0v4.0h-4.0zM1089.8,1939.5h4.0v4.0h-4.0zM1096.8,1939.5h4.0v4.0h-4.0zM872.8,1946.5h4.0v4.0h-4.0zM963.8,1946.5h4.0v4.0h-4.0zM1033.8,1946.5h4.0v4.0h-4.0zM872.8,1953.6h4.0v4.0h-4.0zM893.8,1953.6h4.0v4.0h-4.0zM914.8,1953.6h4.0v4.0h-4.0zM921.8,1953.6h4.0v4.0h-4.0zM963.8,1953.6h4.0v4.0h-4.0zM1082.8,1953.6h4.0v4.0h-4.0zM795.8,1960.7h4.0v4.0h-4.0zM837.8,1960.7h4.0v4.0h-4.0zM844.8,1960.7h4.0v4.0h-4.0zM893.8,1960.7h4.0v4.0h-4.0zM900.8,1960.7h4.0v4.0h-4.0zM907.8,1960.7h4.0v4.0h-4.0zM914.8,1960.7h4.0v4.0h-4.0zM921.8,1960.7h4.0v4.0h-4.0zM963.8,1960.7h4.0v4.0h-4.0zM970.8,1960.7h4.0v4.0h-4.0zM1117.8,1960.7h4.0v4.0h-4.0zM893.8,1967.7h4.0v4.0h-4.0zM907.8,1967.7h4.0v4.0h-4.0zM921.8,1967.7h4.0v4.0h-4.0zM949.8,1967.7h4.0v4.0h-4.0zM998.8,1967.7h4.0v4.0h-4.0zM788.8,1974.8h4.0v4.0h-4.0zM872.8,1974.8h4.0v4.0h-4.0zM893.8,1974.8h4.0v4.0h-4.0zM928.8,1974.8h4.0v4.0h-4.0zM844.8,1981.8h4.0v4.0h-4.0zM907.8,1981.8h4.0v4.0h-4.0zM921.8,1981.8h4.0v4.0h-4.0zM935.8,1981.8h4.0v4.0h-4.0zM949.8,1981.8h4.0v4.0h-4.0zM1026.8,1981.8h4.0v4.0h-4.0zM858.8,1988.8h4.0v4.0h-4.0zM879.8,1988.8h4.0v4.0h-4.0zM907.8,1988.8h4.0v4.0h-4.0zM921.8,1988.8h4.0v4.0h-4.0zM991.8,1988.8h4.0v4.0h-4.0zM844.8,1995.9h4.0v4.0h-4.0zM900.8,1995.9h4.0v4.0h-4.0zM914.8,1995.9h4.0v4.0h-4.0zM928.8,1995.9h4.0v4.0h-4.0zM963.8,1995.9h4.0v4.0h-4.0zM970.8,1995.9h4.0v4.0h-4.0zM921.8,2003.0h4.0v4.0h-4.0zM725.8,2010.0h4.0v4.0h-4.0zM732.8,2010.0h4.0v4.0h-4.0zM760.8,2010.0h4.0v4.0h-4.0zM872.8,2010.0h4.0v4.0h-4.0zM935.8,2010.0h4.0v4.0h-4.0zM956.8,2010.0h4.0v4.0h-4.0zM1005.8,2010.0h4.0v4.0h-4.0zM767.8,2017.0h4.0v4.0h-4.0zM830.8,2017.0h4.0v4.0h-4.0zM900.8,2017.0h4.0v4.0h-4.0zM1047.8,2017.0h4.0v4.0h-4.0zM851.8,2024.1h4.0v4.0h-4.0zM872.8,2024.1h4.0v4.0h-4.0zM963.8,2024.1h4.0v4.0h-4.0zM1012.8,2024.1h4.0v4.0h-4.0zM963.8,2031.2h4.0v4.0h-4.0zM760.8,2038.2h4.0v4.0h-4.0zM837.8,2038.2h4.0v4.0h-4.0zM893.8,2038.2h4.0v4.0h-4.0zM956.8,2038.2h4.0v4.0h-4.0zM991.8,2038.2h4.0v4.0h-4.0zM1026.8,2038.2h4.0v4.0h-4.0zM872.8,2045.2h4.0v4.0h-4.0zM893.8,2045.2h4.0v4.0h-4.0zM914.8,2045.2h4.0v4.0h-4.0zM928.8,2045.2h4.0v4.0h-4.0zM935.8,2045.2h4.0v4.0h-4.0zM949.8,2045.2h4.0v4.0h-4.0zM956.8,2045.2h4.0v4.0h-4.0zM739.8,2052.3h4.0v4.0h-4.0zM844.8,2052.3h4.0v4.0h-4.0zM865.8,2052.3h4.0v4.0h-4.0zM914.8,2052.3h4.0v4.0h-4.0zM921.8,2052.3h4.0v4.0h-4.0zM935.8,2052.3h4.0v4.0h-4.0zM977.8,2052.3h4.0v4.0h-4.0zM1047.8,2052.3h4.0v4.0h-4.0zM732.8,2059.3h4.0v4.0h-4.0zM900.8,2059.3h4.0v4.0h-4.0zM914.8,2059.3h4.0v4.0h-4.0zM921.8,2059.3h4.0v4.0h-4.0zM830.8,2066.4h4.0v4.0h-4.0zM886.8,2066.4h4.0v4.0h-4.0zM879.8,2073.4h4.0v4.0h-4.0zM907.8,2073.4h4.0v4.0h-4.0zM956.8,2073.4h4.0v4.0h-4.0zM1012.8,2073.4h4.0v4.0h-4.0zM704.8,2080.5h4.0v4.0h-4.0zM725.8,2080.5h4.0v4.0h-4.0zM893.8,2080.5h4.0v4.0h-4.0zM956.8,2080.5h4.0v4.0h-4.0zM970.8,2080.5h4.0v4.0h-4.0zM669.8,2087.6h4.0v4.0h-4.0zM753.8,2087.6h4.0v4.0h-4.0zM844.8,2087.6h4.0v4.0h-4.0zM886.8,2087.6h4.0v4.0h-4.0zM921.8,2087.6h4.0v4.0h-4.0zM928.8,2087.6h4.0v4.0h-4.0zM956.8,2087.6h4.0v4.0h-4.0zM970.8,2087.6h4.0v4.0h-4.0zM977.8,2087.6h4.0v4.0h-4.0zM1005.8,2087.6h4.0v4.0h-4.0zM1026.8,2087.6h4.0v4.0h-4.0zM1047.8,2087.6h4.0v4.0h-4.0zM725.8,2094.6h4.0v4.0h-4.0zM760.8,2094.6h4.0v4.0h-4.0zM781.8,2094.6h4.0v4.0h-4.0zM907.8,2094.6h4.0v4.0h-4.0zM928.8,2094.6h4.0v4.0h-4.0zM935.8,2094.6h4.0v4.0h-4.0zM949.8,2094.6h4.0v4.0h-4.0zM984.8,2094.6h4.0v4.0h-4.0zM732.8,2101.7h4.0v4.0h-4.0zM746.8,2101.7h4.0v4.0h-4.0zM844.8,2101.7h4.0v4.0h-4.0zM900.8,2101.7h4.0v4.0h-4.0zM949.8,2101.7h4.0v4.0h-4.0zM977.8,2101.7h4.0v4.0h-4.0zM683.8,2108.7h4.0v4.0h-4.0zM704.8,2108.7h4.0v4.0h-4.0zM886.8,2108.7h4.0v4.0h-4.0zM935.8,2108.7h4.0v4.0h-4.0zM704.8,2115.8h4.0v4.0h-4.0zM718.8,2115.8h4.0v4.0h-4.0zM767.8,2115.8h4.0v4.0h-4.0zM914.8,2115.8h4.0v4.0h-4.0zM949.8,2115.8h4.0v4.0h-4.0zM704.8,2122.8h4.0v4.0h-4.0zM781.8,2122.8h4.0v4.0h-4.0zM921.8,2122.8h4.0v4.0h-4.0zM641.8,2129.8h4.0v4.0h-4.0zM662.8,2129.8h4.0v4.0h-4.0zM683.8,2129.8h4.0v4.0h-4.0zM704.8,2129.8h4.0v4.0h-4.0zM781.8,2129.8h4.0v4.0h-4.0zM795.8,2129.8h4.0v4.0h-4.0zM641.8,2136.9h4.0v4.0h-4.0zM690.8,2136.9h4.0v4.0h-4.0zM697.8,2136.9h4.0v4.0h-4.0zM718.8,2136.9h4.0v4.0h-4.0zM760.8,2136.9h4.0v4.0h-4.0zM767.8,2136.9h4.0v4.0h-4.0zM774.8,2136.9h4.0v4.0h-4.0zM781.8,2136.9h4.0v4.0h-4.0zM858.8,2136.9h4.0v4.0h-4.0zM865.8,2136.9h4.0v4.0h-4.0zM725.8,2143.9h4.0v4.0h-4.0zM732.8,2143.9h4.0v4.0h-4.0zM795.8,2143.9h4.0v4.0h-4.0zM858.8,2143.9h4.0v4.0h-4.0zM914.8,2143.9h4.0v4.0h-4.0zM921.8,2143.9h4.0v4.0h-4.0zM795.8,2151.0h4.0v4.0h-4.0zM802.8,2151.0h4.0v4.0h-4.0zM809.8,2151.0h4.0v4.0h-4.0zM914.8,2151.0h4.0v4.0h-4.0zM641.8,2158.1h4.0v4.0h-4.0zM655.8,2158.1h4.0v4.0h-4.0zM697.8,2158.1h4.0v4.0h-4.0zM725.8,2158.1h4.0v4.0h-4.0zM739.8,2158.1h4.0v4.0h-4.0zM767.8,2158.1h4.0v4.0h-4.0zM837.8,2158.1h4.0v4.0h-4.0zM907.8,2158.1h4.0v4.0h-4.0zM851.8,2165.1h4.0v4.0h-4.0zM865.8,2165.1h4.0v4.0h-4.0zM662.8,2172.2h4.0v4.0h-4.0zM746.8,2172.2h4.0v4.0h-4.0zM865.8,2172.2h4.0v4.0h-4.0zM634.8,2179.2h4.0v4.0h-4.0zM648.8,2179.2h4.0v4.0h-4.0z" fill="#f08458"/><path d="M1159.8,1692.8h4.0v4.0h-4.0zM1138.8,1699.8h4.0v4.0h-4.0zM1145.8,1706.8h4.0v4.0h-4.0zM1208.8,1721.0h4.0v4.0h-4.0zM1124.8,1728.0h4.0v4.0h-4.0zM1145.8,1728.0h4.0v4.0h-4.0zM1152.8,1728.0h4.0v4.0h-4.0zM1110.8,1735.0h4.0v4.0h-4.0zM1187.8,1735.0h4.0v4.0h-4.0zM1194.8,1735.0h4.0v4.0h-4.0zM1110.8,1742.1h4.0v4.0h-4.0zM1117.8,1742.1h4.0v4.0h-4.0zM1026.8,1749.2h4.0v4.0h-4.0zM991.8,1756.2h4.0v4.0h-4.0zM970.8,1763.2h4.0v4.0h-4.0zM1138.8,1763.2h4.0v4.0h-4.0zM921.8,1784.4h4.0v4.0h-4.0zM977.8,1784.4h4.0v4.0h-4.0zM1005.8,1784.4h4.0v4.0h-4.0zM1096.8,1784.4h4.0v4.0h-4.0zM942.8,1791.5h4.0v4.0h-4.0zM977.8,1791.5h4.0v4.0h-4.0zM1026.8,1791.5h4.0v4.0h-4.0zM1131.8,1791.5h4.0v4.0h-4.0zM949.8,1798.5h4.0v4.0h-4.0zM956.8,1798.5h4.0v4.0h-4.0zM984.8,1798.5h4.0v4.0h-4.0zM1040.8,1798.5h4.0v4.0h-4.0zM928.8,1805.5h4.0v4.0h-4.0zM1012.8,1805.5h4.0v4.0h-4.0zM1124.8,1805.5h4.0v4.0h-4.0zM1138.8,1805.5h4.0v4.0h-4.0zM879.8,1812.6h4.0v4.0h-4.0zM907.8,1812.6h4.0v4.0h-4.0zM1012.8,1812.6h4.0v4.0h-4.0zM893.8,1819.7h4.0v4.0h-4.0zM935.8,1819.7h4.0v4.0h-4.0zM1047.8,1819.7h4.0v4.0h-4.0zM1075.8,1819.7h4.0v4.0h-4.0zM984.8,1833.8h4.0v4.0h-4.0zM1026.8,1833.8h4.0v4.0h-4.0zM1047.8,1833.8h4.0v4.0h-4.0zM872.8,1840.8h4.0v4.0h-4.0zM900.8,1840.8h4.0v4.0h-4.0zM914.8,1840.8h4.0v4.0h-4.0zM935.8,1840.8h4.0v4.0h-4.0zM963.8,1840.8h4.0v4.0h-4.0zM1005.8,1840.8h4.0v4.0h-4.0zM1033.8,1840.8h4.0v4.0h-4.0zM1040.8,1840.8h4.0v4.0h-4.0zM963.8,1847.8h4.0v4.0h-4.0zM1089.8,1847.8h4.0v4.0h-4.0zM900.8,1854.9h4.0v4.0h-4.0zM907.8,1854.9h4.0v4.0h-4.0zM921.8,1854.9h4.0v4.0h-4.0zM956.8,1854.9h4.0v4.0h-4.0zM977.8,1854.9h4.0v4.0h-4.0zM984.8,1854.9h4.0v4.0h-4.0zM991.8,1854.9h4.0v4.0h-4.0zM1089.8,1854.9h4.0v4.0h-4.0zM1103.8,1854.9h4.0v4.0h-4.0zM1166.8,1854.9h4.0v4.0h-4.0zM949.8,1862.0h4.0v4.0h-4.0zM1019.8,1862.0h4.0v4.0h-4.0zM1026.8,1862.0h4.0v4.0h-4.0zM1040.8,1862.0h4.0v4.0h-4.0zM914.8,1869.0h4.0v4.0h-4.0zM935.8,1869.0h4.0v4.0h-4.0zM1033.8,1869.0h4.0v4.0h-4.0zM1082.8,1869.0h4.0v4.0h-4.0zM809.8,1876.0h4.0v4.0h-4.0zM816.8,1876.0h4.0v4.0h-4.0zM886.8,1876.0h4.0v4.0h-4.0zM984.8,1876.0h4.0v4.0h-4.0zM1159.8,1876.0h4.0v4.0h-4.0zM823.8,1883.1h4.0v4.0h-4.0zM928.8,1883.1h4.0v4.0h-4.0zM949.8,1883.1h4.0v4.0h-4.0zM970.8,1883.1h4.0v4.0h-4.0zM1005.8,1883.1h4.0v4.0h-4.0zM1012.8,1883.1h4.0v4.0h-4.0zM809.8,1890.2h4.0v4.0h-4.0zM1047.8,1890.2h4.0v4.0h-4.0zM1089.8,1890.2h4.0v4.0h-4.0zM1082.8,1897.2h4.0v4.0h-4.0zM1131.8,1897.2h4.0v4.0h-4.0zM844.8,1904.2h4.0v4.0h-4.0zM879.8,1904.2h4.0v4.0h-4.0zM907.8,1904.2h4.0v4.0h-4.0zM991.8,1904.2h4.0v4.0h-4.0zM1040.8,1904.2h4.0v4.0h-4.0zM1054.8,1904.2h4.0v4.0h-4.0zM1096.8,1904.2h4.0v4.0h-4.0zM1145.8,1904.2h4.0v4.0h-4.0zM802.8,1911.3h4.0v4.0h-4.0zM816.8,1911.3h4.0v4.0h-4.0zM858.8,1911.3h4.0v4.0h-4.0zM886.8,1911.3h4.0v4.0h-4.0zM1033.8,1911.3h4.0v4.0h-4.0zM1089.8,1911.3h4.0v4.0h-4.0zM844.8,1918.3h4.0v4.0h-4.0zM998.8,1918.3h4.0v4.0h-4.0zM851.8,1925.4h4.0v4.0h-4.0zM928.8,1925.4h4.0v4.0h-4.0zM963.8,1925.4h4.0v4.0h-4.0zM809.8,1932.5h4.0v4.0h-4.0zM844.8,1932.5h4.0v4.0h-4.0zM970.8,1932.5h4.0v4.0h-4.0zM1145.8,1932.5h4.0v4.0h-4.0zM879.8,1939.5h4.0v4.0h-4.0zM795.8,1946.5h4.0v4.0h-4.0zM816.8,1946.5h4.0v4.0h-4.0zM907.8,1946.5h4.0v4.0h-4.0zM970.8,1946.5h4.0v4.0h-4.0zM977.8,1946.5h4.0v4.0h-4.0zM879.8,1953.6h4.0v4.0h-4.0zM858.8,1960.7h4.0v4.0h-4.0zM865.8,1960.7h4.0v4.0h-4.0zM886.8,1960.7h4.0v4.0h-4.0zM1124.8,1960.7h4.0v4.0h-4.0zM837.8,1967.7h4.0v4.0h-4.0zM900.8,1967.7h4.0v4.0h-4.0zM1124.8,1967.7h4.0v4.0h-4.0zM879.8,1974.8h4.0v4.0h-4.0zM900.8,1974.8h4.0v4.0h-4.0zM942.8,1974.8h4.0v4.0h-4.0zM977.8,1974.8h4.0v4.0h-4.0zM1124.8,1974.8h4.0v4.0h-4.0zM830.8,1981.8h4.0v4.0h-4.0zM963.8,1981.8h4.0v4.0h-4.0zM767.8,1988.8h4.0v4.0h-4.0zM872.8,1988.8h4.0v4.0h-4.0zM886.8,1988.8h4.0v4.0h-4.0zM949.8,1988.8h4.0v4.0h-4.0zM760.8,1995.9h4.0v4.0h-4.0zM1117.8,1995.9h4.0v4.0h-4.0zM886.8,2010.0h4.0v4.0h-4.0zM858.8,2017.0h4.0v4.0h-4.0zM725.8,2024.1h4.0v4.0h-4.0zM788.8,2024.1h4.0v4.0h-4.0zM816.8,2024.1h4.0v4.0h-4.0zM725.8,2031.2h4.0v4.0h-4.0zM844.8,2038.2h4.0v4.0h-4.0zM865.8,2038.2h4.0v4.0h-4.0zM942.8,2038.2h4.0v4.0h-4.0zM970.8,2038.2h4.0v4.0h-4.0zM746.8,2045.2h4.0v4.0h-4.0zM760.8,2045.2h4.0v4.0h-4.0zM858.8,2045.2h4.0v4.0h-4.0zM753.8,2052.3h4.0v4.0h-4.0zM956.8,2052.3h4.0v4.0h-4.0zM907.8,2059.3h4.0v4.0h-4.0zM942.8,2059.3h4.0v4.0h-4.0zM739.8,2066.4h4.0v4.0h-4.0zM935.8,2066.4h4.0v4.0h-4.0zM970.8,2073.4h4.0v4.0h-4.0zM760.8,2080.5h4.0v4.0h-4.0zM914.8,2080.5h4.0v4.0h-4.0zM697.8,2087.6h4.0v4.0h-4.0zM732.8,2087.6h4.0v4.0h-4.0zM872.8,2087.6h4.0v4.0h-4.0zM879.8,2087.6h4.0v4.0h-4.0zM809.8,2094.6h4.0v4.0h-4.0zM858.8,2094.6h4.0v4.0h-4.0zM963.8,2094.6h4.0v4.0h-4.0zM970.8,2094.6h4.0v4.0h-4.0zM711.8,2101.7h4.0v4.0h-4.0zM725.8,2101.7h4.0v4.0h-4.0zM872.8,2101.7h4.0v4.0h-4.0zM935.8,2101.7h4.0v4.0h-4.0zM984.8,2101.7h4.0v4.0h-4.0zM1047.8,2101.7h4.0v4.0h-4.0zM865.8,2108.7h4.0v4.0h-4.0zM1040.8,2108.7h4.0v4.0h-4.0zM655.8,2115.8h4.0v4.0h-4.0zM830.8,2115.8h4.0v4.0h-4.0zM837.8,2115.8h4.0v4.0h-4.0zM872.8,2115.8h4.0v4.0h-4.0zM690.8,2122.8h4.0v4.0h-4.0zM697.8,2122.8h4.0v4.0h-4.0zM746.8,2122.8h4.0v4.0h-4.0zM788.8,2122.8h4.0v4.0h-4.0zM809.8,2122.8h4.0v4.0h-4.0zM837.8,2122.8h4.0v4.0h-4.0zM865.8,2122.8h4.0v4.0h-4.0zM732.8,2129.8h4.0v4.0h-4.0zM893.8,2129.8h4.0v4.0h-4.0zM921.8,2129.8h4.0v4.0h-4.0zM823.8,2136.9h4.0v4.0h-4.0zM900.8,2136.9h4.0v4.0h-4.0zM921.8,2136.9h4.0v4.0h-4.0zM753.8,2151.0h4.0v4.0h-4.0zM746.8,2158.1h4.0v4.0h-4.0zM921.8,2158.1h4.0v4.0h-4.0zM690.8,2165.1h4.0v4.0h-4.0zM697.8,2165.1h4.0v4.0h-4.0zM774.8,2165.1h4.0v4.0h-4.0zM809.8,2165.1h4.0v4.0h-4.0zM872.8,2165.1h4.0v4.0h-4.0zM753.8,2172.2h4.0v4.0h-4.0zM683.8,2179.2h4.0v4.0h-4.0zM704.8,2179.2h4.0v4.0h-4.0zM634.8,2186.2h4.0v4.0h-4.0z" fill="#76b2a4"/><path d="M1222.8,1699.8h4.0v4.0h-4.0zM1173.8,1706.8h4.0v4.0h-4.0zM1054.8,1728.0h4.0v4.0h-4.0zM1054.8,1742.1h4.0v4.0h-4.0zM1089.8,1742.1h4.0v4.0h-4.0zM1124.8,1749.2h4.0v4.0h-4.0zM1054.8,1756.2h4.0v4.0h-4.0zM1131.8,1756.2h4.0v4.0h-4.0zM1068.8,1770.3h4.0v4.0h-4.0zM984.8,1777.3h4.0v4.0h-4.0zM1082.8,1777.3h4.0v4.0h-4.0zM1061.8,1791.5h4.0v4.0h-4.0zM1138.8,1791.5h4.0v4.0h-4.0zM1110.8,1798.5h4.0v4.0h-4.0zM1019.8,1805.5h4.0v4.0h-4.0zM1068.8,1812.6h4.0v4.0h-4.0zM865.8,1819.7h4.0v4.0h-4.0zM872.8,1819.7h4.0v4.0h-4.0zM1124.8,1819.7h4.0v4.0h-4.0zM907.8,1826.7h4.0v4.0h-4.0zM928.8,1826.7h4.0v4.0h-4.0zM970.8,1826.7h4.0v4.0h-4.0zM921.8,1833.8h4.0v4.0h-4.0zM935.8,1833.8h4.0v4.0h-4.0zM942.8,1833.8h4.0v4.0h-4.0zM970.8,1833.8h4.0v4.0h-4.0zM984.8,1840.8h4.0v4.0h-4.0zM998.8,1840.8h4.0v4.0h-4.0zM1131.8,1840.8h4.0v4.0h-4.0zM879.8,1847.8h4.0v4.0h-4.0zM921.8,1847.8h4.0v4.0h-4.0zM935.8,1847.8h4.0v4.0h-4.0zM956.8,1847.8h4.0v4.0h-4.0zM1012.8,1847.8h4.0v4.0h-4.0zM1019.8,1847.8h4.0v4.0h-4.0zM872.8,1854.9h4.0v4.0h-4.0zM893.8,1854.9h4.0v4.0h-4.0zM1019.8,1854.9h4.0v4.0h-4.0zM1033.8,1854.9h4.0v4.0h-4.0zM1124.8,1854.9h4.0v4.0h-4.0zM879.8,1862.0h4.0v4.0h-4.0zM984.8,1862.0h4.0v4.0h-4.0zM1033.8,1862.0h4.0v4.0h-4.0zM872.8,1869.0h4.0v4.0h-4.0zM900.8,1869.0h4.0v4.0h-4.0zM942.8,1869.0h4.0v4.0h-4.0zM984.8,1869.0h4.0v4.0h-4.0zM1005.8,1869.0h4.0v4.0h-4.0zM1026.8,1869.0h4.0v4.0h-4.0zM879.8,1876.0h4.0v4.0h-4.0zM907.8,1876.0h4.0v4.0h-4.0zM935.8,1876.0h4.0v4.0h-4.0zM963.8,1876.0h4.0v4.0h-4.0zM977.8,1876.0h4.0v4.0h-4.0zM991.8,1876.0h4.0v4.0h-4.0zM1082.8,1876.0h4.0v4.0h-4.0zM1089.8,1876.0h4.0v4.0h-4.0zM1110.8,1876.0h4.0v4.0h-4.0zM851.8,1883.1h4.0v4.0h-4.0zM942.8,1883.1h4.0v4.0h-4.0zM977.8,1883.1h4.0v4.0h-4.0zM1019.8,1883.1h4.0v4.0h-4.0zM1026.8,1883.1h4.0v4.0h-4.0zM1082.8,1883.1h4.0v4.0h-4.0zM1089.8,1883.1h4.0v4.0h-4.0zM1152.8,1883.1h4.0v4.0h-4.0zM928.8,1890.2h4.0v4.0h-4.0zM949.8,1890.2h4.0v4.0h-4.0zM1054.8,1890.2h4.0v4.0h-4.0zM1082.8,1890.2h4.0v4.0h-4.0zM851.8,1897.2h4.0v4.0h-4.0zM858.8,1897.2h4.0v4.0h-4.0zM886.8,1897.2h4.0v4.0h-4.0zM900.8,1897.2h4.0v4.0h-4.0zM907.8,1897.2h4.0v4.0h-4.0zM984.8,1897.2h4.0v4.0h-4.0zM998.8,1897.2h4.0v4.0h-4.0zM1005.8,1897.2h4.0v4.0h-4.0zM1026.8,1897.2h4.0v4.0h-4.0zM1089.8,1897.2h4.0v4.0h-4.0zM858.8,1904.2h4.0v4.0h-4.0zM865.8,1904.2h4.0v4.0h-4.0zM893.8,1904.2h4.0v4.0h-4.0zM921.8,1904.2h4.0v4.0h-4.0zM928.8,1904.2h4.0v4.0h-4.0zM935.8,1904.2h4.0v4.0h-4.0zM956.8,1904.2h4.0v4.0h-4.0zM1005.8,1904.2h4.0v4.0h-4.0zM1012.8,1904.2h4.0v4.0h-4.0zM1089.8,1904.2h4.0v4.0h-4.0zM823.8,1911.3h4.0v4.0h-4.0zM879.8,1911.3h4.0v4.0h-4.0zM921.8,1911.3h4.0v4.0h-4.0zM949.8,1911.3h4.0v4.0h-4.0zM956.8,1911.3h4.0v4.0h-4.0zM963.8,1911.3h4.0v4.0h-4.0zM970.8,1911.3h4.0v4.0h-4.0zM1012.8,1911.3h4.0v4.0h-4.0zM1096.8,1911.3h4.0v4.0h-4.0zM1103.8,1911.3h4.0v4.0h-4.0zM942.8,1918.3h4.0v4.0h-4.0zM963.8,1918.3h4.0v4.0h-4.0zM1033.8,1918.3h4.0v4.0h-4.0zM1110.8,1918.3h4.0v4.0h-4.0zM900.8,1925.4h4.0v4.0h-4.0zM914.8,1925.4h4.0v4.0h-4.0zM921.8,1925.4h4.0v4.0h-4.0zM998.8,1925.4h4.0v4.0h-4.0zM1012.8,1925.4h4.0v4.0h-4.0zM1047.8,1925.4h4.0v4.0h-4.0zM865.8,1932.5h4.0v4.0h-4.0zM879.8,1932.5h4.0v4.0h-4.0zM907.8,1932.5h4.0v4.0h-4.0zM956.8,1932.5h4.0v4.0h-4.0zM977.8,1932.5h4.0v4.0h-4.0zM1047.8,1932.5h4.0v4.0h-4.0zM816.8,1939.5h4.0v4.0h-4.0zM851.8,1939.5h4.0v4.0h-4.0zM921.8,1939.5h4.0v4.0h-4.0zM970.8,1939.5h4.0v4.0h-4.0zM809.8,1946.5h4.0v4.0h-4.0zM837.8,1946.5h4.0v4.0h-4.0zM865.8,1946.5h4.0v4.0h-4.0zM879.8,1946.5h4.0v4.0h-4.0zM886.8,1946.5h4.0v4.0h-4.0zM893.8,1946.5h4.0v4.0h-4.0zM914.8,1946.5h4.0v4.0h-4.0zM928.8,1946.5h4.0v4.0h-4.0zM956.8,1946.5h4.0v4.0h-4.0zM774.8,1953.6h4.0v4.0h-4.0zM816.8,1953.6h4.0v4.0h-4.0zM837.8,1953.6h4.0v4.0h-4.0zM886.8,1953.6h4.0v4.0h-4.0zM900.8,1953.6h4.0v4.0h-4.0zM942.8,1953.6h4.0v4.0h-4.0zM977.8,1953.6h4.0v4.0h-4.0zM851.8,1960.7h4.0v4.0h-4.0zM879.8,1960.7h4.0v4.0h-4.0zM809.8,1967.7h4.0v4.0h-4.0zM844.8,1967.7h4.0v4.0h-4.0zM865.8,1967.7h4.0v4.0h-4.0zM914.8,1967.7h4.0v4.0h-4.0zM942.8,1967.7h4.0v4.0h-4.0zM977.8,1967.7h4.0v4.0h-4.0zM760.8,1974.8h4.0v4.0h-4.0zM865.8,1974.8h4.0v4.0h-4.0zM914.8,1974.8h4.0v4.0h-4.0zM921.8,1974.8h4.0v4.0h-4.0zM935.8,1974.8h4.0v4.0h-4.0zM837.8,1981.8h4.0v4.0h-4.0zM879.8,1981.8h4.0v4.0h-4.0zM886.8,1981.8h4.0v4.0h-4.0zM900.8,1981.8h4.0v4.0h-4.0zM928.8,1981.8h4.0v4.0h-4.0zM795.8,1988.8h4.0v4.0h-4.0zM851.8,1988.8h4.0v4.0h-4.0zM942.8,1988.8h4.0v4.0h-4.0zM1012.8,1988.8h4.0v4.0h-4.0zM1033.8,1988.8h4.0v4.0h-4.0zM1082.8,1988.8h4.0v4.0h-4.0zM1096.8,1988.8h4.0v4.0h-4.0zM1110.8,1988.8h4.0v4.0h-4.0zM865.8,1995.9h4.0v4.0h-4.0zM886.8,1995.9h4.0v4.0h-4.0zM921.8,1995.9h4.0v4.0h-4.0zM942.8,1995.9h4.0v4.0h-4.0zM949.8,1995.9h4.0v4.0h-4.0zM956.8,1995.9h4.0v4.0h-4.0zM1096.8,1995.9h4.0v4.0h-4.0zM837.8,2003.0h4.0v4.0h-4.0zM851.8,2003.0h4.0v4.0h-4.0zM872.8,2003.0h4.0v4.0h-4.0zM879.8,2003.0h4.0v4.0h-4.0zM886.8,2003.0h4.0v4.0h-4.0zM928.8,2003.0h4.0v4.0h-4.0zM949.8,2003.0h4.0v4.0h-4.0zM956.8,2003.0h4.0v4.0h-4.0zM970.8,2003.0h4.0v4.0h-4.0zM1047.8,2003.0h4.0v4.0h-4.0zM767.8,2010.0h4.0v4.0h-4.0zM788.8,2010.0h4.0v4.0h-4.0zM949.8,2010.0h4.0v4.0h-4.0zM963.8,2010.0h4.0v4.0h-4.0zM1047.8,2010.0h4.0v4.0h-4.0zM879.8,2017.0h4.0v4.0h-4.0zM886.8,2017.0h4.0v4.0h-4.0zM907.8,2017.0h4.0v4.0h-4.0zM942.8,2017.0h4.0v4.0h-4.0zM949.8,2017.0h4.0v4.0h-4.0zM956.8,2017.0h4.0v4.0h-4.0zM858.8,2024.1h4.0v4.0h-4.0zM865.8,2024.1h4.0v4.0h-4.0zM893.8,2024.1h4.0v4.0h-4.0zM907.8,2024.1h4.0v4.0h-4.0zM921.8,2024.1h4.0v4.0h-4.0zM949.8,2024.1h4.0v4.0h-4.0zM956.8,2024.1h4.0v4.0h-4.0zM970.8,2024.1h4.0v4.0h-4.0zM886.8,2031.2h4.0v4.0h-4.0zM900.8,2031.2h4.0v4.0h-4.0zM907.8,2031.2h4.0v4.0h-4.0zM914.8,2031.2h4.0v4.0h-4.0zM935.8,2031.2h4.0v4.0h-4.0zM949.8,2031.2h4.0v4.0h-4.0zM991.8,2031.2h4.0v4.0h-4.0zM872.8,2038.2h4.0v4.0h-4.0zM886.8,2038.2h4.0v4.0h-4.0zM921.8,2038.2h4.0v4.0h-4.0zM935.8,2038.2h4.0v4.0h-4.0zM1040.8,2038.2h4.0v4.0h-4.0zM767.8,2045.2h4.0v4.0h-4.0zM865.8,2045.2h4.0v4.0h-4.0zM879.8,2045.2h4.0v4.0h-4.0zM921.8,2045.2h4.0v4.0h-4.0zM977.8,2045.2h4.0v4.0h-4.0zM1075.8,2045.2h4.0v4.0h-4.0zM732.8,2052.3h4.0v4.0h-4.0zM872.8,2052.3h4.0v4.0h-4.0zM900.8,2052.3h4.0v4.0h-4.0zM928.8,2052.3h4.0v4.0h-4.0zM942.8,2052.3h4.0v4.0h-4.0zM963.8,2052.3h4.0v4.0h-4.0zM704.8,2059.3h4.0v4.0h-4.0zM865.8,2059.3h4.0v4.0h-4.0zM949.8,2059.3h4.0v4.0h-4.0zM1019.8,2059.3h4.0v4.0h-4.0zM1061.8,2059.3h4.0v4.0h-4.0zM683.8,2066.4h4.0v4.0h-4.0zM872.8,2066.4h4.0v4.0h-4.0zM893.8,2066.4h4.0v4.0h-4.0zM900.8,2066.4h4.0v4.0h-4.0zM907.8,2066.4h4.0v4.0h-4.0zM942.8,2066.4h4.0v4.0h-4.0zM949.8,2066.4h4.0v4.0h-4.0zM970.8,2066.4h4.0v4.0h-4.0zM977.8,2066.4h4.0v4.0h-4.0zM1026.8,2066.4h4.0v4.0h-4.0zM1047.8,2066.4h4.0v4.0h-4.0zM893.8,2073.4h4.0v4.0h-4.0zM928.8,2073.4h4.0v4.0h-4.0zM935.8,2073.4h4.0v4.0h-4.0zM949.8,2073.4h4.0v4.0h-4.0zM977.8,2073.4h4.0v4.0h-4.0zM683.8,2080.5h4.0v4.0h-4.0zM690.8,2080.5h4.0v4.0h-4.0zM900.8,2080.5h4.0v4.0h-4.0zM690.8,2087.6h4.0v4.0h-4.0zM739.8,2087.6h4.0v4.0h-4.0zM802.8,2087.6h4.0v4.0h-4.0zM823.8,2087.6h4.0v4.0h-4.0zM893.8,2087.6h4.0v4.0h-4.0zM907.8,2087.6h4.0v4.0h-4.0zM914.8,2087.6h4.0v4.0h-4.0zM949.8,2087.6h4.0v4.0h-4.0zM963.8,2087.6h4.0v4.0h-4.0zM984.8,2087.6h4.0v4.0h-4.0zM669.8,2094.6h4.0v4.0h-4.0zM690.8,2094.6h4.0v4.0h-4.0zM900.8,2094.6h4.0v4.0h-4.0zM942.8,2094.6h4.0v4.0h-4.0zM977.8,2094.6h4.0v4.0h-4.0zM767.8,2101.7h4.0v4.0h-4.0zM781.8,2101.7h4.0v4.0h-4.0zM893.8,2101.7h4.0v4.0h-4.0zM914.8,2101.7h4.0v4.0h-4.0zM970.8,2101.7h4.0v4.0h-4.0zM711.8,2108.7h4.0v4.0h-4.0zM753.8,2108.7h4.0v4.0h-4.0zM802.8,2108.7h4.0v4.0h-4.0zM900.8,2108.7h4.0v4.0h-4.0zM662.8,2115.8h4.0v4.0h-4.0zM669.8,2115.8h4.0v4.0h-4.0zM753.8,2115.8h4.0v4.0h-4.0zM816.8,2115.8h4.0v4.0h-4.0zM851.8,2115.8h4.0v4.0h-4.0zM921.8,2115.8h4.0v4.0h-4.0zM963.8,2115.8h4.0v4.0h-4.0zM648.8,2122.8h4.0v4.0h-4.0zM718.8,2122.8h4.0v4.0h-4.0zM858.8,2122.8h4.0v4.0h-4.0zM977.8,2122.8h4.0v4.0h-4.0zM725.8,2129.8h4.0v4.0h-4.0zM802.8,2129.8h4.0v4.0h-4.0zM942.8,2129.8h4.0v4.0h-4.0zM669.8,2136.9h4.0v4.0h-4.0zM683.8,2136.9h4.0v4.0h-4.0zM711.8,2136.9h4.0v4.0h-4.0zM739.8,2136.9h4.0v4.0h-4.0zM809.8,2136.9h4.0v4.0h-4.0zM830.8,2136.9h4.0v4.0h-4.0zM893.8,2136.9h4.0v4.0h-4.0zM648.8,2143.9h4.0v4.0h-4.0zM690.8,2143.9h4.0v4.0h-4.0zM746.8,2143.9h4.0v4.0h-4.0zM900.8,2143.9h4.0v4.0h-4.0zM935.8,2143.9h4.0v4.0h-4.0zM739.8,2151.0h4.0v4.0h-4.0zM781.8,2151.0h4.0v4.0h-4.0zM844.8,2151.0h4.0v4.0h-4.0zM676.8,2158.1h4.0v4.0h-4.0zM781.8,2158.1h4.0v4.0h-4.0zM802.8,2158.1h4.0v4.0h-4.0zM851.8,2158.1h4.0v4.0h-4.0zM893.8,2158.1h4.0v4.0h-4.0zM648.8,2165.1h4.0v4.0h-4.0zM676.8,2165.1h4.0v4.0h-4.0zM753.8,2165.1h4.0v4.0h-4.0zM816.8,2165.1h4.0v4.0h-4.0zM823.8,2165.1h4.0v4.0h-4.0zM641.8,2172.2h4.0v4.0h-4.0zM711.8,2172.2h4.0v4.0h-4.0zM732.8,2172.2h4.0v4.0h-4.0zM795.8,2172.2h4.0v4.0h-4.0zM851.8,2172.2h4.0v4.0h-4.0zM627.8,2179.2h4.0v4.0h-4.0zM641.8,2179.2h4.0v4.0h-4.0zM641.8,2186.2h4.0v4.0h-4.0z" fill="#f6d690"/><path d="M928.8,1833.8h4.0v4.0h-4.0zM977.8,1840.8h4.0v4.0h-4.0zM886.8,1847.8h4.0v4.0h-4.0zM893.8,1847.8h4.0v4.0h-4.0zM942.8,1847.8h4.0v4.0h-4.0zM998.8,1854.9h4.0v4.0h-4.0zM1026.8,1854.9h4.0v4.0h-4.0zM865.8,1862.0h4.0v4.0h-4.0zM900.8,1862.0h4.0v4.0h-4.0zM942.8,1862.0h4.0v4.0h-4.0zM1012.8,1862.0h4.0v4.0h-4.0zM1054.8,1862.0h4.0v4.0h-4.0zM893.8,1869.0h4.0v4.0h-4.0zM963.8,1869.0h4.0v4.0h-4.0zM991.8,1869.0h4.0v4.0h-4.0zM1019.8,1869.0h4.0v4.0h-4.0zM900.8,1876.0h4.0v4.0h-4.0zM942.8,1876.0h4.0v4.0h-4.0zM956.8,1876.0h4.0v4.0h-4.0zM1075.8,1876.0h4.0v4.0h-4.0zM872.8,1883.1h4.0v4.0h-4.0zM879.8,1883.1h4.0v4.0h-4.0zM886.8,1883.1h4.0v4.0h-4.0zM893.8,1883.1h4.0v4.0h-4.0zM900.8,1883.1h4.0v4.0h-4.0zM963.8,1883.1h4.0v4.0h-4.0zM998.8,1883.1h4.0v4.0h-4.0zM1033.8,1883.1h4.0v4.0h-4.0zM1040.8,1883.1h4.0v4.0h-4.0zM1061.8,1883.1h4.0v4.0h-4.0zM851.8,1890.2h4.0v4.0h-4.0zM858.8,1890.2h4.0v4.0h-4.0zM879.8,1890.2h4.0v4.0h-4.0zM900.8,1890.2h4.0v4.0h-4.0zM907.8,1890.2h4.0v4.0h-4.0zM942.8,1890.2h4.0v4.0h-4.0zM977.8,1890.2h4.0v4.0h-4.0zM984.8,1890.2h4.0v4.0h-4.0zM865.8,1897.2h4.0v4.0h-4.0zM928.8,1897.2h4.0v4.0h-4.0zM942.8,1897.2h4.0v4.0h-4.0zM956.8,1897.2h4.0v4.0h-4.0zM1096.8,1897.2h4.0v4.0h-4.0zM851.8,1904.2h4.0v4.0h-4.0zM886.8,1904.2h4.0v4.0h-4.0zM949.8,1904.2h4.0v4.0h-4.0zM977.8,1904.2h4.0v4.0h-4.0zM1068.8,1904.2h4.0v4.0h-4.0zM851.8,1911.3h4.0v4.0h-4.0zM935.8,1911.3h4.0v4.0h-4.0zM991.8,1911.3h4.0v4.0h-4.0zM1005.8,1911.3h4.0v4.0h-4.0zM1019.8,1911.3h4.0v4.0h-4.0zM858.8,1918.3h4.0v4.0h-4.0zM921.8,1918.3h4.0v4.0h-4.0zM949.8,1918.3h4.0v4.0h-4.0zM844.8,1925.4h4.0v4.0h-4.0zM865.8,1925.4h4.0v4.0h-4.0zM893.8,1925.4h4.0v4.0h-4.0zM935.8,1925.4h4.0v4.0h-4.0zM942.8,1925.4h4.0v4.0h-4.0zM991.8,1925.4h4.0v4.0h-4.0zM1089.8,1925.4h4.0v4.0h-4.0zM886.8,1932.5h4.0v4.0h-4.0zM914.8,1932.5h4.0v4.0h-4.0zM928.8,1932.5h4.0v4.0h-4.0zM935.8,1932.5h4.0v4.0h-4.0zM942.8,1932.5h4.0v4.0h-4.0zM963.8,1932.5h4.0v4.0h-4.0zM865.8,1939.5h4.0v4.0h-4.0zM872.8,1939.5h4.0v4.0h-4.0zM963.8,1939.5h4.0v4.0h-4.0zM977.8,1939.5h4.0v4.0h-4.0zM984.8,1939.5h4.0v4.0h-4.0zM858.8,1946.5h4.0v4.0h-4.0zM900.8,1946.5h4.0v4.0h-4.0zM921.8,1946.5h4.0v4.0h-4.0zM935.8,1946.5h4.0v4.0h-4.0zM1005.8,1946.5h4.0v4.0h-4.0zM851.8,1953.6h4.0v4.0h-4.0zM858.8,1953.6h4.0v4.0h-4.0zM907.8,1953.6h4.0v4.0h-4.0zM956.8,1953.6h4.0v4.0h-4.0zM970.8,1953.6h4.0v4.0h-4.0zM1061.8,1953.6h4.0v4.0h-4.0zM949.8,1960.7h4.0v4.0h-4.0zM956.8,1960.7h4.0v4.0h-4.0zM935.8,1967.7h4.0v4.0h-4.0zM1103.8,1967.7h4.0v4.0h-4.0zM956.8,1974.8h4.0v4.0h-4.0zM963.8,1974.8h4.0v4.0h-4.0zM970.8,1974.8h4.0v4.0h-4.0zM851.8,1981.8h4.0v4.0h-4.0zM865.8,1981.8h4.0v4.0h-4.0zM872.8,1981.8h4.0v4.0h-4.0zM893.8,1981.8h4.0v4.0h-4.0zM970.8,1981.8h4.0v4.0h-4.0zM1103.8,1981.8h4.0v4.0h-4.0zM865.8,1988.8h4.0v4.0h-4.0zM893.8,1988.8h4.0v4.0h-4.0zM914.8,1988.8h4.0v4.0h-4.0zM970.8,1988.8h4.0v4.0h-4.0zM872.8,1995.9h4.0v4.0h-4.0zM879.8,1995.9h4.0v4.0h-4.0zM935.8,1995.9h4.0v4.0h-4.0zM1054.8,1995.9h4.0v4.0h-4.0zM1082.8,1995.9h4.0v4.0h-4.0zM900.8,2003.0h4.0v4.0h-4.0zM914.8,2003.0h4.0v4.0h-4.0zM893.8,2010.0h4.0v4.0h-4.0zM907.8,2010.0h4.0v4.0h-4.0zM914.8,2010.0h4.0v4.0h-4.0zM928.8,2010.0h4.0v4.0h-4.0zM851.8,2017.0h4.0v4.0h-4.0zM921.8,2017.0h4.0v4.0h-4.0zM928.8,2017.0h4.0v4.0h-4.0zM963.8,2017.0h4.0v4.0h-4.0zM1068.8,2017.0h4.0v4.0h-4.0zM879.8,2024.1h4.0v4.0h-4.0zM872.8,2031.2h4.0v4.0h-4.0zM928.8,2038.2h4.0v4.0h-4.0zM900.8,2045.2h4.0v4.0h-4.0zM942.8,2045.2h4.0v4.0h-4.0zM1019.8,2045.2h4.0v4.0h-4.0zM886.8,2052.3h4.0v4.0h-4.0zM998.8,2052.3h4.0v4.0h-4.0zM1019.8,2052.3h4.0v4.0h-4.0zM928.8,2059.3h4.0v4.0h-4.0zM956.8,2059.3h4.0v4.0h-4.0zM963.8,2059.3h4.0v4.0h-4.0zM970.8,2059.3h4.0v4.0h-4.0zM977.8,2059.3h4.0v4.0h-4.0zM963.8,2066.4h4.0v4.0h-4.0zM1019.8,2066.4h4.0v4.0h-4.0zM886.8,2073.4h4.0v4.0h-4.0zM872.8,2080.5h4.0v4.0h-4.0zM977.8,2080.5h4.0v4.0h-4.0zM984.8,2080.5h4.0v4.0h-4.0zM1040.8,2080.5h4.0v4.0h-4.0zM900.8,2087.6h4.0v4.0h-4.0zM942.8,2087.6h4.0v4.0h-4.0zM991.8,2087.6h4.0v4.0h-4.0zM879.8,2094.6h4.0v4.0h-4.0zM907.8,2101.7h4.0v4.0h-4.0zM963.8,2101.7h4.0v4.0h-4.0zM963.8,2108.7h4.0v4.0h-4.0z" fill="#e2466a"/><path d="M879.8,1840.8h4.0v4.0h-4.0zM928.8,1840.8h4.0v4.0h-4.0zM928.8,1847.8h4.0v4.0h-4.0zM935.8,1854.9h4.0v4.0h-4.0zM858.8,1869.0h4.0v4.0h-4.0zM865.8,1869.0h4.0v4.0h-4.0zM928.8,1869.0h4.0v4.0h-4.0zM858.8,1876.0h4.0v4.0h-4.0zM872.8,1876.0h4.0v4.0h-4.0zM1061.8,1876.0h4.0v4.0h-4.0zM1068.8,1876.0h4.0v4.0h-4.0zM907.8,1883.1h4.0v4.0h-4.0zM1012.8,1890.2h4.0v4.0h-4.0zM872.8,1897.2h4.0v4.0h-4.0zM914.8,1897.2h4.0v4.0h-4.0zM921.8,1897.2h4.0v4.0h-4.0zM991.8,1897.2h4.0v4.0h-4.0zM1075.8,1897.2h4.0v4.0h-4.0zM900.8,1904.2h4.0v4.0h-4.0zM914.8,1904.2h4.0v4.0h-4.0zM907.8,1911.3h4.0v4.0h-4.0zM942.8,1911.3h4.0v4.0h-4.0zM914.8,1918.3h4.0v4.0h-4.0zM956.8,1925.4h4.0v4.0h-4.0zM984.8,1932.5h4.0v4.0h-4.0zM907.8,1939.5h4.0v4.0h-4.0zM949.8,1939.5h4.0v4.0h-4.0zM851.8,1946.5h4.0v4.0h-4.0zM865.8,1953.6h4.0v4.0h-4.0zM886.8,1967.7h4.0v4.0h-4.0zM956.8,1967.7h4.0v4.0h-4.0zM907.8,1974.8h4.0v4.0h-4.0zM928.8,1988.8h4.0v4.0h-4.0zM963.8,1988.8h4.0v4.0h-4.0zM893.8,2003.0h4.0v4.0h-4.0zM942.8,2003.0h4.0v4.0h-4.0zM879.8,2010.0h4.0v4.0h-4.0zM928.8,2024.1h4.0v4.0h-4.0zM970.8,2045.2h4.0v4.0h-4.0zM718.8,2052.3h4.0v4.0h-4.0zM907.8,2052.3h4.0v4.0h-4.0zM711.8,2059.3h4.0v4.0h-4.0zM725.8,2059.3h4.0v4.0h-4.0zM739.8,2059.3h4.0v4.0h-4.0zM879.8,2059.3h4.0v4.0h-4.0zM704.8,2066.4h4.0v4.0h-4.0zM718.8,2066.4h4.0v4.0h-4.0zM746.8,2066.4h4.0v4.0h-4.0zM956.8,2066.4h4.0v4.0h-4.0zM697.8,2073.4h4.0v4.0h-4.0zM725.8,2073.4h4.0v4.0h-4.0zM732.8,2073.4h4.0v4.0h-4.0zM753.8,2073.4h4.0v4.0h-4.0zM760.8,2073.4h4.0v4.0h-4.0zM921.8,2073.4h4.0v4.0h-4.0zM697.8,2080.5h4.0v4.0h-4.0zM746.8,2080.5h4.0v4.0h-4.0zM753.8,2080.5h4.0v4.0h-4.0zM767.8,2080.5h4.0v4.0h-4.0zM879.8,2080.5h4.0v4.0h-4.0zM683.8,2087.6h4.0v4.0h-4.0zM718.8,2087.6h4.0v4.0h-4.0zM935.8,2087.6h4.0v4.0h-4.0zM732.8,2094.6h4.0v4.0h-4.0zM774.8,2094.6h4.0v4.0h-4.0zM914.8,2094.6h4.0v4.0h-4.0zM956.8,2094.6h4.0v4.0h-4.0zM662.8,2101.7h4.0v4.0h-4.0zM676.8,2101.7h4.0v4.0h-4.0zM697.8,2101.7h4.0v4.0h-4.0zM704.8,2101.7h4.0v4.0h-4.0zM921.8,2101.7h4.0v4.0h-4.0zM956.8,2101.7h4.0v4.0h-4.0zM732.8,2108.7h4.0v4.0h-4.0zM746.8,2108.7h4.0v4.0h-4.0zM781.8,2108.7h4.0v4.0h-4.0zM949.8,2108.7h4.0v4.0h-4.0zM956.8,2108.7h4.0v4.0h-4.0zM711.8,2115.8h4.0v4.0h-4.0zM725.8,2115.8h4.0v4.0h-4.0zM732.8,2115.8h4.0v4.0h-4.0zM781.8,2115.8h4.0v4.0h-4.0zM795.8,2115.8h4.0v4.0h-4.0zM858.8,2115.8h4.0v4.0h-4.0zM865.8,2115.8h4.0v4.0h-4.0zM879.8,2115.8h4.0v4.0h-4.0zM893.8,2115.8h4.0v4.0h-4.0zM907.8,2115.8h4.0v4.0h-4.0zM655.8,2122.8h4.0v4.0h-4.0zM676.8,2122.8h4.0v4.0h-4.0zM711.8,2122.8h4.0v4.0h-4.0zM725.8,2122.8h4.0v4.0h-4.0zM739.8,2122.8h4.0v4.0h-4.0zM774.8,2122.8h4.0v4.0h-4.0zM795.8,2122.8h4.0v4.0h-4.0zM851.8,2122.8h4.0v4.0h-4.0zM879.8,2122.8h4.0v4.0h-4.0zM676.8,2129.8h4.0v4.0h-4.0zM711.8,2129.8h4.0v4.0h-4.0zM746.8,2129.8h4.0v4.0h-4.0zM760.8,2129.8h4.0v4.0h-4.0zM823.8,2129.8h4.0v4.0h-4.0zM830.8,2129.8h4.0v4.0h-4.0zM837.8,2129.8h4.0v4.0h-4.0zM851.8,2129.8h4.0v4.0h-4.0zM858.8,2129.8h4.0v4.0h-4.0zM879.8,2129.8h4.0v4.0h-4.0zM914.8,2129.8h4.0v4.0h-4.0zM928.8,2129.8h4.0v4.0h-4.0zM648.8,2136.9h4.0v4.0h-4.0zM676.8,2136.9h4.0v4.0h-4.0zM704.8,2136.9h4.0v4.0h-4.0zM753.8,2136.9h4.0v4.0h-4.0zM795.8,2136.9h4.0v4.0h-4.0zM816.8,2136.9h4.0v4.0h-4.0zM879.8,2136.9h4.0v4.0h-4.0zM697.8,2143.9h4.0v4.0h-4.0zM704.8,2143.9h4.0v4.0h-4.0zM739.8,2143.9h4.0v4.0h-4.0zM760.8,2143.9h4.0v4.0h-4.0zM767.8,2143.9h4.0v4.0h-4.0zM802.8,2143.9h4.0v4.0h-4.0zM816.8,2143.9h4.0v4.0h-4.0zM823.8,2143.9h4.0v4.0h-4.0zM830.8,2143.9h4.0v4.0h-4.0zM837.8,2143.9h4.0v4.0h-4.0zM844.8,2143.9h4.0v4.0h-4.0zM886.8,2143.9h4.0v4.0h-4.0zM928.8,2143.9h4.0v4.0h-4.0zM641.8,2151.0h4.0v4.0h-4.0zM648.8,2151.0h4.0v4.0h-4.0zM655.8,2151.0h4.0v4.0h-4.0zM669.8,2151.0h4.0v4.0h-4.0zM704.8,2151.0h4.0v4.0h-4.0zM746.8,2151.0h4.0v4.0h-4.0zM760.8,2151.0h4.0v4.0h-4.0zM767.8,2151.0h4.0v4.0h-4.0zM774.8,2151.0h4.0v4.0h-4.0zM816.8,2151.0h4.0v4.0h-4.0zM872.8,2151.0h4.0v4.0h-4.0zM886.8,2151.0h4.0v4.0h-4.0zM900.8,2151.0h4.0v4.0h-4.0zM669.8,2158.1h4.0v4.0h-4.0zM795.8,2158.1h4.0v4.0h-4.0zM809.8,2158.1h4.0v4.0h-4.0zM879.8,2158.1h4.0v4.0h-4.0zM886.8,2158.1h4.0v4.0h-4.0zM900.8,2158.1h4.0v4.0h-4.0zM662.8,2165.1h4.0v4.0h-4.0zM683.8,2165.1h4.0v4.0h-4.0zM711.8,2165.1h4.0v4.0h-4.0zM718.8,2165.1h4.0v4.0h-4.0zM746.8,2165.1h4.0v4.0h-4.0zM781.8,2165.1h4.0v4.0h-4.0zM802.8,2165.1h4.0v4.0h-4.0zM893.8,2165.1h4.0v4.0h-4.0zM900.8,2165.1h4.0v4.0h-4.0zM669.8,2172.2h4.0v4.0h-4.0zM683.8,2172.2h4.0v4.0h-4.0zM690.8,2172.2h4.0v4.0h-4.0zM725.8,2172.2h4.0v4.0h-4.0zM760.8,2172.2h4.0v4.0h-4.0zM788.8,2172.2h4.0v4.0h-4.0zM802.8,2172.2h4.0v4.0h-4.0zM816.8,2172.2h4.0v4.0h-4.0zM879.8,2172.2h4.0v4.0h-4.0z" fill="#c4235e"/><ellipse cx="850.3" cy="2016.8" rx="14.8" ry="20.4" fill="#b0488a" fill-opacity="0.25" stroke="#f6eef4" stroke-width="2.2"/><ellipse cx="850.3" cy="2016.8" rx="16.4" ry="22.0" fill="none" stroke="#5a1c52" stroke-width="1.1" stroke-opacity="0.8"/><ellipse cx="725.5" cy="2092.4" rx="14.8" ry="23.9" fill="#b0488a" fill-opacity="0.25" stroke="#f6eef4" stroke-width="2.2"/><ellipse cx="725.5" cy="2092.4" rx="16.4" ry="25.5" fill="none" stroke="#5a1c52" stroke-width="1.1" stroke-opacity="0.8"/><ellipse cx="736.0" cy="2152.2" rx="13.4" ry="14.8" fill="#b0488a" fill-opacity="0.25" stroke="#f6eef4" stroke-width="2.2"/><ellipse cx="736.0" cy="2152.2" rx="15.0" ry="16.4" fill="none" stroke="#5a1c52" stroke-width="1.1" stroke-opacity="0.8"/><ellipse cx="767.7" cy="2148.7" rx="7.0" ry="13.4" fill="#b0488a" fill-opacity="0.25" stroke="#f6eef4" stroke-width="2.2"/><ellipse cx="767.7" cy="2148.7" rx="8.6" ry="15.0" fill="none" stroke="#5a1c52" stroke-width="1.1" stroke-opacity="0.8"/><ellipse cx="827.4" cy="2141.6" rx="20.4" ry="28.8" fill="#b0488a" fill-opacity="0.25" stroke="#f6eef4" stroke-width="2.2"/><ellipse cx="827.4" cy="2141.6" rx="22.0" ry="30.4" fill="none" stroke="#5a1c52" stroke-width="1.1" stroke-opacity="0.8"/><ellipse cx="866.1" cy="2131.1" rx="18.3" ry="25.3" fill="#b0488a" fill-opacity="0.25" stroke="#f6eef4" stroke-width="2.2"/><ellipse cx="866.1" cy="2131.1" rx="19.9" ry="26.9" fill="none" stroke="#5a1c52" stroke-width="1.1" stroke-opacity="0.8"/><ellipse cx="901.3" cy="2141.6" rx="13.4" ry="16.9" fill="#b0488a" fill-opacity="0.25" stroke="#f6eef4" stroke-width="2.2"/><ellipse cx="901.3" cy="2141.6" rx="15.0" ry="18.5" fill="none" stroke="#5a1c52" stroke-width="1.1" stroke-opacity="0.8"/><ellipse cx="806.3" cy="2050.2" rx="7.7" ry="19.3" fill="#b0488a" fill-opacity="0.25" stroke="#f6eef4" stroke-width="2.2"/><ellipse cx="806.3" cy="2050.2" rx="9.3" ry="20.9" fill="none" stroke="#5a1c52" stroke-width="1.1" stroke-opacity="0.8"/><ellipse cx="785.2" cy="2067.8" rx="6.3" ry="14.1" fill="#b0488a" fill-opacity="0.25" stroke="#f6eef4" stroke-width="2.2"/><ellipse cx="785.2" cy="2067.8" rx="7.9" ry="15.7" fill="none" stroke="#5a1c52" stroke-width="1.1" stroke-opacity="0.8"/><ellipse cx="1020.8" cy="1881.5" rx="5.6" ry="4.9" fill="#6a1f5a" fill-opacity="0.75"/><ellipse cx="1006.7" cy="1913.1" rx="4.2" ry="4.2" fill="#6a1f5a" fill-opacity="0.75"/><ellipse cx="929.4" cy="1941.3" rx="4.9" ry="5.6" fill="#6a1f5a" fill-opacity="0.75"/><ellipse cx="954.0" cy="2127.6" rx="14.1" ry="15.8" fill="#6a1f5a" fill-opacity="0.75"/><ellipse cx="887.2" cy="1906.1" rx="4.9" ry="7.0" fill="#6a1f5a" fill-opacity="0.75"/><path d="M1024.3,1888.5 C1026.6,1891.4 1034.3,1899.7 1038.4,1906.1 C1042.5,1912.5 1046.0,1920.2 1048.9,1927.2 C1051.8,1934.2 1054.8,1944.8 1055.9,1948.3" stroke="#f7e8f0" stroke-width="1.6" fill="none" opacity="0.85"/><path d="M1034.9,1913.1 C1037.8,1914.3 1047.7,1921.3 1052.4,1920.2 C1057.1,1919.0 1061.2,1908.4 1063.0,1906.1" stroke="#f7e8f0" stroke-width="1.6" fill="none" opacity="0.85"/><path d="M883.7,1856.9 C887.8,1854.5 899.5,1846.3 908.3,1842.8 C917.1,1839.3 931.7,1837.0 936.4,1835.8" stroke="#f7e8f0" stroke-width="1.6" fill="none" opacity="0.85"/><path d="M971.6,1976.4 C975.1,1979.9 986.8,1991.6 992.7,1997.5 C998.5,2003.4 1004.4,2009.2 1006.7,2011.6" stroke="#f7e8f0" stroke-width="1.6" fill="none" opacity="0.85"/><path d="M622.4,2111.1 C628.0,2106.1 642.4,2093.7 656.1,2081.2 C669.8,2068.7 691.5,2050.5 704.7,2036.3 C717.9,2022.1 728.2,2007.4 735.4,1996.2 C742.6,1985.0 743.2,1978.6 747.7,1969.2 C752.2,1959.8 757.9,1949.9 762.4,1939.7 C766.9,1929.5 769.8,1916.8 774.7,1907.8 C779.6,1898.8 785.0,1893.1 791.9,1885.7 C798.8,1878.3 808.2,1871.4 816.4,1863.6 C824.6,1855.8 832.8,1846.9 841.0,1839.1 C849.2,1831.3 857.3,1824.4 865.5,1817.0 C873.7,1809.6 881.8,1801.9 890.0,1794.9 C898.2,1787.9 906.4,1781.8 914.6,1775.2 C922.8,1768.7 931.6,1761.7 939.2,1755.6 C946.8,1749.5 956.5,1741.3 960.0,1738.4" stroke="#78c244" stroke-width="2" fill="none"/><path d="M934.3,1741.3 C938.6,1740.2 951.0,1737.1 960.0,1735.0 C969.0,1732.9 979.5,1728.8 988.3,1728.6 C997.1,1728.3 1005.5,1730.2 1012.9,1733.5 C1020.3,1736.8 1026.8,1741.7 1032.5,1748.2 C1038.2,1754.8 1043.2,1764.6 1047.3,1772.8 C1051.4,1781.0 1055.5,1788.3 1057.1,1797.3 C1058.7,1806.3 1059.6,1818.6 1057.1,1826.8 C1054.6,1835.0 1048.0,1841.5 1042.3,1846.4 C1036.6,1851.3 1030.1,1854.0 1022.7,1856.3 C1015.3,1858.5 1006.3,1859.1 998.1,1859.9 C989.9,1860.7 983.4,1860.3 973.6,1861.2 C963.8,1862.1 949.0,1863.5 939.2,1865.1 C929.4,1866.7 922.8,1867.6 914.6,1871.0 C906.4,1874.4 895.8,1880.0 890.1,1885.7 C884.4,1891.4 882.8,1897.6 880.3,1905.4 C877.8,1913.2 876.4,1921.8 875.4,1932.4 C874.4,1943.0 874.2,1955.6 874.1,1969.2 C874.0,1982.8 873.1,2001.5 874.8,2013.9 C876.5,2026.3 878.9,2037.0 884.2,2043.8 C889.5,2050.7 897.9,2050.6 906.6,2055.0 C915.3,2059.4 925.3,2064.4 936.5,2070.0 C947.7,2075.6 965.2,2080.6 973.9,2088.7 C982.6,2096.8 985.7,2109.2 988.8,2118.6 C991.9,2127.9 993.8,2135.5 992.6,2144.8 C991.4,2154.2 987.6,2167.2 981.4,2174.7 C975.2,2182.2 965.8,2186.5 955.2,2189.6 C944.6,2192.7 933.4,2192.8 917.8,2193.4 C902.2,2194.0 880.4,2192.2 861.7,2193.4 C843.0,2194.6 824.3,2197.7 805.6,2200.8 C786.9,2203.9 758.9,2210.1 749.6,2212.0" stroke="#78c244" stroke-width="2" fill="none"/></g><text x="1907.80" y="569.80" text-anchor="end" fill="#1a1a1a" style="font-family:&quot;Liberation Sans&quot;,Arial,sans-serif;font-size:36.0px">p53 labels</text><text x="1068.00" y="563.00" text-anchor="start" fill="#111" style="font-family:&quot;Liberation Sans&quot;,Arial,sans-serif;font-size:39.5px;font-weight:bold">d</text><text x="1918.20" y="1124.90" text-anchor="end" fill="#1a1a1a" style="font-family:&quot;Liberation Sans&quot;,Arial,sans-serif;font-size:36.0px">H&amp;E Predictions</text><text x="27.50" y="1697.80" text-anchor="start" fill="#111" style="font-family:&quot;Liberation Sans&quot;,Arial,sans-serif;font-size:38.5px;font-weight:bold">e</text><text x="592.60" y="2205.50" text-anchor="end" fill="#1a1a1a" style="font-family:&quot;Liberation Sans&quot;,Arial,sans-serif;font-size:36.0px">p53 labels</text><text x="1237.30" y="2205.80" text-anchor="end" fill="#1a1a1a" style="font-family:&quot;Liberation Sans&quot;,Arial,sans-serif;font-size:36.0px">H&amp;E Predictions</text><text x="0" y="0" transform="translate(1879.5 1171.5) rotate(90) scale(1 1.72)" style="font-family:&quot;DejaVu Sans&quot;,sans-serif;font-size:28px;font-weight:200" fill="#1c1c1c" stroke="#1c1c1c" stroke-width="0.5">2011</text><text x="0" y="0" transform="translate(1209.0 2063.0) rotate(90) scale(1 0.88)" style="font-family:&quot;DejaVu Sans&quot;,sans-serif;font-size:38px;font-weight:200;letter-spacing:4px" fill="#1c1c1c" stroke="#1c1c1c" stroke-width="0.6">2036</text><rect x="1050.9" y="516.5" width="885.7" height="1130.5" rx="16" fill="none" stroke="#333" stroke-width="2.2"/><rect x="3.8" y="1653.4" width="1250.7" height="570.4" rx="16" fill="none" stroke="#333" stroke-width="2.2"/><rect x="1261.5" y="1654" width="675.8" height="569.6" rx="16" fill="#d3d3d5"/><defs><linearGradient id="spec" x1="0" y1="0" x2="1" y2="0"><stop offset="0.0" stop-color="rgb(142, 132, 190)"/><stop offset="0.05" stop-color="rgb(128, 151, 199)"/><stop offset="0.1" stop-color="rgb(112, 171, 208)"/><stop offset="0.15" stop-color="rgb(129, 192, 201)"/><stop offset="0.2" stop-color="rgb(148, 212, 192)"/><stop offset="0.25" stop-color="rgb(173, 222, 192)"/><stop offset="0.3" stop-color="rgb(195, 231, 191)"/><stop offset="0.35" stop-color="rgb(216, 239, 187)"/><stop offset="0.4" stop-color="rgb(238, 248, 183)"/><stop offset="0.45" stop-color="rgb(246, 252, 197)"/><stop offset="0.5" stop-color="rgb(255, 255, 209)"/><stop offset="0.55" stop-color="rgb(255, 244, 192)"/><stop offset="0.6" stop-color="rgb(254, 233, 174)"/><stop offset="0.65" stop-color="rgb(254, 215, 159)"/><stop offset="0.7" stop-color="rgb(253, 197, 144)"/><stop offset="0.75" stop-color="rgb(250, 174, 133)"/><stop offset="0.8" stop-color="rgb(247, 153, 123)"/><stop offset="0.85" stop-color="rgb(236, 136, 128)"/><stop offset="0.9" stop-color="rgb(225, 119, 132)"/><stop offset="0.95" stop-color="rgb(205, 97, 127)"/><stop offset="1.0" stop-color="rgb(187, 77, 123)"/></linearGradient></defs><text x="1584.00" y="1705.70" text-anchor="middle" fill="#1a1a1a" style="font-family:&quot;Liberation Sans&quot;,Arial,sans-serif;font-size:36.0px">p53 labels</text><rect x="1310.0" y="1749.5" width="29.5" height="27.3" fill="#efefef" stroke="#2fb34a" stroke-width="2.6"/><text x="1360.20" y="1773.40" text-anchor="start" fill="#333" style="font-family:&quot;Liberation Sans&quot;,Arial,sans-serif;font-size:36.0px">p53 negative (non-cancer) region</text><rect x="1310.0" y="1801.7" width="29.5" height="27.7" fill="#efefef" stroke="#f7941d" stroke-width="2.6"/><text x="1358.80" y="1829.50" text-anchor="start" fill="#333" style="font-family:&quot;Liberation Sans&quot;,Arial,sans-serif;font-size:36.0px">p53 ambiguous (uncertain) region</text><rect x="1310.0" y="1855.8" width="29.5" height="27.8" fill="#efefef" stroke="#ed2f2f" stroke-width="2.6"/><text x="1355.30" y="1880.50" text-anchor="start" fill="#333" style="font-family:&quot;Liberation Sans&quot;,Arial,sans-serif;font-size:36.0px">p53 positive (cancer) region</text><line x1="1284" y1="1926.9" x2="1914" y2="1926.9" stroke="#f2f2f2" stroke-width="2.2"/><line x1="1284" y1="2031.4" x2="1914" y2="2031.4" stroke="#f2f2f2" stroke-width="2.2"/><rect x="1303" y="1965.6" width="65" height="25.5" rx="7" fill="#efefef"/><line x1="1311.9" y1="1978.4" x2="1357.1" y2="1978.4" stroke="#79c142" stroke-width="2.4"/><text x="1375.60" y="1991.10" text-anchor="start" fill="#1a1a1a" style="font-family:&quot;Liberation Sans&quot;,Arial,sans-serif;font-size:36.0px">Pathologist Cancer Annotation</text><text x="1621.80" y="2087.40" text-anchor="middle" fill="#1a1a1a" style="font-family:&quot;Liberation Sans&quot;,Arial,sans-serif;font-size:36.0px">HEMnet Prediction</text><rect x="1345.5" y="2109.9" width="524.4" height="22.0" fill="url(#spec)"/><text x="1268.80" y="2170.60" text-anchor="start" fill="#1a1a1a" style="font-family:&quot;Liberation Sans&quot;,Arial,sans-serif;font-size:36.0px">Non-cancer</text><text x="1617.00" y="2170.60" text-anchor="middle" fill="#1a1a1a" style="font-family:&quot;Liberation Sans&quot;,Arial,sans-serif;font-size:36.0px">Uncertain</text><text x="1927.50" y="2169.00" text-anchor="end" fill="#1a1a1a" style="font-family:&quot;Liberation Sans&quot;,Arial,sans-serif;font-size:36.0px">Cancer</text><text x="31.00" y="38.50" text-anchor="start" fill="#222" style="font-family:&quot;Liberation Sans&quot;,Arial,sans-serif;font-size:36.5px;font-weight:bold">a</text><text x="1014.80" y="28.70" text-anchor="start" fill="#222" style="font-family:&quot;Liberation Sans&quot;,Arial,sans-serif;font-size:39px;font-weight:bold">b</text><text x="267.50" y="507.70" text-anchor="start" fill="#111" style="font-family:&quot;Liberation Sans&quot;,Arial,sans-serif;font-size:36.0px">p53 Test Accuracy : 68%</text><text x="1222.70" y="507.70" text-anchor="start" fill="#111" style="font-family:&quot;Liberation Sans&quot;,Arial,sans-serif;font-size:36.0px">Path. Test Accuracy : 76%</text></svg>
</body></html>
